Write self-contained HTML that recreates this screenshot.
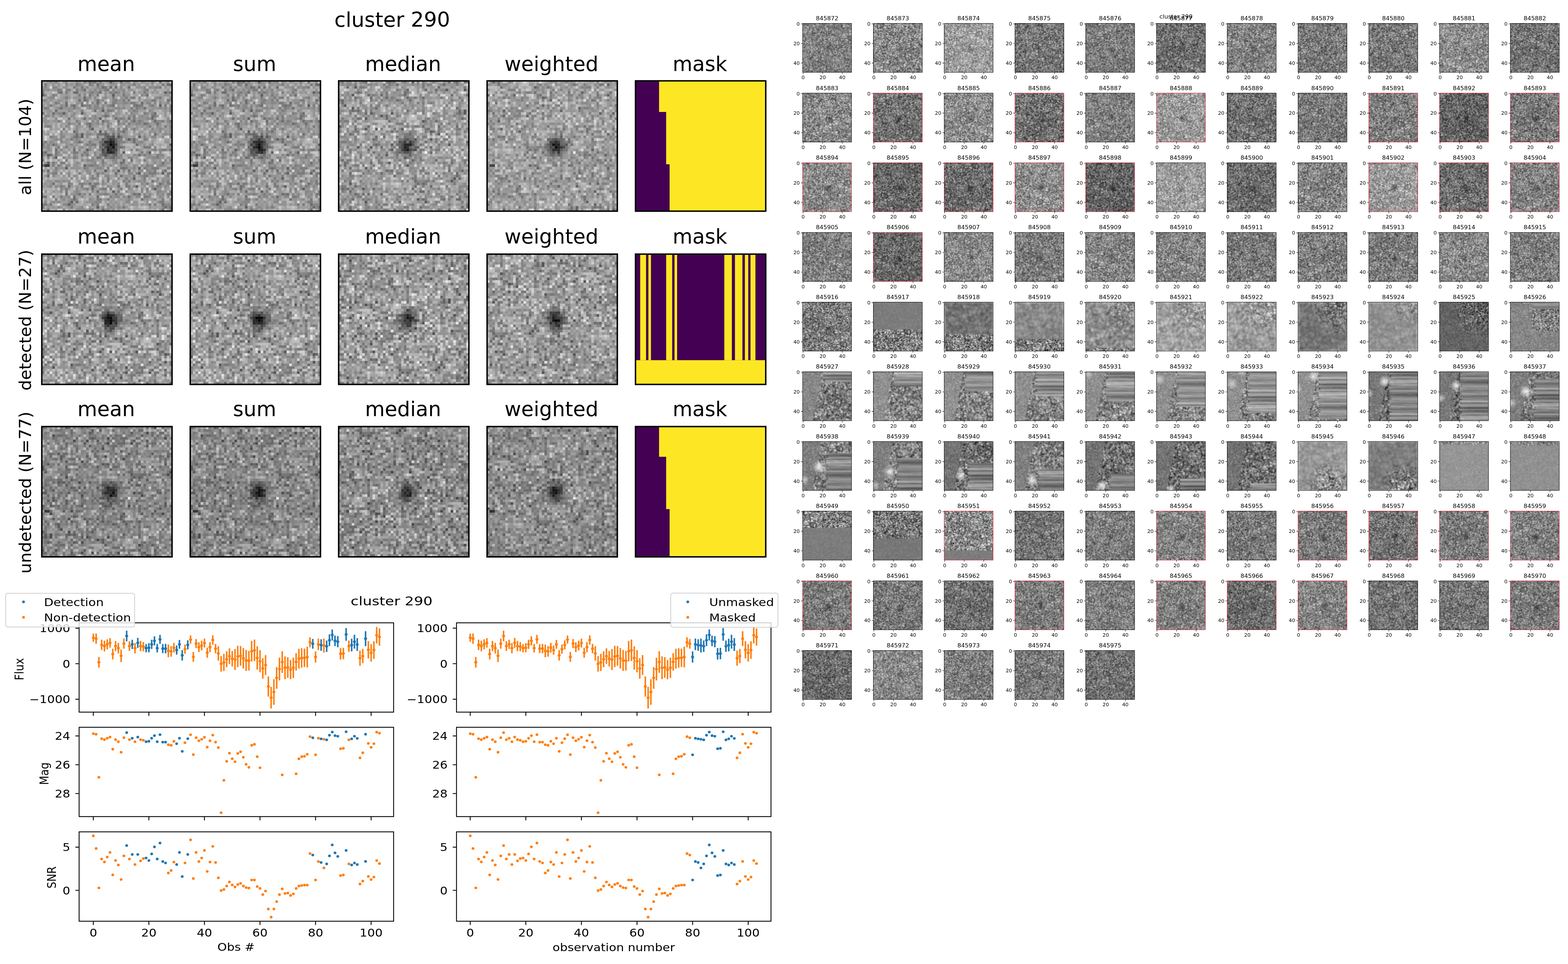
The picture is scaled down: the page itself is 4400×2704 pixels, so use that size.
<!DOCTYPE html><html><head><meta charset="utf-8"><title>cluster 290</title><style>html,body{margin:0;padding:0;background:#fff;}svg{display:block;}</style></head><body>
<svg width="4400" height="2704" viewBox="0 0 4400 2704" font-family="'DejaVu Sans','Liberation Sans',sans-serif">
<rect width="4400" height="2704" fill="#fff"/>
<defs>
<pattern id="N" width="50" height="50" patternUnits="userSpaceOnUse">
<rect width="50" height="50" fill="#898989"/>
<path fill="#0e0e0e" d="M26 0h1v1h-1zM47 4h1v1h-1zM0 5h1v1h-1zM27 5h1v1h-1zM45 9h1v1h-1zM23 11h1v1h-1zM8 12h1v1h-1zM15 12h1v1h-1zM22 14h1v1h-1zM19 18h1v1h-1zM22 19h1v1h-1zM15 20h1v1h-1zM15 21h1v1h-1zM29 21h1v1h-1zM37 21h1v1h-1zM33 22h1v1h-1zM27 23h1v1h-1zM49 24h1v1h-1zM17 26h1v1h-1zM27 27h1v1h-1zM31 27h1v1h-1zM41 27h1v1h-1zM2 28h1v1h-1zM5 29h1v1h-1zM2 31h1v1h-1zM16 32h1v1h-1zM9 33h1v1h-1zM37 33h1v1h-1zM24 34h1v1h-1zM29 34h1v1h-1zM37 35h1v1h-1zM46 35h1v1h-1zM35 37h1v1h-1zM36 40h1v1h-1zM43 41h1v1h-1zM27 42h1v1h-1zM11 46h1v1h-1zM10 47h1v1h-1zM21 48h1v1h-1z"/>
<path fill="#2c2c2c" d="M18 0h1v1h-1zM20 0h1v1h-1zM30 0h1v1h-1zM45 0h1v1h-1zM21 1h1v1h-1zM48 1h2v1h-2zM23 2h1v1h-1zM26 2h1v1h-1zM28 2h1v1h-1zM33 2h1v1h-1zM16 3h1v1h-1zM7 4h1v1h-1zM12 4h2v1h-2zM22 4h1v1h-1zM49 4h1v1h-1zM40 5h1v1h-1zM16 6h1v1h-1zM14 7h1v1h-1zM16 7h1v1h-1zM21 7h1v1h-1zM48 7h1v1h-1zM9 8h1v1h-1zM21 8h1v1h-1zM38 8h1v1h-1zM9 9h1v1h-1zM12 9h1v1h-1zM15 9h1v1h-1zM27 9h1v1h-1zM36 9h1v1h-1zM7 10h1v1h-1zM39 10h1v1h-1zM5 11h1v1h-1zM20 11h1v1h-1zM0 12h1v1h-1zM4 12h1v1h-1zM43 12h1v1h-1zM24 13h1v1h-1zM42 13h1v1h-1zM10 14h1v1h-1zM16 14h1v1h-1zM28 14h1v1h-1zM33 14h1v1h-1zM42 14h1v1h-1zM23 15h1v1h-1zM29 15h1v1h-1zM35 15h1v1h-1zM43 15h1v1h-1zM49 15h1v1h-1zM18 16h1v1h-1zM39 16h1v1h-1zM44 16h1v1h-1zM18 17h1v1h-1zM12 19h1v1h-1zM31 19h1v1h-1zM13 20h1v1h-1zM22 20h1v1h-1zM24 20h1v1h-1zM43 20h1v1h-1zM13 21h1v1h-1zM27 21h1v1h-1zM35 22h1v1h-1zM14 23h1v1h-1zM24 23h1v1h-1zM35 23h1v1h-1zM4 24h1v1h-1zM36 24h1v1h-1zM5 26h1v1h-1zM12 26h1v1h-1zM28 26h1v1h-1zM49 26h1v1h-1zM1 27h1v1h-1zM23 27h1v1h-1zM3 28h1v1h-1zM37 28h1v1h-1zM21 29h1v1h-1zM31 30h1v1h-1zM34 30h1v1h-1zM30 31h1v1h-1zM46 31h1v1h-1zM0 32h1v1h-1zM31 33h1v1h-1zM2 34h1v1h-1zM33 34h1v1h-1zM47 34h1v1h-1zM28 35h1v1h-1zM2 36h1v1h-1zM30 36h1v1h-1zM42 38h1v1h-1zM4 39h1v1h-1zM18 39h1v1h-1zM45 39h1v1h-1zM10 40h1v1h-1zM19 40h1v1h-1zM29 40h1v1h-1zM19 41h1v1h-1zM21 42h1v1h-1zM9 43h1v1h-1zM14 43h1v1h-1zM35 43h1v1h-1zM37 43h1v1h-1zM12 44h1v1h-1zM21 44h1v1h-1zM33 44h1v1h-1zM12 45h1v1h-1zM38 45h1v1h-1zM13 46h1v1h-1zM46 47h1v1h-1zM47 48h1v1h-1zM49 48h1v1h-1zM2 49h1v1h-1zM23 49h1v1h-1zM46 49h1v1h-1z"/>
<path fill="#464646" d="M5 0h1v1h-1zM16 0h1v1h-1zM19 0h1v1h-1zM22 0h1v1h-1zM42 0h1v1h-1zM1 1h1v1h-1zM13 1h1v1h-1zM18 1h1v1h-1zM35 1h1v1h-1zM46 1h1v1h-1zM12 2h1v1h-1zM15 2h1v1h-1zM24 2h1v1h-1zM45 2h1v1h-1zM6 3h1v1h-1zM10 3h1v1h-1zM13 3h1v1h-1zM24 3h2v1h-2zM40 3h1v1h-1zM0 4h1v1h-1zM6 4h1v1h-1zM9 4h1v1h-1zM19 4h1v1h-1zM26 4h1v1h-1zM28 4h1v1h-1zM35 4h1v1h-1zM39 4h1v1h-1zM4 5h1v1h-1zM14 5h1v1h-1zM18 5h1v1h-1zM21 5h1v1h-1zM31 5h1v1h-1zM9 6h1v1h-1zM27 6h1v1h-1zM32 6h1v1h-1zM34 6h2v1h-2zM45 6h1v1h-1zM17 7h1v1h-1zM28 7h1v1h-1zM31 7h1v1h-1zM33 7h1v1h-1zM42 7h2v1h-2zM5 8h1v1h-1zM15 8h1v1h-1zM24 8h1v1h-1zM27 8h1v1h-1zM34 8h2v1h-2zM3 9h1v1h-1zM11 9h1v1h-1zM16 9h1v1h-1zM18 9h1v1h-1zM26 9h1v1h-1zM35 9h1v1h-1zM37 9h2v1h-2zM42 9h1v1h-1zM47 9h1v1h-1zM49 9h1v1h-1zM1 10h1v1h-1zM12 10h1v1h-1zM23 10h1v1h-1zM34 10h1v1h-1zM36 10h1v1h-1zM49 10h1v1h-1zM15 11h1v1h-1zM25 11h2v1h-2zM35 11h1v1h-1zM49 11h1v1h-1zM39 12h1v1h-1zM25 13h1v1h-1zM35 13h1v1h-1zM43 13h1v1h-1zM30 14h1v1h-1zM35 14h1v1h-1zM6 15h1v1h-1zM13 15h1v1h-1zM37 15h1v1h-1zM46 15h1v1h-1zM10 16h1v1h-1zM14 16h1v1h-1zM17 16h1v1h-1zM29 16h1v1h-1zM33 16h1v1h-1zM40 16h1v1h-1zM2 17h1v1h-1zM25 17h1v1h-1zM41 17h1v1h-1zM47 17h1v1h-1zM49 17h1v1h-1zM8 18h1v1h-1zM29 18h1v1h-1zM32 18h1v1h-1zM35 18h1v1h-1zM24 19h1v1h-1zM21 20h1v1h-1zM23 20h1v1h-1zM27 20h1v1h-1zM29 20h1v1h-1zM49 20h1v1h-1zM3 21h1v1h-1zM12 21h1v1h-1zM21 21h1v1h-1zM30 21h1v1h-1zM49 21h1v1h-1zM11 22h1v1h-1zM23 22h1v1h-1zM39 22h1v1h-1zM1 23h1v1h-1zM18 23h1v1h-1zM25 23h1v1h-1zM0 24h1v1h-1zM17 24h1v1h-1zM19 24h2v1h-2zM23 24h1v1h-1zM6 25h1v1h-1zM9 25h1v1h-1zM39 25h3v1h-3zM23 26h1v1h-1zM36 26h1v1h-1zM43 26h1v1h-1zM46 26h2v1h-2zM0 27h1v1h-1zM5 27h1v1h-1zM12 27h2v1h-2zM16 27h1v1h-1zM33 27h1v1h-1zM38 27h1v1h-1zM0 28h1v1h-1zM5 28h1v1h-1zM15 28h1v1h-1zM17 28h1v1h-1zM23 28h2v1h-2zM39 28h1v1h-1zM44 28h1v1h-1zM2 29h1v1h-1zM8 29h1v1h-1zM12 29h1v1h-1zM22 29h1v1h-1zM27 29h1v1h-1zM44 29h1v1h-1zM0 30h1v1h-1zM9 30h1v1h-1zM23 30h1v1h-1zM39 30h1v1h-1zM49 30h1v1h-1zM4 31h1v1h-1zM7 31h2v1h-2zM23 31h1v1h-1zM31 31h1v1h-1zM4 32h1v1h-1zM6 32h1v1h-1zM18 32h2v1h-2zM40 32h1v1h-1zM5 33h1v1h-1zM16 33h1v1h-1zM25 33h1v1h-1zM30 33h1v1h-1zM32 33h1v1h-1zM39 33h1v1h-1zM42 33h3v1h-3zM48 33h1v1h-1zM20 34h1v1h-1zM43 34h1v1h-1zM4 35h2v1h-2zM14 35h1v1h-1zM21 35h1v1h-1zM36 35h1v1h-1zM41 35h3v1h-3zM48 35h2v1h-2zM21 36h1v1h-1zM35 36h1v1h-1zM39 36h2v1h-2zM48 36h1v1h-1zM19 37h1v1h-1zM25 37h1v1h-1zM32 37h1v1h-1zM39 37h1v1h-1zM25 38h1v1h-1zM31 38h1v1h-1zM33 38h1v1h-1zM48 38h1v1h-1zM10 39h1v1h-1zM15 39h1v1h-1zM20 39h2v1h-2zM32 39h1v1h-1zM40 39h1v1h-1zM48 39h1v1h-1zM7 40h1v1h-1zM15 40h1v1h-1zM20 40h1v1h-1zM32 40h2v1h-2zM44 40h1v1h-1zM9 41h1v1h-1zM17 41h1v1h-1zM23 41h2v1h-2zM26 41h1v1h-1zM30 41h1v1h-1zM40 41h1v1h-1zM9 42h1v1h-1zM29 42h1v1h-1zM49 42h1v1h-1zM18 43h1v1h-1zM24 43h1v1h-1zM28 43h1v1h-1zM36 43h1v1h-1zM48 43h2v1h-2zM0 44h2v1h-2zM4 44h1v1h-1zM7 44h1v1h-1zM26 44h1v1h-1zM39 44h2v1h-2zM5 45h1v1h-1zM21 45h2v1h-2zM25 45h1v1h-1zM46 45h1v1h-1zM45 46h2v1h-2zM0 47h2v1h-2zM3 47h1v1h-1zM19 47h1v1h-1zM21 47h1v1h-1zM25 47h1v1h-1zM41 47h1v1h-1zM43 47h1v1h-1zM0 48h1v1h-1zM11 48h1v1h-1zM31 48h1v1h-1zM8 49h1v1h-1zM18 49h2v1h-2zM49 49h1v1h-1z"/>
<path fill="#5d5d5d" d="M3 0h1v1h-1zM9 0h1v1h-1zM13 0h1v1h-1zM27 0h1v1h-1zM32 0h2v1h-2zM35 0h1v1h-1zM38 0h1v1h-1zM48 0h1v1h-1zM9 1h1v1h-1zM14 1h1v1h-1zM19 1h1v1h-1zM1 2h1v1h-1zM4 2h2v1h-2zM17 2h1v1h-1zM21 2h1v1h-1zM30 2h1v1h-1zM39 2h1v1h-1zM41 2h1v1h-1zM43 2h2v1h-2zM0 3h1v1h-1zM2 3h1v1h-1zM7 3h1v1h-1zM9 3h1v1h-1zM15 3h1v1h-1zM20 3h1v1h-1zM22 3h1v1h-1zM27 3h1v1h-1zM31 3h1v1h-1zM39 3h1v1h-1zM18 4h1v1h-1zM21 4h1v1h-1zM27 4h1v1h-1zM29 4h1v1h-1zM31 4h1v1h-1zM48 4h1v1h-1zM1 5h1v1h-1zM5 5h1v1h-1zM16 5h1v1h-1zM38 5h1v1h-1zM3 6h2v1h-2zM18 6h1v1h-1zM20 6h1v1h-1zM24 6h1v1h-1zM37 6h1v1h-1zM44 6h1v1h-1zM49 6h1v1h-1zM0 7h2v1h-2zM23 7h1v1h-1zM27 7h1v1h-1zM49 7h1v1h-1zM6 8h1v1h-1zM19 8h1v1h-1zM28 8h1v1h-1zM31 8h2v1h-2zM40 8h2v1h-2zM43 8h1v1h-1zM45 8h1v1h-1zM48 8h1v1h-1zM7 9h1v1h-1zM17 9h1v1h-1zM20 9h2v1h-2zM23 9h1v1h-1zM25 9h1v1h-1zM41 9h1v1h-1zM2 10h1v1h-1zM6 10h1v1h-1zM18 10h1v1h-1zM20 10h2v1h-2zM28 10h2v1h-2zM31 10h1v1h-1zM37 10h1v1h-1zM45 10h1v1h-1zM47 10h1v1h-1zM10 11h1v1h-1zM27 11h1v1h-1zM36 11h1v1h-1zM41 11h1v1h-1zM6 12h2v1h-2zM12 12h1v1h-1zM24 12h1v1h-1zM34 12h1v1h-1zM40 12h1v1h-1zM42 12h1v1h-1zM1 13h2v1h-2zM4 13h1v1h-1zM7 13h1v1h-1zM11 13h1v1h-1zM20 13h1v1h-1zM23 13h1v1h-1zM27 13h1v1h-1zM33 13h1v1h-1zM38 13h1v1h-1zM5 14h1v1h-1zM18 14h1v1h-1zM20 14h1v1h-1zM29 14h1v1h-1zM31 14h1v1h-1zM40 14h2v1h-2zM48 14h1v1h-1zM19 15h1v1h-1zM21 15h1v1h-1zM24 15h2v1h-2zM32 15h1v1h-1zM34 15h1v1h-1zM38 15h1v1h-1zM44 15h2v1h-2zM48 15h1v1h-1zM21 16h1v1h-1zM23 16h1v1h-1zM25 16h1v1h-1zM31 16h1v1h-1zM36 16h2v1h-2zM49 16h1v1h-1zM1 17h1v1h-1zM3 17h1v1h-1zM9 17h1v1h-1zM13 17h1v1h-1zM32 17h1v1h-1zM44 17h1v1h-1zM13 18h1v1h-1zM18 18h1v1h-1zM26 18h1v1h-1zM31 18h1v1h-1zM42 18h1v1h-1zM45 18h1v1h-1zM49 18h1v1h-1zM7 19h1v1h-1zM13 19h1v1h-1zM27 19h1v1h-1zM29 19h2v1h-2zM45 19h1v1h-1zM49 19h1v1h-1zM7 20h1v1h-1zM17 20h2v1h-2zM25 20h1v1h-1zM37 20h1v1h-1zM47 20h1v1h-1zM4 21h1v1h-1zM7 21h2v1h-2zM14 21h1v1h-1zM17 21h1v1h-1zM24 21h2v1h-2zM39 21h1v1h-1zM42 21h2v1h-2zM46 21h1v1h-1zM5 22h1v1h-1zM7 22h1v1h-1zM13 22h1v1h-1zM26 22h1v1h-1zM28 22h1v1h-1zM30 22h1v1h-1zM32 22h1v1h-1zM34 22h1v1h-1zM40 22h1v1h-1zM0 23h1v1h-1zM3 23h1v1h-1zM7 23h1v1h-1zM13 23h1v1h-1zM15 23h1v1h-1zM22 23h1v1h-1zM31 23h1v1h-1zM37 23h2v1h-2zM2 24h1v1h-1zM5 24h1v1h-1zM11 24h1v1h-1zM18 24h1v1h-1zM27 24h1v1h-1zM42 24h1v1h-1zM0 25h1v1h-1zM2 25h1v1h-1zM12 25h1v1h-1zM15 25h1v1h-1zM18 25h1v1h-1zM22 25h1v1h-1zM30 25h2v1h-2zM43 25h1v1h-1zM2 26h1v1h-1zM7 26h1v1h-1zM14 26h1v1h-1zM18 26h1v1h-1zM34 26h1v1h-1zM42 26h1v1h-1zM45 26h1v1h-1zM6 27h1v1h-1zM17 27h1v1h-1zM20 27h1v1h-1zM26 27h1v1h-1zM40 27h1v1h-1zM45 27h1v1h-1zM12 28h1v1h-1zM20 28h1v1h-1zM22 28h1v1h-1zM28 28h1v1h-1zM35 28h1v1h-1zM41 28h1v1h-1zM45 28h2v1h-2zM4 29h1v1h-1zM13 29h1v1h-1zM19 29h1v1h-1zM24 29h1v1h-1zM29 29h1v1h-1zM33 29h2v1h-2zM42 29h2v1h-2zM15 30h1v1h-1zM17 30h3v1h-3zM47 30h1v1h-1zM13 31h1v1h-1zM20 31h1v1h-1zM28 31h1v1h-1zM43 31h1v1h-1zM9 32h2v1h-2zM17 32h1v1h-1zM20 32h2v1h-2zM23 32h1v1h-1zM26 32h1v1h-1zM30 32h1v1h-1zM32 32h1v1h-1zM35 32h1v1h-1zM38 32h1v1h-1zM41 32h2v1h-2zM45 32h2v1h-2zM17 33h1v1h-1zM21 33h2v1h-2zM35 33h1v1h-1zM40 33h1v1h-1zM49 33h1v1h-1zM0 34h1v1h-1zM5 34h1v1h-1zM17 34h1v1h-1zM27 34h1v1h-1zM31 34h1v1h-1zM37 34h2v1h-2zM40 34h2v1h-2zM46 34h1v1h-1zM2 35h1v1h-1zM7 35h1v1h-1zM10 35h1v1h-1zM18 35h1v1h-1zM23 35h1v1h-1zM33 35h2v1h-2zM39 35h1v1h-1zM4 36h1v1h-1zM10 36h1v1h-1zM12 36h1v1h-1zM19 36h1v1h-1zM24 36h2v1h-2zM28 36h1v1h-1zM38 36h1v1h-1zM42 36h1v1h-1zM11 37h1v1h-1zM20 37h1v1h-1zM29 37h1v1h-1zM44 37h1v1h-1zM5 38h2v1h-2zM8 38h1v1h-1zM10 38h1v1h-1zM23 38h1v1h-1zM37 38h1v1h-1zM39 38h1v1h-1zM46 38h1v1h-1zM11 39h1v1h-1zM14 39h1v1h-1zM16 39h1v1h-1zM23 39h1v1h-1zM29 39h1v1h-1zM38 39h1v1h-1zM46 39h1v1h-1zM49 39h1v1h-1zM3 40h1v1h-1zM5 40h1v1h-1zM8 40h1v1h-1zM25 40h1v1h-1zM35 40h1v1h-1zM42 40h1v1h-1zM45 40h1v1h-1zM47 40h1v1h-1zM7 41h1v1h-1zM13 41h1v1h-1zM16 41h1v1h-1zM22 41h1v1h-1zM33 41h1v1h-1zM38 41h1v1h-1zM42 41h1v1h-1zM7 42h1v1h-1zM13 42h1v1h-1zM19 42h1v1h-1zM32 42h1v1h-1zM38 42h1v1h-1zM40 42h1v1h-1zM44 42h2v1h-2zM13 43h1v1h-1zM16 43h1v1h-1zM22 43h2v1h-2zM25 43h1v1h-1zM30 43h1v1h-1zM39 43h1v1h-1zM41 43h1v1h-1zM44 43h1v1h-1zM46 43h1v1h-1zM10 44h1v1h-1zM15 44h1v1h-1zM28 44h2v1h-2zM31 44h1v1h-1zM36 44h2v1h-2zM41 44h1v1h-1zM45 44h1v1h-1zM48 44h1v1h-1zM8 45h1v1h-1zM11 45h1v1h-1zM13 45h1v1h-1zM18 45h1v1h-1zM33 45h1v1h-1zM43 45h1v1h-1zM49 45h1v1h-1zM1 46h1v1h-1zM4 46h1v1h-1zM6 46h1v1h-1zM10 46h1v1h-1zM20 46h3v1h-3zM32 46h2v1h-2zM8 47h2v1h-2zM11 47h1v1h-1zM47 47h3v1h-3zM6 48h1v1h-1zM15 48h1v1h-1zM23 48h1v1h-1zM26 48h1v1h-1zM29 48h1v1h-1zM46 48h1v1h-1zM48 48h1v1h-1zM13 49h4v1h-4zM24 49h2v1h-2zM27 49h1v1h-1z"/>
<path fill="#737373" d="M2 0h1v1h-1zM4 0h1v1h-1zM8 0h1v1h-1zM14 0h1v1h-1zM17 0h1v1h-1zM21 0h1v1h-1zM25 0h1v1h-1zM28 0h1v1h-1zM31 0h1v1h-1zM36 0h1v1h-1zM39 0h1v1h-1zM4 1h1v1h-1zM6 1h1v1h-1zM11 1h1v1h-1zM15 1h1v1h-1zM22 1h2v1h-2zM26 1h3v1h-3zM30 1h2v1h-2zM33 1h2v1h-2zM37 1h1v1h-1zM40 1h1v1h-1zM42 1h1v1h-1zM0 2h1v1h-1zM8 2h2v1h-2zM13 2h1v1h-1zM22 2h1v1h-1zM36 2h3v1h-3zM42 2h1v1h-1zM47 2h1v1h-1zM1 3h1v1h-1zM4 3h2v1h-2zM14 3h1v1h-1zM18 3h1v1h-1zM23 3h1v1h-1zM29 3h2v1h-2zM33 3h2v1h-2zM43 3h1v1h-1zM48 3h1v1h-1zM16 4h1v1h-1zM20 4h1v1h-1zM24 4h1v1h-1zM37 4h1v1h-1zM40 4h1v1h-1zM42 4h1v1h-1zM44 4h1v1h-1zM9 5h1v1h-1zM19 5h1v1h-1zM24 5h1v1h-1zM29 5h1v1h-1zM32 5h2v1h-2zM39 5h1v1h-1zM47 5h2v1h-2zM2 6h1v1h-1zM8 6h1v1h-1zM10 6h1v1h-1zM12 6h3v1h-3zM17 6h1v1h-1zM23 6h1v1h-1zM30 6h2v1h-2zM43 6h1v1h-1zM3 7h1v1h-1zM6 7h2v1h-2zM9 7h1v1h-1zM20 7h1v1h-1zM22 7h1v1h-1zM29 7h2v1h-2zM37 7h1v1h-1zM39 7h3v1h-3zM45 7h1v1h-1zM2 8h1v1h-1zM13 8h2v1h-2zM17 8h1v1h-1zM22 8h1v1h-1zM29 8h2v1h-2zM33 8h1v1h-1zM36 8h1v1h-1zM47 8h1v1h-1zM0 9h1v1h-1zM2 9h1v1h-1zM4 9h1v1h-1zM8 9h1v1h-1zM13 9h1v1h-1zM29 9h1v1h-1zM31 9h1v1h-1zM43 9h1v1h-1zM0 10h1v1h-1zM5 10h1v1h-1zM8 10h4v1h-4zM13 10h2v1h-2zM17 10h1v1h-1zM19 10h1v1h-1zM22 10h1v1h-1zM25 10h1v1h-1zM27 10h1v1h-1zM30 10h1v1h-1zM38 10h1v1h-1zM42 10h3v1h-3zM46 10h1v1h-1zM2 11h2v1h-2zM11 11h1v1h-1zM22 11h1v1h-1zM29 11h1v1h-1zM33 11h2v1h-2zM42 11h1v1h-1zM47 11h1v1h-1zM2 12h1v1h-1zM5 12h1v1h-1zM9 12h1v1h-1zM16 12h1v1h-1zM25 12h1v1h-1zM28 12h2v1h-2zM32 12h1v1h-1zM35 12h2v1h-2zM47 12h1v1h-1zM49 12h1v1h-1zM9 13h1v1h-1zM12 13h1v1h-1zM19 13h1v1h-1zM28 13h1v1h-1zM31 13h1v1h-1zM34 13h1v1h-1zM37 13h1v1h-1zM39 13h2v1h-2zM44 13h1v1h-1zM47 13h1v1h-1zM0 14h2v1h-2zM12 14h1v1h-1zM15 14h1v1h-1zM19 14h1v1h-1zM21 14h1v1h-1zM37 14h3v1h-3zM43 14h1v1h-1zM0 15h3v1h-3zM4 15h2v1h-2zM7 15h1v1h-1zM9 15h2v1h-2zM14 15h1v1h-1zM31 15h1v1h-1zM36 15h1v1h-1zM42 15h1v1h-1zM1 16h1v1h-1zM11 16h2v1h-2zM19 16h2v1h-2zM26 16h1v1h-1zM30 16h1v1h-1zM34 16h2v1h-2zM38 16h1v1h-1zM41 16h1v1h-1zM43 16h1v1h-1zM45 16h1v1h-1zM48 16h1v1h-1zM7 17h1v1h-1zM10 17h1v1h-1zM14 17h1v1h-1zM17 17h1v1h-1zM19 17h1v1h-1zM33 17h1v1h-1zM36 17h1v1h-1zM38 17h1v1h-1zM40 17h1v1h-1zM45 17h1v1h-1zM3 18h1v1h-1zM10 18h1v1h-1zM25 18h1v1h-1zM27 18h1v1h-1zM34 18h1v1h-1zM36 18h1v1h-1zM39 18h1v1h-1zM44 18h1v1h-1zM46 18h1v1h-1zM0 19h1v1h-1zM9 19h1v1h-1zM17 19h1v1h-1zM20 19h1v1h-1zM26 19h1v1h-1zM32 19h1v1h-1zM35 19h1v1h-1zM38 19h1v1h-1zM41 19h3v1h-3zM47 19h1v1h-1zM2 20h1v1h-1zM8 20h1v1h-1zM12 20h1v1h-1zM14 20h1v1h-1zM19 20h1v1h-1zM31 20h2v1h-2zM39 20h1v1h-1zM41 20h1v1h-1zM44 20h1v1h-1zM46 20h1v1h-1zM48 20h1v1h-1zM5 21h1v1h-1zM11 21h1v1h-1zM26 21h1v1h-1zM31 21h2v1h-2zM35 21h1v1h-1zM4 22h1v1h-1zM6 22h1v1h-1zM9 22h2v1h-2zM12 22h1v1h-1zM14 22h1v1h-1zM20 22h2v1h-2zM27 22h1v1h-1zM36 22h1v1h-1zM4 23h1v1h-1zM8 23h2v1h-2zM12 23h1v1h-1zM19 23h1v1h-1zM23 23h1v1h-1zM28 23h1v1h-1zM30 23h1v1h-1zM32 23h1v1h-1zM34 23h1v1h-1zM36 23h1v1h-1zM42 23h1v1h-1zM47 23h2v1h-2zM3 24h1v1h-1zM9 24h2v1h-2zM13 24h1v1h-1zM16 24h1v1h-1zM26 24h1v1h-1zM28 24h1v1h-1zM37 24h1v1h-1zM39 24h1v1h-1zM41 24h1v1h-1zM1 25h1v1h-1zM5 25h1v1h-1zM8 25h1v1h-1zM14 25h1v1h-1zM20 25h1v1h-1zM24 25h2v1h-2zM48 25h2v1h-2zM3 26h1v1h-1zM10 26h1v1h-1zM27 26h1v1h-1zM37 26h1v1h-1zM48 26h1v1h-1zM8 27h2v1h-2zM11 27h1v1h-1zM24 27h1v1h-1zM28 27h1v1h-1zM1 28h1v1h-1zM6 28h2v1h-2zM10 28h1v1h-1zM13 28h1v1h-1zM16 28h1v1h-1zM30 28h1v1h-1zM36 28h1v1h-1zM38 28h1v1h-1zM40 28h1v1h-1zM0 29h1v1h-1zM10 29h1v1h-1zM26 29h1v1h-1zM28 29h1v1h-1zM30 29h1v1h-1zM36 29h1v1h-1zM40 29h2v1h-2zM45 29h2v1h-2zM48 29h2v1h-2zM6 30h1v1h-1zM20 30h1v1h-1zM27 30h2v1h-2zM37 30h1v1h-1zM42 30h2v1h-2zM45 30h1v1h-1zM1 31h1v1h-1zM5 31h1v1h-1zM14 31h1v1h-1zM19 31h1v1h-1zM24 31h1v1h-1zM27 31h1v1h-1zM33 31h1v1h-1zM40 31h1v1h-1zM45 31h1v1h-1zM47 31h3v1h-3zM1 32h2v1h-2zM7 32h1v1h-1zM12 32h2v1h-2zM31 32h1v1h-1zM36 32h1v1h-1zM44 32h1v1h-1zM47 32h1v1h-1zM6 33h3v1h-3zM11 33h4v1h-4zM20 33h1v1h-1zM23 33h1v1h-1zM28 33h1v1h-1zM33 33h2v1h-2zM41 33h1v1h-1zM4 34h1v1h-1zM13 34h1v1h-1zM18 34h1v1h-1zM25 34h1v1h-1zM35 34h1v1h-1zM42 34h1v1h-1zM3 35h1v1h-1zM17 35h1v1h-1zM22 35h1v1h-1zM40 35h1v1h-1zM44 35h1v1h-1zM1 36h1v1h-1zM8 36h1v1h-1zM13 36h1v1h-1zM31 36h3v1h-3zM37 36h1v1h-1zM47 36h1v1h-1zM13 37h1v1h-1zM15 37h2v1h-2zM18 37h1v1h-1zM21 37h1v1h-1zM34 37h1v1h-1zM38 37h1v1h-1zM46 37h3v1h-3zM2 38h2v1h-2zM7 38h1v1h-1zM9 38h1v1h-1zM14 38h1v1h-1zM17 38h1v1h-1zM27 38h2v1h-2zM32 38h1v1h-1zM35 38h2v1h-2zM38 38h1v1h-1zM43 38h2v1h-2zM47 38h1v1h-1zM1 39h1v1h-1zM3 39h1v1h-1zM7 39h1v1h-1zM17 39h1v1h-1zM24 39h1v1h-1zM27 39h1v1h-1zM39 39h1v1h-1zM0 40h1v1h-1zM2 40h1v1h-1zM6 40h1v1h-1zM11 40h1v1h-1zM13 40h1v1h-1zM26 40h1v1h-1zM39 40h1v1h-1zM48 40h1v1h-1zM8 41h1v1h-1zM10 41h1v1h-1zM15 41h1v1h-1zM29 41h1v1h-1zM34 41h1v1h-1zM44 41h2v1h-2zM47 41h1v1h-1zM1 42h1v1h-1zM4 42h1v1h-1zM12 42h1v1h-1zM14 42h1v1h-1zM24 42h1v1h-1zM34 42h1v1h-1zM46 42h2v1h-2zM11 43h2v1h-2zM15 43h1v1h-1zM21 43h1v1h-1zM27 43h1v1h-1zM29 43h1v1h-1zM34 43h1v1h-1zM45 43h1v1h-1zM8 44h2v1h-2zM27 44h1v1h-1zM32 44h1v1h-1zM34 44h1v1h-1zM46 44h1v1h-1zM7 45h1v1h-1zM10 45h1v1h-1zM19 45h1v1h-1zM24 45h1v1h-1zM27 45h1v1h-1zM30 45h1v1h-1zM32 45h1v1h-1zM34 45h1v1h-1zM39 45h2v1h-2zM42 45h1v1h-1zM3 46h1v1h-1zM5 46h1v1h-1zM17 46h3v1h-3zM26 46h1v1h-1zM28 46h1v1h-1zM35 46h2v1h-2zM40 46h1v1h-1zM44 46h1v1h-1zM49 46h1v1h-1zM2 47h1v1h-1zM12 47h1v1h-1zM20 47h1v1h-1zM27 47h1v1h-1zM29 47h1v1h-1zM31 47h1v1h-1zM34 47h3v1h-3zM38 47h1v1h-1zM40 47h1v1h-1zM2 48h1v1h-1zM4 48h1v1h-1zM7 48h1v1h-1zM10 48h1v1h-1zM14 48h1v1h-1zM18 48h1v1h-1zM25 48h1v1h-1zM27 48h1v1h-1zM30 48h1v1h-1zM32 48h1v1h-1zM41 48h1v1h-1zM17 49h1v1h-1zM21 49h1v1h-1zM29 49h1v1h-1zM33 49h1v1h-1zM45 49h1v1h-1z"/>
<path fill="#a0a0a0" d="M10 0h1v1h-1zM15 0h1v1h-1zM37 0h1v1h-1zM46 0h1v1h-1zM0 1h1v1h-1zM3 1h1v1h-1zM5 1h1v1h-1zM7 1h1v1h-1zM16 1h1v1h-1zM20 1h1v1h-1zM25 1h1v1h-1zM39 1h1v1h-1zM41 1h1v1h-1zM45 1h1v1h-1zM7 2h1v1h-1zM10 2h2v1h-2zM18 2h1v1h-1zM27 2h1v1h-1zM29 2h1v1h-1zM31 2h1v1h-1zM48 2h1v1h-1zM17 3h1v1h-1zM32 3h1v1h-1zM37 3h1v1h-1zM41 3h2v1h-2zM44 3h4v1h-4zM1 4h3v1h-3zM8 4h1v1h-1zM11 4h1v1h-1zM23 4h1v1h-1zM36 4h1v1h-1zM41 4h1v1h-1zM11 5h2v1h-2zM15 5h1v1h-1zM25 5h1v1h-1zM42 5h3v1h-3zM1 6h1v1h-1zM6 6h1v1h-1zM11 6h1v1h-1zM19 6h1v1h-1zM21 6h1v1h-1zM41 6h1v1h-1zM48 6h1v1h-1zM10 7h1v1h-1zM12 7h1v1h-1zM18 7h2v1h-2zM24 7h1v1h-1zM38 7h1v1h-1zM44 7h1v1h-1zM7 8h1v1h-1zM11 8h1v1h-1zM37 8h1v1h-1zM42 8h1v1h-1zM49 8h1v1h-1zM1 9h1v1h-1zM6 9h1v1h-1zM10 9h1v1h-1zM22 9h1v1h-1zM39 9h2v1h-2zM46 9h1v1h-1zM4 10h1v1h-1zM24 10h1v1h-1zM4 11h1v1h-1zM12 11h1v1h-1zM16 11h1v1h-1zM21 11h1v1h-1zM43 11h2v1h-2zM1 12h1v1h-1zM10 12h1v1h-1zM14 12h1v1h-1zM17 12h2v1h-2zM23 12h1v1h-1zM26 12h1v1h-1zM37 12h1v1h-1zM45 12h2v1h-2zM5 13h1v1h-1zM10 13h1v1h-1zM26 13h1v1h-1zM30 13h1v1h-1zM32 13h1v1h-1zM41 13h1v1h-1zM46 13h1v1h-1zM48 13h1v1h-1zM3 14h2v1h-2zM8 14h2v1h-2zM11 14h1v1h-1zM14 14h1v1h-1zM47 14h1v1h-1zM11 15h2v1h-2zM15 15h1v1h-1zM26 15h2v1h-2zM30 15h1v1h-1zM33 15h1v1h-1zM0 16h1v1h-1zM4 16h1v1h-1zM24 16h1v1h-1zM32 16h1v1h-1zM46 16h2v1h-2zM0 17h1v1h-1zM8 17h1v1h-1zM12 17h1v1h-1zM24 17h1v1h-1zM26 17h1v1h-1zM28 17h1v1h-1zM35 17h1v1h-1zM43 17h1v1h-1zM46 17h1v1h-1zM4 18h1v1h-1zM15 18h1v1h-1zM17 18h1v1h-1zM20 18h2v1h-2zM37 18h1v1h-1zM41 18h1v1h-1zM3 19h1v1h-1zM5 19h1v1h-1zM8 19h1v1h-1zM14 19h3v1h-3zM19 19h1v1h-1zM23 19h1v1h-1zM25 19h1v1h-1zM33 19h1v1h-1zM39 19h1v1h-1zM6 20h1v1h-1zM28 20h1v1h-1zM33 20h1v1h-1zM38 20h1v1h-1zM40 20h1v1h-1zM45 20h1v1h-1zM9 21h2v1h-2zM16 21h1v1h-1zM18 21h1v1h-1zM22 21h1v1h-1zM44 21h1v1h-1zM2 22h1v1h-1zM8 22h1v1h-1zM17 22h1v1h-1zM22 22h1v1h-1zM38 22h1v1h-1zM49 22h1v1h-1zM16 23h1v1h-1zM21 23h1v1h-1zM40 23h2v1h-2zM43 23h1v1h-1zM49 23h1v1h-1zM7 24h1v1h-1zM14 24h1v1h-1zM24 24h1v1h-1zM30 24h1v1h-1zM35 24h1v1h-1zM40 24h1v1h-1zM44 24h1v1h-1zM46 24h1v1h-1zM13 25h1v1h-1zM17 25h1v1h-1zM26 25h2v1h-2zM32 25h2v1h-2zM45 25h1v1h-1zM9 26h1v1h-1zM11 26h1v1h-1zM15 26h1v1h-1zM29 26h1v1h-1zM31 26h1v1h-1zM33 26h1v1h-1zM39 26h1v1h-1zM7 27h1v1h-1zM18 27h2v1h-2zM21 27h2v1h-2zM29 27h1v1h-1zM34 27h1v1h-1zM39 27h1v1h-1zM43 27h1v1h-1zM14 28h1v1h-1zM27 28h1v1h-1zM29 28h1v1h-1zM31 28h1v1h-1zM34 28h1v1h-1zM47 28h1v1h-1zM49 28h1v1h-1zM14 29h1v1h-1zM25 29h1v1h-1zM31 29h2v1h-2zM39 29h1v1h-1zM47 29h1v1h-1zM2 30h1v1h-1zM4 30h1v1h-1zM7 30h1v1h-1zM13 30h1v1h-1zM26 30h1v1h-1zM29 30h1v1h-1zM32 30h1v1h-1zM48 30h1v1h-1zM0 31h1v1h-1zM16 31h1v1h-1zM25 31h2v1h-2zM32 31h1v1h-1zM36 31h1v1h-1zM39 31h1v1h-1zM41 31h1v1h-1zM5 32h1v1h-1zM34 32h1v1h-1zM48 32h1v1h-1zM4 33h1v1h-1zM10 33h1v1h-1zM27 33h1v1h-1zM29 33h1v1h-1zM38 33h1v1h-1zM46 33h2v1h-2zM19 34h1v1h-1zM21 34h1v1h-1zM26 34h1v1h-1zM30 34h1v1h-1zM32 34h1v1h-1zM34 34h1v1h-1zM36 34h1v1h-1zM0 35h1v1h-1zM11 35h1v1h-1zM13 35h1v1h-1zM27 35h1v1h-1zM30 35h1v1h-1zM35 35h1v1h-1zM47 35h1v1h-1zM0 36h1v1h-1zM20 36h1v1h-1zM29 36h1v1h-1zM36 36h1v1h-1zM4 37h3v1h-3zM24 37h1v1h-1zM27 37h1v1h-1zM30 37h1v1h-1zM36 37h2v1h-2zM45 37h1v1h-1zM24 38h1v1h-1zM29 38h1v1h-1zM40 38h1v1h-1zM45 38h1v1h-1zM49 38h1v1h-1zM5 39h1v1h-1zM22 39h1v1h-1zM25 39h2v1h-2zM31 39h1v1h-1zM34 39h2v1h-2zM4 40h1v1h-1zM9 40h1v1h-1zM12 40h1v1h-1zM21 40h1v1h-1zM30 40h1v1h-1zM37 40h1v1h-1zM0 41h4v1h-4zM11 41h1v1h-1zM28 41h1v1h-1zM39 41h1v1h-1zM49 41h1v1h-1zM3 42h1v1h-1zM11 42h1v1h-1zM15 42h2v1h-2zM22 42h1v1h-1zM26 42h1v1h-1zM36 42h1v1h-1zM43 42h1v1h-1zM1 43h2v1h-2zM5 43h3v1h-3zM17 43h1v1h-1zM33 43h1v1h-1zM38 43h1v1h-1zM47 43h1v1h-1zM2 44h1v1h-1zM5 44h1v1h-1zM17 44h1v1h-1zM20 44h1v1h-1zM30 44h1v1h-1zM2 45h2v1h-2zM16 45h1v1h-1zM35 45h2v1h-2zM44 45h1v1h-1zM0 46h1v1h-1zM25 46h1v1h-1zM30 46h1v1h-1zM39 46h1v1h-1zM43 46h1v1h-1zM4 47h1v1h-1zM7 47h1v1h-1zM13 47h3v1h-3zM17 47h1v1h-1zM24 47h1v1h-1zM30 47h1v1h-1zM32 47h1v1h-1zM37 47h1v1h-1zM42 47h1v1h-1zM44 47h1v1h-1zM1 48h1v1h-1zM8 48h1v1h-1zM16 48h1v1h-1zM33 48h1v1h-1zM35 48h1v1h-1zM3 49h2v1h-2zM12 49h1v1h-1zM20 49h1v1h-1zM28 49h1v1h-1zM32 49h1v1h-1zM38 49h1v1h-1zM40 49h1v1h-1zM42 49h1v1h-1z"/>
<path fill="#b8b8b8" d="M7 0h1v1h-1zM34 0h1v1h-1zM44 0h1v1h-1zM8 1h1v1h-1zM17 1h1v1h-1zM24 1h1v1h-1zM38 1h1v1h-1zM43 1h1v1h-1zM34 2h2v1h-2zM40 2h1v1h-1zM46 2h1v1h-1zM12 3h1v1h-1zM26 3h1v1h-1zM36 3h1v1h-1zM49 3h1v1h-1zM5 4h1v1h-1zM45 4h1v1h-1zM2 5h1v1h-1zM6 5h1v1h-1zM17 5h1v1h-1zM23 5h1v1h-1zM34 5h1v1h-1zM0 6h1v1h-1zM36 6h1v1h-1zM38 6h1v1h-1zM47 6h1v1h-1zM34 7h3v1h-3zM47 7h1v1h-1zM3 8h1v1h-1zM10 8h1v1h-1zM12 8h1v1h-1zM23 8h1v1h-1zM25 8h1v1h-1zM44 8h1v1h-1zM14 9h1v1h-1zM44 9h1v1h-1zM48 9h1v1h-1zM3 10h1v1h-1zM15 10h1v1h-1zM17 11h2v1h-2zM28 11h1v1h-1zM40 11h1v1h-1zM45 11h1v1h-1zM20 12h1v1h-1zM31 12h1v1h-1zM33 12h1v1h-1zM38 12h1v1h-1zM44 12h1v1h-1zM48 12h1v1h-1zM0 13h1v1h-1zM13 13h1v1h-1zM36 13h1v1h-1zM2 14h1v1h-1zM23 14h1v1h-1zM25 14h1v1h-1zM46 14h1v1h-1zM49 14h1v1h-1zM22 15h1v1h-1zM28 15h1v1h-1zM6 16h1v1h-1zM27 16h1v1h-1zM4 17h1v1h-1zM6 17h1v1h-1zM16 17h1v1h-1zM22 17h1v1h-1zM0 18h1v1h-1zM9 18h1v1h-1zM11 18h1v1h-1zM24 18h1v1h-1zM28 18h1v1h-1zM30 18h1v1h-1zM33 18h1v1h-1zM38 18h1v1h-1zM1 19h1v1h-1zM4 19h1v1h-1zM21 19h1v1h-1zM34 19h1v1h-1zM36 19h1v1h-1zM40 19h1v1h-1zM46 19h1v1h-1zM2 21h1v1h-1zM6 21h1v1h-1zM20 21h1v1h-1zM23 21h1v1h-1zM28 21h1v1h-1zM36 21h1v1h-1zM15 22h1v1h-1zM24 22h1v1h-1zM31 22h1v1h-1zM37 22h1v1h-1zM44 22h1v1h-1zM46 22h1v1h-1zM11 23h1v1h-1zM44 23h3v1h-3zM8 24h1v1h-1zM21 24h1v1h-1zM25 24h1v1h-1zM31 24h4v1h-4zM43 24h1v1h-1zM47 24h1v1h-1zM4 25h1v1h-1zM23 25h1v1h-1zM28 25h1v1h-1zM34 25h1v1h-1zM36 25h2v1h-2zM44 25h1v1h-1zM47 25h1v1h-1zM13 26h1v1h-1zM24 26h1v1h-1zM32 26h1v1h-1zM35 26h1v1h-1zM35 27h2v1h-2zM46 27h1v1h-1zM9 28h1v1h-1zM11 28h1v1h-1zM25 28h1v1h-1zM1 29h1v1h-1zM3 29h1v1h-1zM16 29h1v1h-1zM23 29h1v1h-1zM37 29h1v1h-1zM5 30h1v1h-1zM10 30h1v1h-1zM14 30h1v1h-1zM25 30h1v1h-1zM35 30h1v1h-1zM38 30h1v1h-1zM41 30h1v1h-1zM9 31h1v1h-1zM15 31h1v1h-1zM35 31h1v1h-1zM8 32h1v1h-1zM11 32h1v1h-1zM15 32h1v1h-1zM37 32h1v1h-1zM2 33h1v1h-1zM24 33h1v1h-1zM3 34h1v1h-1zM7 34h1v1h-1zM9 34h1v1h-1zM11 34h2v1h-2zM14 34h1v1h-1zM44 34h1v1h-1zM48 34h2v1h-2zM1 35h1v1h-1zM6 35h1v1h-1zM16 35h1v1h-1zM19 35h1v1h-1zM26 35h1v1h-1zM32 35h1v1h-1zM38 35h1v1h-1zM7 36h1v1h-1zM9 36h1v1h-1zM11 36h1v1h-1zM22 36h2v1h-2zM44 36h2v1h-2zM49 36h1v1h-1zM1 37h1v1h-1zM3 37h1v1h-1zM10 37h1v1h-1zM14 37h1v1h-1zM40 37h1v1h-1zM42 37h2v1h-2zM0 38h1v1h-1zM12 38h1v1h-1zM20 38h1v1h-1zM30 38h1v1h-1zM41 38h1v1h-1zM8 39h2v1h-2zM13 39h1v1h-1zM37 39h1v1h-1zM16 40h2v1h-2zM24 40h1v1h-1zM31 40h1v1h-1zM4 41h1v1h-1zM12 41h1v1h-1zM31 41h1v1h-1zM35 41h1v1h-1zM2 42h1v1h-1zM8 42h1v1h-1zM10 42h1v1h-1zM18 42h1v1h-1zM25 42h1v1h-1zM30 42h1v1h-1zM37 42h1v1h-1zM42 42h1v1h-1zM48 42h1v1h-1zM4 43h1v1h-1zM10 43h1v1h-1zM19 43h1v1h-1zM43 43h1v1h-1zM22 44h1v1h-1zM24 44h2v1h-2zM42 44h1v1h-1zM47 44h1v1h-1zM49 44h1v1h-1zM0 45h1v1h-1zM6 45h1v1h-1zM14 45h1v1h-1zM17 45h1v1h-1zM28 45h1v1h-1zM37 45h1v1h-1zM47 45h2v1h-2zM2 46h1v1h-1zM15 46h1v1h-1zM23 46h1v1h-1zM37 46h2v1h-2zM5 47h1v1h-1zM18 47h1v1h-1zM23 47h1v1h-1zM24 48h1v1h-1zM37 48h2v1h-2zM40 48h1v1h-1zM9 49h1v1h-1zM34 49h1v1h-1zM39 49h1v1h-1zM44 49h1v1h-1zM47 49h1v1h-1z"/>
<path fill="#d2d2d2" d="M49 0h1v1h-1zM29 1h1v1h-1zM8 3h1v1h-1zM4 4h1v1h-1zM34 4h1v1h-1zM22 5h1v1h-1zM37 5h1v1h-1zM41 5h1v1h-1zM5 6h1v1h-1zM22 6h1v1h-1zM29 6h1v1h-1zM39 6h1v1h-1zM42 6h1v1h-1zM11 7h1v1h-1zM18 8h1v1h-1zM28 9h1v1h-1zM34 9h1v1h-1zM16 10h1v1h-1zM31 11h2v1h-2zM19 12h1v1h-1zM27 12h1v1h-1zM15 13h1v1h-1zM18 13h1v1h-1zM49 13h1v1h-1zM6 14h2v1h-2zM26 14h1v1h-1zM44 14h2v1h-2zM18 15h1v1h-1zM41 15h1v1h-1zM15 16h1v1h-1zM27 17h1v1h-1zM31 17h1v1h-1zM2 18h1v1h-1zM7 18h1v1h-1zM10 19h2v1h-2zM3 20h1v1h-1zM5 20h1v1h-1zM26 20h1v1h-1zM34 20h1v1h-1zM42 20h1v1h-1zM19 21h1v1h-1zM47 21h1v1h-1zM41 22h1v1h-1zM26 23h1v1h-1zM15 24h1v1h-1zM7 25h1v1h-1zM42 25h1v1h-1zM46 25h1v1h-1zM4 26h1v1h-1zM20 26h1v1h-1zM25 26h1v1h-1zM4 27h1v1h-1zM10 27h1v1h-1zM30 27h1v1h-1zM44 27h1v1h-1zM47 27h2v1h-2zM8 28h1v1h-1zM19 28h1v1h-1zM48 28h1v1h-1zM7 29h1v1h-1zM1 30h1v1h-1zM3 30h1v1h-1zM11 30h1v1h-1zM24 30h1v1h-1zM46 30h1v1h-1zM6 31h1v1h-1zM11 31h1v1h-1zM21 31h1v1h-1zM28 32h1v1h-1zM0 33h1v1h-1zM26 33h1v1h-1zM45 34h1v1h-1zM12 35h1v1h-1zM3 36h1v1h-1zM14 36h1v1h-1zM46 36h1v1h-1zM12 37h1v1h-1zM17 37h1v1h-1zM28 37h1v1h-1zM11 38h1v1h-1zM22 38h1v1h-1zM26 38h1v1h-1zM12 39h1v1h-1zM30 39h1v1h-1zM36 39h1v1h-1zM22 40h1v1h-1zM40 40h1v1h-1zM49 40h1v1h-1zM6 41h1v1h-1zM25 41h1v1h-1zM27 41h1v1h-1zM32 41h1v1h-1zM37 41h1v1h-1zM41 41h1v1h-1zM46 41h1v1h-1zM0 42h1v1h-1zM39 42h1v1h-1zM8 43h1v1h-1zM32 43h1v1h-1zM11 44h1v1h-1zM38 44h1v1h-1zM43 44h1v1h-1zM4 45h1v1h-1zM15 45h1v1h-1zM34 46h1v1h-1zM22 47h1v1h-1zM34 48h1v1h-1zM39 48h1v1h-1zM6 49h2v1h-2z"/>
<path fill="#f0f0f0" d="M3 2h1v1h-1zM25 7h1v1h-1zM16 8h1v1h-1zM14 13h1v1h-1zM45 13h1v1h-1zM8 15h1v1h-1zM28 16h1v1h-1zM11 17h1v1h-1zM1 18h1v1h-1zM6 19h1v1h-1zM1 21h1v1h-1zM48 21h1v1h-1zM1 22h1v1h-1zM45 22h1v1h-1zM6 23h1v1h-1zM21 25h1v1h-1zM30 26h1v1h-1zM32 27h1v1h-1zM42 27h1v1h-1zM26 28h1v1h-1zM6 29h1v1h-1zM18 29h1v1h-1zM38 29h1v1h-1zM8 30h1v1h-1zM33 30h1v1h-1zM38 31h1v1h-1zM43 32h1v1h-1zM39 34h1v1h-1zM8 35h1v1h-1zM17 36h1v1h-1zM22 37h1v1h-1zM15 38h1v1h-1zM43 39h1v1h-1zM31 42h1v1h-1zM3 44h1v1h-1zM23 44h1v1h-1zM41 46h1v1h-1zM6 47h1v1h-1zM17 48h1v1h-1z"/>
</pattern>
<pattern id="S" width="50" height="50" patternUnits="userSpaceOnUse">
<rect width="50" height="50" fill="#898989"/>
<path fill="#0e0e0e" d="M0 0h2v1h-2zM1 4h1v1h-1zM32 8h13v1h-13zM0 9h2v1h-2zM0 12h2v1h-2zM1 13h1v1h-1zM0 32h2v1h-2z"/>
<path fill="#2c2c2c" d="M0 4h1v1h-1zM3 8h29v1h-29zM45 8h5v1h-5zM4 9h32v1h-32zM49 9h1v1h-1zM13 12h11v1h-11zM0 13h1v1h-1zM0 23h2v1h-2zM2 32h48v1h-48zM27 33h9v1h-9zM0 34h2v1h-2z"/>
<path fill="#464646" d="M37 4h13v1h-13zM1 8h2v1h-2zM2 9h2v1h-2zM36 9h13v1h-13zM7 11h5v1h-5zM14 11h14v1h-14zM2 12h11v1h-11zM24 12h26v1h-26zM22 13h8v1h-8zM37 13h12v1h-12zM0 14h2v1h-2zM11 16h9v1h-9zM6 26h16v1h-16zM6 31h13v1h-13zM22 31h12v1h-12zM4 33h23v1h-23zM36 33h14v1h-14zM0 36h2v1h-2zM0 47h30v1h-30zM46 47h4v1h-4z"/>
<path fill="#5d5d5d" d="M13 3h9v1h-9zM30 3h9v1h-9zM3 4h34v1h-34zM0 7h2v1h-2zM0 8h1v1h-1zM2 11h5v1h-5zM12 11h2v1h-2zM28 11h22v1h-22zM3 13h19v1h-19zM30 13h7v1h-7zM49 13h1v1h-1zM0 16h11v1h-11zM20 16h30v1h-30zM1 21h1v1h-1zM0 26h6v1h-6zM22 26h28v1h-28zM35 29h15v1h-15zM0 30h3v1h-3zM19 30h31v1h-31zM0 31h6v1h-6zM19 31h3v1h-3zM34 31h16v1h-16zM2 33h2v1h-2zM13 34h37v1h-37zM1 37h1v1h-1zM2 41h48v1h-48zM0 46h3v1h-3zM11 46h39v1h-39zM30 47h16v1h-16z"/>
<path fill="#737373" d="M2 0h11v1h-11zM24 0h26v1h-26zM0 3h13v1h-13zM22 3h8v1h-8zM39 3h11v1h-11zM2 4h1v1h-1zM9 10h41v1h-41zM0 11h2v1h-2zM2 13h1v1h-1zM0 21h1v1h-1zM2 23h7v1h-7zM15 24h24v1h-24zM46 24h4v1h-4zM3 25h38v1h-38zM0 27h32v1h-32zM42 27h8v1h-8zM2 29h33v1h-33zM3 30h16v1h-16zM0 33h2v1h-2zM2 34h11v1h-11zM0 35h2v1h-2zM31 35h19v1h-19zM0 37h1v1h-1zM5 38h5v1h-5zM48 38h2v1h-2zM3 40h15v1h-15zM25 40h9v1h-9zM44 40h6v1h-6zM1 41h1v1h-1zM0 42h14v1h-14zM28 42h22v1h-22zM7 43h14v1h-14zM1 44h1v1h-1zM30 45h14v1h-14zM3 46h8v1h-8zM4 48h21v1h-21zM34 48h16v1h-16zM0 49h4v1h-4zM12 49h38v1h-38z"/>
<path fill="#a0a0a0" d="M11 1h39v1h-39zM2 5h45v1h-45zM2 6h43v1h-43zM49 6h1v1h-1zM2 7h6v1h-6zM0 10h2v1h-2zM2 14h26v1h-26zM41 14h9v1h-9zM2 15h4v1h-4zM41 15h9v1h-9zM34 17h15v1h-15zM0 18h8v1h-8zM13 18h10v1h-10zM45 18h5v1h-5zM4 20h13v1h-13zM47 20h3v1h-3zM3 21h17v1h-17zM30 21h20v1h-20zM0 22h13v1h-13zM45 22h5v1h-5zM0 24h2v1h-2zM0 28h3v1h-3zM45 28h5v1h-5zM2 36h29v1h-29zM39 36h11v1h-11zM2 37h48v1h-48zM0 38h2v1h-2zM0 39h9v1h-9zM27 39h23v1h-23zM0 40h1v1h-1zM16 44h14v1h-14zM0 48h1v1h-1z"/>
<path fill="#b8b8b8" d="M1 1h10v1h-10zM0 2h1v1h-1zM30 2h20v1h-20zM0 5h2v1h-2zM0 6h2v1h-2zM28 14h13v1h-13zM1 15h1v1h-1zM2 17h32v1h-32zM49 17h1v1h-1zM8 18h5v1h-5zM23 18h22v1h-22zM1 20h3v1h-3zM2 21h1v1h-1zM13 22h32v1h-32zM3 28h42v1h-42zM3 44h13v1h-13zM30 44h20v1h-20z"/>
<path fill="#d2d2d2" d="M0 1h1v1h-1zM1 2h29v1h-29zM0 15h1v1h-1zM0 17h2v1h-2zM4 19h36v1h-36zM47 19h3v1h-3zM0 20h1v1h-1zM2 44h1v1h-1z"/>
<path fill="#f0f0f0" d="M0 19h4v1h-4zM40 19h7v1h-7z"/>
</pattern>
<filter id="B" x="0" y="0" width="1" height="1"><feGaussianBlur stdDeviation="1.1" edgeMode="duplicate"/></filter>
<filter id="B2" x="0" y="0" width="1" height="1"><feGaussianBlur stdDeviation="0.45" edgeMode="duplicate"/></filter>
<filter id="B3" x="0" y="0" width="1" height="1" color-interpolation-filters="sRGB"><feConvolveMatrix order="3" kernelMatrix="1 2 1 2 4 2 1 2 1" edgeMode="duplicate" preserveAlpha="true"/></filter>
<radialGradient id="gw"><stop offset="0" stop-color="#fff" stop-opacity="1"/><stop offset="1" stop-color="#fff" stop-opacity="0"/></radialGradient>
<radialGradient id="gk"><stop offset="0" stop-color="#000" stop-opacity="1"/><stop offset="0.5" stop-color="#000" stop-opacity="0.55"/><stop offset="1" stop-color="#000" stop-opacity="0"/></radialGradient>
</defs>
<defs><clipPath id="c0"><rect x="0" y="28" width="50" height="22"/></clipPath><clipPath id="c1"><rect x="0" y="33" width="50" height="17"/></clipPath><clipPath id="c2"><rect x="0" y="38" width="50" height="12"/></clipPath><radialGradient id="gm4" gradientUnits="userSpaceOnUse" cx="45" cy="5" r="30"><stop offset="0.27" stop-color="#fff"/><stop offset="1" stop-color="#000"/></radialGradient><mask id="m4" maskUnits="userSpaceOnUse" x="0" y="0" width="50" height="50"><rect width="50" height="50" fill="url(#gm4)"/></mask><clipPath id="c4"><rect x="0" y="47" width="50" height="3"/></clipPath><radialGradient id="gm6" gradientUnits="userSpaceOnUse" cx="42" cy="5" r="30"><stop offset="0.27" stop-color="#fff"/><stop offset="1" stop-color="#000"/></radialGradient><mask id="m6" maskUnits="userSpaceOnUse" x="0" y="0" width="50" height="50"><rect width="50" height="50" fill="url(#gm6)"/></mask><radialGradient id="gm7" gradientUnits="userSpaceOnUse" cx="40" cy="5" r="30"><stop offset="0.27" stop-color="#fff"/><stop offset="1" stop-color="#000"/></radialGradient><mask id="m7" maskUnits="userSpaceOnUse" x="0" y="0" width="50" height="50"><rect width="50" height="50" fill="url(#gm7)"/></mask><radialGradient id="gm8" gradientUnits="userSpaceOnUse" cx="48" cy="2" r="38"><stop offset="0.32" stop-color="#fff"/><stop offset="1" stop-color="#000"/></radialGradient><mask id="m8" maskUnits="userSpaceOnUse" x="0" y="0" width="50" height="50"><rect width="50" height="50" fill="url(#gm8)"/></mask><radialGradient id="gm9" gradientUnits="userSpaceOnUse" cx="44" cy="2" r="24"><stop offset="0.25" stop-color="#fff"/><stop offset="1" stop-color="#000"/></radialGradient><mask id="m9" maskUnits="userSpaceOnUse" x="0" y="0" width="50" height="50"><rect width="50" height="50" fill="url(#gm9)"/></mask><radialGradient id="gm10" gradientUnits="userSpaceOnUse" cx="44" cy="4" r="34"><stop offset="0.41" stop-color="#fff"/><stop offset="1" stop-color="#000"/></radialGradient><mask id="m10" maskUnits="userSpaceOnUse" x="0" y="0" width="50" height="50"><rect width="50" height="50" fill="url(#gm10)"/></mask><clipPath id="c10"><rect x="22" y="7" width="28" height="23"/></clipPath><clipPath id="c11"><rect x="22" y="0" width="28" height="7"/></clipPath><clipPath id="c12"><polygon points="20,0 50,0 50,50 10,50"/></clipPath><clipPath id="c13"><rect x="21" y="0" width="29" height="10"/></clipPath><clipPath id="c14"><rect x="21" y="0" width="29" height="15"/></clipPath><clipPath id="c15"><rect x="21" y="0" width="29" height="20"/></clipPath><clipPath id="c16"><rect x="21" y="0" width="29" height="25"/></clipPath><clipPath id="c17"><rect x="21" y="0" width="29" height="30"/></clipPath><clipPath id="c18"><rect x="21" y="0" width="29" height="36"/></clipPath><clipPath id="c19"><rect x="21" y="0" width="29" height="42"/></clipPath><clipPath id="c20"><rect x="21" y="0" width="29" height="48"/></clipPath><clipPath id="c21"><rect x="21" y="0" width="29" height="50"/></clipPath><clipPath id="c22"><rect x="24" y="7" width="26" height="43"/></clipPath><clipPath id="c23"><rect x="24" y="12" width="26" height="38"/></clipPath><clipPath id="c24"><rect x="24" y="17" width="26" height="33"/></clipPath><clipPath id="c25"><rect x="24" y="22" width="26" height="28"/></clipPath><clipPath id="c26"><rect x="24" y="28" width="26" height="22"/></clipPath><clipPath id="c27"><rect x="24" y="33" width="26" height="17"/></clipPath><clipPath id="c28"><rect x="24" y="38" width="26" height="12"/></clipPath><clipPath id="c29"><rect x="24" y="43" width="26" height="7"/></clipPath><radialGradient id="gm31" gradientUnits="userSpaceOnUse" cx="32" cy="45" r="24"><stop offset="0.33" stop-color="#fff"/><stop offset="1" stop-color="#000"/></radialGradient><mask id="m31" maskUnits="userSpaceOnUse" x="0" y="0" width="50" height="50"><rect width="50" height="50" fill="url(#gm31)"/></mask><radialGradient id="gm32" gradientUnits="userSpaceOnUse" cx="35" cy="45" r="24"><stop offset="0.33" stop-color="#fff"/><stop offset="1" stop-color="#000"/></radialGradient><mask id="m32" maskUnits="userSpaceOnUse" x="0" y="0" width="50" height="50"><rect width="50" height="50" fill="url(#gm32)"/></mask><clipPath id="c32"><rect x="0" y="0" width="50" height="3"/></clipPath><clipPath id="c33"><rect x="0" y="0" width="50" height="4"/></clipPath><clipPath id="c34"><rect x="0" y="0" width="50" height="17"/></clipPath><clipPath id="c35"><rect x="0" y="0" width="50" height="28"/></clipPath><clipPath id="c36"><rect x="0" y="0" width="50" height="40"/></clipPath><filter id="f0" x="0" y="0" width="1" height="1" color-interpolation-filters="sRGB"><feComponentTransfer><feFuncR type="linear" slope="0.537" intercept="0.337"/><feFuncG type="linear" slope="0.537" intercept="0.337"/><feFuncB type="linear" slope="0.537" intercept="0.337"/></feComponentTransfer></filter><filter id="f1" x="0" y="0" width="1" height="1" color-interpolation-filters="sRGB"><feComponentTransfer><feFuncR type="linear" slope="0.607" intercept="0.317"/><feFuncG type="linear" slope="0.607" intercept="0.317"/><feFuncB type="linear" slope="0.607" intercept="0.317"/></feComponentTransfer></filter><filter id="f2" x="0" y="0" width="1" height="1" color-interpolation-filters="sRGB"><feComponentTransfer><feFuncR type="linear" slope="0.537" intercept="0.356"/><feFuncG type="linear" slope="0.537" intercept="0.356"/><feFuncB type="linear" slope="0.537" intercept="0.356"/></feComponentTransfer></filter><filter id="f3" x="0" y="0" width="1" height="1" color-interpolation-filters="sRGB"><feComponentTransfer><feFuncR type="linear" slope="0.631" intercept="0.297"/><feFuncG type="linear" slope="0.631" intercept="0.297"/><feFuncB type="linear" slope="0.631" intercept="0.297"/></feComponentTransfer></filter><filter id="f4" x="0" y="0" width="1" height="1" color-interpolation-filters="sRGB"><feComponentTransfer><feFuncR type="linear" slope="0.678" intercept="0.274"/><feFuncG type="linear" slope="0.678" intercept="0.274"/><feFuncB type="linear" slope="0.678" intercept="0.274"/></feComponentTransfer></filter><filter id="f5" x="0" y="0" width="1" height="1" color-interpolation-filters="sRGB"><feComponentTransfer><feFuncR type="linear" slope="0.561" intercept="0.262"/><feFuncG type="linear" slope="0.561" intercept="0.262"/><feFuncB type="linear" slope="0.561" intercept="0.262"/></feComponentTransfer></filter><filter id="f6" x="0" y="0" width="1" height="1" color-interpolation-filters="sRGB"><feComponentTransfer><feFuncR type="linear" slope="0.631" intercept="0.242"/><feFuncG type="linear" slope="0.631" intercept="0.242"/><feFuncB type="linear" slope="0.631" intercept="0.242"/></feComponentTransfer></filter><filter id="f7" x="0" y="0" width="1" height="1" color-interpolation-filters="sRGB"><feComponentTransfer><feFuncR type="linear" slope="0.561" intercept="0.274"/><feFuncG type="linear" slope="0.561" intercept="0.274"/><feFuncB type="linear" slope="0.561" intercept="0.274"/></feComponentTransfer></filter><filter id="f8" x="0" y="0" width="1" height="1" color-interpolation-filters="sRGB"><feComponentTransfer><feFuncR type="linear" slope="0.767" intercept="0.121"/><feFuncG type="linear" slope="0.767" intercept="0.121"/><feFuncB type="linear" slope="0.767" intercept="0.121"/></feComponentTransfer></filter><filter id="f9" x="0" y="0" width="1" height="1" color-interpolation-filters="sRGB"><feComponentTransfer><feFuncR type="linear" slope="0.959" intercept="0.051"/><feFuncG type="linear" slope="0.959" intercept="0.051"/><feFuncB type="linear" slope="0.959" intercept="0.051"/></feComponentTransfer></filter><filter id="f10" x="0" y="0" width="1" height="1" color-interpolation-filters="sRGB"><feComponentTransfer><feFuncR type="linear" slope="0.767" intercept="0.238"/><feFuncG type="linear" slope="0.767" intercept="0.238"/><feFuncB type="linear" slope="0.767" intercept="0.238"/></feComponentTransfer></filter><filter id="f11" x="0" y="0" width="1" height="1" color-interpolation-filters="sRGB"><feComponentTransfer><feFuncR type="linear" slope="0.863" intercept="0.033"/><feFuncG type="linear" slope="0.863" intercept="0.033"/><feFuncB type="linear" slope="0.863" intercept="0.033"/></feComponentTransfer></filter><filter id="f12" x="0" y="0" width="1" height="1" color-interpolation-filters="sRGB"><feComponentTransfer><feFuncR type="linear" slope="0.767" intercept="0.105"/><feFuncG type="linear" slope="0.767" intercept="0.105"/><feFuncB type="linear" slope="0.767" intercept="0.105"/></feComponentTransfer></filter><filter id="f13" x="0" y="0" width="1" height="1" color-interpolation-filters="sRGB"><feComponentTransfer><feFuncR type="linear" slope="0.863" intercept="0.006"/><feFuncG type="linear" slope="0.863" intercept="0.006"/><feFuncB type="linear" slope="0.863" intercept="0.006"/></feComponentTransfer></filter><filter id="f14" x="0" y="0" width="1" height="1" color-interpolation-filters="sRGB"><feComponentTransfer><feFuncR type="linear" slope="0.863" intercept="0.08"/><feFuncG type="linear" slope="0.863" intercept="0.08"/><feFuncB type="linear" slope="0.863" intercept="0.08"/></feComponentTransfer></filter><filter id="f15" x="0" y="0" width="1" height="1" color-interpolation-filters="sRGB"><feComponentTransfer><feFuncR type="linear" slope="0.806" intercept="0.075"/><feFuncG type="linear" slope="0.806" intercept="0.075"/><feFuncB type="linear" slope="0.806" intercept="0.075"/></feComponentTransfer></filter><filter id="f16" x="0" y="0" width="1" height="1" color-interpolation-filters="sRGB"><feComponentTransfer><feFuncR type="linear" slope="0.863" intercept="0.046"/><feFuncG type="linear" slope="0.863" intercept="0.046"/><feFuncB type="linear" slope="0.863" intercept="0.046"/></feComponentTransfer></filter><filter id="f17" x="0" y="0" width="1" height="1" color-interpolation-filters="sRGB"><feComponentTransfer><feFuncR type="linear" slope="0.863" intercept="0.123"/><feFuncG type="linear" slope="0.863" intercept="0.123"/><feFuncB type="linear" slope="0.863" intercept="0.123"/></feComponentTransfer></filter><filter id="f18" x="0" y="0" width="1" height="1" color-interpolation-filters="sRGB"><feComponentTransfer><feFuncR type="linear" slope="0.806" intercept="0.052"/><feFuncG type="linear" slope="0.806" intercept="0.052"/><feFuncB type="linear" slope="0.806" intercept="0.052"/></feComponentTransfer></filter><filter id="f19" x="0" y="0" width="1" height="1" color-interpolation-filters="sRGB"><feComponentTransfer><feFuncR type="linear" slope="0.921" intercept="0.077"/><feFuncG type="linear" slope="0.921" intercept="0.077"/><feFuncB type="linear" slope="0.921" intercept="0.077"/></feComponentTransfer></filter><filter id="f20" x="0" y="0" width="1" height="1" color-interpolation-filters="sRGB"><feComponentTransfer><feFuncR type="linear" slope="0.863" intercept="0.013"/><feFuncG type="linear" slope="0.863" intercept="0.013"/><feFuncB type="linear" slope="0.863" intercept="0.013"/></feComponentTransfer></filter><filter id="f21" x="0" y="0" width="1" height="1" color-interpolation-filters="sRGB"><feComponentTransfer><feFuncR type="linear" slope="0.921" intercept="-0.023"/><feFuncG type="linear" slope="0.921" intercept="-0.023"/><feFuncB type="linear" slope="0.921" intercept="-0.023"/></feComponentTransfer></filter><filter id="f22" x="0" y="0" width="1" height="1" color-interpolation-filters="sRGB"><feComponentTransfer><feFuncR type="linear" slope="0.806" intercept="0.102"/><feFuncG type="linear" slope="0.806" intercept="0.102"/><feFuncB type="linear" slope="0.806" intercept="0.102"/></feComponentTransfer></filter><filter id="f23" x="0" y="0" width="1" height="1" color-interpolation-filters="sRGB"><feComponentTransfer><feFuncR type="linear" slope="0.806" intercept="0.202"/><feFuncG type="linear" slope="0.806" intercept="0.202"/><feFuncB type="linear" slope="0.806" intercept="0.202"/></feComponentTransfer></filter><filter id="f24" x="0" y="0" width="1" height="1" color-interpolation-filters="sRGB"><feComponentTransfer><feFuncR type="linear" slope="0.863" intercept="0.066"/><feFuncG type="linear" slope="0.863" intercept="0.066"/><feFuncB type="linear" slope="0.863" intercept="0.066"/></feComponentTransfer></filter><filter id="f25" x="0" y="0" width="1" height="1" color-interpolation-filters="sRGB"><feComponentTransfer><feFuncR type="linear" slope="0.806" intercept="-0.015"/><feFuncG type="linear" slope="0.806" intercept="-0.015"/><feFuncB type="linear" slope="0.806" intercept="-0.015"/></feComponentTransfer></filter><filter id="f26" x="0" y="0" width="1" height="1" color-interpolation-filters="sRGB"><feComponentTransfer><feFuncR type="linear" slope="0.863" intercept="0.106"/><feFuncG type="linear" slope="0.863" intercept="0.106"/><feFuncB type="linear" slope="0.863" intercept="0.106"/></feComponentTransfer></filter><filter id="f27" x="0" y="0" width="1" height="1" color-interpolation-filters="sRGB"><feComponentTransfer><feFuncR type="linear" slope="0.806" intercept="0.002"/><feFuncG type="linear" slope="0.806" intercept="0.002"/><feFuncB type="linear" slope="0.806" intercept="0.002"/></feComponentTransfer></filter><filter id="f28" x="0" y="0" width="1" height="1" color-interpolation-filters="sRGB"><feComponentTransfer><feFuncR type="linear" slope="0.863" intercept="-0.01"/><feFuncG type="linear" slope="0.863" intercept="-0.01"/><feFuncB type="linear" slope="0.863" intercept="-0.01"/></feComponentTransfer></filter><filter id="f29" x="0" y="0" width="1" height="1" color-interpolation-filters="sRGB"><feComponentTransfer><feFuncR type="linear" slope="0.806" intercept="0.019"/><feFuncG type="linear" slope="0.806" intercept="0.019"/><feFuncB type="linear" slope="0.806" intercept="0.019"/></feComponentTransfer></filter><filter id="f30" x="0" y="0" width="1" height="1" color-interpolation-filters="sRGB"><feComponentTransfer><feFuncR type="linear" slope="0.921" intercept="0.06"/><feFuncG type="linear" slope="0.921" intercept="0.06"/><feFuncB type="linear" slope="0.921" intercept="0.06"/></feComponentTransfer></filter><filter id="f31" x="0" y="0" width="1" height="1" color-interpolation-filters="sRGB"><feComponentTransfer><feFuncR type="linear" slope="0.863" intercept="0"/><feFuncG type="linear" slope="0.863" intercept="0"/><feFuncB type="linear" slope="0.863" intercept="0"/></feComponentTransfer></filter><filter id="f32" x="0" y="0" width="1" height="1" color-interpolation-filters="sRGB"><feComponentTransfer><feFuncR type="linear" slope="0.844" intercept="0.083"/><feFuncG type="linear" slope="0.844" intercept="0.083"/><feFuncB type="linear" slope="0.844" intercept="0.083"/></feComponentTransfer></filter><filter id="f33" x="0" y="0" width="1" height="1" color-interpolation-filters="sRGB"><feComponentTransfer><feFuncR type="linear" slope="0.806" intercept="0.135"/><feFuncG type="linear" slope="0.806" intercept="0.135"/><feFuncB type="linear" slope="0.806" intercept="0.135"/></feComponentTransfer></filter><filter id="f34" x="0" y="0" width="1" height="1" color-interpolation-filters="sRGB"><feComponentTransfer><feFuncR type="linear" slope="0.844" intercept="0.066"/><feFuncG type="linear" slope="0.844" intercept="0.066"/><feFuncB type="linear" slope="0.844" intercept="0.066"/></feComponentTransfer></filter><filter id="f35" x="0" y="0" width="1" height="1" color-interpolation-filters="sRGB"><feComponentTransfer><feFuncR type="linear" slope="0.863" intercept="0.09"/><feFuncG type="linear" slope="0.863" intercept="0.09"/><feFuncB type="linear" slope="0.863" intercept="0.09"/></feComponentTransfer></filter><filter id="f36" x="0" y="0" width="1" height="1" color-interpolation-filters="sRGB"><feComponentTransfer><feFuncR type="linear" slope="0.863" intercept="0.056"/><feFuncG type="linear" slope="0.863" intercept="0.056"/><feFuncB type="linear" slope="0.863" intercept="0.056"/></feComponentTransfer></filter><filter id="f37" x="0" y="0" width="1" height="1" color-interpolation-filters="sRGB"><feComponentTransfer><feFuncR type="linear" slope="0.844" intercept="0.076"/><feFuncG type="linear" slope="0.844" intercept="0.076"/><feFuncB type="linear" slope="0.844" intercept="0.076"/></feComponentTransfer></filter><filter id="f38" x="0" y="0" width="1" height="1" color-interpolation-filters="sRGB"><feComponentTransfer><feFuncR type="linear" slope="0.998" intercept="-0.012"/><feFuncG type="linear" slope="0.998" intercept="-0.012"/><feFuncB type="linear" slope="0.998" intercept="-0.012"/></feComponentTransfer></filter><filter id="f39" x="0" y="0" width="1" height="1" color-interpolation-filters="sRGB"><feComponentTransfer><feFuncR type="linear" slope="0.145" intercept="0.417"/><feFuncG type="linear" slope="0.145" intercept="0.417"/><feFuncB type="linear" slope="0.145" intercept="0.417"/></feComponentTransfer></filter><filter id="f40" x="0" y="0" width="1" height="1" color-interpolation-filters="sRGB"><feComponentTransfer><feFuncR type="linear" slope="1.279" intercept="-0.155"/><feFuncG type="linear" slope="1.279" intercept="-0.155"/><feFuncB type="linear" slope="1.279" intercept="-0.155"/></feComponentTransfer></filter><filter id="f41" x="0" y="0" width="1" height="1" color-interpolation-filters="sRGB"><feGaussianBlur stdDeviation="0.75" edgeMode="duplicate"/><feComponentTransfer><feFuncR type="linear" slope="0.774" intercept="0.06"/><feFuncG type="linear" slope="0.774" intercept="0.06"/><feFuncB type="linear" slope="0.774" intercept="0.06"/></feComponentTransfer></filter><filter id="f42" x="0" y="0" width="1" height="1" color-interpolation-filters="sRGB"><feComponentTransfer><feFuncR type="linear" slope="1.279" intercept="-0.144"/><feFuncG type="linear" slope="1.279" intercept="-0.144"/><feFuncB type="linear" slope="1.279" intercept="-0.144"/></feComponentTransfer></filter><filter id="f43" x="0" y="0" width="1" height="1" color-interpolation-filters="sRGB"><feGaussianBlur stdDeviation="0.75" edgeMode="duplicate"/><feComponentTransfer><feFuncR type="linear" slope="0.774" intercept="0.15"/><feFuncG type="linear" slope="0.774" intercept="0.15"/><feFuncB type="linear" slope="0.774" intercept="0.15"/></feComponentTransfer></filter><filter id="f44" x="0" y="0" width="1" height="1" color-interpolation-filters="sRGB"><feGaussianBlur stdDeviation="0.75" edgeMode="duplicate"/><feComponentTransfer><feFuncR type="linear" slope="1.097" intercept="-0.001"/><feFuncG type="linear" slope="1.097" intercept="-0.001"/><feFuncB type="linear" slope="1.097" intercept="-0.001"/></feComponentTransfer></filter><filter id="f45" x="0" y="0" width="1" height="1" color-interpolation-filters="sRGB"><feGaussianBlur stdDeviation="0.45" edgeMode="duplicate"/><feComponentTransfer><feFuncR type="linear" slope="1.217" intercept="-0.061"/><feFuncG type="linear" slope="1.217" intercept="-0.061"/><feFuncB type="linear" slope="1.217" intercept="-0.061"/></feComponentTransfer></filter><filter id="f46" x="0" y="0" width="1" height="1" color-interpolation-filters="sRGB"><feComponentTransfer><feFuncR type="linear" slope="1.163" intercept="-0.077"/><feFuncG type="linear" slope="1.163" intercept="-0.077"/><feFuncB type="linear" slope="1.163" intercept="-0.077"/></feComponentTransfer></filter><filter id="f47" x="0" y="0" width="1" height="1" color-interpolation-filters="sRGB"><feGaussianBlur stdDeviation="0.75" edgeMode="duplicate"/><feComponentTransfer><feFuncR type="linear" slope="1.032" intercept="0.106"/><feFuncG type="linear" slope="1.032" intercept="0.106"/><feFuncB type="linear" slope="1.032" intercept="0.106"/></feComponentTransfer></filter><filter id="f48" x="0" y="0" width="1" height="1" color-interpolation-filters="sRGB"><feGaussianBlur stdDeviation="0.45" edgeMode="duplicate"/><feComponentTransfer><feFuncR type="linear" slope="1.217" intercept="0.013"/><feFuncG type="linear" slope="1.217" intercept="0.013"/><feFuncB type="linear" slope="1.217" intercept="0.013"/></feComponentTransfer></filter><filter id="f49" x="0" y="0" width="1" height="1" color-interpolation-filters="sRGB"><feGaussianBlur stdDeviation="0.75" edgeMode="duplicate"/><feComponentTransfer><feFuncR type="linear" slope="1.032" intercept="0.091"/><feFuncG type="linear" slope="1.032" intercept="0.091"/><feFuncB type="linear" slope="1.032" intercept="0.091"/></feComponentTransfer></filter><filter id="f50" x="0" y="0" width="1" height="1" color-interpolation-filters="sRGB"><feGaussianBlur stdDeviation="0.45" edgeMode="duplicate"/><feComponentTransfer><feFuncR type="linear" slope="1.217" intercept="-0.003"/><feFuncG type="linear" slope="1.217" intercept="-0.003"/><feFuncB type="linear" slope="1.217" intercept="-0.003"/></feComponentTransfer></filter><filter id="f51" x="0" y="0" width="1" height="1" color-interpolation-filters="sRGB"><feGaussianBlur stdDeviation="0.75" edgeMode="duplicate"/><feComponentTransfer><feFuncR type="linear" slope="0.645" intercept="0.137"/><feFuncG type="linear" slope="0.645" intercept="0.137"/><feFuncB type="linear" slope="0.645" intercept="0.137"/></feComponentTransfer></filter><filter id="f52" x="0" y="0" width="1" height="1" color-interpolation-filters="sRGB"><feGaussianBlur stdDeviation="0.45" edgeMode="duplicate"/><feComponentTransfer><feFuncR type="linear" slope="1.391" intercept="-0.239"/><feFuncG type="linear" slope="1.391" intercept="-0.239"/><feFuncB type="linear" slope="1.391" intercept="-0.239"/></feComponentTransfer></filter><filter id="f53" x="0" y="0" width="1" height="1" color-interpolation-filters="sRGB"><feGaussianBlur stdDeviation="0.75" edgeMode="duplicate"/><feComponentTransfer><feFuncR type="linear" slope="0.581" intercept="0.279"/><feFuncG type="linear" slope="0.581" intercept="0.279"/><feFuncB type="linear" slope="0.581" intercept="0.279"/></feComponentTransfer></filter><filter id="f54" x="0" y="0" width="1" height="1" color-interpolation-filters="sRGB"><feGaussianBlur stdDeviation="0.45" edgeMode="duplicate"/><feComponentTransfer><feFuncR type="linear" slope="1.043" intercept="0.046"/><feFuncG type="linear" slope="1.043" intercept="0.046"/><feFuncB type="linear" slope="1.043" intercept="0.046"/></feComponentTransfer></filter><filter id="f55" x="0" y="0" width="1" height="1" color-interpolation-filters="sRGB"><feComponentTransfer><feFuncR type="linear" slope="0.291" intercept="0.245"/><feFuncG type="linear" slope="0.291" intercept="0.245"/><feFuncB type="linear" slope="0.291" intercept="0.245"/></feComponentTransfer></filter><filter id="f56" x="0" y="0" width="1" height="1" color-interpolation-filters="sRGB"><feComponentTransfer><feFuncR type="linear" slope="1.047" intercept="-0.136"/><feFuncG type="linear" slope="1.047" intercept="-0.136"/><feFuncB type="linear" slope="1.047" intercept="-0.136"/></feComponentTransfer></filter><filter id="f57" x="0" y="0" width="1" height="1" color-interpolation-filters="sRGB"><feComponentTransfer><feFuncR type="linear" slope="0.349" intercept="0.353"/><feFuncG type="linear" slope="0.349" intercept="0.353"/><feFuncB type="linear" slope="0.349" intercept="0.353"/></feComponentTransfer></filter><filter id="f58" x="0" y="0" width="1" height="1" color-interpolation-filters="sRGB"><feComponentTransfer><feFuncR type="linear" slope="1.047" intercept="-0.018"/><feFuncG type="linear" slope="1.047" intercept="-0.018"/><feFuncB type="linear" slope="1.047" intercept="-0.018"/></feComponentTransfer></filter><filter id="f59" x="0" y="0" width="1" height="1" color-interpolation-filters="sRGB"><feComponentTransfer><feFuncR type="linear" slope="0.465" intercept="0.314"/><feFuncG type="linear" slope="0.465" intercept="0.314"/><feFuncB type="linear" slope="0.465" intercept="0.314"/></feComponentTransfer></filter><filter id="f60" x="0" y="0" width="1" height="1" color-interpolation-filters="sRGB"><feComponentTransfer><feFuncR type="linear" slope="0.32" intercept="0.372"/><feFuncG type="linear" slope="0.32" intercept="0.372"/><feFuncB type="linear" slope="0.32" intercept="0.372"/></feComponentTransfer></filter><filter id="f61" x="0" y="0" width="1" height="1" color-interpolation-filters="sRGB"><feGaussianBlur stdDeviation="0.45" edgeMode="duplicate"/><feComponentTransfer><feFuncR type="linear" slope="1.304" intercept="-0.164"/><feFuncG type="linear" slope="1.304" intercept="-0.164"/><feFuncB type="linear" slope="1.304" intercept="-0.164"/></feComponentTransfer></filter><filter id="f62" x="0" y="0" width="1" height="1" color-interpolation-filters="sRGB"><feComponentTransfer><feFuncR type="linear" slope="0.558" intercept="0.291"/><feFuncG type="linear" slope="0.558" intercept="0.291"/><feFuncB type="linear" slope="0.558" intercept="0.291"/></feComponentTransfer></filter><filter id="f63" x="0" y="0" width="1" height="1" color-interpolation-filters="sRGB"><feComponentTransfer><feFuncR type="linear" slope="0.32" intercept="0.403"/><feFuncG type="linear" slope="0.32" intercept="0.403"/><feFuncB type="linear" slope="0.32" intercept="0.403"/></feComponentTransfer></filter><filter id="f64" x="0" y="0" width="1" height="1" color-interpolation-filters="sRGB"><feGaussianBlur stdDeviation="0.45" edgeMode="duplicate"/><feComponentTransfer><feFuncR type="linear" slope="1.304" intercept="-0.133"/><feFuncG type="linear" slope="1.304" intercept="-0.133"/><feFuncB type="linear" slope="1.304" intercept="-0.133"/></feComponentTransfer></filter><filter id="f65" x="0" y="0" width="1" height="1" color-interpolation-filters="sRGB"><feComponentTransfer><feFuncR type="linear" slope="0.32" intercept="0.309"/><feFuncG type="linear" slope="0.32" intercept="0.309"/><feFuncB type="linear" slope="0.32" intercept="0.309"/></feComponentTransfer></filter><filter id="f66" x="0" y="0" width="1" height="1" color-interpolation-filters="sRGB"><feGaussianBlur stdDeviation="0.45" edgeMode="duplicate"/><feComponentTransfer><feFuncR type="linear" slope="1.304" intercept="-0.227"/><feFuncG type="linear" slope="1.304" intercept="-0.227"/><feFuncB type="linear" slope="1.304" intercept="-0.227"/></feComponentTransfer></filter><filter id="f67" x="0" y="0" width="1" height="1" color-interpolation-filters="sRGB"><feComponentTransfer><feFuncR type="linear" slope="0.558" intercept="0.248"/><feFuncG type="linear" slope="0.558" intercept="0.248"/><feFuncB type="linear" slope="0.558" intercept="0.248"/></feComponentTransfer></filter><filter id="f68" x="0" y="0" width="1" height="1" color-interpolation-filters="sRGB"><feComponentTransfer><feFuncR type="linear" slope="0.349" intercept="0.326"/><feFuncG type="linear" slope="0.349" intercept="0.326"/><feFuncB type="linear" slope="0.349" intercept="0.326"/></feComponentTransfer></filter><filter id="f69" x="0" y="0" width="1" height="1" color-interpolation-filters="sRGB"><feGaussianBlur stdDeviation="0.45" edgeMode="duplicate"/><feComponentTransfer><feFuncR type="linear" slope="1.304" intercept="-0.156"/><feFuncG type="linear" slope="1.304" intercept="-0.156"/><feFuncB type="linear" slope="1.304" intercept="-0.156"/></feComponentTransfer></filter><filter id="f70" x="0" y="0" width="1" height="1" color-interpolation-filters="sRGB"><feComponentTransfer><feFuncR type="linear" slope="0.558" intercept="0.236"/><feFuncG type="linear" slope="0.558" intercept="0.236"/><feFuncB type="linear" slope="0.558" intercept="0.236"/></feComponentTransfer></filter><filter id="f71" x="0" y="0" width="1" height="1" color-interpolation-filters="sRGB"><feComponentTransfer><feFuncR type="linear" slope="0.349" intercept="0.275"/><feFuncG type="linear" slope="0.349" intercept="0.275"/><feFuncB type="linear" slope="0.349" intercept="0.275"/></feComponentTransfer></filter><filter id="f72" x="0" y="0" width="1" height="1" color-interpolation-filters="sRGB"><feGaussianBlur stdDeviation="0.45" edgeMode="duplicate"/><feComponentTransfer><feFuncR type="linear" slope="1.304" intercept="-0.207"/><feFuncG type="linear" slope="1.304" intercept="-0.207"/><feFuncB type="linear" slope="1.304" intercept="-0.207"/></feComponentTransfer></filter><filter id="f73" x="0" y="0" width="1" height="1" color-interpolation-filters="sRGB"><feGaussianBlur stdDeviation="0.75" edgeMode="duplicate"/><feComponentTransfer><feFuncR type="linear" slope="0.645" intercept="0.27"/><feFuncG type="linear" slope="0.645" intercept="0.27"/><feFuncB type="linear" slope="0.645" intercept="0.27"/></feComponentTransfer></filter><filter id="f74" x="0" y="0" width="1" height="1" color-interpolation-filters="sRGB"><feGaussianBlur stdDeviation="0.45" edgeMode="duplicate"/><feComponentTransfer><feFuncR type="linear" slope="1.739" intercept="-0.329"/><feFuncG type="linear" slope="1.739" intercept="-0.329"/><feFuncB type="linear" slope="1.739" intercept="-0.329"/></feComponentTransfer></filter><filter id="f75" x="0" y="0" width="1" height="1" color-interpolation-filters="sRGB"><feGaussianBlur stdDeviation="0.75" edgeMode="duplicate"/><feComponentTransfer><feFuncR type="linear" slope="0.581" intercept="0.197"/><feFuncG type="linear" slope="0.581" intercept="0.197"/><feFuncB type="linear" slope="0.581" intercept="0.197"/></feComponentTransfer></filter><filter id="f76" x="0" y="0" width="1" height="1" color-interpolation-filters="sRGB"><feGaussianBlur stdDeviation="0.45" edgeMode="duplicate"/><feComponentTransfer><feFuncR type="linear" slope="1.652" intercept="-0.344"/><feFuncG type="linear" slope="1.652" intercept="-0.344"/><feFuncB type="linear" slope="1.652" intercept="-0.344"/></feComponentTransfer></filter><filter id="f77" x="0" y="0" width="1" height="1" color-interpolation-filters="sRGB"><feComponentTransfer><feFuncR type="linear" slope="0.174" intercept="0.5"/><feFuncG type="linear" slope="0.174" intercept="0.5"/><feFuncB type="linear" slope="0.174" intercept="0.5"/></feComponentTransfer></filter><filter id="f78" x="0" y="0" width="1" height="1" color-interpolation-filters="sRGB"><feComponentTransfer><feFuncR type="linear" slope="0.93" intercept="0.08"/><feFuncG type="linear" slope="0.93" intercept="0.08"/><feFuncB type="linear" slope="0.93" intercept="0.08"/></feComponentTransfer></filter><filter id="f79" x="0" y="0" width="1" height="1" color-interpolation-filters="sRGB"><feComponentTransfer><feFuncR type="linear" slope="0.174" intercept="0.481"/><feFuncG type="linear" slope="0.174" intercept="0.481"/><feFuncB type="linear" slope="0.174" intercept="0.481"/></feComponentTransfer></filter><filter id="f80" x="0" y="0" width="1" height="1" color-interpolation-filters="sRGB"><feComponentTransfer><feFuncR type="linear" slope="0.145" intercept="0.397"/><feFuncG type="linear" slope="0.145" intercept="0.397"/><feFuncB type="linear" slope="0.145" intercept="0.397"/></feComponentTransfer></filter><filter id="f81" x="0" y="0" width="1" height="1" color-interpolation-filters="sRGB"><feComponentTransfer><feFuncR type="linear" slope="1.163" intercept="-0.116"/><feFuncG type="linear" slope="1.163" intercept="-0.116"/><feFuncB type="linear" slope="1.163" intercept="-0.116"/></feComponentTransfer></filter><filter id="f82" x="0" y="0" width="1" height="1" color-interpolation-filters="sRGB"><feComponentTransfer><feFuncR type="linear" slope="1.163" intercept="-0.038"/><feFuncG type="linear" slope="1.163" intercept="-0.038"/><feFuncB type="linear" slope="1.163" intercept="-0.038"/></feComponentTransfer></filter><filter id="f83" x="0" y="0" width="1" height="1" color-interpolation-filters="sRGB"><feComponentTransfer><feFuncR type="linear" slope="0.806" intercept="0.089"/><feFuncG type="linear" slope="0.806" intercept="0.089"/><feFuncB type="linear" slope="0.806" intercept="0.089"/></feComponentTransfer></filter><filter id="f84" x="0" y="0" width="1" height="1" color-interpolation-filters="sRGB"><feComponentTransfer><feFuncR type="linear" slope="0.806" intercept="0.109"/><feFuncG type="linear" slope="0.806" intercept="0.109"/><feFuncB type="linear" slope="0.806" intercept="0.109"/></feComponentTransfer></filter><filter id="f85" x="0" y="0" width="1" height="1" color-interpolation-filters="sRGB"><feComponentTransfer><feFuncR type="linear" slope="0.806" intercept="0.072"/><feFuncG type="linear" slope="0.806" intercept="0.072"/><feFuncB type="linear" slope="0.806" intercept="0.072"/></feComponentTransfer></filter><filter id="f86" x="0" y="0" width="1" height="1" color-interpolation-filters="sRGB"><feComponentTransfer><feFuncR type="linear" slope="0.806" intercept="0.049"/><feFuncG type="linear" slope="0.806" intercept="0.049"/><feFuncB type="linear" slope="0.806" intercept="0.049"/></feComponentTransfer></filter><filter id="f87" x="0" y="0" width="1" height="1" color-interpolation-filters="sRGB"><feComponentTransfer><feFuncR type="linear" slope="0.806" intercept="0.082"/><feFuncG type="linear" slope="0.806" intercept="0.082"/><feFuncB type="linear" slope="0.806" intercept="0.082"/></feComponentTransfer></filter><filter id="f88" x="0" y="0" width="1" height="1" color-interpolation-filters="sRGB"><feComponentTransfer><feFuncR type="linear" slope="0.806" intercept="0.079"/><feFuncG type="linear" slope="0.806" intercept="0.079"/><feFuncB type="linear" slope="0.806" intercept="0.079"/></feComponentTransfer></filter><filter id="f89" x="0" y="0" width="1" height="1" color-interpolation-filters="sRGB"><feComponentTransfer><feFuncR type="linear" slope="0.806" intercept="0.039"/><feFuncG type="linear" slope="0.806" intercept="0.039"/><feFuncB type="linear" slope="0.806" intercept="0.039"/></feComponentTransfer></filter><filter id="f90" x="0" y="0" width="1" height="1" color-interpolation-filters="sRGB"><feComponentTransfer><feFuncR type="linear" slope="0.806" intercept="0.085"/><feFuncG type="linear" slope="0.806" intercept="0.085"/><feFuncB type="linear" slope="0.806" intercept="0.085"/></feComponentTransfer></filter><filter id="f91" x="0" y="0" width="1" height="1" color-interpolation-filters="sRGB"><feComponentTransfer><feFuncR type="linear" slope="0.767" intercept="0.118"/><feFuncG type="linear" slope="0.767" intercept="0.118"/><feFuncB type="linear" slope="0.767" intercept="0.118"/></feComponentTransfer></filter><filter id="f92" x="0" y="0" width="1" height="1" color-interpolation-filters="sRGB"><feComponentTransfer><feFuncR type="linear" slope="0.806" intercept="0.099"/><feFuncG type="linear" slope="0.806" intercept="0.099"/><feFuncB type="linear" slope="0.806" intercept="0.099"/></feComponentTransfer></filter><filter id="f93" x="0" y="0" width="1" height="1" color-interpolation-filters="sRGB"><feComponentTransfer><feFuncR type="linear" slope="0.806" intercept="0.022"/><feFuncG type="linear" slope="0.806" intercept="0.022"/><feFuncB type="linear" slope="0.806" intercept="0.022"/></feComponentTransfer></filter><filter id="f94" x="0" y="0" width="1" height="1" color-interpolation-filters="sRGB"><feComponentTransfer><feFuncR type="linear" slope="0.806" intercept="0.112"/><feFuncG type="linear" slope="0.806" intercept="0.112"/><feFuncB type="linear" slope="0.806" intercept="0.112"/></feComponentTransfer></filter><filter id="f95" x="0" y="0" width="1" height="1" color-interpolation-filters="sRGB"><feComponentTransfer><feFuncR type="linear" slope="0.806" intercept="0.062"/><feFuncG type="linear" slope="0.806" intercept="0.062"/><feFuncB type="linear" slope="0.806" intercept="0.062"/></feComponentTransfer></filter><filter id="f96" x="0" y="0" width="1" height="1" color-interpolation-filters="sRGB"><feComponentTransfer><feFuncR type="linear" slope="0.806" intercept="0.092"/><feFuncG type="linear" slope="0.806" intercept="0.092"/><feFuncB type="linear" slope="0.806" intercept="0.092"/></feComponentTransfer></filter><filter id="f97" x="0" y="0" width="1" height="1" color-interpolation-filters="sRGB"><feComponentTransfer><feFuncR type="linear" slope="0.806" intercept="0.042"/><feFuncG type="linear" slope="0.806" intercept="0.042"/><feFuncB type="linear" slope="0.806" intercept="0.042"/></feComponentTransfer></filter></defs>
<text x="1100.6" y="75.2" font-size="57.7" text-anchor="middle">cluster 290</text>
<text transform="translate(86.8,412.05) rotate(-90)" font-size="47" text-anchor="middle">all (N=104)</text>
<text x="298.05" y="199.2" font-size="57" text-anchor="middle">mean</text>
<g transform="translate(117.3,226.8) scale(7.31)">
<g filter="url(#f0)"><g transform="translate(0,0)"><rect x="0" y="0" width="50" height="50" fill="url(#N)"/></g></g>
<rect x="23" y="20" width="1" height="1" opacity="0.08"/><rect x="24" y="20" width="1" height="1" opacity="0.09"/><rect x="25" y="20" width="1" height="1" opacity="0.12"/><rect x="26" y="20" width="1" height="1" opacity="0.19"/><rect x="27" y="20" width="1" height="1" opacity="0.11"/><rect x="28" y="20" width="1" height="1" opacity="0.08"/><rect x="29" y="20" width="1" height="1" opacity="0.07"/><rect x="22" y="21" width="1" height="1" opacity="0.08"/><rect x="23" y="21" width="1" height="1" opacity="0.12"/><rect x="24" y="21" width="1" height="1" opacity="0.18"/><rect x="25" y="21" width="1" height="1" opacity="0.33"/><rect x="26" y="21" width="1" height="1" opacity="0.34"/><rect x="27" y="21" width="1" height="1" opacity="0.27"/><rect x="28" y="21" width="1" height="1" opacity="0.22"/><rect x="29" y="21" width="1" height="1" opacity="0.11"/><rect x="30" y="21" width="1" height="1" opacity="0.06"/><rect x="21" y="22" width="1" height="1" opacity="0.05"/><rect x="22" y="22" width="1" height="1" opacity="0.11"/><rect x="23" y="22" width="1" height="1" opacity="0.21"/><rect x="24" y="22" width="1" height="1" opacity="0.38"/><rect x="25" y="22" width="1" height="1" opacity="0.42"/><rect x="26" y="22" width="1" height="1" opacity="0.59"/><rect x="27" y="22" width="1" height="1" opacity="0.52"/><rect x="28" y="22" width="1" height="1" opacity="0.25"/><rect x="29" y="22" width="1" height="1" opacity="0.17"/><rect x="30" y="22" width="1" height="1" opacity="0.07"/><rect x="21" y="23" width="1" height="1" opacity="0.08"/><rect x="22" y="23" width="1" height="1" opacity="0.16"/><rect x="23" y="23" width="1" height="1" opacity="0.26"/><rect x="24" y="23" width="1" height="1" opacity="0.56"/><rect x="25" y="23" width="1" height="1" opacity="0.57"/><rect x="26" y="23" width="1" height="1" opacity="0.86"/><rect x="27" y="23" width="1" height="1" opacity="0.53"/><rect x="28" y="23" width="1" height="1" opacity="0.34"/><rect x="29" y="23" width="1" height="1" opacity="0.21"/><rect x="30" y="23" width="1" height="1" opacity="0.11"/><rect x="31" y="23" width="1" height="1" opacity="0.04"/><rect x="21" y="24" width="1" height="1" opacity="0.1"/><rect x="22" y="24" width="1" height="1" opacity="0.21"/><rect x="23" y="24" width="1" height="1" opacity="0.36"/><rect x="24" y="24" width="1" height="1" opacity="0.47"/><rect x="25" y="24" width="1" height="1" opacity="0.68"/><rect x="26" y="24" width="1" height="1" opacity="0.95"/><rect x="27" y="24" width="1" height="1" opacity="0.73"/><rect x="28" y="24" width="1" height="1" opacity="0.58"/><rect x="29" y="24" width="1" height="1" opacity="0.23"/><rect x="30" y="24" width="1" height="1" opacity="0.11"/><rect x="31" y="24" width="1" height="1" opacity="0.06"/><rect x="21" y="25" width="1" height="1" opacity="0.09"/><rect x="22" y="25" width="1" height="1" opacity="0.18"/><rect x="23" y="25" width="1" height="1" opacity="0.36"/><rect x="24" y="25" width="1" height="1" opacity="0.51"/><rect x="25" y="25" width="1" height="1" opacity="0.7"/><rect x="26" y="25" width="1" height="1" opacity="0.68"/><rect x="27" y="25" width="1" height="1" opacity="0.9"/><rect x="28" y="25" width="1" height="1" opacity="0.53"/><rect x="29" y="25" width="1" height="1" opacity="0.25"/><rect x="30" y="25" width="1" height="1" opacity="0.16"/><rect x="31" y="25" width="1" height="1" opacity="0.05"/><rect x="21" y="26" width="1" height="1" opacity="0.06"/><rect x="22" y="26" width="1" height="1" opacity="0.19"/><rect x="23" y="26" width="1" height="1" opacity="0.42"/><rect x="24" y="26" width="1" height="1" opacity="0.43"/><rect x="25" y="26" width="1" height="1" opacity="0.85"/><rect x="26" y="26" width="1" height="1" opacity="0.67"/><rect x="27" y="26" width="1" height="1" opacity="0.54"/><rect x="28" y="26" width="1" height="1" opacity="0.36"/><rect x="29" y="26" width="1" height="1" opacity="0.25"/><rect x="30" y="26" width="1" height="1" opacity="0.14"/><rect x="31" y="26" width="1" height="1" opacity="0.05"/><rect x="21" y="27" width="1" height="1" opacity="0.07"/><rect x="22" y="27" width="1" height="1" opacity="0.12"/><rect x="23" y="27" width="1" height="1" opacity="0.24"/><rect x="24" y="27" width="1" height="1" opacity="0.38"/><rect x="25" y="27" width="1" height="1" opacity="0.69"/><rect x="26" y="27" width="1" height="1" opacity="0.73"/><rect x="27" y="27" width="1" height="1" opacity="0.47"/><rect x="28" y="27" width="1" height="1" opacity="0.35"/><rect x="29" y="27" width="1" height="1" opacity="0.19"/><rect x="30" y="27" width="1" height="1" opacity="0.11"/><rect x="22" y="28" width="1" height="1" opacity="0.08"/><rect x="23" y="28" width="1" height="1" opacity="0.15"/><rect x="24" y="28" width="1" height="1" opacity="0.32"/><rect x="25" y="28" width="1" height="1" opacity="0.4"/><rect x="26" y="28" width="1" height="1" opacity="0.39"/><rect x="27" y="28" width="1" height="1" opacity="0.36"/><rect x="28" y="28" width="1" height="1" opacity="0.26"/><rect x="29" y="28" width="1" height="1" opacity="0.15"/><rect x="30" y="28" width="1" height="1" opacity="0.08"/><rect x="22" y="29" width="1" height="1" opacity="0.04"/><rect x="23" y="29" width="1" height="1" opacity="0.09"/><rect x="24" y="29" width="1" height="1" opacity="0.17"/><rect x="25" y="29" width="1" height="1" opacity="0.24"/><rect x="26" y="29" width="1" height="1" opacity="0.24"/><rect x="27" y="29" width="1" height="1" opacity="0.14"/><rect x="28" y="29" width="1" height="1" opacity="0.12"/><rect x="29" y="29" width="1" height="1" opacity="0.06"/><rect x="30" y="29" width="1" height="1" opacity="0.04"/><rect x="24" y="30" width="1" height="1" opacity="0.09"/><rect x="25" y="30" width="1" height="1" opacity="0.1"/><rect x="26" y="30" width="1" height="1" opacity="0.08"/><rect x="27" y="30" width="1" height="1" opacity="0.09"/><rect x="28" y="30" width="1" height="1" opacity="0.05"/>
<rect x="33" y="27" width="1" height="1" fill="#fff" opacity="0.85"/>
<rect x="1" y="32" width="2" height="1" opacity="0.6"/>
</g>
<rect x="117.3" y="226.8" width="365.5" height="365.5" fill="none" stroke="#000" stroke-width="4"/>
<text x="714.55" y="199.2" font-size="57" text-anchor="middle">sum</text>
<g transform="translate(533.8,226.8) scale(7.31)">
<g filter="url(#f0)"><g transform="translate(0,0)"><rect x="0" y="0" width="50" height="50" fill="url(#N)"/></g></g>
<rect x="23" y="20" width="1" height="1" opacity="0.08"/><rect x="24" y="20" width="1" height="1" opacity="0.11"/><rect x="25" y="20" width="1" height="1" opacity="0.16"/><rect x="26" y="20" width="1" height="1" opacity="0.15"/><rect x="27" y="20" width="1" height="1" opacity="0.11"/><rect x="28" y="20" width="1" height="1" opacity="0.09"/><rect x="29" y="20" width="1" height="1" opacity="0.05"/><rect x="22" y="21" width="1" height="1" opacity="0.07"/><rect x="23" y="21" width="1" height="1" opacity="0.17"/><rect x="24" y="21" width="1" height="1" opacity="0.27"/><rect x="25" y="21" width="1" height="1" opacity="0.32"/><rect x="26" y="21" width="1" height="1" opacity="0.24"/><rect x="27" y="21" width="1" height="1" opacity="0.31"/><rect x="28" y="21" width="1" height="1" opacity="0.21"/><rect x="29" y="21" width="1" height="1" opacity="0.09"/><rect x="30" y="21" width="1" height="1" opacity="0.05"/><rect x="21" y="22" width="1" height="1" opacity="0.05"/><rect x="22" y="22" width="1" height="1" opacity="0.13"/><rect x="23" y="22" width="1" height="1" opacity="0.26"/><rect x="24" y="22" width="1" height="1" opacity="0.41"/><rect x="25" y="22" width="1" height="1" opacity="0.42"/><rect x="26" y="22" width="1" height="1" opacity="0.58"/><rect x="27" y="22" width="1" height="1" opacity="0.39"/><rect x="28" y="22" width="1" height="1" opacity="0.25"/><rect x="29" y="22" width="1" height="1" opacity="0.17"/><rect x="30" y="22" width="1" height="1" opacity="0.08"/><rect x="21" y="23" width="1" height="1" opacity="0.07"/><rect x="22" y="23" width="1" height="1" opacity="0.17"/><rect x="23" y="23" width="1" height="1" opacity="0.28"/><rect x="24" y="23" width="1" height="1" opacity="0.55"/><rect x="25" y="23" width="1" height="1" opacity="0.63"/><rect x="26" y="23" width="1" height="1" opacity="0.8"/><rect x="27" y="23" width="1" height="1" opacity="0.56"/><rect x="28" y="23" width="1" height="1" opacity="0.5"/><rect x="29" y="23" width="1" height="1" opacity="0.24"/><rect x="30" y="23" width="1" height="1" opacity="0.12"/><rect x="31" y="23" width="1" height="1" opacity="0.05"/><rect x="21" y="24" width="1" height="1" opacity="0.08"/><rect x="22" y="24" width="1" height="1" opacity="0.17"/><rect x="23" y="24" width="1" height="1" opacity="0.48"/><rect x="24" y="24" width="1" height="1" opacity="0.5"/><rect x="25" y="24" width="1" height="1" opacity="0.74"/><rect x="26" y="24" width="1" height="1" opacity="0.89"/><rect x="27" y="24" width="1" height="1" opacity="0.57"/><rect x="28" y="24" width="1" height="1" opacity="0.44"/><rect x="29" y="24" width="1" height="1" opacity="0.35"/><rect x="30" y="24" width="1" height="1" opacity="0.16"/><rect x="31" y="24" width="1" height="1" opacity="0.06"/><rect x="21" y="25" width="1" height="1" opacity="0.1"/><rect x="22" y="25" width="1" height="1" opacity="0.23"/><rect x="23" y="25" width="1" height="1" opacity="0.36"/><rect x="24" y="25" width="1" height="1" opacity="0.69"/><rect x="25" y="25" width="1" height="1" opacity="0.77"/><rect x="26" y="25" width="1" height="1" opacity="0.95"/><rect x="27" y="25" width="1" height="1" opacity="0.73"/><rect x="28" y="25" width="1" height="1" opacity="0.45"/><rect x="29" y="25" width="1" height="1" opacity="0.37"/><rect x="30" y="25" width="1" height="1" opacity="0.16"/><rect x="31" y="25" width="1" height="1" opacity="0.06"/><rect x="21" y="26" width="1" height="1" opacity="0.08"/><rect x="22" y="26" width="1" height="1" opacity="0.2"/><rect x="23" y="26" width="1" height="1" opacity="0.34"/><rect x="24" y="26" width="1" height="1" opacity="0.59"/><rect x="25" y="26" width="1" height="1" opacity="0.58"/><rect x="26" y="26" width="1" height="1" opacity="0.81"/><rect x="27" y="26" width="1" height="1" opacity="0.79"/><rect x="28" y="26" width="1" height="1" opacity="0.53"/><rect x="29" y="26" width="1" height="1" opacity="0.32"/><rect x="30" y="26" width="1" height="1" opacity="0.13"/><rect x="31" y="26" width="1" height="1" opacity="0.06"/><rect x="21" y="27" width="1" height="1" opacity="0.04"/><rect x="22" y="27" width="1" height="1" opacity="0.16"/><rect x="23" y="27" width="1" height="1" opacity="0.25"/><rect x="24" y="27" width="1" height="1" opacity="0.34"/><rect x="25" y="27" width="1" height="1" opacity="0.59"/><rect x="26" y="27" width="1" height="1" opacity="0.58"/><rect x="27" y="27" width="1" height="1" opacity="0.5"/><rect x="28" y="27" width="1" height="1" opacity="0.43"/><rect x="29" y="27" width="1" height="1" opacity="0.17"/><rect x="30" y="27" width="1" height="1" opacity="0.1"/><rect x="22" y="28" width="1" height="1" opacity="0.09"/><rect x="23" y="28" width="1" height="1" opacity="0.14"/><rect x="24" y="28" width="1" height="1" opacity="0.28"/><rect x="25" y="28" width="1" height="1" opacity="0.43"/><rect x="26" y="28" width="1" height="1" opacity="0.32"/><rect x="27" y="28" width="1" height="1" opacity="0.25"/><rect x="28" y="28" width="1" height="1" opacity="0.18"/><rect x="29" y="28" width="1" height="1" opacity="0.13"/><rect x="30" y="28" width="1" height="1" opacity="0.08"/><rect x="22" y="29" width="1" height="1" opacity="0.05"/><rect x="23" y="29" width="1" height="1" opacity="0.08"/><rect x="24" y="29" width="1" height="1" opacity="0.15"/><rect x="25" y="29" width="1" height="1" opacity="0.17"/><rect x="26" y="29" width="1" height="1" opacity="0.23"/><rect x="27" y="29" width="1" height="1" opacity="0.19"/><rect x="28" y="29" width="1" height="1" opacity="0.12"/><rect x="29" y="29" width="1" height="1" opacity="0.06"/><rect x="30" y="29" width="1" height="1" opacity="0.04"/><rect x="23" y="30" width="1" height="1" opacity="0.05"/><rect x="24" y="30" width="1" height="1" opacity="0.09"/><rect x="25" y="30" width="1" height="1" opacity="0.07"/><rect x="26" y="30" width="1" height="1" opacity="0.08"/><rect x="27" y="30" width="1" height="1" opacity="0.08"/><rect x="28" y="30" width="1" height="1" opacity="0.06"/>
<rect x="33" y="27" width="1" height="1" fill="#fff" opacity="0.85"/>
<rect x="1" y="32" width="2" height="1" opacity="0.6"/>
</g>
<rect x="533.8" y="226.8" width="365.5" height="365.5" fill="none" stroke="#000" stroke-width="4"/>
<text x="1131.05" y="199.2" font-size="57" text-anchor="middle">median</text>
<g transform="translate(950.3,226.8) scale(7.31)">
<g filter="url(#f1)"><g transform="translate(-17,-9)"><rect x="17" y="9" width="50" height="50" fill="url(#N)"/></g></g>
<rect x="23" y="20" width="1" height="1" opacity="0.06"/><rect x="24" y="20" width="1" height="1" opacity="0.07"/><rect x="25" y="20" width="1" height="1" opacity="0.09"/><rect x="26" y="20" width="1" height="1" opacity="0.13"/><rect x="27" y="20" width="1" height="1" opacity="0.13"/><rect x="28" y="20" width="1" height="1" opacity="0.09"/><rect x="29" y="20" width="1" height="1" opacity="0.04"/><rect x="22" y="21" width="1" height="1" opacity="0.06"/><rect x="23" y="21" width="1" height="1" opacity="0.1"/><rect x="24" y="21" width="1" height="1" opacity="0.15"/><rect x="25" y="21" width="1" height="1" opacity="0.24"/><rect x="26" y="21" width="1" height="1" opacity="0.2"/><rect x="27" y="21" width="1" height="1" opacity="0.23"/><rect x="28" y="21" width="1" height="1" opacity="0.17"/><rect x="29" y="21" width="1" height="1" opacity="0.1"/><rect x="30" y="21" width="1" height="1" opacity="0.04"/><rect x="21" y="22" width="1" height="1" opacity="0.05"/><rect x="22" y="22" width="1" height="1" opacity="0.11"/><rect x="23" y="22" width="1" height="1" opacity="0.22"/><rect x="24" y="22" width="1" height="1" opacity="0.31"/><rect x="25" y="22" width="1" height="1" opacity="0.42"/><rect x="26" y="22" width="1" height="1" opacity="0.38"/><rect x="27" y="22" width="1" height="1" opacity="0.3"/><rect x="28" y="22" width="1" height="1" opacity="0.22"/><rect x="29" y="22" width="1" height="1" opacity="0.16"/><rect x="30" y="22" width="1" height="1" opacity="0.06"/><rect x="21" y="23" width="1" height="1" opacity="0.05"/><rect x="22" y="23" width="1" height="1" opacity="0.13"/><rect x="23" y="23" width="1" height="1" opacity="0.32"/><rect x="24" y="23" width="1" height="1" opacity="0.34"/><rect x="25" y="23" width="1" height="1" opacity="0.54"/><rect x="26" y="23" width="1" height="1" opacity="0.48"/><rect x="27" y="23" width="1" height="1" opacity="0.61"/><rect x="28" y="23" width="1" height="1" opacity="0.35"/><rect x="29" y="23" width="1" height="1" opacity="0.18"/><rect x="30" y="23" width="1" height="1" opacity="0.08"/><rect x="21" y="24" width="1" height="1" opacity="0.06"/><rect x="22" y="24" width="1" height="1" opacity="0.13"/><rect x="23" y="24" width="1" height="1" opacity="0.24"/><rect x="24" y="24" width="1" height="1" opacity="0.47"/><rect x="25" y="24" width="1" height="1" opacity="0.68"/><rect x="26" y="24" width="1" height="1" opacity="0.7"/><rect x="27" y="24" width="1" height="1" opacity="0.72"/><rect x="28" y="24" width="1" height="1" opacity="0.51"/><rect x="29" y="24" width="1" height="1" opacity="0.29"/><rect x="30" y="24" width="1" height="1" opacity="0.13"/><rect x="31" y="24" width="1" height="1" opacity="0.04"/><rect x="21" y="25" width="1" height="1" opacity="0.07"/><rect x="22" y="25" width="1" height="1" opacity="0.15"/><rect x="23" y="25" width="1" height="1" opacity="0.3"/><rect x="24" y="25" width="1" height="1" opacity="0.4"/><rect x="25" y="25" width="1" height="1" opacity="0.77"/><rect x="26" y="25" width="1" height="1" opacity="0.62"/><rect x="27" y="25" width="1" height="1" opacity="0.47"/><rect x="28" y="25" width="1" height="1" opacity="0.43"/><rect x="29" y="25" width="1" height="1" opacity="0.28"/><rect x="30" y="25" width="1" height="1" opacity="0.11"/><rect x="31" y="25" width="1" height="1" opacity="0.04"/><rect x="21" y="26" width="1" height="1" opacity="0.06"/><rect x="22" y="26" width="1" height="1" opacity="0.12"/><rect x="23" y="26" width="1" height="1" opacity="0.21"/><rect x="24" y="26" width="1" height="1" opacity="0.47"/><rect x="25" y="26" width="1" height="1" opacity="0.6"/><rect x="26" y="26" width="1" height="1" opacity="0.75"/><rect x="27" y="26" width="1" height="1" opacity="0.52"/><rect x="28" y="26" width="1" height="1" opacity="0.44"/><rect x="29" y="26" width="1" height="1" opacity="0.17"/><rect x="30" y="26" width="1" height="1" opacity="0.08"/><rect x="31" y="26" width="1" height="1" opacity="0.04"/><rect x="21" y="27" width="1" height="1" opacity="0.04"/><rect x="22" y="27" width="1" height="1" opacity="0.08"/><rect x="23" y="27" width="1" height="1" opacity="0.17"/><rect x="24" y="27" width="1" height="1" opacity="0.32"/><rect x="25" y="27" width="1" height="1" opacity="0.41"/><rect x="26" y="27" width="1" height="1" opacity="0.49"/><rect x="27" y="27" width="1" height="1" opacity="0.49"/><rect x="28" y="27" width="1" height="1" opacity="0.27"/><rect x="29" y="27" width="1" height="1" opacity="0.14"/><rect x="30" y="27" width="1" height="1" opacity="0.08"/><rect x="22" y="28" width="1" height="1" opacity="0.06"/><rect x="23" y="28" width="1" height="1" opacity="0.13"/><rect x="24" y="28" width="1" height="1" opacity="0.17"/><rect x="25" y="28" width="1" height="1" opacity="0.3"/><rect x="26" y="28" width="1" height="1" opacity="0.33"/><rect x="27" y="28" width="1" height="1" opacity="0.3"/><rect x="28" y="28" width="1" height="1" opacity="0.23"/><rect x="29" y="28" width="1" height="1" opacity="0.1"/><rect x="30" y="28" width="1" height="1" opacity="0.05"/><rect x="22" y="29" width="1" height="1" opacity="0.05"/><rect x="23" y="29" width="1" height="1" opacity="0.09"/><rect x="24" y="29" width="1" height="1" opacity="0.15"/><rect x="25" y="29" width="1" height="1" opacity="0.19"/><rect x="26" y="29" width="1" height="1" opacity="0.21"/><rect x="27" y="29" width="1" height="1" opacity="0.12"/><rect x="28" y="29" width="1" height="1" opacity="0.08"/><rect x="29" y="29" width="1" height="1" opacity="0.05"/><rect x="23" y="30" width="1" height="1" opacity="0.04"/><rect x="24" y="30" width="1" height="1" opacity="0.05"/><rect x="25" y="30" width="1" height="1" opacity="0.08"/><rect x="26" y="30" width="1" height="1" opacity="0.06"/><rect x="27" y="30" width="1" height="1" opacity="0.06"/><rect x="28" y="30" width="1" height="1" opacity="0.05"/>
<rect x="33" y="27" width="1" height="1" fill="#fff" opacity="0.85"/>
</g>
<rect x="950.3" y="226.8" width="365.5" height="365.5" fill="none" stroke="#000" stroke-width="4"/>
<text x="1547.55" y="199.2" font-size="57" text-anchor="middle">weighted</text>
<g transform="translate(1366.8,226.8) scale(7.31)">
<g filter="url(#f2)"><g transform="translate(-31,-22)"><rect x="31" y="22" width="50" height="50" fill="url(#N)"/></g></g>
<rect x="23" y="20" width="1" height="1" opacity="0.05"/><rect x="24" y="20" width="1" height="1" opacity="0.09"/><rect x="25" y="20" width="1" height="1" opacity="0.1"/><rect x="26" y="20" width="1" height="1" opacity="0.17"/><rect x="27" y="20" width="1" height="1" opacity="0.1"/><rect x="28" y="20" width="1" height="1" opacity="0.11"/><rect x="29" y="20" width="1" height="1" opacity="0.04"/><rect x="22" y="21" width="1" height="1" opacity="0.06"/><rect x="23" y="21" width="1" height="1" opacity="0.1"/><rect x="24" y="21" width="1" height="1" opacity="0.19"/><rect x="25" y="21" width="1" height="1" opacity="0.2"/><rect x="26" y="21" width="1" height="1" opacity="0.24"/><rect x="27" y="21" width="1" height="1" opacity="0.29"/><rect x="28" y="21" width="1" height="1" opacity="0.15"/><rect x="29" y="21" width="1" height="1" opacity="0.09"/><rect x="30" y="21" width="1" height="1" opacity="0.05"/><rect x="21" y="22" width="1" height="1" opacity="0.04"/><rect x="22" y="22" width="1" height="1" opacity="0.1"/><rect x="23" y="22" width="1" height="1" opacity="0.23"/><rect x="24" y="22" width="1" height="1" opacity="0.38"/><rect x="25" y="22" width="1" height="1" opacity="0.45"/><rect x="26" y="22" width="1" height="1" opacity="0.38"/><rect x="27" y="22" width="1" height="1" opacity="0.33"/><rect x="28" y="22" width="1" height="1" opacity="0.31"/><rect x="29" y="22" width="1" height="1" opacity="0.18"/><rect x="30" y="22" width="1" height="1" opacity="0.09"/><rect x="21" y="23" width="1" height="1" opacity="0.06"/><rect x="22" y="23" width="1" height="1" opacity="0.12"/><rect x="23" y="23" width="1" height="1" opacity="0.34"/><rect x="24" y="23" width="1" height="1" opacity="0.51"/><rect x="25" y="23" width="1" height="1" opacity="0.63"/><rect x="26" y="23" width="1" height="1" opacity="0.7"/><rect x="27" y="23" width="1" height="1" opacity="0.53"/><rect x="28" y="23" width="1" height="1" opacity="0.36"/><rect x="29" y="23" width="1" height="1" opacity="0.23"/><rect x="30" y="23" width="1" height="1" opacity="0.1"/><rect x="31" y="23" width="1" height="1" opacity="0.04"/><rect x="21" y="24" width="1" height="1" opacity="0.09"/><rect x="22" y="24" width="1" height="1" opacity="0.21"/><rect x="23" y="24" width="1" height="1" opacity="0.33"/><rect x="24" y="24" width="1" height="1" opacity="0.52"/><rect x="25" y="24" width="1" height="1" opacity="0.89"/><rect x="26" y="24" width="1" height="1" opacity="0.74"/><rect x="27" y="24" width="1" height="1" opacity="0.78"/><rect x="28" y="24" width="1" height="1" opacity="0.38"/><rect x="29" y="24" width="1" height="1" opacity="0.26"/><rect x="30" y="24" width="1" height="1" opacity="0.13"/><rect x="31" y="24" width="1" height="1" opacity="0.06"/><rect x="21" y="25" width="1" height="1" opacity="0.09"/><rect x="22" y="25" width="1" height="1" opacity="0.15"/><rect x="23" y="25" width="1" height="1" opacity="0.38"/><rect x="24" y="25" width="1" height="1" opacity="0.61"/><rect x="25" y="25" width="1" height="1" opacity="0.62"/><rect x="26" y="25" width="1" height="1" opacity="0.94"/><rect x="27" y="25" width="1" height="1" opacity="0.71"/><rect x="28" y="25" width="1" height="1" opacity="0.6"/><rect x="29" y="25" width="1" height="1" opacity="0.24"/><rect x="30" y="25" width="1" height="1" opacity="0.13"/><rect x="31" y="25" width="1" height="1" opacity="0.05"/><rect x="21" y="26" width="1" height="1" opacity="0.07"/><rect x="22" y="26" width="1" height="1" opacity="0.17"/><rect x="23" y="26" width="1" height="1" opacity="0.32"/><rect x="24" y="26" width="1" height="1" opacity="0.46"/><rect x="25" y="26" width="1" height="1" opacity="0.67"/><rect x="26" y="26" width="1" height="1" opacity="0.66"/><rect x="27" y="26" width="1" height="1" opacity="0.73"/><rect x="28" y="26" width="1" height="1" opacity="0.42"/><rect x="29" y="26" width="1" height="1" opacity="0.24"/><rect x="30" y="26" width="1" height="1" opacity="0.1"/><rect x="31" y="26" width="1" height="1" opacity="0.04"/><rect x="21" y="27" width="1" height="1" opacity="0.06"/><rect x="22" y="27" width="1" height="1" opacity="0.11"/><rect x="23" y="27" width="1" height="1" opacity="0.28"/><rect x="24" y="27" width="1" height="1" opacity="0.4"/><rect x="25" y="27" width="1" height="1" opacity="0.62"/><rect x="26" y="27" width="1" height="1" opacity="0.45"/><rect x="27" y="27" width="1" height="1" opacity="0.57"/><rect x="28" y="27" width="1" height="1" opacity="0.37"/><rect x="29" y="27" width="1" height="1" opacity="0.19"/><rect x="30" y="27" width="1" height="1" opacity="0.1"/><rect x="22" y="28" width="1" height="1" opacity="0.08"/><rect x="23" y="28" width="1" height="1" opacity="0.13"/><rect x="24" y="28" width="1" height="1" opacity="0.19"/><rect x="25" y="28" width="1" height="1" opacity="0.35"/><rect x="26" y="28" width="1" height="1" opacity="0.34"/><rect x="27" y="28" width="1" height="1" opacity="0.36"/><rect x="28" y="28" width="1" height="1" opacity="0.19"/><rect x="29" y="28" width="1" height="1" opacity="0.14"/><rect x="30" y="28" width="1" height="1" opacity="0.07"/><rect x="23" y="29" width="1" height="1" opacity="0.07"/><rect x="24" y="29" width="1" height="1" opacity="0.12"/><rect x="25" y="29" width="1" height="1" opacity="0.17"/><rect x="26" y="29" width="1" height="1" opacity="0.15"/><rect x="27" y="29" width="1" height="1" opacity="0.14"/><rect x="28" y="29" width="1" height="1" opacity="0.09"/><rect x="29" y="29" width="1" height="1" opacity="0.08"/><rect x="23" y="30" width="1" height="1" opacity="0.05"/><rect x="24" y="30" width="1" height="1" opacity="0.06"/><rect x="25" y="30" width="1" height="1" opacity="0.09"/><rect x="26" y="30" width="1" height="1" opacity="0.07"/><rect x="27" y="30" width="1" height="1" opacity="0.07"/><rect x="28" y="30" width="1" height="1" opacity="0.05"/>
<rect x="33" y="27" width="1" height="1" fill="#fff" opacity="0.85"/>
<rect x="1" y="32" width="2" height="1" opacity="0.6"/>
</g>
<rect x="1366.8" y="226.8" width="365.5" height="365.5" fill="none" stroke="#000" stroke-width="4"/>
<text x="1964.05" y="199.2" font-size="57" text-anchor="middle">mask</text>
<rect x="1783.3" y="226.8" width="365.5" height="365.5" fill="#fde725"/>
<polygon fill="#440154" points="1783.3,226.8 1849.4,226.8 1849.4,314 1869.3,314 1869.3,460.8 1879,460.8 1879,592.3 1783.3,592.3"/>
<rect x="1783.3" y="226.8" width="365.5" height="365.5" fill="none" stroke="#000" stroke-width="4"/>
<text transform="translate(86.8,898.05) rotate(-90)" font-size="47" text-anchor="middle">detected (N=27)</text>
<text x="298.05" y="683" font-size="57" text-anchor="middle">mean</text>
<g transform="translate(117.3,712.8) scale(7.31)">
<g filter="url(#f3)"><g transform="translate(-5,-40)"><rect x="5" y="40" width="50" height="50" fill="url(#N)"/></g></g>
<rect x="23" y="20" width="1" height="1" opacity="0.09"/><rect x="24" y="20" width="1" height="1" opacity="0.09"/><rect x="25" y="20" width="1" height="1" opacity="0.12"/><rect x="26" y="20" width="1" height="1" opacity="0.13"/><rect x="27" y="20" width="1" height="1" opacity="0.17"/><rect x="28" y="20" width="1" height="1" opacity="0.11"/><rect x="29" y="20" width="1" height="1" opacity="0.06"/><rect x="22" y="21" width="1" height="1" opacity="0.06"/><rect x="23" y="21" width="1" height="1" opacity="0.14"/><rect x="24" y="21" width="1" height="1" opacity="0.25"/><rect x="25" y="21" width="1" height="1" opacity="0.34"/><rect x="26" y="21" width="1" height="1" opacity="0.28"/><rect x="27" y="21" width="1" height="1" opacity="0.27"/><rect x="28" y="21" width="1" height="1" opacity="0.15"/><rect x="29" y="21" width="1" height="1" opacity="0.1"/><rect x="30" y="21" width="1" height="1" opacity="0.06"/><rect x="21" y="22" width="1" height="1" opacity="0.05"/><rect x="22" y="22" width="1" height="1" opacity="0.13"/><rect x="23" y="22" width="1" height="1" opacity="0.28"/><rect x="24" y="22" width="1" height="1" opacity="0.34"/><rect x="25" y="22" width="1" height="1" opacity="0.61"/><rect x="26" y="22" width="1" height="1" opacity="0.51"/><rect x="27" y="22" width="1" height="1" opacity="0.37"/><rect x="28" y="22" width="1" height="1" opacity="0.32"/><rect x="29" y="22" width="1" height="1" opacity="0.19"/><rect x="30" y="22" width="1" height="1" opacity="0.09"/><rect x="21" y="23" width="1" height="1" opacity="0.05"/><rect x="22" y="23" width="1" height="1" opacity="0.18"/><rect x="23" y="23" width="1" height="1" opacity="0.4"/><rect x="24" y="23" width="1" height="1" opacity="0.57"/><rect x="25" y="23" width="1" height="1" opacity="0.85"/><rect x="26" y="23" width="1" height="1" opacity="0.74"/><rect x="27" y="23" width="1" height="1" opacity="0.73"/><rect x="28" y="23" width="1" height="1" opacity="0.37"/><rect x="29" y="23" width="1" height="1" opacity="0.31"/><rect x="30" y="23" width="1" height="1" opacity="0.12"/><rect x="31" y="23" width="1" height="1" opacity="0.05"/><rect x="21" y="24" width="1" height="1" opacity="0.07"/><rect x="22" y="24" width="1" height="1" opacity="0.21"/><rect x="23" y="24" width="1" height="1" opacity="0.46"/><rect x="24" y="24" width="1" height="1" opacity="0.7"/><rect x="25" y="24" width="1" height="1" opacity="0.88"/><rect x="26" y="24" width="1" height="1" opacity="0.95"/><rect x="27" y="24" width="1" height="1" opacity="0.61"/><rect x="28" y="24" width="1" height="1" opacity="0.43"/><rect x="29" y="24" width="1" height="1" opacity="0.32"/><rect x="30" y="24" width="1" height="1" opacity="0.18"/><rect x="31" y="24" width="1" height="1" opacity="0.06"/><rect x="21" y="25" width="1" height="1" opacity="0.08"/><rect x="22" y="25" width="1" height="1" opacity="0.17"/><rect x="23" y="25" width="1" height="1" opacity="0.4"/><rect x="24" y="25" width="1" height="1" opacity="0.65"/><rect x="25" y="25" width="1" height="1" opacity="0.84"/><rect x="26" y="25" width="1" height="1" opacity="0.95"/><rect x="27" y="25" width="1" height="1" opacity="0.7"/><rect x="28" y="25" width="1" height="1" opacity="0.66"/><rect x="29" y="25" width="1" height="1" opacity="0.28"/><rect x="30" y="25" width="1" height="1" opacity="0.12"/><rect x="31" y="25" width="1" height="1" opacity="0.05"/><rect x="21" y="26" width="1" height="1" opacity="0.09"/><rect x="22" y="26" width="1" height="1" opacity="0.15"/><rect x="23" y="26" width="1" height="1" opacity="0.32"/><rect x="24" y="26" width="1" height="1" opacity="0.7"/><rect x="25" y="26" width="1" height="1" opacity="0.7"/><rect x="26" y="26" width="1" height="1" opacity="0.94"/><rect x="27" y="26" width="1" height="1" opacity="0.54"/><rect x="28" y="26" width="1" height="1" opacity="0.59"/><rect x="29" y="26" width="1" height="1" opacity="0.24"/><rect x="30" y="26" width="1" height="1" opacity="0.11"/><rect x="31" y="26" width="1" height="1" opacity="0.06"/><rect x="21" y="27" width="1" height="1" opacity="0.07"/><rect x="22" y="27" width="1" height="1" opacity="0.17"/><rect x="23" y="27" width="1" height="1" opacity="0.31"/><rect x="24" y="27" width="1" height="1" opacity="0.53"/><rect x="25" y="27" width="1" height="1" opacity="0.71"/><rect x="26" y="27" width="1" height="1" opacity="0.62"/><rect x="27" y="27" width="1" height="1" opacity="0.43"/><rect x="28" y="27" width="1" height="1" opacity="0.44"/><rect x="29" y="27" width="1" height="1" opacity="0.2"/><rect x="30" y="27" width="1" height="1" opacity="0.09"/><rect x="22" y="28" width="1" height="1" opacity="0.07"/><rect x="23" y="28" width="1" height="1" opacity="0.15"/><rect x="24" y="28" width="1" height="1" opacity="0.3"/><rect x="25" y="28" width="1" height="1" opacity="0.42"/><rect x="26" y="28" width="1" height="1" opacity="0.48"/><rect x="27" y="28" width="1" height="1" opacity="0.39"/><rect x="28" y="28" width="1" height="1" opacity="0.29"/><rect x="29" y="28" width="1" height="1" opacity="0.15"/><rect x="30" y="28" width="1" height="1" opacity="0.07"/><rect x="22" y="29" width="1" height="1" opacity="0.04"/><rect x="23" y="29" width="1" height="1" opacity="0.11"/><rect x="24" y="29" width="1" height="1" opacity="0.13"/><rect x="25" y="29" width="1" height="1" opacity="0.23"/><rect x="26" y="29" width="1" height="1" opacity="0.21"/><rect x="27" y="29" width="1" height="1" opacity="0.14"/><rect x="28" y="29" width="1" height="1" opacity="0.14"/><rect x="29" y="29" width="1" height="1" opacity="0.07"/><rect x="23" y="30" width="1" height="1" opacity="0.05"/><rect x="24" y="30" width="1" height="1" opacity="0.06"/><rect x="25" y="30" width="1" height="1" opacity="0.09"/><rect x="26" y="30" width="1" height="1" opacity="0.11"/><rect x="27" y="30" width="1" height="1" opacity="0.11"/><rect x="28" y="30" width="1" height="1" opacity="0.05"/>
</g>
<rect x="117.3" y="712.8" width="365.5" height="365.5" fill="none" stroke="#000" stroke-width="4"/>
<text x="714.55" y="683" font-size="57" text-anchor="middle">sum</text>
<g transform="translate(533.8,712.8) scale(7.31)">
<g filter="url(#f3)"><g transform="translate(-5,-40)"><rect x="5" y="40" width="50" height="50" fill="url(#N)"/></g></g>
<rect x="23" y="20" width="1" height="1" opacity="0.06"/><rect x="24" y="20" width="1" height="1" opacity="0.1"/><rect x="25" y="20" width="1" height="1" opacity="0.15"/><rect x="26" y="20" width="1" height="1" opacity="0.18"/><rect x="27" y="20" width="1" height="1" opacity="0.13"/><rect x="28" y="20" width="1" height="1" opacity="0.08"/><rect x="29" y="20" width="1" height="1" opacity="0.05"/><rect x="22" y="21" width="1" height="1" opacity="0.08"/><rect x="23" y="21" width="1" height="1" opacity="0.16"/><rect x="24" y="21" width="1" height="1" opacity="0.19"/><rect x="25" y="21" width="1" height="1" opacity="0.23"/><rect x="26" y="21" width="1" height="1" opacity="0.25"/><rect x="27" y="21" width="1" height="1" opacity="0.26"/><rect x="28" y="21" width="1" height="1" opacity="0.18"/><rect x="29" y="21" width="1" height="1" opacity="0.12"/><rect x="30" y="21" width="1" height="1" opacity="0.04"/><rect x="21" y="22" width="1" height="1" opacity="0.05"/><rect x="22" y="22" width="1" height="1" opacity="0.12"/><rect x="23" y="22" width="1" height="1" opacity="0.23"/><rect x="24" y="22" width="1" height="1" opacity="0.45"/><rect x="25" y="22" width="1" height="1" opacity="0.39"/><rect x="26" y="22" width="1" height="1" opacity="0.44"/><rect x="27" y="22" width="1" height="1" opacity="0.47"/><rect x="28" y="22" width="1" height="1" opacity="0.33"/><rect x="29" y="22" width="1" height="1" opacity="0.22"/><rect x="30" y="22" width="1" height="1" opacity="0.1"/><rect x="21" y="23" width="1" height="1" opacity="0.08"/><rect x="22" y="23" width="1" height="1" opacity="0.18"/><rect x="23" y="23" width="1" height="1" opacity="0.27"/><rect x="24" y="23" width="1" height="1" opacity="0.55"/><rect x="25" y="23" width="1" height="1" opacity="0.62"/><rect x="26" y="23" width="1" height="1" opacity="0.68"/><rect x="27" y="23" width="1" height="1" opacity="0.53"/><rect x="28" y="23" width="1" height="1" opacity="0.34"/><rect x="29" y="23" width="1" height="1" opacity="0.3"/><rect x="30" y="23" width="1" height="1" opacity="0.13"/><rect x="31" y="23" width="1" height="1" opacity="0.05"/><rect x="21" y="24" width="1" height="1" opacity="0.07"/><rect x="22" y="24" width="1" height="1" opacity="0.19"/><rect x="23" y="24" width="1" height="1" opacity="0.33"/><rect x="24" y="24" width="1" height="1" opacity="0.67"/><rect x="25" y="24" width="1" height="1" opacity="0.95"/><rect x="26" y="24" width="1" height="1" opacity="0.95"/><rect x="27" y="24" width="1" height="1" opacity="0.93"/><rect x="28" y="24" width="1" height="1" opacity="0.47"/><rect x="29" y="24" width="1" height="1" opacity="0.34"/><rect x="30" y="24" width="1" height="1" opacity="0.12"/><rect x="31" y="24" width="1" height="1" opacity="0.06"/><rect x="21" y="25" width="1" height="1" opacity="0.07"/><rect x="22" y="25" width="1" height="1" opacity="0.21"/><rect x="23" y="25" width="1" height="1" opacity="0.42"/><rect x="24" y="25" width="1" height="1" opacity="0.61"/><rect x="25" y="25" width="1" height="1" opacity="0.79"/><rect x="26" y="25" width="1" height="1" opacity="0.95"/><rect x="27" y="25" width="1" height="1" opacity="0.78"/><rect x="28" y="25" width="1" height="1" opacity="0.53"/><rect x="29" y="25" width="1" height="1" opacity="0.26"/><rect x="30" y="25" width="1" height="1" opacity="0.13"/><rect x="31" y="25" width="1" height="1" opacity="0.07"/><rect x="21" y="26" width="1" height="1" opacity="0.09"/><rect x="22" y="26" width="1" height="1" opacity="0.17"/><rect x="23" y="26" width="1" height="1" opacity="0.43"/><rect x="24" y="26" width="1" height="1" opacity="0.69"/><rect x="25" y="26" width="1" height="1" opacity="0.65"/><rect x="26" y="26" width="1" height="1" opacity="0.71"/><rect x="27" y="26" width="1" height="1" opacity="0.77"/><rect x="28" y="26" width="1" height="1" opacity="0.44"/><rect x="29" y="26" width="1" height="1" opacity="0.34"/><rect x="30" y="26" width="1" height="1" opacity="0.12"/><rect x="31" y="26" width="1" height="1" opacity="0.06"/><rect x="21" y="27" width="1" height="1" opacity="0.06"/><rect x="22" y="27" width="1" height="1" opacity="0.12"/><rect x="23" y="27" width="1" height="1" opacity="0.32"/><rect x="24" y="27" width="1" height="1" opacity="0.4"/><rect x="25" y="27" width="1" height="1" opacity="0.46"/><rect x="26" y="27" width="1" height="1" opacity="0.47"/><rect x="27" y="27" width="1" height="1" opacity="0.51"/><rect x="28" y="27" width="1" height="1" opacity="0.4"/><rect x="29" y="27" width="1" height="1" opacity="0.19"/><rect x="30" y="27" width="1" height="1" opacity="0.12"/><rect x="21" y="28" width="1" height="1" opacity="0.04"/><rect x="22" y="28" width="1" height="1" opacity="0.07"/><rect x="23" y="28" width="1" height="1" opacity="0.15"/><rect x="24" y="28" width="1" height="1" opacity="0.23"/><rect x="25" y="28" width="1" height="1" opacity="0.36"/><rect x="26" y="28" width="1" height="1" opacity="0.36"/><rect x="27" y="28" width="1" height="1" opacity="0.32"/><rect x="28" y="28" width="1" height="1" opacity="0.28"/><rect x="29" y="28" width="1" height="1" opacity="0.14"/><rect x="30" y="28" width="1" height="1" opacity="0.07"/><rect x="22" y="29" width="1" height="1" opacity="0.05"/><rect x="23" y="29" width="1" height="1" opacity="0.11"/><rect x="24" y="29" width="1" height="1" opacity="0.19"/><rect x="25" y="29" width="1" height="1" opacity="0.22"/><rect x="26" y="29" width="1" height="1" opacity="0.21"/><rect x="27" y="29" width="1" height="1" opacity="0.17"/><rect x="28" y="29" width="1" height="1" opacity="0.16"/><rect x="29" y="29" width="1" height="1" opacity="0.09"/><rect x="30" y="29" width="1" height="1" opacity="0.04"/><rect x="23" y="30" width="1" height="1" opacity="0.04"/><rect x="24" y="30" width="1" height="1" opacity="0.09"/><rect x="25" y="30" width="1" height="1" opacity="0.1"/><rect x="26" y="30" width="1" height="1" opacity="0.09"/><rect x="27" y="30" width="1" height="1" opacity="0.08"/><rect x="28" y="30" width="1" height="1" opacity="0.05"/><rect x="29" y="30" width="1" height="1" opacity="0.04"/>
</g>
<rect x="533.8" y="712.8" width="365.5" height="365.5" fill="none" stroke="#000" stroke-width="4"/>
<text x="1131.05" y="683" font-size="57" text-anchor="middle">median</text>
<g transform="translate(950.3,712.8) scale(7.31)">
<g filter="url(#f4)"><g transform="translate(-23,-3)"><rect x="23" y="3" width="50" height="50" fill="url(#N)"/></g></g>
<rect x="23" y="20" width="1" height="1" opacity="0.05"/><rect x="24" y="20" width="1" height="1" opacity="0.1"/><rect x="25" y="20" width="1" height="1" opacity="0.15"/><rect x="26" y="20" width="1" height="1" opacity="0.14"/><rect x="27" y="20" width="1" height="1" opacity="0.1"/><rect x="28" y="20" width="1" height="1" opacity="0.1"/><rect x="29" y="20" width="1" height="1" opacity="0.05"/><rect x="22" y="21" width="1" height="1" opacity="0.06"/><rect x="23" y="21" width="1" height="1" opacity="0.09"/><rect x="24" y="21" width="1" height="1" opacity="0.15"/><rect x="25" y="21" width="1" height="1" opacity="0.19"/><rect x="26" y="21" width="1" height="1" opacity="0.22"/><rect x="27" y="21" width="1" height="1" opacity="0.2"/><rect x="28" y="21" width="1" height="1" opacity="0.17"/><rect x="29" y="21" width="1" height="1" opacity="0.09"/><rect x="30" y="21" width="1" height="1" opacity="0.04"/><rect x="22" y="22" width="1" height="1" opacity="0.09"/><rect x="23" y="22" width="1" height="1" opacity="0.15"/><rect x="24" y="22" width="1" height="1" opacity="0.3"/><rect x="25" y="22" width="1" height="1" opacity="0.32"/><rect x="26" y="22" width="1" height="1" opacity="0.34"/><rect x="27" y="22" width="1" height="1" opacity="0.3"/><rect x="28" y="22" width="1" height="1" opacity="0.25"/><rect x="29" y="22" width="1" height="1" opacity="0.17"/><rect x="30" y="22" width="1" height="1" opacity="0.06"/><rect x="21" y="23" width="1" height="1" opacity="0.05"/><rect x="22" y="23" width="1" height="1" opacity="0.12"/><rect x="23" y="23" width="1" height="1" opacity="0.27"/><rect x="24" y="23" width="1" height="1" opacity="0.34"/><rect x="25" y="23" width="1" height="1" opacity="0.56"/><rect x="26" y="23" width="1" height="1" opacity="0.63"/><rect x="27" y="23" width="1" height="1" opacity="0.61"/><rect x="28" y="23" width="1" height="1" opacity="0.29"/><rect x="29" y="23" width="1" height="1" opacity="0.24"/><rect x="30" y="23" width="1" height="1" opacity="0.1"/><rect x="31" y="23" width="1" height="1" opacity="0.04"/><rect x="21" y="24" width="1" height="1" opacity="0.05"/><rect x="22" y="24" width="1" height="1" opacity="0.2"/><rect x="23" y="24" width="1" height="1" opacity="0.29"/><rect x="24" y="24" width="1" height="1" opacity="0.54"/><rect x="25" y="24" width="1" height="1" opacity="0.7"/><rect x="26" y="24" width="1" height="1" opacity="0.88"/><rect x="27" y="24" width="1" height="1" opacity="0.67"/><rect x="28" y="24" width="1" height="1" opacity="0.56"/><rect x="29" y="24" width="1" height="1" opacity="0.22"/><rect x="30" y="24" width="1" height="1" opacity="0.13"/><rect x="31" y="24" width="1" height="1" opacity="0.05"/><rect x="21" y="25" width="1" height="1" opacity="0.07"/><rect x="22" y="25" width="1" height="1" opacity="0.18"/><rect x="23" y="25" width="1" height="1" opacity="0.35"/><rect x="24" y="25" width="1" height="1" opacity="0.5"/><rect x="25" y="25" width="1" height="1" opacity="0.76"/><rect x="26" y="25" width="1" height="1" opacity="0.6"/><rect x="27" y="25" width="1" height="1" opacity="0.65"/><rect x="28" y="25" width="1" height="1" opacity="0.45"/><rect x="29" y="25" width="1" height="1" opacity="0.23"/><rect x="30" y="25" width="1" height="1" opacity="0.13"/><rect x="31" y="25" width="1" height="1" opacity="0.05"/><rect x="21" y="26" width="1" height="1" opacity="0.05"/><rect x="22" y="26" width="1" height="1" opacity="0.14"/><rect x="23" y="26" width="1" height="1" opacity="0.23"/><rect x="24" y="26" width="1" height="1" opacity="0.5"/><rect x="25" y="26" width="1" height="1" opacity="0.5"/><rect x="26" y="26" width="1" height="1" opacity="0.58"/><rect x="27" y="26" width="1" height="1" opacity="0.56"/><rect x="28" y="26" width="1" height="1" opacity="0.4"/><rect x="29" y="26" width="1" height="1" opacity="0.18"/><rect x="30" y="26" width="1" height="1" opacity="0.13"/><rect x="21" y="27" width="1" height="1" opacity="0.05"/><rect x="22" y="27" width="1" height="1" opacity="0.1"/><rect x="23" y="27" width="1" height="1" opacity="0.24"/><rect x="24" y="27" width="1" height="1" opacity="0.34"/><rect x="25" y="27" width="1" height="1" opacity="0.43"/><rect x="26" y="27" width="1" height="1" opacity="0.5"/><rect x="27" y="27" width="1" height="1" opacity="0.45"/><rect x="28" y="27" width="1" height="1" opacity="0.32"/><rect x="29" y="27" width="1" height="1" opacity="0.19"/><rect x="30" y="27" width="1" height="1" opacity="0.07"/><rect x="22" y="28" width="1" height="1" opacity="0.07"/><rect x="23" y="28" width="1" height="1" opacity="0.15"/><rect x="24" y="28" width="1" height="1" opacity="0.22"/><rect x="25" y="28" width="1" height="1" opacity="0.28"/><rect x="26" y="28" width="1" height="1" opacity="0.26"/><rect x="27" y="28" width="1" height="1" opacity="0.29"/><rect x="28" y="28" width="1" height="1" opacity="0.16"/><rect x="29" y="28" width="1" height="1" opacity="0.11"/><rect x="30" y="28" width="1" height="1" opacity="0.06"/><rect x="23" y="29" width="1" height="1" opacity="0.1"/><rect x="24" y="29" width="1" height="1" opacity="0.1"/><rect x="25" y="29" width="1" height="1" opacity="0.18"/><rect x="26" y="29" width="1" height="1" opacity="0.17"/><rect x="27" y="29" width="1" height="1" opacity="0.16"/><rect x="28" y="29" width="1" height="1" opacity="0.1"/><rect x="29" y="29" width="1" height="1" opacity="0.05"/><rect x="24" y="30" width="1" height="1" opacity="0.06"/><rect x="25" y="30" width="1" height="1" opacity="0.08"/><rect x="26" y="30" width="1" height="1" opacity="0.11"/><rect x="27" y="30" width="1" height="1" opacity="0.06"/><rect x="28" y="30" width="1" height="1" opacity="0.05"/>
</g>
<rect x="950.3" y="712.8" width="365.5" height="365.5" fill="none" stroke="#000" stroke-width="4"/>
<text x="1547.55" y="683" font-size="57" text-anchor="middle">weighted</text>
<g transform="translate(1366.8,712.8) scale(7.31)">
<g filter="url(#f3)"><g transform="translate(-44,-17)"><rect x="44" y="17" width="50" height="50" fill="url(#N)"/></g></g>
<rect x="23" y="20" width="1" height="1" opacity="0.08"/><rect x="24" y="20" width="1" height="1" opacity="0.11"/><rect x="25" y="20" width="1" height="1" opacity="0.12"/><rect x="26" y="20" width="1" height="1" opacity="0.17"/><rect x="27" y="20" width="1" height="1" opacity="0.13"/><rect x="28" y="20" width="1" height="1" opacity="0.09"/><rect x="29" y="20" width="1" height="1" opacity="0.05"/><rect x="22" y="21" width="1" height="1" opacity="0.08"/><rect x="23" y="21" width="1" height="1" opacity="0.13"/><rect x="24" y="21" width="1" height="1" opacity="0.19"/><rect x="25" y="21" width="1" height="1" opacity="0.29"/><rect x="26" y="21" width="1" height="1" opacity="0.37"/><rect x="27" y="21" width="1" height="1" opacity="0.31"/><rect x="28" y="21" width="1" height="1" opacity="0.2"/><rect x="29" y="21" width="1" height="1" opacity="0.13"/><rect x="30" y="21" width="1" height="1" opacity="0.06"/><rect x="21" y="22" width="1" height="1" opacity="0.05"/><rect x="22" y="22" width="1" height="1" opacity="0.09"/><rect x="23" y="22" width="1" height="1" opacity="0.25"/><rect x="24" y="22" width="1" height="1" opacity="0.39"/><rect x="25" y="22" width="1" height="1" opacity="0.58"/><rect x="26" y="22" width="1" height="1" opacity="0.46"/><rect x="27" y="22" width="1" height="1" opacity="0.52"/><rect x="28" y="22" width="1" height="1" opacity="0.26"/><rect x="29" y="22" width="1" height="1" opacity="0.21"/><rect x="30" y="22" width="1" height="1" opacity="0.1"/><rect x="21" y="23" width="1" height="1" opacity="0.06"/><rect x="22" y="23" width="1" height="1" opacity="0.2"/><rect x="23" y="23" width="1" height="1" opacity="0.39"/><rect x="24" y="23" width="1" height="1" opacity="0.55"/><rect x="25" y="23" width="1" height="1" opacity="0.54"/><rect x="26" y="23" width="1" height="1" opacity="0.53"/><rect x="27" y="23" width="1" height="1" opacity="0.54"/><rect x="28" y="23" width="1" height="1" opacity="0.53"/><rect x="29" y="23" width="1" height="1" opacity="0.28"/><rect x="30" y="23" width="1" height="1" opacity="0.11"/><rect x="31" y="23" width="1" height="1" opacity="0.05"/><rect x="21" y="24" width="1" height="1" opacity="0.1"/><rect x="22" y="24" width="1" height="1" opacity="0.17"/><rect x="23" y="24" width="1" height="1" opacity="0.45"/><rect x="24" y="24" width="1" height="1" opacity="0.54"/><rect x="25" y="24" width="1" height="1" opacity="0.73"/><rect x="26" y="24" width="1" height="1" opacity="0.66"/><rect x="27" y="24" width="1" height="1" opacity="0.61"/><rect x="28" y="24" width="1" height="1" opacity="0.53"/><rect x="29" y="24" width="1" height="1" opacity="0.23"/><rect x="30" y="24" width="1" height="1" opacity="0.14"/><rect x="31" y="24" width="1" height="1" opacity="0.04"/><rect x="21" y="25" width="1" height="1" opacity="0.09"/><rect x="22" y="25" width="1" height="1" opacity="0.16"/><rect x="23" y="25" width="1" height="1" opacity="0.34"/><rect x="24" y="25" width="1" height="1" opacity="0.56"/><rect x="25" y="25" width="1" height="1" opacity="0.86"/><rect x="26" y="25" width="1" height="1" opacity="0.95"/><rect x="27" y="25" width="1" height="1" opacity="0.86"/><rect x="28" y="25" width="1" height="1" opacity="0.6"/><rect x="29" y="25" width="1" height="1" opacity="0.34"/><rect x="30" y="25" width="1" height="1" opacity="0.15"/><rect x="31" y="25" width="1" height="1" opacity="0.05"/><rect x="21" y="26" width="1" height="1" opacity="0.06"/><rect x="22" y="26" width="1" height="1" opacity="0.21"/><rect x="23" y="26" width="1" height="1" opacity="0.33"/><rect x="24" y="26" width="1" height="1" opacity="0.6"/><rect x="25" y="26" width="1" height="1" opacity="0.57"/><rect x="26" y="26" width="1" height="1" opacity="0.72"/><rect x="27" y="26" width="1" height="1" opacity="0.54"/><rect x="28" y="26" width="1" height="1" opacity="0.44"/><rect x="29" y="26" width="1" height="1" opacity="0.3"/><rect x="30" y="26" width="1" height="1" opacity="0.12"/><rect x="31" y="26" width="1" height="1" opacity="0.05"/><rect x="21" y="27" width="1" height="1" opacity="0.04"/><rect x="22" y="27" width="1" height="1" opacity="0.13"/><rect x="23" y="27" width="1" height="1" opacity="0.25"/><rect x="24" y="27" width="1" height="1" opacity="0.42"/><rect x="25" y="27" width="1" height="1" opacity="0.48"/><rect x="26" y="27" width="1" height="1" opacity="0.65"/><rect x="27" y="27" width="1" height="1" opacity="0.61"/><rect x="28" y="27" width="1" height="1" opacity="0.41"/><rect x="29" y="27" width="1" height="1" opacity="0.16"/><rect x="30" y="27" width="1" height="1" opacity="0.09"/><rect x="22" y="28" width="1" height="1" opacity="0.07"/><rect x="23" y="28" width="1" height="1" opacity="0.19"/><rect x="24" y="28" width="1" height="1" opacity="0.26"/><rect x="25" y="28" width="1" height="1" opacity="0.44"/><rect x="26" y="28" width="1" height="1" opacity="0.29"/><rect x="27" y="28" width="1" height="1" opacity="0.31"/><rect x="28" y="28" width="1" height="1" opacity="0.23"/><rect x="29" y="28" width="1" height="1" opacity="0.15"/><rect x="30" y="28" width="1" height="1" opacity="0.07"/><rect x="22" y="29" width="1" height="1" opacity="0.05"/><rect x="23" y="29" width="1" height="1" opacity="0.09"/><rect x="24" y="29" width="1" height="1" opacity="0.13"/><rect x="25" y="29" width="1" height="1" opacity="0.24"/><rect x="26" y="29" width="1" height="1" opacity="0.25"/><rect x="27" y="29" width="1" height="1" opacity="0.17"/><rect x="28" y="29" width="1" height="1" opacity="0.13"/><rect x="29" y="29" width="1" height="1" opacity="0.09"/><rect x="23" y="30" width="1" height="1" opacity="0.05"/><rect x="24" y="30" width="1" height="1" opacity="0.08"/><rect x="25" y="30" width="1" height="1" opacity="0.1"/><rect x="26" y="30" width="1" height="1" opacity="0.1"/><rect x="27" y="30" width="1" height="1" opacity="0.07"/><rect x="28" y="30" width="1" height="1" opacity="0.06"/>
</g>
<rect x="1366.8" y="712.8" width="365.5" height="365.5" fill="none" stroke="#000" stroke-width="4"/>
<text x="1964.05" y="683" font-size="57" text-anchor="middle">mask</text>
<rect x="1783.3" y="712.8" width="365.5" height="365.5" fill="#fde725"/>
<rect x="1783.3" y="712.8" width="365.5" height="297.5" fill="#440154"/>
<rect x="1796.5" y="712.8" width="16.4" height="297.5" fill="#fde725"/>
<rect x="1819.5" y="712.8" width="7.2" height="297.5" fill="#fde725"/>
<rect x="1869.3" y="712.8" width="16.9" height="297.5" fill="#fde725"/>
<rect x="1892.8" y="712.8" width="7.2" height="297.5" fill="#fde725"/>
<rect x="2032.5" y="712.8" width="21.2" height="297.5" fill="#fde725"/>
<rect x="2062.4" y="712.8" width="20.9" height="297.5" fill="#fde725"/>
<rect x="2090.2" y="712.8" width="9.5" height="297.5" fill="#fde725"/>
<rect x="2106" y="712.8" width="13.8" height="297.5" fill="#fde725"/>
<rect x="1783.3" y="712.8" width="365.5" height="365.5" fill="none" stroke="#000" stroke-width="4"/>
<text transform="translate(86.8,1381.75) rotate(-90)" font-size="47" text-anchor="middle">undetected (N=77)</text>
<text x="298.05" y="1167" font-size="57" text-anchor="middle">mean</text>
<g transform="translate(117.3,1196.5) scale(7.31)">
<g filter="url(#f5)"><g transform="translate(-12,-29)"><rect x="12" y="29" width="50" height="50" fill="url(#N)"/></g></g>
<rect x="23" y="20" width="1" height="1" opacity="0.07"/><rect x="24" y="20" width="1" height="1" opacity="0.08"/><rect x="25" y="20" width="1" height="1" opacity="0.16"/><rect x="26" y="20" width="1" height="1" opacity="0.13"/><rect x="27" y="20" width="1" height="1" opacity="0.1"/><rect x="28" y="20" width="1" height="1" opacity="0.07"/><rect x="29" y="20" width="1" height="1" opacity="0.05"/><rect x="22" y="21" width="1" height="1" opacity="0.07"/><rect x="23" y="21" width="1" height="1" opacity="0.12"/><rect x="24" y="21" width="1" height="1" opacity="0.24"/><rect x="25" y="21" width="1" height="1" opacity="0.23"/><rect x="26" y="21" width="1" height="1" opacity="0.31"/><rect x="27" y="21" width="1" height="1" opacity="0.23"/><rect x="28" y="21" width="1" height="1" opacity="0.2"/><rect x="29" y="21" width="1" height="1" opacity="0.11"/><rect x="30" y="21" width="1" height="1" opacity="0.05"/><rect x="21" y="22" width="1" height="1" opacity="0.05"/><rect x="22" y="22" width="1" height="1" opacity="0.1"/><rect x="23" y="22" width="1" height="1" opacity="0.23"/><rect x="24" y="22" width="1" height="1" opacity="0.39"/><rect x="25" y="22" width="1" height="1" opacity="0.36"/><rect x="26" y="22" width="1" height="1" opacity="0.35"/><rect x="27" y="22" width="1" height="1" opacity="0.46"/><rect x="28" y="22" width="1" height="1" opacity="0.35"/><rect x="29" y="22" width="1" height="1" opacity="0.2"/><rect x="30" y="22" width="1" height="1" opacity="0.07"/><rect x="21" y="23" width="1" height="1" opacity="0.05"/><rect x="22" y="23" width="1" height="1" opacity="0.12"/><rect x="23" y="23" width="1" height="1" opacity="0.31"/><rect x="24" y="23" width="1" height="1" opacity="0.48"/><rect x="25" y="23" width="1" height="1" opacity="0.72"/><rect x="26" y="23" width="1" height="1" opacity="0.57"/><rect x="27" y="23" width="1" height="1" opacity="0.56"/><rect x="28" y="23" width="1" height="1" opacity="0.5"/><rect x="29" y="23" width="1" height="1" opacity="0.21"/><rect x="30" y="23" width="1" height="1" opacity="0.1"/><rect x="21" y="24" width="1" height="1" opacity="0.09"/><rect x="22" y="24" width="1" height="1" opacity="0.15"/><rect x="23" y="24" width="1" height="1" opacity="0.39"/><rect x="24" y="24" width="1" height="1" opacity="0.55"/><rect x="25" y="24" width="1" height="1" opacity="0.71"/><rect x="26" y="24" width="1" height="1" opacity="0.7"/><rect x="27" y="24" width="1" height="1" opacity="0.67"/><rect x="28" y="24" width="1" height="1" opacity="0.5"/><rect x="29" y="24" width="1" height="1" opacity="0.26"/><rect x="30" y="24" width="1" height="1" opacity="0.13"/><rect x="31" y="24" width="1" height="1" opacity="0.05"/><rect x="21" y="25" width="1" height="1" opacity="0.09"/><rect x="22" y="25" width="1" height="1" opacity="0.19"/><rect x="23" y="25" width="1" height="1" opacity="0.34"/><rect x="24" y="25" width="1" height="1" opacity="0.72"/><rect x="25" y="25" width="1" height="1" opacity="0.64"/><rect x="26" y="25" width="1" height="1" opacity="0.63"/><rect x="27" y="25" width="1" height="1" opacity="0.85"/><rect x="28" y="25" width="1" height="1" opacity="0.44"/><rect x="29" y="25" width="1" height="1" opacity="0.24"/><rect x="30" y="25" width="1" height="1" opacity="0.13"/><rect x="31" y="25" width="1" height="1" opacity="0.05"/><rect x="21" y="26" width="1" height="1" opacity="0.06"/><rect x="22" y="26" width="1" height="1" opacity="0.19"/><rect x="23" y="26" width="1" height="1" opacity="0.29"/><rect x="24" y="26" width="1" height="1" opacity="0.42"/><rect x="25" y="26" width="1" height="1" opacity="0.58"/><rect x="26" y="26" width="1" height="1" opacity="0.88"/><rect x="27" y="26" width="1" height="1" opacity="0.6"/><rect x="28" y="26" width="1" height="1" opacity="0.41"/><rect x="29" y="26" width="1" height="1" opacity="0.29"/><rect x="30" y="26" width="1" height="1" opacity="0.14"/><rect x="31" y="26" width="1" height="1" opacity="0.04"/><rect x="21" y="27" width="1" height="1" opacity="0.06"/><rect x="22" y="27" width="1" height="1" opacity="0.11"/><rect x="23" y="27" width="1" height="1" opacity="0.23"/><rect x="24" y="27" width="1" height="1" opacity="0.41"/><rect x="25" y="27" width="1" height="1" opacity="0.44"/><rect x="26" y="27" width="1" height="1" opacity="0.48"/><rect x="27" y="27" width="1" height="1" opacity="0.4"/><rect x="28" y="27" width="1" height="1" opacity="0.29"/><rect x="29" y="27" width="1" height="1" opacity="0.22"/><rect x="30" y="27" width="1" height="1" opacity="0.1"/><rect x="22" y="28" width="1" height="1" opacity="0.09"/><rect x="23" y="28" width="1" height="1" opacity="0.19"/><rect x="24" y="28" width="1" height="1" opacity="0.26"/><rect x="25" y="28" width="1" height="1" opacity="0.37"/><rect x="26" y="28" width="1" height="1" opacity="0.31"/><rect x="27" y="28" width="1" height="1" opacity="0.35"/><rect x="28" y="28" width="1" height="1" opacity="0.25"/><rect x="29" y="28" width="1" height="1" opacity="0.12"/><rect x="30" y="28" width="1" height="1" opacity="0.05"/><rect x="22" y="29" width="1" height="1" opacity="0.05"/><rect x="23" y="29" width="1" height="1" opacity="0.07"/><rect x="24" y="29" width="1" height="1" opacity="0.14"/><rect x="25" y="29" width="1" height="1" opacity="0.22"/><rect x="26" y="29" width="1" height="1" opacity="0.15"/><rect x="27" y="29" width="1" height="1" opacity="0.14"/><rect x="28" y="29" width="1" height="1" opacity="0.09"/><rect x="29" y="29" width="1" height="1" opacity="0.07"/><rect x="23" y="30" width="1" height="1" opacity="0.05"/><rect x="24" y="30" width="1" height="1" opacity="0.05"/><rect x="25" y="30" width="1" height="1" opacity="0.08"/><rect x="26" y="30" width="1" height="1" opacity="0.09"/><rect x="27" y="30" width="1" height="1" opacity="0.06"/><rect x="28" y="30" width="1" height="1" opacity="0.05"/>
<rect x="33" y="27" width="1" height="1" fill="#fff" opacity="0.85"/>
<rect x="1" y="32" width="2" height="1" opacity="0.6"/>
</g>
<rect x="117.3" y="1196.5" width="365.5" height="365.5" fill="none" stroke="#000" stroke-width="4"/>
<text x="714.55" y="1167" font-size="57" text-anchor="middle">sum</text>
<g transform="translate(533.8,1196.5) scale(7.31)">
<g filter="url(#f5)"><g transform="translate(-12,-29)"><rect x="12" y="29" width="50" height="50" fill="url(#N)"/></g></g>
<rect x="23" y="20" width="1" height="1" opacity="0.05"/><rect x="24" y="20" width="1" height="1" opacity="0.11"/><rect x="25" y="20" width="1" height="1" opacity="0.14"/><rect x="26" y="20" width="1" height="1" opacity="0.13"/><rect x="27" y="20" width="1" height="1" opacity="0.12"/><rect x="28" y="20" width="1" height="1" opacity="0.08"/><rect x="29" y="20" width="1" height="1" opacity="0.06"/><rect x="22" y="21" width="1" height="1" opacity="0.07"/><rect x="23" y="21" width="1" height="1" opacity="0.15"/><rect x="24" y="21" width="1" height="1" opacity="0.22"/><rect x="25" y="21" width="1" height="1" opacity="0.25"/><rect x="26" y="21" width="1" height="1" opacity="0.28"/><rect x="27" y="21" width="1" height="1" opacity="0.25"/><rect x="28" y="21" width="1" height="1" opacity="0.18"/><rect x="29" y="21" width="1" height="1" opacity="0.12"/><rect x="22" y="22" width="1" height="1" opacity="0.09"/><rect x="23" y="22" width="1" height="1" opacity="0.25"/><rect x="24" y="22" width="1" height="1" opacity="0.29"/><rect x="25" y="22" width="1" height="1" opacity="0.44"/><rect x="26" y="22" width="1" height="1" opacity="0.56"/><rect x="27" y="22" width="1" height="1" opacity="0.43"/><rect x="28" y="22" width="1" height="1" opacity="0.28"/><rect x="29" y="22" width="1" height="1" opacity="0.18"/><rect x="30" y="22" width="1" height="1" opacity="0.09"/><rect x="21" y="23" width="1" height="1" opacity="0.05"/><rect x="22" y="23" width="1" height="1" opacity="0.12"/><rect x="23" y="23" width="1" height="1" opacity="0.26"/><rect x="24" y="23" width="1" height="1" opacity="0.39"/><rect x="25" y="23" width="1" height="1" opacity="0.7"/><rect x="26" y="23" width="1" height="1" opacity="0.77"/><rect x="27" y="23" width="1" height="1" opacity="0.47"/><rect x="28" y="23" width="1" height="1" opacity="0.31"/><rect x="29" y="23" width="1" height="1" opacity="0.21"/><rect x="30" y="23" width="1" height="1" opacity="0.12"/><rect x="31" y="23" width="1" height="1" opacity="0.05"/><rect x="21" y="24" width="1" height="1" opacity="0.07"/><rect x="22" y="24" width="1" height="1" opacity="0.19"/><rect x="23" y="24" width="1" height="1" opacity="0.43"/><rect x="24" y="24" width="1" height="1" opacity="0.68"/><rect x="25" y="24" width="1" height="1" opacity="0.6"/><rect x="26" y="24" width="1" height="1" opacity="0.88"/><rect x="27" y="24" width="1" height="1" opacity="0.78"/><rect x="28" y="24" width="1" height="1" opacity="0.58"/><rect x="29" y="24" width="1" height="1" opacity="0.27"/><rect x="30" y="24" width="1" height="1" opacity="0.11"/><rect x="31" y="24" width="1" height="1" opacity="0.05"/><rect x="21" y="25" width="1" height="1" opacity="0.07"/><rect x="22" y="25" width="1" height="1" opacity="0.18"/><rect x="23" y="25" width="1" height="1" opacity="0.42"/><rect x="24" y="25" width="1" height="1" opacity="0.63"/><rect x="25" y="25" width="1" height="1" opacity="0.84"/><rect x="26" y="25" width="1" height="1" opacity="0.88"/><rect x="27" y="25" width="1" height="1" opacity="0.58"/><rect x="28" y="25" width="1" height="1" opacity="0.39"/><rect x="29" y="25" width="1" height="1" opacity="0.27"/><rect x="30" y="25" width="1" height="1" opacity="0.16"/><rect x="31" y="25" width="1" height="1" opacity="0.05"/><rect x="21" y="26" width="1" height="1" opacity="0.08"/><rect x="22" y="26" width="1" height="1" opacity="0.17"/><rect x="23" y="26" width="1" height="1" opacity="0.37"/><rect x="24" y="26" width="1" height="1" opacity="0.65"/><rect x="25" y="26" width="1" height="1" opacity="0.75"/><rect x="26" y="26" width="1" height="1" opacity="0.85"/><rect x="27" y="26" width="1" height="1" opacity="0.77"/><rect x="28" y="26" width="1" height="1" opacity="0.49"/><rect x="29" y="26" width="1" height="1" opacity="0.29"/><rect x="30" y="26" width="1" height="1" opacity="0.09"/><rect x="21" y="27" width="1" height="1" opacity="0.06"/><rect x="22" y="27" width="1" height="1" opacity="0.11"/><rect x="23" y="27" width="1" height="1" opacity="0.22"/><rect x="24" y="27" width="1" height="1" opacity="0.32"/><rect x="25" y="27" width="1" height="1" opacity="0.55"/><rect x="26" y="27" width="1" height="1" opacity="0.42"/><rect x="27" y="27" width="1" height="1" opacity="0.54"/><rect x="28" y="27" width="1" height="1" opacity="0.3"/><rect x="29" y="27" width="1" height="1" opacity="0.21"/><rect x="30" y="27" width="1" height="1" opacity="0.11"/><rect x="22" y="28" width="1" height="1" opacity="0.08"/><rect x="23" y="28" width="1" height="1" opacity="0.19"/><rect x="24" y="28" width="1" height="1" opacity="0.28"/><rect x="25" y="28" width="1" height="1" opacity="0.29"/><rect x="26" y="28" width="1" height="1" opacity="0.27"/><rect x="27" y="28" width="1" height="1" opacity="0.36"/><rect x="28" y="28" width="1" height="1" opacity="0.23"/><rect x="29" y="28" width="1" height="1" opacity="0.1"/><rect x="30" y="28" width="1" height="1" opacity="0.06"/><rect x="22" y="29" width="1" height="1" opacity="0.05"/><rect x="23" y="29" width="1" height="1" opacity="0.08"/><rect x="24" y="29" width="1" height="1" opacity="0.11"/><rect x="25" y="29" width="1" height="1" opacity="0.17"/><rect x="26" y="29" width="1" height="1" opacity="0.18"/><rect x="27" y="29" width="1" height="1" opacity="0.2"/><rect x="28" y="29" width="1" height="1" opacity="0.13"/><rect x="29" y="29" width="1" height="1" opacity="0.05"/><rect x="24" y="30" width="1" height="1" opacity="0.07"/><rect x="25" y="30" width="1" height="1" opacity="0.08"/><rect x="26" y="30" width="1" height="1" opacity="0.08"/><rect x="27" y="30" width="1" height="1" opacity="0.09"/><rect x="28" y="30" width="1" height="1" opacity="0.07"/>
<rect x="33" y="27" width="1" height="1" fill="#fff" opacity="0.85"/>
<rect x="1" y="32" width="2" height="1" opacity="0.6"/>
</g>
<rect x="533.8" y="1196.5" width="365.5" height="365.5" fill="none" stroke="#000" stroke-width="4"/>
<text x="1131.05" y="1167" font-size="57" text-anchor="middle">median</text>
<g transform="translate(950.3,1196.5) scale(7.31)">
<g filter="url(#f6)"><g transform="translate(-38,-45)"><rect x="38" y="45" width="50" height="50" fill="url(#N)"/></g></g>
<rect x="23" y="20" width="1" height="1" opacity="0.04"/><rect x="24" y="20" width="1" height="1" opacity="0.09"/><rect x="25" y="20" width="1" height="1" opacity="0.12"/><rect x="26" y="20" width="1" height="1" opacity="0.1"/><rect x="27" y="20" width="1" height="1" opacity="0.11"/><rect x="28" y="20" width="1" height="1" opacity="0.06"/><rect x="29" y="20" width="1" height="1" opacity="0.05"/><rect x="22" y="21" width="1" height="1" opacity="0.05"/><rect x="23" y="21" width="1" height="1" opacity="0.09"/><rect x="24" y="21" width="1" height="1" opacity="0.19"/><rect x="25" y="21" width="1" height="1" opacity="0.2"/><rect x="26" y="21" width="1" height="1" opacity="0.26"/><rect x="27" y="21" width="1" height="1" opacity="0.19"/><rect x="28" y="21" width="1" height="1" opacity="0.13"/><rect x="29" y="21" width="1" height="1" opacity="0.09"/><rect x="22" y="22" width="1" height="1" opacity="0.09"/><rect x="23" y="22" width="1" height="1" opacity="0.18"/><rect x="24" y="22" width="1" height="1" opacity="0.33"/><rect x="25" y="22" width="1" height="1" opacity="0.34"/><rect x="26" y="22" width="1" height="1" opacity="0.35"/><rect x="27" y="22" width="1" height="1" opacity="0.4"/><rect x="28" y="22" width="1" height="1" opacity="0.23"/><rect x="29" y="22" width="1" height="1" opacity="0.13"/><rect x="30" y="22" width="1" height="1" opacity="0.07"/><rect x="21" y="23" width="1" height="1" opacity="0.06"/><rect x="22" y="23" width="1" height="1" opacity="0.13"/><rect x="23" y="23" width="1" height="1" opacity="0.25"/><rect x="24" y="23" width="1" height="1" opacity="0.34"/><rect x="25" y="23" width="1" height="1" opacity="0.57"/><rect x="26" y="23" width="1" height="1" opacity="0.64"/><rect x="27" y="23" width="1" height="1" opacity="0.52"/><rect x="28" y="23" width="1" height="1" opacity="0.39"/><rect x="29" y="23" width="1" height="1" opacity="0.15"/><rect x="30" y="23" width="1" height="1" opacity="0.1"/><rect x="21" y="24" width="1" height="1" opacity="0.06"/><rect x="22" y="24" width="1" height="1" opacity="0.11"/><rect x="23" y="24" width="1" height="1" opacity="0.29"/><rect x="24" y="24" width="1" height="1" opacity="0.4"/><rect x="25" y="24" width="1" height="1" opacity="0.46"/><rect x="26" y="24" width="1" height="1" opacity="0.78"/><rect x="27" y="24" width="1" height="1" opacity="0.64"/><rect x="28" y="24" width="1" height="1" opacity="0.41"/><rect x="29" y="24" width="1" height="1" opacity="0.25"/><rect x="30" y="24" width="1" height="1" opacity="0.11"/><rect x="21" y="25" width="1" height="1" opacity="0.05"/><rect x="22" y="25" width="1" height="1" opacity="0.13"/><rect x="23" y="25" width="1" height="1" opacity="0.29"/><rect x="24" y="25" width="1" height="1" opacity="0.49"/><rect x="25" y="25" width="1" height="1" opacity="0.56"/><rect x="26" y="25" width="1" height="1" opacity="0.53"/><rect x="27" y="25" width="1" height="1" opacity="0.52"/><rect x="28" y="25" width="1" height="1" opacity="0.34"/><rect x="29" y="25" width="1" height="1" opacity="0.28"/><rect x="30" y="25" width="1" height="1" opacity="0.09"/><rect x="21" y="26" width="1" height="1" opacity="0.05"/><rect x="22" y="26" width="1" height="1" opacity="0.11"/><rect x="23" y="26" width="1" height="1" opacity="0.26"/><rect x="24" y="26" width="1" height="1" opacity="0.43"/><rect x="25" y="26" width="1" height="1" opacity="0.42"/><rect x="26" y="26" width="1" height="1" opacity="0.71"/><rect x="27" y="26" width="1" height="1" opacity="0.51"/><rect x="28" y="26" width="1" height="1" opacity="0.29"/><rect x="29" y="26" width="1" height="1" opacity="0.25"/><rect x="30" y="26" width="1" height="1" opacity="0.08"/><rect x="22" y="27" width="1" height="1" opacity="0.09"/><rect x="23" y="27" width="1" height="1" opacity="0.18"/><rect x="24" y="27" width="1" height="1" opacity="0.31"/><rect x="25" y="27" width="1" height="1" opacity="0.38"/><rect x="26" y="27" width="1" height="1" opacity="0.38"/><rect x="27" y="27" width="1" height="1" opacity="0.36"/><rect x="28" y="27" width="1" height="1" opacity="0.26"/><rect x="29" y="27" width="1" height="1" opacity="0.17"/><rect x="30" y="27" width="1" height="1" opacity="0.06"/><rect x="22" y="28" width="1" height="1" opacity="0.05"/><rect x="23" y="28" width="1" height="1" opacity="0.13"/><rect x="24" y="28" width="1" height="1" opacity="0.21"/><rect x="25" y="28" width="1" height="1" opacity="0.33"/><rect x="26" y="28" width="1" height="1" opacity="0.24"/><rect x="27" y="28" width="1" height="1" opacity="0.29"/><rect x="28" y="28" width="1" height="1" opacity="0.14"/><rect x="29" y="28" width="1" height="1" opacity="0.08"/><rect x="30" y="28" width="1" height="1" opacity="0.05"/><rect x="23" y="29" width="1" height="1" opacity="0.06"/><rect x="24" y="29" width="1" height="1" opacity="0.13"/><rect x="25" y="29" width="1" height="1" opacity="0.14"/><rect x="26" y="29" width="1" height="1" opacity="0.19"/><rect x="27" y="29" width="1" height="1" opacity="0.1"/><rect x="28" y="29" width="1" height="1" opacity="0.08"/><rect x="29" y="29" width="1" height="1" opacity="0.06"/><rect x="24" y="30" width="1" height="1" opacity="0.04"/><rect x="25" y="30" width="1" height="1" opacity="0.07"/><rect x="26" y="30" width="1" height="1" opacity="0.08"/><rect x="27" y="30" width="1" height="1" opacity="0.07"/><rect x="28" y="30" width="1" height="1" opacity="0.04"/>
<rect x="33" y="27" width="1" height="1" fill="#fff" opacity="0.85"/>
</g>
<rect x="950.3" y="1196.5" width="365.5" height="365.5" fill="none" stroke="#000" stroke-width="4"/>
<text x="1547.55" y="1167" font-size="57" text-anchor="middle">weighted</text>
<g transform="translate(1366.8,1196.5) scale(7.31)">
<g filter="url(#f7)"><g transform="translate(-27,-11)"><rect x="27" y="11" width="50" height="50" fill="url(#N)"/></g></g>
<rect x="23" y="20" width="1" height="1" opacity="0.06"/><rect x="24" y="20" width="1" height="1" opacity="0.08"/><rect x="25" y="20" width="1" height="1" opacity="0.14"/><rect x="26" y="20" width="1" height="1" opacity="0.13"/><rect x="27" y="20" width="1" height="1" opacity="0.09"/><rect x="28" y="20" width="1" height="1" opacity="0.1"/><rect x="29" y="20" width="1" height="1" opacity="0.06"/><rect x="22" y="21" width="1" height="1" opacity="0.07"/><rect x="23" y="21" width="1" height="1" opacity="0.13"/><rect x="24" y="21" width="1" height="1" opacity="0.21"/><rect x="25" y="21" width="1" height="1" opacity="0.24"/><rect x="26" y="21" width="1" height="1" opacity="0.22"/><rect x="27" y="21" width="1" height="1" opacity="0.26"/><rect x="28" y="21" width="1" height="1" opacity="0.16"/><rect x="29" y="21" width="1" height="1" opacity="0.09"/><rect x="30" y="21" width="1" height="1" opacity="0.05"/><rect x="21" y="22" width="1" height="1" opacity="0.05"/><rect x="22" y="22" width="1" height="1" opacity="0.09"/><rect x="23" y="22" width="1" height="1" opacity="0.21"/><rect x="24" y="22" width="1" height="1" opacity="0.25"/><rect x="25" y="22" width="1" height="1" opacity="0.33"/><rect x="26" y="22" width="1" height="1" opacity="0.38"/><rect x="27" y="22" width="1" height="1" opacity="0.34"/><rect x="28" y="22" width="1" height="1" opacity="0.26"/><rect x="29" y="22" width="1" height="1" opacity="0.13"/><rect x="30" y="22" width="1" height="1" opacity="0.09"/><rect x="21" y="23" width="1" height="1" opacity="0.05"/><rect x="22" y="23" width="1" height="1" opacity="0.17"/><rect x="23" y="23" width="1" height="1" opacity="0.32"/><rect x="24" y="23" width="1" height="1" opacity="0.5"/><rect x="25" y="23" width="1" height="1" opacity="0.7"/><rect x="26" y="23" width="1" height="1" opacity="0.69"/><rect x="27" y="23" width="1" height="1" opacity="0.48"/><rect x="28" y="23" width="1" height="1" opacity="0.46"/><rect x="29" y="23" width="1" height="1" opacity="0.16"/><rect x="30" y="23" width="1" height="1" opacity="0.12"/><rect x="21" y="24" width="1" height="1" opacity="0.06"/><rect x="22" y="24" width="1" height="1" opacity="0.17"/><rect x="23" y="24" width="1" height="1" opacity="0.32"/><rect x="24" y="24" width="1" height="1" opacity="0.63"/><rect x="25" y="24" width="1" height="1" opacity="0.8"/><rect x="26" y="24" width="1" height="1" opacity="0.83"/><rect x="27" y="24" width="1" height="1" opacity="0.56"/><rect x="28" y="24" width="1" height="1" opacity="0.44"/><rect x="29" y="24" width="1" height="1" opacity="0.2"/><rect x="30" y="24" width="1" height="1" opacity="0.14"/><rect x="21" y="25" width="1" height="1" opacity="0.07"/><rect x="22" y="25" width="1" height="1" opacity="0.14"/><rect x="23" y="25" width="1" height="1" opacity="0.4"/><rect x="24" y="25" width="1" height="1" opacity="0.67"/><rect x="25" y="25" width="1" height="1" opacity="0.64"/><rect x="26" y="25" width="1" height="1" opacity="0.91"/><rect x="27" y="25" width="1" height="1" opacity="0.56"/><rect x="28" y="25" width="1" height="1" opacity="0.52"/><rect x="29" y="25" width="1" height="1" opacity="0.23"/><rect x="30" y="25" width="1" height="1" opacity="0.12"/><rect x="31" y="25" width="1" height="1" opacity="0.05"/><rect x="21" y="26" width="1" height="1" opacity="0.06"/><rect x="22" y="26" width="1" height="1" opacity="0.13"/><rect x="23" y="26" width="1" height="1" opacity="0.32"/><rect x="24" y="26" width="1" height="1" opacity="0.56"/><rect x="25" y="26" width="1" height="1" opacity="0.79"/><rect x="26" y="26" width="1" height="1" opacity="0.62"/><rect x="27" y="26" width="1" height="1" opacity="0.51"/><rect x="28" y="26" width="1" height="1" opacity="0.32"/><rect x="29" y="26" width="1" height="1" opacity="0.2"/><rect x="30" y="26" width="1" height="1" opacity="0.08"/><rect x="21" y="27" width="1" height="1" opacity="0.05"/><rect x="22" y="27" width="1" height="1" opacity="0.09"/><rect x="23" y="27" width="1" height="1" opacity="0.24"/><rect x="24" y="27" width="1" height="1" opacity="0.33"/><rect x="25" y="27" width="1" height="1" opacity="0.41"/><rect x="26" y="27" width="1" height="1" opacity="0.51"/><rect x="27" y="27" width="1" height="1" opacity="0.43"/><rect x="28" y="27" width="1" height="1" opacity="0.3"/><rect x="29" y="27" width="1" height="1" opacity="0.14"/><rect x="30" y="27" width="1" height="1" opacity="0.09"/><rect x="22" y="28" width="1" height="1" opacity="0.06"/><rect x="23" y="28" width="1" height="1" opacity="0.15"/><rect x="24" y="28" width="1" height="1" opacity="0.22"/><rect x="25" y="28" width="1" height="1" opacity="0.27"/><rect x="26" y="28" width="1" height="1" opacity="0.41"/><rect x="27" y="28" width="1" height="1" opacity="0.26"/><rect x="28" y="28" width="1" height="1" opacity="0.24"/><rect x="29" y="28" width="1" height="1" opacity="0.12"/><rect x="23" y="29" width="1" height="1" opacity="0.1"/><rect x="24" y="29" width="1" height="1" opacity="0.1"/><rect x="25" y="29" width="1" height="1" opacity="0.13"/><rect x="26" y="29" width="1" height="1" opacity="0.14"/><rect x="27" y="29" width="1" height="1" opacity="0.14"/><rect x="28" y="29" width="1" height="1" opacity="0.09"/><rect x="29" y="29" width="1" height="1" opacity="0.08"/><rect x="23" y="30" width="1" height="1" opacity="0.04"/><rect x="24" y="30" width="1" height="1" opacity="0.06"/><rect x="25" y="30" width="1" height="1" opacity="0.09"/><rect x="26" y="30" width="1" height="1" opacity="0.08"/><rect x="27" y="30" width="1" height="1" opacity="0.07"/><rect x="28" y="30" width="1" height="1" opacity="0.06"/>
<rect x="33" y="27" width="1" height="1" fill="#fff" opacity="0.85"/>
<rect x="1" y="32" width="2" height="1" opacity="0.6"/>
</g>
<rect x="1366.8" y="1196.5" width="365.5" height="365.5" fill="none" stroke="#000" stroke-width="4"/>
<text x="1964.05" y="1167" font-size="57" text-anchor="middle">mask</text>
<rect x="1783.3" y="1196.5" width="365.5" height="365.5" fill="#fde725"/>
<polygon fill="#440154" points="1783.3,1196.5 1849.4,1196.5 1849.4,1281.3 1869.3,1281.3 1869.3,1428.1 1879,1428.1 1879,1562 1783.3,1562"/>
<rect x="1783.3" y="1196.5" width="365.5" height="365.5" fill="none" stroke="#000" stroke-width="4"/>
<line x1="261.9" x2="261.9" y1="1777.24" y2="1800.32" stroke="#ff7f0e" stroke-width="4.3"/><ellipse cx="261.9" cy="1788.78" rx="4.3" ry="4" fill="#ff7f0e"/><line x1="269.69" x2="269.69" y1="1776.94" y2="1805.88" stroke="#ff7f0e" stroke-width="4.3"/><ellipse cx="269.69" cy="1791.41" rx="4.3" ry="4" fill="#ff7f0e"/><line x1="277.49" x2="277.49" y1="1842.68" y2="1872.56" stroke="#ff7f0e" stroke-width="4.3"/><ellipse cx="277.49" cy="1857.62" rx="4.3" ry="4" fill="#ff7f0e"/><line x1="285.28" x2="285.28" y1="1794.31" y2="1823.38" stroke="#ff7f0e" stroke-width="4.3"/><ellipse cx="285.28" cy="1808.85" rx="4.3" ry="4" fill="#ff7f0e"/><line x1="293.08" x2="293.08" y1="1797.11" y2="1827.17" stroke="#ff7f0e" stroke-width="4.3"/><ellipse cx="293.08" cy="1812.14" rx="4.3" ry="4" fill="#ff7f0e"/><line x1="300.88" x2="300.88" y1="1793.32" y2="1821.42" stroke="#ff7f0e" stroke-width="4.3"/><ellipse cx="300.88" cy="1807.37" rx="4.3" ry="4" fill="#ff7f0e"/><line x1="308.67" x2="308.67" y1="1789.92" y2="1816.52" stroke="#ff7f0e" stroke-width="4.3"/><ellipse cx="308.67" cy="1803.22" rx="4.3" ry="4" fill="#ff7f0e"/><line x1="316.46" x2="316.46" y1="1819.62" y2="1849.71" stroke="#ff7f0e" stroke-width="4.3"/><ellipse cx="316.46" cy="1834.67" rx="4.3" ry="4" fill="#ff7f0e"/><line x1="324.26" x2="324.26" y1="1797.84" y2="1826.43" stroke="#ff7f0e" stroke-width="4.3"/><ellipse cx="324.26" cy="1812.14" rx="4.3" ry="4" fill="#ff7f0e"/><line x1="332.05" x2="332.05" y1="1803.33" y2="1832.91" stroke="#ff7f0e" stroke-width="4.3"/><ellipse cx="332.05" cy="1818.12" rx="4.3" ry="4" fill="#ff7f0e"/><line x1="339.85" x2="339.85" y1="1821.79" y2="1857.02" stroke="#ff7f0e" stroke-width="4.3"/><ellipse cx="339.85" cy="1839.4" rx="4.3" ry="4" fill="#ff7f0e"/><line x1="347.64" x2="347.64" y1="1791.23" y2="1819.43" stroke="#ff7f0e" stroke-width="4.3"/><ellipse cx="347.64" cy="1805.33" rx="4.3" ry="4" fill="#ff7f0e"/><line x1="355.44" x2="355.44" y1="1768.96" y2="1798.89" stroke="#1f77b4" stroke-width="4.3"/><ellipse cx="355.44" cy="1783.93" rx="4.3" ry="4" fill="#1f77b4"/><line x1="363.23" x2="363.23" y1="1798.51" y2="1825.76" stroke="#ff7f0e" stroke-width="4.3"/><ellipse cx="363.23" cy="1812.14" rx="4.3" ry="4" fill="#ff7f0e"/><line x1="371.03" x2="371.03" y1="1794.33" y2="1820.4" stroke="#1f77b4" stroke-width="4.3"/><ellipse cx="371.03" cy="1807.37" rx="4.3" ry="4" fill="#1f77b4"/><line x1="378.82" x2="378.82" y1="1803.58" y2="1832.66" stroke="#ff7f0e" stroke-width="4.3"/><ellipse cx="378.82" cy="1818.12" rx="4.3" ry="4" fill="#ff7f0e"/><line x1="386.62" x2="386.62" y1="1789.19" y2="1817.25" stroke="#1f77b4" stroke-width="4.3"/><ellipse cx="386.62" cy="1803.22" rx="4.3" ry="4" fill="#1f77b4"/><line x1="394.41" x2="394.41" y1="1797.63" y2="1826.64" stroke="#ff7f0e" stroke-width="4.3"/><ellipse cx="394.41" cy="1812.14" rx="4.3" ry="4" fill="#ff7f0e"/><line x1="402.21" x2="402.21" y1="1800.97" y2="1826.88" stroke="#ff7f0e" stroke-width="4.3"/><ellipse cx="402.21" cy="1813.93" rx="4.3" ry="4" fill="#ff7f0e"/><line x1="410" x2="410" y1="1806.53" y2="1829.72" stroke="#1f77b4" stroke-width="4.3"/><ellipse cx="410" cy="1818.12" rx="4.3" ry="4" fill="#1f77b4"/><line x1="417.8" x2="417.8" y1="1803.99" y2="1829.82" stroke="#1f77b4" stroke-width="4.3"/><ellipse cx="417.8" cy="1816.9" rx="4.3" ry="4" fill="#1f77b4"/><line x1="425.59" x2="425.59" y1="1794.52" y2="1820.22" stroke="#1f77b4" stroke-width="4.3"/><ellipse cx="425.59" cy="1807.37" rx="4.3" ry="4" fill="#1f77b4"/><line x1="433.39" x2="433.39" y1="1784.86" y2="1810.31" stroke="#1f77b4" stroke-width="4.3"/><ellipse cx="433.39" cy="1797.59" rx="4.3" ry="4" fill="#1f77b4"/><line x1="441.18" x2="441.18" y1="1806.15" y2="1830.1" stroke="#1f77b4" stroke-width="4.3"/><ellipse cx="441.18" cy="1818.12" rx="4.3" ry="4" fill="#1f77b4"/><line x1="448.98" x2="448.98" y1="1780.87" y2="1805.78" stroke="#1f77b4" stroke-width="4.3"/><ellipse cx="448.98" cy="1793.33" rx="4.3" ry="4" fill="#1f77b4"/><line x1="456.77" x2="456.77" y1="1806.65" y2="1831.97" stroke="#1f77b4" stroke-width="4.3"/><ellipse cx="456.77" cy="1819.31" rx="4.3" ry="4" fill="#1f77b4"/><line x1="464.57" x2="464.57" y1="1805.97" y2="1832.65" stroke="#1f77b4" stroke-width="4.3"/><ellipse cx="464.57" cy="1819.31" rx="4.3" ry="4" fill="#1f77b4"/><line x1="472.37" x2="472.37" y1="1807.94" y2="1843.6" stroke="#ff7f0e" stroke-width="4.3"/><ellipse cx="472.37" cy="1825.77" rx="4.3" ry="4" fill="#ff7f0e"/><line x1="480.16" x2="480.16" y1="1812.05" y2="1842.08" stroke="#ff7f0e" stroke-width="4.3"/><ellipse cx="480.16" cy="1827.07" rx="4.3" ry="4" fill="#ff7f0e"/><line x1="487.95" x2="487.95" y1="1803.28" y2="1830.53" stroke="#ff7f0e" stroke-width="4.3"/><ellipse cx="487.95" cy="1816.9" rx="4.3" ry="4" fill="#ff7f0e"/><line x1="495.75" x2="495.75" y1="1810.6" y2="1836.16" stroke="#1f77b4" stroke-width="4.3"/><ellipse cx="495.75" cy="1823.38" rx="4.3" ry="4" fill="#1f77b4"/><line x1="503.54" x2="503.54" y1="1795.01" y2="1819.72" stroke="#1f77b4" stroke-width="4.3"/><ellipse cx="503.54" cy="1807.37" rx="4.3" ry="4" fill="#1f77b4"/><line x1="511.34" x2="511.34" y1="1823.48" y2="1852.8" stroke="#1f77b4" stroke-width="4.3"/><ellipse cx="511.34" cy="1838.14" rx="4.3" ry="4" fill="#1f77b4"/><line x1="519.13" x2="519.13" y1="1807.98" y2="1833.7" stroke="#ff7f0e" stroke-width="4.3"/><ellipse cx="519.13" cy="1820.84" rx="4.3" ry="4" fill="#ff7f0e"/><line x1="526.93" x2="526.93" y1="1796.16" y2="1821.53" stroke="#1f77b4" stroke-width="4.3"/><ellipse cx="526.93" cy="1808.85" rx="4.3" ry="4" fill="#1f77b4"/><line x1="534.72" x2="534.72" y1="1782.39" y2="1805.52" stroke="#ff7f0e" stroke-width="4.3"/><ellipse cx="534.72" cy="1793.95" rx="4.3" ry="4" fill="#ff7f0e"/><line x1="542.52" x2="542.52" y1="1828.77" y2="1856.47" stroke="#ff7f0e" stroke-width="4.3"/><ellipse cx="542.52" cy="1842.62" rx="4.3" ry="4" fill="#ff7f0e"/><line x1="550.32" x2="550.32" y1="1792.52" y2="1818.15" stroke="#ff7f0e" stroke-width="4.3"/><ellipse cx="550.32" cy="1805.33" rx="4.3" ry="4" fill="#ff7f0e"/><line x1="558.11" x2="558.11" y1="1801.34" y2="1829.11" stroke="#ff7f0e" stroke-width="4.3"/><ellipse cx="558.11" cy="1815.23" rx="4.3" ry="4" fill="#ff7f0e"/><line x1="565.9" x2="565.9" y1="1797.19" y2="1824.31" stroke="#ff7f0e" stroke-width="4.3"/><ellipse cx="565.9" cy="1810.75" rx="4.3" ry="4" fill="#ff7f0e"/><line x1="573.7" x2="573.7" y1="1791.24" y2="1816.28" stroke="#ff7f0e" stroke-width="4.3"/><ellipse cx="573.7" cy="1803.76" rx="4.3" ry="4" fill="#ff7f0e"/><line x1="581.49" x2="581.49" y1="1816.97" y2="1844.95" stroke="#ff7f0e" stroke-width="4.3"/><ellipse cx="581.49" cy="1830.96" rx="4.3" ry="4" fill="#ff7f0e"/><line x1="589.29" x2="589.29" y1="1801.09" y2="1829.37" stroke="#ff7f0e" stroke-width="4.3"/><ellipse cx="589.29" cy="1815.23" rx="4.3" ry="4" fill="#ff7f0e"/><line x1="597.09" x2="597.09" y1="1782.14" y2="1808.23" stroke="#ff7f0e" stroke-width="4.3"/><ellipse cx="597.09" cy="1795.19" rx="4.3" ry="4" fill="#ff7f0e"/><line x1="604.88" x2="604.88" y1="1806.21" y2="1832.4" stroke="#ff7f0e" stroke-width="4.3"/><ellipse cx="604.88" cy="1819.31" rx="4.3" ry="4" fill="#ff7f0e"/><line x1="612.67" x2="612.67" y1="1812.5" y2="1852.93" stroke="#ff7f0e" stroke-width="4.3"/><ellipse cx="612.67" cy="1832.72" rx="4.3" ry="4" fill="#ff7f0e"/><line x1="620.47" x2="620.47" y1="1840.29" y2="1883.91" stroke="#ff7f0e" stroke-width="4.3"/><ellipse cx="620.47" cy="1862.1" rx="4.3" ry="4" fill="#ff7f0e"/><line x1="628.26" x2="628.26" y1="1834.01" y2="1882.22" stroke="#ff7f0e" stroke-width="4.3"/><ellipse cx="628.26" cy="1858.11" rx="4.3" ry="4" fill="#ff7f0e"/><line x1="636.06" x2="636.06" y1="1826.64" y2="1871.46" stroke="#ff7f0e" stroke-width="4.3"/><ellipse cx="636.06" cy="1849.05" rx="4.3" ry="4" fill="#ff7f0e"/><line x1="643.86" x2="643.86" y1="1818.57" y2="1862.4" stroke="#ff7f0e" stroke-width="4.3"/><ellipse cx="643.86" cy="1840.48" rx="4.3" ry="4" fill="#ff7f0e"/><line x1="651.65" x2="651.65" y1="1825.84" y2="1869.47" stroke="#ff7f0e" stroke-width="4.3"/><ellipse cx="651.65" cy="1847.66" rx="4.3" ry="4" fill="#ff7f0e"/><line x1="659.44" x2="659.44" y1="1820.37" y2="1879.33" stroke="#ff7f0e" stroke-width="4.3"/><ellipse cx="659.44" cy="1849.85" rx="4.3" ry="4" fill="#ff7f0e"/><line x1="667.24" x2="667.24" y1="1811.3" y2="1871.26" stroke="#ff7f0e" stroke-width="4.3"/><ellipse cx="667.24" cy="1841.28" rx="4.3" ry="4" fill="#ff7f0e"/><line x1="675.03" x2="675.03" y1="1812.2" y2="1866.98" stroke="#ff7f0e" stroke-width="4.3"/><ellipse cx="675.03" cy="1839.59" rx="4.3" ry="4" fill="#ff7f0e"/><line x1="682.83" x2="682.83" y1="1817.78" y2="1875.15" stroke="#ff7f0e" stroke-width="4.3"/><ellipse cx="682.83" cy="1846.46" rx="4.3" ry="4" fill="#ff7f0e"/><line x1="690.62" x2="690.62" y1="1823.05" y2="1882.02" stroke="#ff7f0e" stroke-width="4.3"/><ellipse cx="690.62" cy="1852.54" rx="4.3" ry="4" fill="#ff7f0e"/><line x1="698.42" x2="698.42" y1="1825.94" y2="1880.92" stroke="#ff7f0e" stroke-width="4.3"/><ellipse cx="698.42" cy="1853.43" rx="4.3" ry="4" fill="#ff7f0e"/><line x1="706.21" x2="706.21" y1="1797.86" y2="1855.42" stroke="#ff7f0e" stroke-width="4.3"/><ellipse cx="706.21" cy="1826.64" rx="4.3" ry="4" fill="#ff7f0e"/><line x1="714.01" x2="714.01" y1="1793.97" y2="1854.13" stroke="#ff7f0e" stroke-width="4.3"/><ellipse cx="714.01" cy="1824.05" rx="4.3" ry="4" fill="#ff7f0e"/><line x1="721.8" x2="721.8" y1="1812.9" y2="1878.23" stroke="#ff7f0e" stroke-width="4.3"/><ellipse cx="721.8" cy="1845.56" rx="4.3" ry="4" fill="#ff7f0e"/><line x1="729.6" x2="729.6" y1="1823.75" y2="1885.7" stroke="#ff7f0e" stroke-width="4.3"/><ellipse cx="729.6" cy="1854.73" rx="4.3" ry="4" fill="#ff7f0e"/><line x1="737.39" x2="737.39" y1="1846.26" y2="1903.63" stroke="#ff7f0e" stroke-width="4.3"/><ellipse cx="737.39" cy="1874.95" rx="4.3" ry="4" fill="#ff7f0e"/><line x1="745.19" x2="745.19" y1="1837.5" y2="1893.27" stroke="#ff7f0e" stroke-width="4.3"/><ellipse cx="745.19" cy="1865.38" rx="4.3" ry="4" fill="#ff7f0e"/><line x1="752.98" x2="752.98" y1="1897.36" y2="1953.93" stroke="#ff7f0e" stroke-width="4.3"/><ellipse cx="752.98" cy="1925.64" rx="4.3" ry="4" fill="#ff7f0e"/><line x1="760.78" x2="760.78" y1="1926.64" y2="1987.39" stroke="#ff7f0e" stroke-width="4.3"/><ellipse cx="760.78" cy="1957.02" rx="4.3" ry="4" fill="#ff7f0e"/><line x1="768.58" x2="768.58" y1="1905.13" y2="1977.04" stroke="#ff7f0e" stroke-width="4.3"/><ellipse cx="768.58" cy="1941.08" rx="4.3" ry="4" fill="#ff7f0e"/><line x1="776.37" x2="776.37" y1="1871.16" y2="1931.92" stroke="#ff7f0e" stroke-width="4.3"/><ellipse cx="776.37" cy="1901.54" rx="4.3" ry="4" fill="#ff7f0e"/><line x1="784.16" x2="784.16" y1="1844.77" y2="1908.51" stroke="#ff7f0e" stroke-width="4.3"/><ellipse cx="784.16" cy="1876.64" rx="4.3" ry="4" fill="#ff7f0e"/><line x1="791.96" x2="791.96" y1="1826.74" y2="1887.5" stroke="#ff7f0e" stroke-width="4.3"/><ellipse cx="791.96" cy="1857.12" rx="4.3" ry="4" fill="#ff7f0e"/><line x1="799.75" x2="799.75" y1="1841.08" y2="1905.22" stroke="#ff7f0e" stroke-width="4.3"/><ellipse cx="799.75" cy="1873.15" rx="4.3" ry="4" fill="#ff7f0e"/><line x1="807.55" x2="807.55" y1="1843.37" y2="1901.14" stroke="#ff7f0e" stroke-width="4.3"/><ellipse cx="807.55" cy="1872.26" rx="4.3" ry="4" fill="#ff7f0e"/><line x1="815.35" x2="815.35" y1="1851.44" y2="1905.22" stroke="#ff7f0e" stroke-width="4.3"/><ellipse cx="815.35" cy="1878.33" rx="4.3" ry="4" fill="#ff7f0e"/><line x1="823.14" x2="823.14" y1="1844.67" y2="1901.64" stroke="#ff7f0e" stroke-width="4.3"/><ellipse cx="823.14" cy="1873.15" rx="4.3" ry="4" fill="#ff7f0e"/><line x1="830.93" x2="830.93" y1="1832.22" y2="1881.02" stroke="#ff7f0e" stroke-width="4.3"/><ellipse cx="830.93" cy="1856.62" rx="4.3" ry="4" fill="#ff7f0e"/><line x1="838.73" x2="838.73" y1="1819.77" y2="1875.54" stroke="#ff7f0e" stroke-width="4.3"/><ellipse cx="838.73" cy="1847.66" rx="4.3" ry="4" fill="#ff7f0e"/><line x1="846.52" x2="846.52" y1="1818.37" y2="1872.76" stroke="#ff7f0e" stroke-width="4.3"/><ellipse cx="846.52" cy="1845.56" rx="4.3" ry="4" fill="#ff7f0e"/><line x1="854.32" x2="854.32" y1="1819.47" y2="1870.86" stroke="#ff7f0e" stroke-width="4.3"/><ellipse cx="854.32" cy="1845.17" rx="4.3" ry="4" fill="#ff7f0e"/><line x1="862.12" x2="862.12" y1="1813.99" y2="1872.16" stroke="#ff7f0e" stroke-width="4.3"/><ellipse cx="862.12" cy="1843.07" rx="4.3" ry="4" fill="#ff7f0e"/><line x1="869.91" x2="869.91" y1="1787.5" y2="1815.67" stroke="#ff7f0e" stroke-width="4.3"/><ellipse cx="869.91" cy="1801.59" rx="4.3" ry="4" fill="#ff7f0e"/><line x1="877.7" x2="877.7" y1="1792.22" y2="1819.48" stroke="#1f77b4" stroke-width="4.3"/><ellipse cx="877.7" cy="1805.85" rx="4.3" ry="4" fill="#1f77b4"/><line x1="885.5" x2="885.5" y1="1827.13" y2="1858.47" stroke="#ff7f0e" stroke-width="4.3"/><ellipse cx="885.5" cy="1842.8" rx="4.3" ry="4" fill="#ff7f0e"/><line x1="893.29" x2="893.29" y1="1791.13" y2="1823.6" stroke="#ff7f0e" stroke-width="4.3"/><ellipse cx="893.29" cy="1807.37" rx="4.3" ry="4" fill="#ff7f0e"/><line x1="901.09" x2="901.09" y1="1793.15" y2="1825.51" stroke="#1f77b4" stroke-width="4.3"/><ellipse cx="901.09" cy="1809.33" rx="4.3" ry="4" fill="#1f77b4"/><line x1="908.88" x2="908.88" y1="1791.2" y2="1830.31" stroke="#ff7f0e" stroke-width="4.3"/><ellipse cx="908.88" cy="1810.75" rx="4.3" ry="4" fill="#ff7f0e"/><line x1="916.68" x2="916.68" y1="1796.58" y2="1828.61" stroke="#1f77b4" stroke-width="4.3"/><ellipse cx="916.68" cy="1812.59" rx="4.3" ry="4" fill="#1f77b4"/><line x1="924.48" x2="924.48" y1="1779.3" y2="1812.29" stroke="#1f77b4" stroke-width="4.3"/><ellipse cx="924.48" cy="1795.79" rx="4.3" ry="4" fill="#1f77b4"/><line x1="932.27" x2="932.27" y1="1765.69" y2="1796.33" stroke="#1f77b4" stroke-width="4.3"/><ellipse cx="932.27" cy="1781.01" rx="4.3" ry="4" fill="#1f77b4"/><line x1="940.06" x2="940.06" y1="1782.84" y2="1812.34" stroke="#1f77b4" stroke-width="4.3"/><ellipse cx="940.06" cy="1797.59" rx="4.3" ry="4" fill="#1f77b4"/><line x1="947.86" x2="947.86" y1="1784.2" y2="1815.6" stroke="#1f77b4" stroke-width="4.3"/><ellipse cx="947.86" cy="1799.9" rx="4.3" ry="4" fill="#1f77b4"/><line x1="955.65" x2="955.65" y1="1817.72" y2="1850.1" stroke="#ff7f0e" stroke-width="4.3"/><ellipse cx="955.65" cy="1833.91" rx="4.3" ry="4" fill="#ff7f0e"/><line x1="963.45" x2="963.45" y1="1817.15" y2="1849.13" stroke="#ff7f0e" stroke-width="4.3"/><ellipse cx="963.45" cy="1833.14" rx="4.3" ry="4" fill="#ff7f0e"/><line x1="971.25" x2="971.25" y1="1761.75" y2="1797.28" stroke="#1f77b4" stroke-width="4.3"/><ellipse cx="971.25" cy="1779.52" rx="4.3" ry="4" fill="#1f77b4"/><line x1="979.04" x2="979.04" y1="1796.58" y2="1828.61" stroke="#ff7f0e" stroke-width="4.3"/><ellipse cx="979.04" cy="1812.59" rx="4.3" ry="4" fill="#ff7f0e"/><line x1="986.83" x2="986.83" y1="1791.55" y2="1827.11" stroke="#1f77b4" stroke-width="4.3"/><ellipse cx="986.83" cy="1809.33" rx="4.3" ry="4" fill="#1f77b4"/><line x1="994.63" x2="994.63" y1="1780.44" y2="1819.37" stroke="#1f77b4" stroke-width="4.3"/><ellipse cx="994.63" cy="1799.9" rx="4.3" ry="4" fill="#1f77b4"/><line x1="1002.42" x2="1002.42" y1="1789.89" y2="1825.84" stroke="#1f77b4" stroke-width="4.3"/><ellipse cx="1002.42" cy="1807.86" rx="4.3" ry="4" fill="#1f77b4"/><line x1="1010.22" x2="1010.22" y1="1824.87" y2="1867.33" stroke="#ff7f0e" stroke-width="4.3"/><ellipse cx="1010.22" cy="1846.1" rx="4.3" ry="4" fill="#ff7f0e"/><line x1="1018.01" x2="1018.01" y1="1820.21" y2="1860.2" stroke="#ff7f0e" stroke-width="4.3"/><ellipse cx="1018.01" cy="1840.21" rx="4.3" ry="4" fill="#ff7f0e"/><line x1="1025.81" x2="1025.81" y1="1770.46" y2="1812.36" stroke="#1f77b4" stroke-width="4.3"/><ellipse cx="1025.81" cy="1791.41" rx="4.3" ry="4" fill="#1f77b4"/><line x1="1033.61" x2="1033.61" y1="1798.49" y2="1846.85" stroke="#ff7f0e" stroke-width="4.3"/><ellipse cx="1033.61" cy="1822.67" rx="4.3" ry="4" fill="#ff7f0e"/><line x1="1041.4" x2="1041.4" y1="1806.96" y2="1855.53" stroke="#ff7f0e" stroke-width="4.3"/><ellipse cx="1041.4" cy="1831.24" rx="4.3" ry="4" fill="#ff7f0e"/><line x1="1049.19" x2="1049.19" y1="1798.57" y2="1848.2" stroke="#ff7f0e" stroke-width="4.3"/><ellipse cx="1049.19" cy="1823.38" rx="4.3" ry="4" fill="#ff7f0e"/><line x1="1056.99" x2="1056.99" y1="1758.61" y2="1804.9" stroke="#ff7f0e" stroke-width="4.3"/><ellipse cx="1056.99" cy="1781.75" rx="4.3" ry="4" fill="#ff7f0e"/><line x1="1064.78" x2="1064.78" y1="1762.59" y2="1810.89" stroke="#ff7f0e" stroke-width="4.3"/><ellipse cx="1064.78" cy="1786.74" rx="4.3" ry="4" fill="#ff7f0e"/>
<rect x="222" y="1747" width="882.5" height="250.5" fill="none" stroke="#000" stroke-width="2.4"/>
<path d="M261.9 1997.5v10.5M417.8 1997.5v10.5M573.7 1997.5v10.5M729.6 1997.5v10.5M885.5 1997.5v10.5M1041.4 1997.5v10.5M222 1961.2h-10.5M222 1861.6h-10.5M222 1762h-10.5" stroke="#000" stroke-width="2.4" fill="none"/>
<text transform="translate(197,1972.3) scale(1.13,1)" font-size="30" text-anchor="end">−1000</text>
<text transform="translate(197,1872.7) scale(1.13,1)" font-size="30" text-anchor="end">0</text>
<text transform="translate(197,1773.1) scale(1.13,1)" font-size="30" text-anchor="end">1000</text>
<ellipse cx="261.9" cy="2057.84" rx="3.9" ry="3.7" fill="#ff7f0e"/><ellipse cx="269.69" cy="2059.45" rx="3.9" ry="3.7" fill="#ff7f0e"/><ellipse cx="277.49" cy="2180.25" rx="3.9" ry="3.7" fill="#ff7f0e"/><ellipse cx="285.28" cy="2071.98" rx="3.9" ry="3.7" fill="#ff7f0e"/><ellipse cx="293.08" cy="2074.8" rx="3.9" ry="3.7" fill="#ff7f0e"/><ellipse cx="300.88" cy="2070.76" rx="3.9" ry="3.7" fill="#ff7f0e"/><ellipse cx="308.67" cy="2067.53" rx="3.9" ry="3.7" fill="#ff7f0e"/><ellipse cx="316.46" cy="2101.47" rx="3.9" ry="3.7" fill="#ff7f0e"/><ellipse cx="324.26" cy="2074.8" rx="3.9" ry="3.7" fill="#ff7f0e"/><ellipse cx="332.05" cy="2080.46" rx="3.9" ry="3.7" fill="#ff7f0e"/><ellipse cx="339.85" cy="2109.95" rx="3.9" ry="3.7" fill="#ff7f0e"/><ellipse cx="347.64" cy="2069.15" rx="3.9" ry="3.7" fill="#ff7f0e"/><ellipse cx="355.44" cy="2055.01" rx="3.9" ry="3.7" fill="#1f77b4"/><ellipse cx="363.23" cy="2074.8" rx="3.9" ry="3.7" fill="#ff7f0e"/><ellipse cx="371.03" cy="2070.76" rx="3.9" ry="3.7" fill="#1f77b4"/><ellipse cx="378.82" cy="2080.46" rx="3.9" ry="3.7" fill="#ff7f0e"/><ellipse cx="386.62" cy="2067.53" rx="3.9" ry="3.7" fill="#1f77b4"/><ellipse cx="394.41" cy="2074.8" rx="3.9" ry="3.7" fill="#ff7f0e"/><ellipse cx="402.21" cy="2076.42" rx="3.9" ry="3.7" fill="#ff7f0e"/><ellipse cx="410" cy="2080.46" rx="3.9" ry="3.7" fill="#1f77b4"/><ellipse cx="417.8" cy="2079.25" rx="3.9" ry="3.7" fill="#1f77b4"/><ellipse cx="425.59" cy="2070.76" rx="3.9" ry="3.7" fill="#1f77b4"/><ellipse cx="433.39" cy="2063.49" rx="3.9" ry="3.7" fill="#1f77b4"/><ellipse cx="441.18" cy="2080.46" rx="3.9" ry="3.7" fill="#1f77b4"/><ellipse cx="448.98" cy="2060.66" rx="3.9" ry="3.7" fill="#1f77b4"/><ellipse cx="456.77" cy="2081.67" rx="3.9" ry="3.7" fill="#1f77b4"/><ellipse cx="464.57" cy="2081.67" rx="3.9" ry="3.7" fill="#1f77b4"/><ellipse cx="472.37" cy="2088.94" rx="3.9" ry="3.7" fill="#ff7f0e"/><ellipse cx="480.16" cy="2090.56" rx="3.9" ry="3.7" fill="#ff7f0e"/><ellipse cx="487.95" cy="2079.25" rx="3.9" ry="3.7" fill="#ff7f0e"/><ellipse cx="495.75" cy="2086.12" rx="3.9" ry="3.7" fill="#1f77b4"/><ellipse cx="503.54" cy="2070.76" rx="3.9" ry="3.7" fill="#1f77b4"/><ellipse cx="511.34" cy="2107.53" rx="3.9" ry="3.7" fill="#1f77b4"/><ellipse cx="519.13" cy="2083.29" rx="3.9" ry="3.7" fill="#ff7f0e"/><ellipse cx="526.93" cy="2071.98" rx="3.9" ry="3.7" fill="#1f77b4"/><ellipse cx="534.72" cy="2061.07" rx="3.9" ry="3.7" fill="#ff7f0e"/><ellipse cx="542.52" cy="2116.82" rx="3.9" ry="3.7" fill="#ff7f0e"/><ellipse cx="550.32" cy="2069.15" rx="3.9" ry="3.7" fill="#ff7f0e"/><ellipse cx="558.11" cy="2077.63" rx="3.9" ry="3.7" fill="#ff7f0e"/><ellipse cx="565.9" cy="2073.59" rx="3.9" ry="3.7" fill="#ff7f0e"/><ellipse cx="573.7" cy="2067.94" rx="3.9" ry="3.7" fill="#ff7f0e"/><ellipse cx="581.49" cy="2095.81" rx="3.9" ry="3.7" fill="#ff7f0e"/><ellipse cx="589.29" cy="2077.63" rx="3.9" ry="3.7" fill="#ff7f0e"/><ellipse cx="597.09" cy="2061.88" rx="3.9" ry="3.7" fill="#ff7f0e"/><ellipse cx="604.88" cy="2081.67" rx="3.9" ry="3.7" fill="#ff7f0e"/><ellipse cx="612.67" cy="2097.02" rx="3.9" ry="3.7" fill="#ff7f0e"/><ellipse cx="620.47" cy="2279.63" rx="3.9" ry="3.7" fill="#ff7f0e"/><ellipse cx="628.26" cy="2188.73" rx="3.9" ry="3.7" fill="#ff7f0e"/><ellipse cx="636.06" cy="2135.4" rx="3.9" ry="3.7" fill="#ff7f0e"/><ellipse cx="643.86" cy="2112.78" rx="3.9" ry="3.7" fill="#ff7f0e"/><ellipse cx="651.65" cy="2128.13" rx="3.9" ry="3.7" fill="#ff7f0e"/><ellipse cx="659.44" cy="2136.62" rx="3.9" ry="3.7" fill="#ff7f0e"/><ellipse cx="667.24" cy="2113.18" rx="3.9" ry="3.7" fill="#ff7f0e"/><ellipse cx="675.03" cy="2108.74" rx="3.9" ry="3.7" fill="#ff7f0e"/><ellipse cx="682.83" cy="2124.09" rx="3.9" ry="3.7" fill="#ff7f0e"/><ellipse cx="690.62" cy="2143.89" rx="3.9" ry="3.7" fill="#ff7f0e"/><ellipse cx="698.42" cy="2152.37" rx="3.9" ry="3.7" fill="#ff7f0e"/><ellipse cx="706.21" cy="2090.56" rx="3.9" ry="3.7" fill="#ff7f0e"/><ellipse cx="714.01" cy="2087.73" rx="3.9" ry="3.7" fill="#ff7f0e"/><ellipse cx="721.8" cy="2122.48" rx="3.9" ry="3.7" fill="#ff7f0e"/><ellipse cx="729.6" cy="2153.58" rx="3.9" ry="3.7" fill="#ff7f0e"/><ellipse cx="791.96" cy="2173.38" rx="3.9" ry="3.7" fill="#ff7f0e"/><ellipse cx="830.93" cy="2170.55" rx="3.9" ry="3.7" fill="#ff7f0e"/><ellipse cx="838.73" cy="2128.54" rx="3.9" ry="3.7" fill="#ff7f0e"/><ellipse cx="846.52" cy="2122.48" rx="3.9" ry="3.7" fill="#ff7f0e"/><ellipse cx="854.32" cy="2121.26" rx="3.9" ry="3.7" fill="#ff7f0e"/><ellipse cx="862.12" cy="2115.61" rx="3.9" ry="3.7" fill="#ff7f0e"/><ellipse cx="869.91" cy="2066.32" rx="3.9" ry="3.7" fill="#ff7f0e"/><ellipse cx="877.7" cy="2069.55" rx="3.9" ry="3.7" fill="#1f77b4"/><ellipse cx="885.5" cy="2117.22" rx="3.9" ry="3.7" fill="#ff7f0e"/><ellipse cx="893.29" cy="2070.76" rx="3.9" ry="3.7" fill="#ff7f0e"/><ellipse cx="901.09" cy="2072.38" rx="3.9" ry="3.7" fill="#1f77b4"/><ellipse cx="908.88" cy="2073.59" rx="3.9" ry="3.7" fill="#ff7f0e"/><ellipse cx="916.68" cy="2075.21" rx="3.9" ry="3.7" fill="#1f77b4"/><ellipse cx="924.48" cy="2062.28" rx="3.9" ry="3.7" fill="#1f77b4"/><ellipse cx="932.27" cy="2053.39" rx="3.9" ry="3.7" fill="#1f77b4"/><ellipse cx="940.06" cy="2063.49" rx="3.9" ry="3.7" fill="#1f77b4"/><ellipse cx="947.86" cy="2065.11" rx="3.9" ry="3.7" fill="#1f77b4"/><ellipse cx="955.65" cy="2100.26" rx="3.9" ry="3.7" fill="#ff7f0e"/><ellipse cx="963.45" cy="2099.04" rx="3.9" ry="3.7" fill="#ff7f0e"/><ellipse cx="971.25" cy="2052.58" rx="3.9" ry="3.7" fill="#1f77b4"/><ellipse cx="979.04" cy="2075.21" rx="3.9" ry="3.7" fill="#ff7f0e"/><ellipse cx="986.83" cy="2072.38" rx="3.9" ry="3.7" fill="#1f77b4"/><ellipse cx="994.63" cy="2065.11" rx="3.9" ry="3.7" fill="#1f77b4"/><ellipse cx="1002.42" cy="2071.17" rx="3.9" ry="3.7" fill="#1f77b4"/><ellipse cx="1010.22" cy="2125.71" rx="3.9" ry="3.7" fill="#ff7f0e"/><ellipse cx="1018.01" cy="2111.57" rx="3.9" ry="3.7" fill="#ff7f0e"/><ellipse cx="1025.81" cy="2059.45" rx="3.9" ry="3.7" fill="#1f77b4"/><ellipse cx="1033.61" cy="2085.31" rx="3.9" ry="3.7" fill="#ff7f0e"/><ellipse cx="1041.4" cy="2096.22" rx="3.9" ry="3.7" fill="#ff7f0e"/><ellipse cx="1049.19" cy="2086.12" rx="3.9" ry="3.7" fill="#ff7f0e"/><ellipse cx="1056.99" cy="2053.8" rx="3.9" ry="3.7" fill="#ff7f0e"/><ellipse cx="1064.78" cy="2056.62" rx="3.9" ry="3.7" fill="#ff7f0e"/>
<rect x="222" y="2040" width="882.5" height="250.5" fill="none" stroke="#000" stroke-width="2.4"/>
<path d="M261.9 2290.5v10.5M417.8 2290.5v10.5M573.7 2290.5v10.5M729.6 2290.5v10.5M885.5 2290.5v10.5M1041.4 2290.5v10.5M222 2064.3h-10.5M222 2145.1h-10.5M222 2225.9h-10.5" stroke="#000" stroke-width="2.4" fill="none"/>
<text transform="translate(197,2075.4) scale(1.13,1)" font-size="30" text-anchor="end">24</text>
<text transform="translate(197,2156.2) scale(1.13,1)" font-size="30" text-anchor="end">26</text>
<text transform="translate(197,2237) scale(1.13,1)" font-size="30" text-anchor="end">28</text>
<ellipse cx="261.9" cy="2344.57" rx="3.9" ry="3.7" fill="#ff7f0e"/><ellipse cx="269.69" cy="2379.93" rx="3.9" ry="3.7" fill="#ff7f0e"/><ellipse cx="277.49" cy="2490.62" rx="3.9" ry="3.7" fill="#ff7f0e"/><ellipse cx="285.28" cy="2409.48" rx="3.9" ry="3.7" fill="#ff7f0e"/><ellipse cx="293.08" cy="2417.72" rx="3.9" ry="3.7" fill="#ff7f0e"/><ellipse cx="300.88" cy="2403.91" rx="3.9" ry="3.7" fill="#ff7f0e"/><ellipse cx="308.67" cy="2391.07" rx="3.9" ry="3.7" fill="#ff7f0e"/><ellipse cx="316.46" cy="2454.05" rx="3.9" ry="3.7" fill="#ff7f0e"/><ellipse cx="324.26" cy="2413.6" rx="3.9" ry="3.7" fill="#ff7f0e"/><ellipse cx="332.05" cy="2426.19" rx="3.9" ry="3.7" fill="#ff7f0e"/><ellipse cx="339.85" cy="2466.88" rx="3.9" ry="3.7" fill="#ff7f0e"/><ellipse cx="347.64" cy="2400.76" rx="3.9" ry="3.7" fill="#ff7f0e"/><ellipse cx="355.44" cy="2371.7" rx="3.9" ry="3.7" fill="#1f77b4"/><ellipse cx="363.23" cy="2409.48" rx="3.9" ry="3.7" fill="#ff7f0e"/><ellipse cx="371.03" cy="2396.64" rx="3.9" ry="3.7" fill="#1f77b4"/><ellipse cx="378.82" cy="2424.98" rx="3.9" ry="3.7" fill="#ff7f0e"/><ellipse cx="386.62" cy="2396.64" rx="3.9" ry="3.7" fill="#1f77b4"/><ellipse cx="394.41" cy="2414.81" rx="3.9" ry="3.7" fill="#ff7f0e"/><ellipse cx="402.21" cy="2408.27" rx="3.9" ry="3.7" fill="#ff7f0e"/><ellipse cx="410" cy="2406.58" rx="3.9" ry="3.7" fill="#1f77b4"/><ellipse cx="417.8" cy="2413.6" rx="3.9" ry="3.7" fill="#1f77b4"/><ellipse cx="425.59" cy="2395.19" rx="3.9" ry="3.7" fill="#1f77b4"/><ellipse cx="433.39" cy="2375.57" rx="3.9" ry="3.7" fill="#1f77b4"/><ellipse cx="441.18" cy="2409.48" rx="3.9" ry="3.7" fill="#1f77b4"/><ellipse cx="448.98" cy="2364.67" rx="3.9" ry="3.7" fill="#1f77b4"/><ellipse cx="456.77" cy="2416.51" rx="3.9" ry="3.7" fill="#1f77b4"/><ellipse cx="464.57" cy="2420.62" rx="3.9" ry="3.7" fill="#1f77b4"/><ellipse cx="472.37" cy="2448.72" rx="3.9" ry="3.7" fill="#ff7f0e"/><ellipse cx="480.16" cy="2441.69" rx="3.9" ry="3.7" fill="#ff7f0e"/><ellipse cx="487.95" cy="2417.96" rx="3.9" ry="3.7" fill="#ff7f0e"/><ellipse cx="495.75" cy="2424.98" rx="3.9" ry="3.7" fill="#1f77b4"/><ellipse cx="503.54" cy="2391.07" rx="3.9" ry="3.7" fill="#1f77b4"/><ellipse cx="511.34" cy="2458.65" rx="3.9" ry="3.7" fill="#1f77b4"/><ellipse cx="519.13" cy="2420.62" rx="3.9" ry="3.7" fill="#ff7f0e"/><ellipse cx="526.93" cy="2396.64" rx="3.9" ry="3.7" fill="#1f77b4"/><ellipse cx="534.72" cy="2355.71" rx="3.9" ry="3.7" fill="#ff7f0e"/><ellipse cx="542.52" cy="2464.22" rx="3.9" ry="3.7" fill="#ff7f0e"/><ellipse cx="550.32" cy="2391.07" rx="3.9" ry="3.7" fill="#ff7f0e"/><ellipse cx="558.11" cy="2416.51" rx="3.9" ry="3.7" fill="#ff7f0e"/><ellipse cx="565.9" cy="2406.58" rx="3.9" ry="3.7" fill="#ff7f0e"/><ellipse cx="573.7" cy="2385.5" rx="3.9" ry="3.7" fill="#ff7f0e"/><ellipse cx="581.49" cy="2444.36" rx="3.9" ry="3.7" fill="#ff7f0e"/><ellipse cx="589.29" cy="2417.96" rx="3.9" ry="3.7" fill="#ff7f0e"/><ellipse cx="597.09" cy="2374.12" rx="3.9" ry="3.7" fill="#ff7f0e"/><ellipse cx="604.88" cy="2419.17" rx="3.9" ry="3.7" fill="#ff7f0e"/><ellipse cx="612.67" cy="2462.28" rx="3.9" ry="3.7" fill="#ff7f0e"/><ellipse cx="620.47" cy="2497.88" rx="3.9" ry="3.7" fill="#ff7f0e"/><ellipse cx="628.26" cy="2494.98" rx="3.9" ry="3.7" fill="#ff7f0e"/><ellipse cx="636.06" cy="2485.29" rx="3.9" ry="3.7" fill="#ff7f0e"/><ellipse cx="643.86" cy="2473.91" rx="3.9" ry="3.7" fill="#ff7f0e"/><ellipse cx="651.65" cy="2482.14" rx="3.9" ry="3.7" fill="#ff7f0e"/><ellipse cx="659.44" cy="2487.71" rx="3.9" ry="3.7" fill="#ff7f0e"/><ellipse cx="667.24" cy="2480.93" rx="3.9" ry="3.7" fill="#ff7f0e"/><ellipse cx="675.03" cy="2477.78" rx="3.9" ry="3.7" fill="#ff7f0e"/><ellipse cx="682.83" cy="2485.29" rx="3.9" ry="3.7" fill="#ff7f0e"/><ellipse cx="690.62" cy="2489.65" rx="3.9" ry="3.7" fill="#ff7f0e"/><ellipse cx="698.42" cy="2490.86" rx="3.9" ry="3.7" fill="#ff7f0e"/><ellipse cx="706.21" cy="2468.34" rx="3.9" ry="3.7" fill="#ff7f0e"/><ellipse cx="714.01" cy="2468.34" rx="3.9" ry="3.7" fill="#ff7f0e"/><ellipse cx="721.8" cy="2486.74" rx="3.9" ry="3.7" fill="#ff7f0e"/><ellipse cx="729.6" cy="2492.07" rx="3.9" ry="3.7" fill="#ff7f0e"/><ellipse cx="737.39" cy="2509.27" rx="3.9" ry="3.7" fill="#ff7f0e"/><ellipse cx="745.19" cy="2499.34" rx="3.9" ry="3.7" fill="#ff7f0e"/><ellipse cx="752.98" cy="2549.72" rx="3.9" ry="3.7" fill="#ff7f0e"/><ellipse cx="760.78" cy="2572.48" rx="3.9" ry="3.7" fill="#ff7f0e"/><ellipse cx="768.58" cy="2549.72" rx="3.9" ry="3.7" fill="#ff7f0e"/><ellipse cx="776.37" cy="2528.89" rx="3.9" ry="3.7" fill="#ff7f0e"/><ellipse cx="784.16" cy="2509.27" rx="3.9" ry="3.7" fill="#ff7f0e"/><ellipse cx="791.96" cy="2493.28" rx="3.9" ry="3.7" fill="#ff7f0e"/><ellipse cx="799.75" cy="2506.12" rx="3.9" ry="3.7" fill="#ff7f0e"/><ellipse cx="807.55" cy="2504.91" rx="3.9" ry="3.7" fill="#ff7f0e"/><ellipse cx="815.35" cy="2511.69" rx="3.9" ry="3.7" fill="#ff7f0e"/><ellipse cx="823.14" cy="2507.33" rx="3.9" ry="3.7" fill="#ff7f0e"/><ellipse cx="830.93" cy="2492.07" rx="3.9" ry="3.7" fill="#ff7f0e"/><ellipse cx="838.73" cy="2485.29" rx="3.9" ry="3.7" fill="#ff7f0e"/><ellipse cx="846.52" cy="2483.84" rx="3.9" ry="3.7" fill="#ff7f0e"/><ellipse cx="854.32" cy="2482.63" rx="3.9" ry="3.7" fill="#ff7f0e"/><ellipse cx="862.12" cy="2482.63" rx="3.9" ry="3.7" fill="#ff7f0e"/><ellipse cx="869.91" cy="2394.22" rx="3.9" ry="3.7" fill="#ff7f0e"/><ellipse cx="877.7" cy="2398.34" rx="3.9" ry="3.7" fill="#1f77b4"/><ellipse cx="885.5" cy="2468.34" rx="3.9" ry="3.7" fill="#ff7f0e"/><ellipse cx="893.29" cy="2416.51" rx="3.9" ry="3.7" fill="#ff7f0e"/><ellipse cx="901.09" cy="2419.17" rx="3.9" ry="3.7" fill="#1f77b4"/><ellipse cx="908.88" cy="2434.43" rx="3.9" ry="3.7" fill="#ff7f0e"/><ellipse cx="916.68" cy="2423.29" rx="3.9" ry="3.7" fill="#1f77b4"/><ellipse cx="924.48" cy="2400.76" rx="3.9" ry="3.7" fill="#1f77b4"/><ellipse cx="932.27" cy="2370" rx="3.9" ry="3.7" fill="#1f77b4"/><ellipse cx="940.06" cy="2392.29" rx="3.9" ry="3.7" fill="#1f77b4"/><ellipse cx="947.86" cy="2402.22" rx="3.9" ry="3.7" fill="#1f77b4"/><ellipse cx="955.65" cy="2455.98" rx="3.9" ry="3.7" fill="#ff7f0e"/><ellipse cx="963.45" cy="2454.29" rx="3.9" ry="3.7" fill="#ff7f0e"/><ellipse cx="971.25" cy="2385.5" rx="3.9" ry="3.7" fill="#1f77b4"/><ellipse cx="979.04" cy="2423.29" rx="3.9" ry="3.7" fill="#ff7f0e"/><ellipse cx="986.83" cy="2426.19" rx="3.9" ry="3.7" fill="#1f77b4"/><ellipse cx="994.63" cy="2420.62" rx="3.9" ry="3.7" fill="#1f77b4"/><ellipse cx="1002.42" cy="2424.98" rx="3.9" ry="3.7" fill="#1f77b4"/><ellipse cx="1010.22" cy="2479.72" rx="3.9" ry="3.7" fill="#ff7f0e"/><ellipse cx="1018.01" cy="2471.48" rx="3.9" ry="3.7" fill="#ff7f0e"/><ellipse cx="1025.81" cy="2416.26" rx="3.9" ry="3.7" fill="#1f77b4"/><ellipse cx="1033.61" cy="2458.41" rx="3.9" ry="3.7" fill="#ff7f0e"/><ellipse cx="1041.4" cy="2467.12" rx="3.9" ry="3.7" fill="#ff7f0e"/><ellipse cx="1049.19" cy="2460.1" rx="3.9" ry="3.7" fill="#ff7f0e"/><ellipse cx="1056.99" cy="2413.84" rx="3.9" ry="3.7" fill="#ff7f0e"/><ellipse cx="1064.78" cy="2422.32" rx="3.9" ry="3.7" fill="#ff7f0e"/>
<rect x="222" y="2333.3" width="882.5" height="250.7" fill="none" stroke="#000" stroke-width="2.4"/>
<path d="M261.9 2584v10.5M417.8 2584v10.5M573.7 2584v10.5M729.6 2584v10.5M885.5 2584v10.5M1041.4 2584v10.5M222 2497.4h-10.5M222 2376.3h-10.5" stroke="#000" stroke-width="2.4" fill="none"/>
<text transform="translate(197,2508.5) scale(1.13,1)" font-size="30" text-anchor="end">0</text>
<text transform="translate(197,2387.4) scale(1.13,1)" font-size="30" text-anchor="end">5</text>
<text transform="translate(261.9,2626.5) scale(1.13,1)" font-size="30" text-anchor="middle">0</text>
<text transform="translate(417.8,2626.5) scale(1.13,1)" font-size="30" text-anchor="middle">20</text>
<text transform="translate(573.7,2626.5) scale(1.13,1)" font-size="30" text-anchor="middle">40</text>
<text transform="translate(729.6,2626.5) scale(1.13,1)" font-size="30" text-anchor="middle">60</text>
<text transform="translate(885.5,2626.5) scale(1.13,1)" font-size="30" text-anchor="middle">80</text>
<text transform="translate(1041.4,2626.5) scale(1.13,1)" font-size="30" text-anchor="middle">100</text>
<line x1="1319.5" x2="1319.5" y1="1777.24" y2="1800.32" stroke="#ff7f0e" stroke-width="4.3"/><ellipse cx="1319.5" cy="1788.78" rx="4.3" ry="4" fill="#ff7f0e"/><line x1="1327.3" x2="1327.3" y1="1776.94" y2="1805.88" stroke="#ff7f0e" stroke-width="4.3"/><ellipse cx="1327.3" cy="1791.41" rx="4.3" ry="4" fill="#ff7f0e"/><line x1="1335.1" x2="1335.1" y1="1842.68" y2="1872.56" stroke="#ff7f0e" stroke-width="4.3"/><ellipse cx="1335.1" cy="1857.62" rx="4.3" ry="4" fill="#ff7f0e"/><line x1="1342.9" x2="1342.9" y1="1794.31" y2="1823.38" stroke="#ff7f0e" stroke-width="4.3"/><ellipse cx="1342.9" cy="1808.85" rx="4.3" ry="4" fill="#ff7f0e"/><line x1="1350.7" x2="1350.7" y1="1797.11" y2="1827.17" stroke="#ff7f0e" stroke-width="4.3"/><ellipse cx="1350.7" cy="1812.14" rx="4.3" ry="4" fill="#ff7f0e"/><line x1="1358.5" x2="1358.5" y1="1793.32" y2="1821.42" stroke="#ff7f0e" stroke-width="4.3"/><ellipse cx="1358.5" cy="1807.37" rx="4.3" ry="4" fill="#ff7f0e"/><line x1="1366.3" x2="1366.3" y1="1789.92" y2="1816.52" stroke="#ff7f0e" stroke-width="4.3"/><ellipse cx="1366.3" cy="1803.22" rx="4.3" ry="4" fill="#ff7f0e"/><line x1="1374.1" x2="1374.1" y1="1819.62" y2="1849.71" stroke="#ff7f0e" stroke-width="4.3"/><ellipse cx="1374.1" cy="1834.67" rx="4.3" ry="4" fill="#ff7f0e"/><line x1="1381.9" x2="1381.9" y1="1797.84" y2="1826.43" stroke="#ff7f0e" stroke-width="4.3"/><ellipse cx="1381.9" cy="1812.14" rx="4.3" ry="4" fill="#ff7f0e"/><line x1="1389.7" x2="1389.7" y1="1803.33" y2="1832.91" stroke="#ff7f0e" stroke-width="4.3"/><ellipse cx="1389.7" cy="1818.12" rx="4.3" ry="4" fill="#ff7f0e"/><line x1="1397.5" x2="1397.5" y1="1821.79" y2="1857.02" stroke="#ff7f0e" stroke-width="4.3"/><ellipse cx="1397.5" cy="1839.4" rx="4.3" ry="4" fill="#ff7f0e"/><line x1="1405.3" x2="1405.3" y1="1791.23" y2="1819.43" stroke="#ff7f0e" stroke-width="4.3"/><ellipse cx="1405.3" cy="1805.33" rx="4.3" ry="4" fill="#ff7f0e"/><line x1="1413.1" x2="1413.1" y1="1768.96" y2="1798.89" stroke="#ff7f0e" stroke-width="4.3"/><ellipse cx="1413.1" cy="1783.93" rx="4.3" ry="4" fill="#ff7f0e"/><line x1="1420.9" x2="1420.9" y1="1798.51" y2="1825.76" stroke="#ff7f0e" stroke-width="4.3"/><ellipse cx="1420.9" cy="1812.14" rx="4.3" ry="4" fill="#ff7f0e"/><line x1="1428.7" x2="1428.7" y1="1794.33" y2="1820.4" stroke="#ff7f0e" stroke-width="4.3"/><ellipse cx="1428.7" cy="1807.37" rx="4.3" ry="4" fill="#ff7f0e"/><line x1="1436.5" x2="1436.5" y1="1803.58" y2="1832.66" stroke="#ff7f0e" stroke-width="4.3"/><ellipse cx="1436.5" cy="1818.12" rx="4.3" ry="4" fill="#ff7f0e"/><line x1="1444.3" x2="1444.3" y1="1789.19" y2="1817.25" stroke="#ff7f0e" stroke-width="4.3"/><ellipse cx="1444.3" cy="1803.22" rx="4.3" ry="4" fill="#ff7f0e"/><line x1="1452.1" x2="1452.1" y1="1797.63" y2="1826.64" stroke="#ff7f0e" stroke-width="4.3"/><ellipse cx="1452.1" cy="1812.14" rx="4.3" ry="4" fill="#ff7f0e"/><line x1="1459.9" x2="1459.9" y1="1800.97" y2="1826.88" stroke="#ff7f0e" stroke-width="4.3"/><ellipse cx="1459.9" cy="1813.93" rx="4.3" ry="4" fill="#ff7f0e"/><line x1="1467.7" x2="1467.7" y1="1806.53" y2="1829.72" stroke="#ff7f0e" stroke-width="4.3"/><ellipse cx="1467.7" cy="1818.12" rx="4.3" ry="4" fill="#ff7f0e"/><line x1="1475.5" x2="1475.5" y1="1803.99" y2="1829.82" stroke="#ff7f0e" stroke-width="4.3"/><ellipse cx="1475.5" cy="1816.9" rx="4.3" ry="4" fill="#ff7f0e"/><line x1="1483.3" x2="1483.3" y1="1794.52" y2="1820.22" stroke="#ff7f0e" stroke-width="4.3"/><ellipse cx="1483.3" cy="1807.37" rx="4.3" ry="4" fill="#ff7f0e"/><line x1="1491.1" x2="1491.1" y1="1784.86" y2="1810.31" stroke="#ff7f0e" stroke-width="4.3"/><ellipse cx="1491.1" cy="1797.59" rx="4.3" ry="4" fill="#ff7f0e"/><line x1="1498.9" x2="1498.9" y1="1806.15" y2="1830.1" stroke="#ff7f0e" stroke-width="4.3"/><ellipse cx="1498.9" cy="1818.12" rx="4.3" ry="4" fill="#ff7f0e"/><line x1="1506.7" x2="1506.7" y1="1780.87" y2="1805.78" stroke="#ff7f0e" stroke-width="4.3"/><ellipse cx="1506.7" cy="1793.33" rx="4.3" ry="4" fill="#ff7f0e"/><line x1="1514.5" x2="1514.5" y1="1806.65" y2="1831.97" stroke="#ff7f0e" stroke-width="4.3"/><ellipse cx="1514.5" cy="1819.31" rx="4.3" ry="4" fill="#ff7f0e"/><line x1="1522.3" x2="1522.3" y1="1805.97" y2="1832.65" stroke="#ff7f0e" stroke-width="4.3"/><ellipse cx="1522.3" cy="1819.31" rx="4.3" ry="4" fill="#ff7f0e"/><line x1="1530.1" x2="1530.1" y1="1807.94" y2="1843.6" stroke="#ff7f0e" stroke-width="4.3"/><ellipse cx="1530.1" cy="1825.77" rx="4.3" ry="4" fill="#ff7f0e"/><line x1="1537.9" x2="1537.9" y1="1812.05" y2="1842.08" stroke="#ff7f0e" stroke-width="4.3"/><ellipse cx="1537.9" cy="1827.07" rx="4.3" ry="4" fill="#ff7f0e"/><line x1="1545.7" x2="1545.7" y1="1803.28" y2="1830.53" stroke="#ff7f0e" stroke-width="4.3"/><ellipse cx="1545.7" cy="1816.9" rx="4.3" ry="4" fill="#ff7f0e"/><line x1="1553.5" x2="1553.5" y1="1810.6" y2="1836.16" stroke="#ff7f0e" stroke-width="4.3"/><ellipse cx="1553.5" cy="1823.38" rx="4.3" ry="4" fill="#ff7f0e"/><line x1="1561.3" x2="1561.3" y1="1795.01" y2="1819.72" stroke="#ff7f0e" stroke-width="4.3"/><ellipse cx="1561.3" cy="1807.37" rx="4.3" ry="4" fill="#ff7f0e"/><line x1="1569.1" x2="1569.1" y1="1823.48" y2="1852.8" stroke="#ff7f0e" stroke-width="4.3"/><ellipse cx="1569.1" cy="1838.14" rx="4.3" ry="4" fill="#ff7f0e"/><line x1="1576.9" x2="1576.9" y1="1807.98" y2="1833.7" stroke="#ff7f0e" stroke-width="4.3"/><ellipse cx="1576.9" cy="1820.84" rx="4.3" ry="4" fill="#ff7f0e"/><line x1="1584.7" x2="1584.7" y1="1796.16" y2="1821.53" stroke="#ff7f0e" stroke-width="4.3"/><ellipse cx="1584.7" cy="1808.85" rx="4.3" ry="4" fill="#ff7f0e"/><line x1="1592.5" x2="1592.5" y1="1782.39" y2="1805.52" stroke="#ff7f0e" stroke-width="4.3"/><ellipse cx="1592.5" cy="1793.95" rx="4.3" ry="4" fill="#ff7f0e"/><line x1="1600.3" x2="1600.3" y1="1828.77" y2="1856.47" stroke="#ff7f0e" stroke-width="4.3"/><ellipse cx="1600.3" cy="1842.62" rx="4.3" ry="4" fill="#ff7f0e"/><line x1="1608.1" x2="1608.1" y1="1792.52" y2="1818.15" stroke="#ff7f0e" stroke-width="4.3"/><ellipse cx="1608.1" cy="1805.33" rx="4.3" ry="4" fill="#ff7f0e"/><line x1="1615.9" x2="1615.9" y1="1801.34" y2="1829.11" stroke="#ff7f0e" stroke-width="4.3"/><ellipse cx="1615.9" cy="1815.23" rx="4.3" ry="4" fill="#ff7f0e"/><line x1="1623.7" x2="1623.7" y1="1797.19" y2="1824.31" stroke="#ff7f0e" stroke-width="4.3"/><ellipse cx="1623.7" cy="1810.75" rx="4.3" ry="4" fill="#ff7f0e"/><line x1="1631.5" x2="1631.5" y1="1791.24" y2="1816.28" stroke="#ff7f0e" stroke-width="4.3"/><ellipse cx="1631.5" cy="1803.76" rx="4.3" ry="4" fill="#ff7f0e"/><line x1="1639.3" x2="1639.3" y1="1816.97" y2="1844.95" stroke="#ff7f0e" stroke-width="4.3"/><ellipse cx="1639.3" cy="1830.96" rx="4.3" ry="4" fill="#ff7f0e"/><line x1="1647.1" x2="1647.1" y1="1801.09" y2="1829.37" stroke="#ff7f0e" stroke-width="4.3"/><ellipse cx="1647.1" cy="1815.23" rx="4.3" ry="4" fill="#ff7f0e"/><line x1="1654.9" x2="1654.9" y1="1782.14" y2="1808.23" stroke="#ff7f0e" stroke-width="4.3"/><ellipse cx="1654.9" cy="1795.19" rx="4.3" ry="4" fill="#ff7f0e"/><line x1="1662.7" x2="1662.7" y1="1806.21" y2="1832.4" stroke="#ff7f0e" stroke-width="4.3"/><ellipse cx="1662.7" cy="1819.31" rx="4.3" ry="4" fill="#ff7f0e"/><line x1="1670.5" x2="1670.5" y1="1812.5" y2="1852.93" stroke="#ff7f0e" stroke-width="4.3"/><ellipse cx="1670.5" cy="1832.72" rx="4.3" ry="4" fill="#ff7f0e"/><line x1="1678.3" x2="1678.3" y1="1840.29" y2="1883.91" stroke="#ff7f0e" stroke-width="4.3"/><ellipse cx="1678.3" cy="1862.1" rx="4.3" ry="4" fill="#ff7f0e"/><line x1="1686.1" x2="1686.1" y1="1834.01" y2="1882.22" stroke="#ff7f0e" stroke-width="4.3"/><ellipse cx="1686.1" cy="1858.11" rx="4.3" ry="4" fill="#ff7f0e"/><line x1="1693.9" x2="1693.9" y1="1826.64" y2="1871.46" stroke="#ff7f0e" stroke-width="4.3"/><ellipse cx="1693.9" cy="1849.05" rx="4.3" ry="4" fill="#ff7f0e"/><line x1="1701.7" x2="1701.7" y1="1818.57" y2="1862.4" stroke="#ff7f0e" stroke-width="4.3"/><ellipse cx="1701.7" cy="1840.48" rx="4.3" ry="4" fill="#ff7f0e"/><line x1="1709.5" x2="1709.5" y1="1825.84" y2="1869.47" stroke="#ff7f0e" stroke-width="4.3"/><ellipse cx="1709.5" cy="1847.66" rx="4.3" ry="4" fill="#ff7f0e"/><line x1="1717.3" x2="1717.3" y1="1820.37" y2="1879.33" stroke="#ff7f0e" stroke-width="4.3"/><ellipse cx="1717.3" cy="1849.85" rx="4.3" ry="4" fill="#ff7f0e"/><line x1="1725.1" x2="1725.1" y1="1811.3" y2="1871.26" stroke="#ff7f0e" stroke-width="4.3"/><ellipse cx="1725.1" cy="1841.28" rx="4.3" ry="4" fill="#ff7f0e"/><line x1="1732.9" x2="1732.9" y1="1812.2" y2="1866.98" stroke="#ff7f0e" stroke-width="4.3"/><ellipse cx="1732.9" cy="1839.59" rx="4.3" ry="4" fill="#ff7f0e"/><line x1="1740.7" x2="1740.7" y1="1817.78" y2="1875.15" stroke="#ff7f0e" stroke-width="4.3"/><ellipse cx="1740.7" cy="1846.46" rx="4.3" ry="4" fill="#ff7f0e"/><line x1="1748.5" x2="1748.5" y1="1823.05" y2="1882.02" stroke="#ff7f0e" stroke-width="4.3"/><ellipse cx="1748.5" cy="1852.54" rx="4.3" ry="4" fill="#ff7f0e"/><line x1="1756.3" x2="1756.3" y1="1825.94" y2="1880.92" stroke="#ff7f0e" stroke-width="4.3"/><ellipse cx="1756.3" cy="1853.43" rx="4.3" ry="4" fill="#ff7f0e"/><line x1="1764.1" x2="1764.1" y1="1797.86" y2="1855.42" stroke="#ff7f0e" stroke-width="4.3"/><ellipse cx="1764.1" cy="1826.64" rx="4.3" ry="4" fill="#ff7f0e"/><line x1="1771.9" x2="1771.9" y1="1793.97" y2="1854.13" stroke="#ff7f0e" stroke-width="4.3"/><ellipse cx="1771.9" cy="1824.05" rx="4.3" ry="4" fill="#ff7f0e"/><line x1="1779.7" x2="1779.7" y1="1812.9" y2="1878.23" stroke="#ff7f0e" stroke-width="4.3"/><ellipse cx="1779.7" cy="1845.56" rx="4.3" ry="4" fill="#ff7f0e"/><line x1="1787.5" x2="1787.5" y1="1823.75" y2="1885.7" stroke="#ff7f0e" stroke-width="4.3"/><ellipse cx="1787.5" cy="1854.73" rx="4.3" ry="4" fill="#ff7f0e"/><line x1="1795.3" x2="1795.3" y1="1846.26" y2="1903.63" stroke="#ff7f0e" stroke-width="4.3"/><ellipse cx="1795.3" cy="1874.95" rx="4.3" ry="4" fill="#ff7f0e"/><line x1="1803.1" x2="1803.1" y1="1837.5" y2="1893.27" stroke="#ff7f0e" stroke-width="4.3"/><ellipse cx="1803.1" cy="1865.38" rx="4.3" ry="4" fill="#ff7f0e"/><line x1="1810.9" x2="1810.9" y1="1897.36" y2="1953.93" stroke="#ff7f0e" stroke-width="4.3"/><ellipse cx="1810.9" cy="1925.64" rx="4.3" ry="4" fill="#ff7f0e"/><line x1="1818.7" x2="1818.7" y1="1926.64" y2="1987.39" stroke="#ff7f0e" stroke-width="4.3"/><ellipse cx="1818.7" cy="1957.02" rx="4.3" ry="4" fill="#ff7f0e"/><line x1="1826.5" x2="1826.5" y1="1905.13" y2="1977.04" stroke="#ff7f0e" stroke-width="4.3"/><ellipse cx="1826.5" cy="1941.08" rx="4.3" ry="4" fill="#ff7f0e"/><line x1="1834.3" x2="1834.3" y1="1871.16" y2="1931.92" stroke="#ff7f0e" stroke-width="4.3"/><ellipse cx="1834.3" cy="1901.54" rx="4.3" ry="4" fill="#ff7f0e"/><line x1="1842.1" x2="1842.1" y1="1844.77" y2="1908.51" stroke="#ff7f0e" stroke-width="4.3"/><ellipse cx="1842.1" cy="1876.64" rx="4.3" ry="4" fill="#ff7f0e"/><line x1="1849.9" x2="1849.9" y1="1826.74" y2="1887.5" stroke="#ff7f0e" stroke-width="4.3"/><ellipse cx="1849.9" cy="1857.12" rx="4.3" ry="4" fill="#ff7f0e"/><line x1="1857.7" x2="1857.7" y1="1841.08" y2="1905.22" stroke="#ff7f0e" stroke-width="4.3"/><ellipse cx="1857.7" cy="1873.15" rx="4.3" ry="4" fill="#ff7f0e"/><line x1="1865.5" x2="1865.5" y1="1843.37" y2="1901.14" stroke="#ff7f0e" stroke-width="4.3"/><ellipse cx="1865.5" cy="1872.26" rx="4.3" ry="4" fill="#ff7f0e"/><line x1="1873.3" x2="1873.3" y1="1851.44" y2="1905.22" stroke="#ff7f0e" stroke-width="4.3"/><ellipse cx="1873.3" cy="1878.33" rx="4.3" ry="4" fill="#ff7f0e"/><line x1="1881.1" x2="1881.1" y1="1844.67" y2="1901.64" stroke="#ff7f0e" stroke-width="4.3"/><ellipse cx="1881.1" cy="1873.15" rx="4.3" ry="4" fill="#ff7f0e"/><line x1="1888.9" x2="1888.9" y1="1832.22" y2="1881.02" stroke="#ff7f0e" stroke-width="4.3"/><ellipse cx="1888.9" cy="1856.62" rx="4.3" ry="4" fill="#ff7f0e"/><line x1="1896.7" x2="1896.7" y1="1819.77" y2="1875.54" stroke="#ff7f0e" stroke-width="4.3"/><ellipse cx="1896.7" cy="1847.66" rx="4.3" ry="4" fill="#ff7f0e"/><line x1="1904.5" x2="1904.5" y1="1818.37" y2="1872.76" stroke="#ff7f0e" stroke-width="4.3"/><ellipse cx="1904.5" cy="1845.56" rx="4.3" ry="4" fill="#ff7f0e"/><line x1="1912.3" x2="1912.3" y1="1819.47" y2="1870.86" stroke="#ff7f0e" stroke-width="4.3"/><ellipse cx="1912.3" cy="1845.17" rx="4.3" ry="4" fill="#ff7f0e"/><line x1="1920.1" x2="1920.1" y1="1813.99" y2="1872.16" stroke="#ff7f0e" stroke-width="4.3"/><ellipse cx="1920.1" cy="1843.07" rx="4.3" ry="4" fill="#ff7f0e"/><line x1="1927.9" x2="1927.9" y1="1787.5" y2="1815.67" stroke="#ff7f0e" stroke-width="4.3"/><ellipse cx="1927.9" cy="1801.59" rx="4.3" ry="4" fill="#ff7f0e"/><line x1="1935.7" x2="1935.7" y1="1792.22" y2="1819.48" stroke="#ff7f0e" stroke-width="4.3"/><ellipse cx="1935.7" cy="1805.85" rx="4.3" ry="4" fill="#ff7f0e"/><line x1="1943.5" x2="1943.5" y1="1827.13" y2="1858.47" stroke="#1f77b4" stroke-width="4.3"/><ellipse cx="1943.5" cy="1842.8" rx="4.3" ry="4" fill="#1f77b4"/><line x1="1951.3" x2="1951.3" y1="1791.13" y2="1823.6" stroke="#1f77b4" stroke-width="4.3"/><ellipse cx="1951.3" cy="1807.37" rx="4.3" ry="4" fill="#1f77b4"/><line x1="1959.1" x2="1959.1" y1="1793.15" y2="1825.51" stroke="#1f77b4" stroke-width="4.3"/><ellipse cx="1959.1" cy="1809.33" rx="4.3" ry="4" fill="#1f77b4"/><line x1="1966.9" x2="1966.9" y1="1791.2" y2="1830.31" stroke="#1f77b4" stroke-width="4.3"/><ellipse cx="1966.9" cy="1810.75" rx="4.3" ry="4" fill="#1f77b4"/><line x1="1974.7" x2="1974.7" y1="1796.58" y2="1828.61" stroke="#1f77b4" stroke-width="4.3"/><ellipse cx="1974.7" cy="1812.59" rx="4.3" ry="4" fill="#1f77b4"/><line x1="1982.5" x2="1982.5" y1="1779.3" y2="1812.29" stroke="#1f77b4" stroke-width="4.3"/><ellipse cx="1982.5" cy="1795.79" rx="4.3" ry="4" fill="#1f77b4"/><line x1="1990.3" x2="1990.3" y1="1765.69" y2="1796.33" stroke="#1f77b4" stroke-width="4.3"/><ellipse cx="1990.3" cy="1781.01" rx="4.3" ry="4" fill="#1f77b4"/><line x1="1998.1" x2="1998.1" y1="1782.84" y2="1812.34" stroke="#1f77b4" stroke-width="4.3"/><ellipse cx="1998.1" cy="1797.59" rx="4.3" ry="4" fill="#1f77b4"/><line x1="2005.9" x2="2005.9" y1="1784.2" y2="1815.6" stroke="#1f77b4" stroke-width="4.3"/><ellipse cx="2005.9" cy="1799.9" rx="4.3" ry="4" fill="#1f77b4"/><line x1="2013.7" x2="2013.7" y1="1817.72" y2="1850.1" stroke="#1f77b4" stroke-width="4.3"/><ellipse cx="2013.7" cy="1833.91" rx="4.3" ry="4" fill="#1f77b4"/><line x1="2021.5" x2="2021.5" y1="1817.15" y2="1849.13" stroke="#1f77b4" stroke-width="4.3"/><ellipse cx="2021.5" cy="1833.14" rx="4.3" ry="4" fill="#1f77b4"/><line x1="2029.3" x2="2029.3" y1="1761.75" y2="1797.28" stroke="#1f77b4" stroke-width="4.3"/><ellipse cx="2029.3" cy="1779.52" rx="4.3" ry="4" fill="#1f77b4"/><line x1="2037.1" x2="2037.1" y1="1796.58" y2="1828.61" stroke="#1f77b4" stroke-width="4.3"/><ellipse cx="2037.1" cy="1812.59" rx="4.3" ry="4" fill="#1f77b4"/><line x1="2044.9" x2="2044.9" y1="1791.55" y2="1827.11" stroke="#1f77b4" stroke-width="4.3"/><ellipse cx="2044.9" cy="1809.33" rx="4.3" ry="4" fill="#1f77b4"/><line x1="2052.7" x2="2052.7" y1="1780.44" y2="1819.37" stroke="#1f77b4" stroke-width="4.3"/><ellipse cx="2052.7" cy="1799.9" rx="4.3" ry="4" fill="#1f77b4"/><line x1="2060.5" x2="2060.5" y1="1789.89" y2="1825.84" stroke="#1f77b4" stroke-width="4.3"/><ellipse cx="2060.5" cy="1807.86" rx="4.3" ry="4" fill="#1f77b4"/><line x1="2068.3" x2="2068.3" y1="1824.87" y2="1867.33" stroke="#ff7f0e" stroke-width="4.3"/><ellipse cx="2068.3" cy="1846.1" rx="4.3" ry="4" fill="#ff7f0e"/><line x1="2076.1" x2="2076.1" y1="1820.21" y2="1860.2" stroke="#ff7f0e" stroke-width="4.3"/><ellipse cx="2076.1" cy="1840.21" rx="4.3" ry="4" fill="#ff7f0e"/><line x1="2083.9" x2="2083.9" y1="1770.46" y2="1812.36" stroke="#ff7f0e" stroke-width="4.3"/><ellipse cx="2083.9" cy="1791.41" rx="4.3" ry="4" fill="#ff7f0e"/><line x1="2091.7" x2="2091.7" y1="1798.49" y2="1846.85" stroke="#ff7f0e" stroke-width="4.3"/><ellipse cx="2091.7" cy="1822.67" rx="4.3" ry="4" fill="#ff7f0e"/><line x1="2099.5" x2="2099.5" y1="1806.96" y2="1855.53" stroke="#ff7f0e" stroke-width="4.3"/><ellipse cx="2099.5" cy="1831.24" rx="4.3" ry="4" fill="#ff7f0e"/><line x1="2107.3" x2="2107.3" y1="1798.57" y2="1848.2" stroke="#ff7f0e" stroke-width="4.3"/><ellipse cx="2107.3" cy="1823.38" rx="4.3" ry="4" fill="#ff7f0e"/><line x1="2115.1" x2="2115.1" y1="1758.61" y2="1804.9" stroke="#ff7f0e" stroke-width="4.3"/><ellipse cx="2115.1" cy="1781.75" rx="4.3" ry="4" fill="#ff7f0e"/><line x1="2122.9" x2="2122.9" y1="1762.59" y2="1810.89" stroke="#ff7f0e" stroke-width="4.3"/><ellipse cx="2122.9" cy="1786.74" rx="4.3" ry="4" fill="#ff7f0e"/>
<rect x="1281" y="1747" width="882.5" height="250.5" fill="none" stroke="#000" stroke-width="2.4"/>
<path d="M1319.5 1997.5v10.5M1475.5 1997.5v10.5M1631.5 1997.5v10.5M1787.5 1997.5v10.5M1943.5 1997.5v10.5M2099.5 1997.5v10.5M1281 1961.2h-10.5M1281 1861.6h-10.5M1281 1762h-10.5" stroke="#000" stroke-width="2.4" fill="none"/>
<text transform="translate(1256,1972.3) scale(1.13,1)" font-size="30" text-anchor="end">−1000</text>
<text transform="translate(1256,1872.7) scale(1.13,1)" font-size="30" text-anchor="end">0</text>
<text transform="translate(1256,1773.1) scale(1.13,1)" font-size="30" text-anchor="end">1000</text>
<ellipse cx="1319.5" cy="2057.84" rx="3.9" ry="3.7" fill="#ff7f0e"/><ellipse cx="1327.3" cy="2059.45" rx="3.9" ry="3.7" fill="#ff7f0e"/><ellipse cx="1335.1" cy="2180.25" rx="3.9" ry="3.7" fill="#ff7f0e"/><ellipse cx="1342.9" cy="2071.98" rx="3.9" ry="3.7" fill="#ff7f0e"/><ellipse cx="1350.7" cy="2074.8" rx="3.9" ry="3.7" fill="#ff7f0e"/><ellipse cx="1358.5" cy="2070.76" rx="3.9" ry="3.7" fill="#ff7f0e"/><ellipse cx="1366.3" cy="2067.53" rx="3.9" ry="3.7" fill="#ff7f0e"/><ellipse cx="1374.1" cy="2101.47" rx="3.9" ry="3.7" fill="#ff7f0e"/><ellipse cx="1381.9" cy="2074.8" rx="3.9" ry="3.7" fill="#ff7f0e"/><ellipse cx="1389.7" cy="2080.46" rx="3.9" ry="3.7" fill="#ff7f0e"/><ellipse cx="1397.5" cy="2109.95" rx="3.9" ry="3.7" fill="#ff7f0e"/><ellipse cx="1405.3" cy="2069.15" rx="3.9" ry="3.7" fill="#ff7f0e"/><ellipse cx="1413.1" cy="2055.01" rx="3.9" ry="3.7" fill="#ff7f0e"/><ellipse cx="1420.9" cy="2074.8" rx="3.9" ry="3.7" fill="#ff7f0e"/><ellipse cx="1428.7" cy="2070.76" rx="3.9" ry="3.7" fill="#ff7f0e"/><ellipse cx="1436.5" cy="2080.46" rx="3.9" ry="3.7" fill="#ff7f0e"/><ellipse cx="1444.3" cy="2067.53" rx="3.9" ry="3.7" fill="#ff7f0e"/><ellipse cx="1452.1" cy="2074.8" rx="3.9" ry="3.7" fill="#ff7f0e"/><ellipse cx="1459.9" cy="2076.42" rx="3.9" ry="3.7" fill="#ff7f0e"/><ellipse cx="1467.7" cy="2080.46" rx="3.9" ry="3.7" fill="#ff7f0e"/><ellipse cx="1475.5" cy="2079.25" rx="3.9" ry="3.7" fill="#ff7f0e"/><ellipse cx="1483.3" cy="2070.76" rx="3.9" ry="3.7" fill="#ff7f0e"/><ellipse cx="1491.1" cy="2063.49" rx="3.9" ry="3.7" fill="#ff7f0e"/><ellipse cx="1498.9" cy="2080.46" rx="3.9" ry="3.7" fill="#ff7f0e"/><ellipse cx="1506.7" cy="2060.66" rx="3.9" ry="3.7" fill="#ff7f0e"/><ellipse cx="1514.5" cy="2081.67" rx="3.9" ry="3.7" fill="#ff7f0e"/><ellipse cx="1522.3" cy="2081.67" rx="3.9" ry="3.7" fill="#ff7f0e"/><ellipse cx="1530.1" cy="2088.94" rx="3.9" ry="3.7" fill="#ff7f0e"/><ellipse cx="1537.9" cy="2090.56" rx="3.9" ry="3.7" fill="#ff7f0e"/><ellipse cx="1545.7" cy="2079.25" rx="3.9" ry="3.7" fill="#ff7f0e"/><ellipse cx="1553.5" cy="2086.12" rx="3.9" ry="3.7" fill="#ff7f0e"/><ellipse cx="1561.3" cy="2070.76" rx="3.9" ry="3.7" fill="#ff7f0e"/><ellipse cx="1569.1" cy="2107.53" rx="3.9" ry="3.7" fill="#ff7f0e"/><ellipse cx="1576.9" cy="2083.29" rx="3.9" ry="3.7" fill="#ff7f0e"/><ellipse cx="1584.7" cy="2071.98" rx="3.9" ry="3.7" fill="#ff7f0e"/><ellipse cx="1592.5" cy="2061.07" rx="3.9" ry="3.7" fill="#ff7f0e"/><ellipse cx="1600.3" cy="2116.82" rx="3.9" ry="3.7" fill="#ff7f0e"/><ellipse cx="1608.1" cy="2069.15" rx="3.9" ry="3.7" fill="#ff7f0e"/><ellipse cx="1615.9" cy="2077.63" rx="3.9" ry="3.7" fill="#ff7f0e"/><ellipse cx="1623.7" cy="2073.59" rx="3.9" ry="3.7" fill="#ff7f0e"/><ellipse cx="1631.5" cy="2067.94" rx="3.9" ry="3.7" fill="#ff7f0e"/><ellipse cx="1639.3" cy="2095.81" rx="3.9" ry="3.7" fill="#ff7f0e"/><ellipse cx="1647.1" cy="2077.63" rx="3.9" ry="3.7" fill="#ff7f0e"/><ellipse cx="1654.9" cy="2061.88" rx="3.9" ry="3.7" fill="#ff7f0e"/><ellipse cx="1662.7" cy="2081.67" rx="3.9" ry="3.7" fill="#ff7f0e"/><ellipse cx="1670.5" cy="2097.02" rx="3.9" ry="3.7" fill="#ff7f0e"/><ellipse cx="1678.3" cy="2279.63" rx="3.9" ry="3.7" fill="#ff7f0e"/><ellipse cx="1686.1" cy="2188.73" rx="3.9" ry="3.7" fill="#ff7f0e"/><ellipse cx="1693.9" cy="2135.4" rx="3.9" ry="3.7" fill="#ff7f0e"/><ellipse cx="1701.7" cy="2112.78" rx="3.9" ry="3.7" fill="#ff7f0e"/><ellipse cx="1709.5" cy="2128.13" rx="3.9" ry="3.7" fill="#ff7f0e"/><ellipse cx="1717.3" cy="2136.62" rx="3.9" ry="3.7" fill="#ff7f0e"/><ellipse cx="1725.1" cy="2113.18" rx="3.9" ry="3.7" fill="#ff7f0e"/><ellipse cx="1732.9" cy="2108.74" rx="3.9" ry="3.7" fill="#ff7f0e"/><ellipse cx="1740.7" cy="2124.09" rx="3.9" ry="3.7" fill="#ff7f0e"/><ellipse cx="1748.5" cy="2143.89" rx="3.9" ry="3.7" fill="#ff7f0e"/><ellipse cx="1756.3" cy="2152.37" rx="3.9" ry="3.7" fill="#ff7f0e"/><ellipse cx="1764.1" cy="2090.56" rx="3.9" ry="3.7" fill="#ff7f0e"/><ellipse cx="1771.9" cy="2087.73" rx="3.9" ry="3.7" fill="#ff7f0e"/><ellipse cx="1779.7" cy="2122.48" rx="3.9" ry="3.7" fill="#ff7f0e"/><ellipse cx="1787.5" cy="2153.58" rx="3.9" ry="3.7" fill="#ff7f0e"/><ellipse cx="1849.9" cy="2173.38" rx="3.9" ry="3.7" fill="#ff7f0e"/><ellipse cx="1888.9" cy="2170.55" rx="3.9" ry="3.7" fill="#ff7f0e"/><ellipse cx="1896.7" cy="2128.54" rx="3.9" ry="3.7" fill="#ff7f0e"/><ellipse cx="1904.5" cy="2122.48" rx="3.9" ry="3.7" fill="#ff7f0e"/><ellipse cx="1912.3" cy="2121.26" rx="3.9" ry="3.7" fill="#ff7f0e"/><ellipse cx="1920.1" cy="2115.61" rx="3.9" ry="3.7" fill="#ff7f0e"/><ellipse cx="1927.9" cy="2066.32" rx="3.9" ry="3.7" fill="#ff7f0e"/><ellipse cx="1935.7" cy="2069.55" rx="3.9" ry="3.7" fill="#ff7f0e"/><ellipse cx="1943.5" cy="2117.22" rx="3.9" ry="3.7" fill="#1f77b4"/><ellipse cx="1951.3" cy="2070.76" rx="3.9" ry="3.7" fill="#1f77b4"/><ellipse cx="1959.1" cy="2072.38" rx="3.9" ry="3.7" fill="#1f77b4"/><ellipse cx="1966.9" cy="2073.59" rx="3.9" ry="3.7" fill="#1f77b4"/><ellipse cx="1974.7" cy="2075.21" rx="3.9" ry="3.7" fill="#1f77b4"/><ellipse cx="1982.5" cy="2062.28" rx="3.9" ry="3.7" fill="#1f77b4"/><ellipse cx="1990.3" cy="2053.39" rx="3.9" ry="3.7" fill="#1f77b4"/><ellipse cx="1998.1" cy="2063.49" rx="3.9" ry="3.7" fill="#1f77b4"/><ellipse cx="2005.9" cy="2065.11" rx="3.9" ry="3.7" fill="#1f77b4"/><ellipse cx="2013.7" cy="2100.26" rx="3.9" ry="3.7" fill="#1f77b4"/><ellipse cx="2021.5" cy="2099.04" rx="3.9" ry="3.7" fill="#1f77b4"/><ellipse cx="2029.3" cy="2052.58" rx="3.9" ry="3.7" fill="#1f77b4"/><ellipse cx="2037.1" cy="2075.21" rx="3.9" ry="3.7" fill="#1f77b4"/><ellipse cx="2044.9" cy="2072.38" rx="3.9" ry="3.7" fill="#1f77b4"/><ellipse cx="2052.7" cy="2065.11" rx="3.9" ry="3.7" fill="#1f77b4"/><ellipse cx="2060.5" cy="2071.17" rx="3.9" ry="3.7" fill="#1f77b4"/><ellipse cx="2068.3" cy="2125.71" rx="3.9" ry="3.7" fill="#ff7f0e"/><ellipse cx="2076.1" cy="2111.57" rx="3.9" ry="3.7" fill="#ff7f0e"/><ellipse cx="2083.9" cy="2059.45" rx="3.9" ry="3.7" fill="#ff7f0e"/><ellipse cx="2091.7" cy="2085.31" rx="3.9" ry="3.7" fill="#ff7f0e"/><ellipse cx="2099.5" cy="2096.22" rx="3.9" ry="3.7" fill="#ff7f0e"/><ellipse cx="2107.3" cy="2086.12" rx="3.9" ry="3.7" fill="#ff7f0e"/><ellipse cx="2115.1" cy="2053.8" rx="3.9" ry="3.7" fill="#ff7f0e"/><ellipse cx="2122.9" cy="2056.62" rx="3.9" ry="3.7" fill="#ff7f0e"/>
<rect x="1281" y="2040" width="882.5" height="250.5" fill="none" stroke="#000" stroke-width="2.4"/>
<path d="M1319.5 2290.5v10.5M1475.5 2290.5v10.5M1631.5 2290.5v10.5M1787.5 2290.5v10.5M1943.5 2290.5v10.5M2099.5 2290.5v10.5M1281 2064.3h-10.5M1281 2145.1h-10.5M1281 2225.9h-10.5" stroke="#000" stroke-width="2.4" fill="none"/>
<text transform="translate(1256,2075.4) scale(1.13,1)" font-size="30" text-anchor="end">24</text>
<text transform="translate(1256,2156.2) scale(1.13,1)" font-size="30" text-anchor="end">26</text>
<text transform="translate(1256,2237) scale(1.13,1)" font-size="30" text-anchor="end">28</text>
<ellipse cx="1319.5" cy="2344.57" rx="3.9" ry="3.7" fill="#ff7f0e"/><ellipse cx="1327.3" cy="2379.93" rx="3.9" ry="3.7" fill="#ff7f0e"/><ellipse cx="1335.1" cy="2490.62" rx="3.9" ry="3.7" fill="#ff7f0e"/><ellipse cx="1342.9" cy="2409.48" rx="3.9" ry="3.7" fill="#ff7f0e"/><ellipse cx="1350.7" cy="2417.72" rx="3.9" ry="3.7" fill="#ff7f0e"/><ellipse cx="1358.5" cy="2403.91" rx="3.9" ry="3.7" fill="#ff7f0e"/><ellipse cx="1366.3" cy="2391.07" rx="3.9" ry="3.7" fill="#ff7f0e"/><ellipse cx="1374.1" cy="2454.05" rx="3.9" ry="3.7" fill="#ff7f0e"/><ellipse cx="1381.9" cy="2413.6" rx="3.9" ry="3.7" fill="#ff7f0e"/><ellipse cx="1389.7" cy="2426.19" rx="3.9" ry="3.7" fill="#ff7f0e"/><ellipse cx="1397.5" cy="2466.88" rx="3.9" ry="3.7" fill="#ff7f0e"/><ellipse cx="1405.3" cy="2400.76" rx="3.9" ry="3.7" fill="#ff7f0e"/><ellipse cx="1413.1" cy="2371.7" rx="3.9" ry="3.7" fill="#ff7f0e"/><ellipse cx="1420.9" cy="2409.48" rx="3.9" ry="3.7" fill="#ff7f0e"/><ellipse cx="1428.7" cy="2396.64" rx="3.9" ry="3.7" fill="#ff7f0e"/><ellipse cx="1436.5" cy="2424.98" rx="3.9" ry="3.7" fill="#ff7f0e"/><ellipse cx="1444.3" cy="2396.64" rx="3.9" ry="3.7" fill="#ff7f0e"/><ellipse cx="1452.1" cy="2414.81" rx="3.9" ry="3.7" fill="#ff7f0e"/><ellipse cx="1459.9" cy="2408.27" rx="3.9" ry="3.7" fill="#ff7f0e"/><ellipse cx="1467.7" cy="2406.58" rx="3.9" ry="3.7" fill="#ff7f0e"/><ellipse cx="1475.5" cy="2413.6" rx="3.9" ry="3.7" fill="#ff7f0e"/><ellipse cx="1483.3" cy="2395.19" rx="3.9" ry="3.7" fill="#ff7f0e"/><ellipse cx="1491.1" cy="2375.57" rx="3.9" ry="3.7" fill="#ff7f0e"/><ellipse cx="1498.9" cy="2409.48" rx="3.9" ry="3.7" fill="#ff7f0e"/><ellipse cx="1506.7" cy="2364.67" rx="3.9" ry="3.7" fill="#ff7f0e"/><ellipse cx="1514.5" cy="2416.51" rx="3.9" ry="3.7" fill="#ff7f0e"/><ellipse cx="1522.3" cy="2420.62" rx="3.9" ry="3.7" fill="#ff7f0e"/><ellipse cx="1530.1" cy="2448.72" rx="3.9" ry="3.7" fill="#ff7f0e"/><ellipse cx="1537.9" cy="2441.69" rx="3.9" ry="3.7" fill="#ff7f0e"/><ellipse cx="1545.7" cy="2417.96" rx="3.9" ry="3.7" fill="#ff7f0e"/><ellipse cx="1553.5" cy="2424.98" rx="3.9" ry="3.7" fill="#ff7f0e"/><ellipse cx="1561.3" cy="2391.07" rx="3.9" ry="3.7" fill="#ff7f0e"/><ellipse cx="1569.1" cy="2458.65" rx="3.9" ry="3.7" fill="#ff7f0e"/><ellipse cx="1576.9" cy="2420.62" rx="3.9" ry="3.7" fill="#ff7f0e"/><ellipse cx="1584.7" cy="2396.64" rx="3.9" ry="3.7" fill="#ff7f0e"/><ellipse cx="1592.5" cy="2355.71" rx="3.9" ry="3.7" fill="#ff7f0e"/><ellipse cx="1600.3" cy="2464.22" rx="3.9" ry="3.7" fill="#ff7f0e"/><ellipse cx="1608.1" cy="2391.07" rx="3.9" ry="3.7" fill="#ff7f0e"/><ellipse cx="1615.9" cy="2416.51" rx="3.9" ry="3.7" fill="#ff7f0e"/><ellipse cx="1623.7" cy="2406.58" rx="3.9" ry="3.7" fill="#ff7f0e"/><ellipse cx="1631.5" cy="2385.5" rx="3.9" ry="3.7" fill="#ff7f0e"/><ellipse cx="1639.3" cy="2444.36" rx="3.9" ry="3.7" fill="#ff7f0e"/><ellipse cx="1647.1" cy="2417.96" rx="3.9" ry="3.7" fill="#ff7f0e"/><ellipse cx="1654.9" cy="2374.12" rx="3.9" ry="3.7" fill="#ff7f0e"/><ellipse cx="1662.7" cy="2419.17" rx="3.9" ry="3.7" fill="#ff7f0e"/><ellipse cx="1670.5" cy="2462.28" rx="3.9" ry="3.7" fill="#ff7f0e"/><ellipse cx="1678.3" cy="2497.88" rx="3.9" ry="3.7" fill="#ff7f0e"/><ellipse cx="1686.1" cy="2494.98" rx="3.9" ry="3.7" fill="#ff7f0e"/><ellipse cx="1693.9" cy="2485.29" rx="3.9" ry="3.7" fill="#ff7f0e"/><ellipse cx="1701.7" cy="2473.91" rx="3.9" ry="3.7" fill="#ff7f0e"/><ellipse cx="1709.5" cy="2482.14" rx="3.9" ry="3.7" fill="#ff7f0e"/><ellipse cx="1717.3" cy="2487.71" rx="3.9" ry="3.7" fill="#ff7f0e"/><ellipse cx="1725.1" cy="2480.93" rx="3.9" ry="3.7" fill="#ff7f0e"/><ellipse cx="1732.9" cy="2477.78" rx="3.9" ry="3.7" fill="#ff7f0e"/><ellipse cx="1740.7" cy="2485.29" rx="3.9" ry="3.7" fill="#ff7f0e"/><ellipse cx="1748.5" cy="2489.65" rx="3.9" ry="3.7" fill="#ff7f0e"/><ellipse cx="1756.3" cy="2490.86" rx="3.9" ry="3.7" fill="#ff7f0e"/><ellipse cx="1764.1" cy="2468.34" rx="3.9" ry="3.7" fill="#ff7f0e"/><ellipse cx="1771.9" cy="2468.34" rx="3.9" ry="3.7" fill="#ff7f0e"/><ellipse cx="1779.7" cy="2486.74" rx="3.9" ry="3.7" fill="#ff7f0e"/><ellipse cx="1787.5" cy="2492.07" rx="3.9" ry="3.7" fill="#ff7f0e"/><ellipse cx="1795.3" cy="2509.27" rx="3.9" ry="3.7" fill="#ff7f0e"/><ellipse cx="1803.1" cy="2499.34" rx="3.9" ry="3.7" fill="#ff7f0e"/><ellipse cx="1810.9" cy="2549.72" rx="3.9" ry="3.7" fill="#ff7f0e"/><ellipse cx="1818.7" cy="2572.48" rx="3.9" ry="3.7" fill="#ff7f0e"/><ellipse cx="1826.5" cy="2549.72" rx="3.9" ry="3.7" fill="#ff7f0e"/><ellipse cx="1834.3" cy="2528.89" rx="3.9" ry="3.7" fill="#ff7f0e"/><ellipse cx="1842.1" cy="2509.27" rx="3.9" ry="3.7" fill="#ff7f0e"/><ellipse cx="1849.9" cy="2493.28" rx="3.9" ry="3.7" fill="#ff7f0e"/><ellipse cx="1857.7" cy="2506.12" rx="3.9" ry="3.7" fill="#ff7f0e"/><ellipse cx="1865.5" cy="2504.91" rx="3.9" ry="3.7" fill="#ff7f0e"/><ellipse cx="1873.3" cy="2511.69" rx="3.9" ry="3.7" fill="#ff7f0e"/><ellipse cx="1881.1" cy="2507.33" rx="3.9" ry="3.7" fill="#ff7f0e"/><ellipse cx="1888.9" cy="2492.07" rx="3.9" ry="3.7" fill="#ff7f0e"/><ellipse cx="1896.7" cy="2485.29" rx="3.9" ry="3.7" fill="#ff7f0e"/><ellipse cx="1904.5" cy="2483.84" rx="3.9" ry="3.7" fill="#ff7f0e"/><ellipse cx="1912.3" cy="2482.63" rx="3.9" ry="3.7" fill="#ff7f0e"/><ellipse cx="1920.1" cy="2482.63" rx="3.9" ry="3.7" fill="#ff7f0e"/><ellipse cx="1927.9" cy="2394.22" rx="3.9" ry="3.7" fill="#ff7f0e"/><ellipse cx="1935.7" cy="2398.34" rx="3.9" ry="3.7" fill="#ff7f0e"/><ellipse cx="1943.5" cy="2468.34" rx="3.9" ry="3.7" fill="#1f77b4"/><ellipse cx="1951.3" cy="2416.51" rx="3.9" ry="3.7" fill="#1f77b4"/><ellipse cx="1959.1" cy="2419.17" rx="3.9" ry="3.7" fill="#1f77b4"/><ellipse cx="1966.9" cy="2434.43" rx="3.9" ry="3.7" fill="#1f77b4"/><ellipse cx="1974.7" cy="2423.29" rx="3.9" ry="3.7" fill="#1f77b4"/><ellipse cx="1982.5" cy="2400.76" rx="3.9" ry="3.7" fill="#1f77b4"/><ellipse cx="1990.3" cy="2370" rx="3.9" ry="3.7" fill="#1f77b4"/><ellipse cx="1998.1" cy="2392.29" rx="3.9" ry="3.7" fill="#1f77b4"/><ellipse cx="2005.9" cy="2402.22" rx="3.9" ry="3.7" fill="#1f77b4"/><ellipse cx="2013.7" cy="2455.98" rx="3.9" ry="3.7" fill="#1f77b4"/><ellipse cx="2021.5" cy="2454.29" rx="3.9" ry="3.7" fill="#1f77b4"/><ellipse cx="2029.3" cy="2385.5" rx="3.9" ry="3.7" fill="#1f77b4"/><ellipse cx="2037.1" cy="2423.29" rx="3.9" ry="3.7" fill="#1f77b4"/><ellipse cx="2044.9" cy="2426.19" rx="3.9" ry="3.7" fill="#1f77b4"/><ellipse cx="2052.7" cy="2420.62" rx="3.9" ry="3.7" fill="#1f77b4"/><ellipse cx="2060.5" cy="2424.98" rx="3.9" ry="3.7" fill="#1f77b4"/><ellipse cx="2068.3" cy="2479.72" rx="3.9" ry="3.7" fill="#ff7f0e"/><ellipse cx="2076.1" cy="2471.48" rx="3.9" ry="3.7" fill="#ff7f0e"/><ellipse cx="2083.9" cy="2416.26" rx="3.9" ry="3.7" fill="#ff7f0e"/><ellipse cx="2091.7" cy="2458.41" rx="3.9" ry="3.7" fill="#ff7f0e"/><ellipse cx="2099.5" cy="2467.12" rx="3.9" ry="3.7" fill="#ff7f0e"/><ellipse cx="2107.3" cy="2460.1" rx="3.9" ry="3.7" fill="#ff7f0e"/><ellipse cx="2115.1" cy="2413.84" rx="3.9" ry="3.7" fill="#ff7f0e"/><ellipse cx="2122.9" cy="2422.32" rx="3.9" ry="3.7" fill="#ff7f0e"/>
<rect x="1281" y="2333.3" width="882.5" height="250.7" fill="none" stroke="#000" stroke-width="2.4"/>
<path d="M1319.5 2584v10.5M1475.5 2584v10.5M1631.5 2584v10.5M1787.5 2584v10.5M1943.5 2584v10.5M2099.5 2584v10.5M1281 2497.4h-10.5M1281 2376.3h-10.5" stroke="#000" stroke-width="2.4" fill="none"/>
<text transform="translate(1256,2508.5) scale(1.13,1)" font-size="30" text-anchor="end">0</text>
<text transform="translate(1256,2387.4) scale(1.13,1)" font-size="30" text-anchor="end">5</text>
<text transform="translate(1319.5,2626.5) scale(1.13,1)" font-size="30" text-anchor="middle">0</text>
<text transform="translate(1475.5,2626.5) scale(1.13,1)" font-size="30" text-anchor="middle">20</text>
<text transform="translate(1631.5,2626.5) scale(1.13,1)" font-size="30" text-anchor="middle">40</text>
<text transform="translate(1787.5,2626.5) scale(1.13,1)" font-size="30" text-anchor="middle">60</text>
<text transform="translate(1943.5,2626.5) scale(1.13,1)" font-size="30" text-anchor="middle">80</text>
<text transform="translate(2099.5,2626.5) scale(1.13,1)" font-size="30" text-anchor="middle">100</text>
<text transform="translate(662.5,2667.2) scale(1.13,1)" font-size="30" text-anchor="middle">Obs #</text>
<text transform="translate(1722.2,2667.6) scale(1.13,1)" font-size="30" text-anchor="middle">observation number</text>
<text transform="translate(65.6,1877) rotate(-90) scale(1,1.13)" font-size="30" text-anchor="middle">Flux</text>
<text transform="translate(136.3,2170.2) rotate(-90) scale(1,1.13)" font-size="30" text-anchor="middle">Mag</text>
<text transform="translate(157.4,2461.2) rotate(-90) scale(1,1.13)" font-size="30" text-anchor="middle">SNR</text>
<text transform="translate(1098.8,1697.5) scale(1.19,1)" font-size="34.3" text-anchor="middle">cluster 290</text>
<rect x="15.9" y="1664.2" width="361.9" height="94.6" rx="6" fill="#fff" fill-opacity="0.8" stroke="#cccccc" stroke-width="2"/><ellipse cx="66" cy="1688.3" rx="3.9" ry="3.7" fill="#1f77b4"/><ellipse cx="66" cy="1731.5" rx="3.9" ry="3.7" fill="#ff7f0e"/><text transform="translate(123.5,1699.7) scale(1.15,1)" font-size="30" text-anchor="start">Detection</text><text transform="translate(123.5,1742.9) scale(1.15,1)" font-size="30" text-anchor="start">Non-detection</text>
<rect x="1882.2" y="1663.8" width="300.8" height="95.7" rx="6" fill="#fff" fill-opacity="0.8" stroke="#cccccc" stroke-width="2"/><ellipse cx="1930" cy="1688.3" rx="3.9" ry="3.7" fill="#1f77b4"/><ellipse cx="1930" cy="1731.5" rx="3.9" ry="3.7" fill="#ff7f0e"/><text transform="translate(1990.2,1699.7) scale(1.15,1)" font-size="30" text-anchor="start">Unmasked</text><text transform="translate(1990.2,1742.9) scale(1.15,1)" font-size="30" text-anchor="start">Masked</text>
<g filter="url(#B3)"><g transform="translate(2252.3,65.7) scale(2.74)">
<g filter="url(#f8)"><g transform="translate(-3,-11)"><rect x="3" y="11" width="50" height="50" fill="url(#N)"/></g></g>
</g><g transform="translate(2252.3,65.7) scale(2.74)">
<circle cx="26" cy="25.5" r="4.5" fill="url(#gk)" opacity="0.3"/>
</g></g>
<rect x="2252.3" y="65.7" width="137.2" height="137.2" fill="none" stroke="#000" stroke-width="1.1"/>
<path d="M2252.3 67.07h-4.8M2253.67 202.9v4.8M2252.3 121.95h-4.8M2308.55 202.9v4.8M2252.3 176.83h-4.8M2363.43 202.9v4.8" stroke="#000" stroke-width="1.1"/>
<g font-size="13.9"><text x="2244.1" y="72.07" text-anchor="end">0</text><text x="2253.67" y="222.4" text-anchor="middle">0</text><text x="2244.1" y="126.95" text-anchor="end">20</text><text x="2308.55" y="222.4" text-anchor="middle">20</text><text x="2244.1" y="181.83" text-anchor="end">40</text><text x="2363.43" y="222.4" text-anchor="middle">40</text></g>
<text x="2320.9" y="57.1" font-size="16.5" text-anchor="middle">845872</text>
<g filter="url(#B3)"><g transform="translate(2450.9,65.7) scale(2.74) translate(50,0) scale(-1,1)">
<g filter="url(#f9)"><g transform="translate(-10,-24)"><rect x="10" y="24" width="50" height="50" fill="url(#N)"/></g></g>
</g><g transform="translate(2450.9,65.7) scale(2.74)">
<circle cx="26.7" cy="26" r="4.5" fill="url(#gk)" opacity="0.3"/>
</g></g>
<rect x="2450.9" y="65.7" width="137.2" height="137.2" fill="none" stroke="#000" stroke-width="1.1"/>
<path d="M2450.9 67.07h-4.8M2452.27 202.9v4.8M2450.9 121.95h-4.8M2507.15 202.9v4.8M2450.9 176.83h-4.8M2562.03 202.9v4.8" stroke="#000" stroke-width="1.1"/>
<g font-size="13.9"><text x="2442.7" y="72.07" text-anchor="end">0</text><text x="2452.27" y="222.4" text-anchor="middle">0</text><text x="2442.7" y="126.95" text-anchor="end">20</text><text x="2507.15" y="222.4" text-anchor="middle">20</text><text x="2442.7" y="181.83" text-anchor="end">40</text><text x="2562.03" y="222.4" text-anchor="middle">40</text></g>
<text x="2519.5" y="57.1" font-size="16.5" text-anchor="middle">845873</text>
<g filter="url(#B3)"><g transform="translate(2649.5,65.7) scale(2.74) translate(0,50) scale(1,-1)">
<g filter="url(#f10)"><g transform="translate(-17,-37)"><rect x="17" y="37" width="50" height="50" fill="url(#N)"/></g></g>
</g><g transform="translate(2649.5,65.7) scale(2.74)">
<circle cx="27.4" cy="26.5" r="4.5" fill="url(#gk)" opacity="0.3"/>
</g></g>
<rect x="2649.5" y="65.7" width="137.2" height="137.2" fill="none" stroke="#000" stroke-width="1.1"/>
<path d="M2649.5 67.07h-4.8M2650.87 202.9v4.8M2649.5 121.95h-4.8M2705.75 202.9v4.8M2649.5 176.83h-4.8M2760.63 202.9v4.8" stroke="#000" stroke-width="1.1"/>
<g font-size="13.9"><text x="2641.3" y="72.07" text-anchor="end">0</text><text x="2650.87" y="222.4" text-anchor="middle">0</text><text x="2641.3" y="126.95" text-anchor="end">20</text><text x="2705.75" y="222.4" text-anchor="middle">20</text><text x="2641.3" y="181.83" text-anchor="end">40</text><text x="2760.63" y="222.4" text-anchor="middle">40</text></g>
<text x="2718.1" y="57.1" font-size="16.5" text-anchor="middle">845874</text>
<g filter="url(#B3)"><g transform="translate(2848.1,65.7) scale(2.74) translate(50,50) scale(-1,-1)">
<g filter="url(#f11)"><g transform="translate(-24,0)"><rect x="24" y="0" width="50" height="50" fill="url(#N)"/></g></g>
</g><g transform="translate(2848.1,65.7) scale(2.74)">
<circle cx="26" cy="27" r="4.5" fill="url(#gk)" opacity="0.3"/>
</g></g>
<rect x="2848.1" y="65.7" width="137.2" height="137.2" fill="none" stroke="#000" stroke-width="1.1"/>
<path d="M2848.1 67.07h-4.8M2849.47 202.9v4.8M2848.1 121.95h-4.8M2904.35 202.9v4.8M2848.1 176.83h-4.8M2959.23 202.9v4.8" stroke="#000" stroke-width="1.1"/>
<g font-size="13.9"><text x="2839.9" y="72.07" text-anchor="end">0</text><text x="2849.47" y="222.4" text-anchor="middle">0</text><text x="2839.9" y="126.95" text-anchor="end">20</text><text x="2904.35" y="222.4" text-anchor="middle">20</text><text x="2839.9" y="181.83" text-anchor="end">40</text><text x="2959.23" y="222.4" text-anchor="middle">40</text></g>
<text x="2916.7" y="57.1" font-size="16.5" text-anchor="middle">845875</text>
<g filter="url(#B3)"><g transform="translate(3046.7,65.7) scale(2.74)">
<g filter="url(#f12)"><g transform="translate(-31,-13)"><rect x="31" y="13" width="50" height="50" fill="url(#N)"/></g></g>
</g><g transform="translate(3046.7,65.7) scale(2.74)">
<circle cx="26.7" cy="27.5" r="4.5" fill="url(#gk)" opacity="0.3"/>
</g></g>
<rect x="3046.7" y="65.7" width="137.2" height="137.2" fill="none" stroke="#000" stroke-width="1.1"/>
<path d="M3046.7 67.07h-4.8M3048.07 202.9v4.8M3046.7 121.95h-4.8M3102.95 202.9v4.8M3046.7 176.83h-4.8M3157.83 202.9v4.8" stroke="#000" stroke-width="1.1"/>
<g font-size="13.9"><text x="3038.5" y="72.07" text-anchor="end">0</text><text x="3048.07" y="222.4" text-anchor="middle">0</text><text x="3038.5" y="126.95" text-anchor="end">20</text><text x="3102.95" y="222.4" text-anchor="middle">20</text><text x="3038.5" y="181.83" text-anchor="end">40</text><text x="3157.83" y="222.4" text-anchor="middle">40</text></g>
<text x="3115.3" y="57.1" font-size="16.5" text-anchor="middle">845876</text>
<g filter="url(#B3)"><g transform="translate(3245.3,65.7) scale(2.74) translate(50,0) scale(-1,1)">
<g filter="url(#f13)"><g transform="translate(-38,-26)"><rect x="38" y="26" width="50" height="50" fill="url(#N)"/></g></g>
</g><g transform="translate(3245.3,65.7) scale(2.74)">
<circle cx="27.4" cy="25.5" r="4.5" fill="url(#gk)" opacity="0.3"/>
</g></g>
<rect x="3245.3" y="65.7" width="137.2" height="137.2" fill="none" stroke="#000" stroke-width="1.1"/>
<path d="M3245.3 67.07h-4.8M3246.67 202.9v4.8M3245.3 121.95h-4.8M3301.55 202.9v4.8M3245.3 176.83h-4.8M3356.43 202.9v4.8" stroke="#000" stroke-width="1.1"/>
<g font-size="13.9"><text x="3237.1" y="72.07" text-anchor="end">0</text><text x="3246.67" y="222.4" text-anchor="middle">0</text><text x="3237.1" y="126.95" text-anchor="end">20</text><text x="3301.55" y="222.4" text-anchor="middle">20</text><text x="3237.1" y="181.83" text-anchor="end">40</text><text x="3356.43" y="222.4" text-anchor="middle">40</text></g>
<text x="3313.9" y="57.1" font-size="16.5" text-anchor="middle">845877</text>
<g filter="url(#B3)"><g transform="translate(3443.9,65.7) scale(2.74) translate(0,50) scale(1,-1)">
<g filter="url(#f14)"><g transform="translate(-45,-39)"><rect x="45" y="39" width="50" height="50" fill="url(#N)"/></g></g>
</g><g transform="translate(3443.9,65.7) scale(2.74)">
<circle cx="26" cy="26" r="4.5" fill="url(#gk)" opacity="0.3"/>
</g></g>
<rect x="3443.9" y="65.7" width="137.2" height="137.2" fill="none" stroke="#000" stroke-width="1.1"/>
<path d="M3443.9 67.07h-4.8M3445.27 202.9v4.8M3443.9 121.95h-4.8M3500.15 202.9v4.8M3443.9 176.83h-4.8M3555.03 202.9v4.8" stroke="#000" stroke-width="1.1"/>
<g font-size="13.9"><text x="3435.7" y="72.07" text-anchor="end">0</text><text x="3445.27" y="222.4" text-anchor="middle">0</text><text x="3435.7" y="126.95" text-anchor="end">20</text><text x="3500.15" y="222.4" text-anchor="middle">20</text><text x="3435.7" y="181.83" text-anchor="end">40</text><text x="3555.03" y="222.4" text-anchor="middle">40</text></g>
<text x="3512.5" y="57.1" font-size="16.5" text-anchor="middle">845878</text>
<g filter="url(#B3)"><g transform="translate(3642.5,65.7) scale(2.74) translate(50,50) scale(-1,-1)">
<g filter="url(#f15)"><g transform="translate(-2,-2)"><rect x="2" y="2" width="50" height="50" fill="url(#N)"/></g></g>
</g><g transform="translate(3642.5,65.7) scale(2.74)">
<circle cx="26.7" cy="26.5" r="4.5" fill="url(#gk)" opacity="0.3"/>
</g></g>
<rect x="3642.5" y="65.7" width="137.2" height="137.2" fill="none" stroke="#000" stroke-width="1.1"/>
<path d="M3642.5 67.07h-4.8M3643.87 202.9v4.8M3642.5 121.95h-4.8M3698.75 202.9v4.8M3642.5 176.83h-4.8M3753.63 202.9v4.8" stroke="#000" stroke-width="1.1"/>
<g font-size="13.9"><text x="3634.3" y="72.07" text-anchor="end">0</text><text x="3643.87" y="222.4" text-anchor="middle">0</text><text x="3634.3" y="126.95" text-anchor="end">20</text><text x="3698.75" y="222.4" text-anchor="middle">20</text><text x="3634.3" y="181.83" text-anchor="end">40</text><text x="3753.63" y="222.4" text-anchor="middle">40</text></g>
<text x="3711.1" y="57.1" font-size="16.5" text-anchor="middle">845879</text>
<g filter="url(#B3)"><g transform="translate(3841.1,65.7) scale(2.74)">
<g filter="url(#f16)"><g transform="translate(-9,-15)"><rect x="9" y="15" width="50" height="50" fill="url(#N)"/></g></g>
</g><g transform="translate(3841.1,65.7) scale(2.74)">
<circle cx="27.4" cy="27" r="4.5" fill="url(#gk)" opacity="0.3"/>
</g></g>
<rect x="3841.1" y="65.7" width="137.2" height="137.2" fill="none" stroke="#000" stroke-width="1.1"/>
<path d="M3841.1 67.07h-4.8M3842.47 202.9v4.8M3841.1 121.95h-4.8M3897.35 202.9v4.8M3841.1 176.83h-4.8M3952.23 202.9v4.8" stroke="#000" stroke-width="1.1"/>
<g font-size="13.9"><text x="3832.9" y="72.07" text-anchor="end">0</text><text x="3842.47" y="222.4" text-anchor="middle">0</text><text x="3832.9" y="126.95" text-anchor="end">20</text><text x="3897.35" y="222.4" text-anchor="middle">20</text><text x="3832.9" y="181.83" text-anchor="end">40</text><text x="3952.23" y="222.4" text-anchor="middle">40</text></g>
<text x="3909.7" y="57.1" font-size="16.5" text-anchor="middle">845880</text>
<g filter="url(#B3)"><g transform="translate(4039.7,65.7) scale(2.74) translate(50,0) scale(-1,1)">
<g filter="url(#f17)"><g transform="translate(-16,-28)"><rect x="16" y="28" width="50" height="50" fill="url(#N)"/></g></g>
</g><g transform="translate(4039.7,65.7) scale(2.74)">
<circle cx="26" cy="27.5" r="4.5" fill="url(#gk)" opacity="0.3"/>
</g></g>
<rect x="4039.7" y="65.7" width="137.2" height="137.2" fill="none" stroke="#000" stroke-width="1.1"/>
<path d="M4039.7 67.07h-4.8M4041.07 202.9v4.8M4039.7 121.95h-4.8M4095.95 202.9v4.8M4039.7 176.83h-4.8M4150.83 202.9v4.8" stroke="#000" stroke-width="1.1"/>
<g font-size="13.9"><text x="4031.5" y="72.07" text-anchor="end">0</text><text x="4041.07" y="222.4" text-anchor="middle">0</text><text x="4031.5" y="126.95" text-anchor="end">20</text><text x="4095.95" y="222.4" text-anchor="middle">20</text><text x="4031.5" y="181.83" text-anchor="end">40</text><text x="4150.83" y="222.4" text-anchor="middle">40</text></g>
<text x="4108.3" y="57.1" font-size="16.5" text-anchor="middle">845881</text>
<g filter="url(#B3)"><g transform="translate(4238.3,65.7) scale(2.74) translate(0,50) scale(1,-1)">
<g filter="url(#f18)"><g transform="translate(-23,-41)"><rect x="23" y="41" width="50" height="50" fill="url(#N)"/></g></g>
</g><g transform="translate(4238.3,65.7) scale(2.74)">
<circle cx="26.7" cy="25.5" r="4.5" fill="url(#gk)" opacity="0.3"/>
</g></g>
<rect x="4238.3" y="65.7" width="137.2" height="137.2" fill="none" stroke="#000" stroke-width="1.1"/>
<path d="M4238.3 67.07h-4.8M4239.67 202.9v4.8M4238.3 121.95h-4.8M4294.55 202.9v4.8M4238.3 176.83h-4.8M4349.43 202.9v4.8" stroke="#000" stroke-width="1.1"/>
<g font-size="13.9"><text x="4230.1" y="72.07" text-anchor="end">0</text><text x="4239.67" y="222.4" text-anchor="middle">0</text><text x="4230.1" y="126.95" text-anchor="end">20</text><text x="4294.55" y="222.4" text-anchor="middle">20</text><text x="4230.1" y="181.83" text-anchor="end">40</text><text x="4349.43" y="222.4" text-anchor="middle">40</text></g>
<text x="4306.9" y="57.1" font-size="16.5" text-anchor="middle">845882</text>
<g filter="url(#B3)"><g transform="translate(2252.3,261.15) scale(2.74) translate(50,50) scale(-1,-1)">
<g filter="url(#f19)"><g transform="translate(-30,-4)"><rect x="30" y="4" width="50" height="50" fill="url(#N)"/></g></g>
</g><g transform="translate(2252.3,261.15) scale(2.74)">
<circle cx="27.4" cy="26" r="4.5" fill="url(#gk)" opacity="0.3"/>
</g></g>
<rect x="2252.3" y="261.15" width="137.2" height="137.2" fill="none" stroke="#000" stroke-width="1.1"/>
<path d="M2252.3 262.52h-4.8M2253.67 398.35v4.8M2252.3 317.4h-4.8M2308.55 398.35v4.8M2252.3 372.28h-4.8M2363.43 398.35v4.8" stroke="#000" stroke-width="1.1"/>
<g font-size="13.9"><text x="2244.1" y="267.52" text-anchor="end">0</text><text x="2253.67" y="417.85" text-anchor="middle">0</text><text x="2244.1" y="322.4" text-anchor="end">20</text><text x="2308.55" y="417.85" text-anchor="middle">20</text><text x="2244.1" y="377.28" text-anchor="end">40</text><text x="2363.43" y="417.85" text-anchor="middle">40</text></g>
<text x="2320.9" y="252.55" font-size="16.5" text-anchor="middle">845883</text>
<g filter="url(#B3)"><g transform="translate(2450.9,261.15) scale(2.74)">
<g filter="url(#f20)"><g transform="translate(-37,-17)"><rect x="37" y="17" width="50" height="50" fill="url(#N)"/></g></g>
</g><g transform="translate(2450.9,261.15) scale(2.74)">
<circle cx="26" cy="26.5" r="4.5" fill="url(#gk)" opacity="0.45"/>
</g></g>
<rect x="2450.9" y="261.15" width="137.2" height="137.2" fill="none" stroke="#d0152d" stroke-width="1.1"/>
<path d="M2450.9 262.52h-4.8M2452.27 398.35v4.8M2450.9 317.4h-4.8M2507.15 398.35v4.8M2450.9 372.28h-4.8M2562.03 398.35v4.8" stroke="#000" stroke-width="1.1"/>
<g font-size="13.9"><text x="2442.7" y="267.52" text-anchor="end">0</text><text x="2452.27" y="417.85" text-anchor="middle">0</text><text x="2442.7" y="322.4" text-anchor="end">20</text><text x="2507.15" y="417.85" text-anchor="middle">20</text><text x="2442.7" y="377.28" text-anchor="end">40</text><text x="2562.03" y="417.85" text-anchor="middle">40</text></g>
<text x="2519.5" y="252.55" font-size="16.5" text-anchor="middle">845884</text>
<g filter="url(#B3)"><g transform="translate(2649.5,261.15) scale(2.74) translate(50,0) scale(-1,1)">
<g filter="url(#f17)"><g transform="translate(-44,-30)"><rect x="44" y="30" width="50" height="50" fill="url(#N)"/></g></g>
</g><g transform="translate(2649.5,261.15) scale(2.74)">
<circle cx="26.7" cy="27" r="4.5" fill="url(#gk)" opacity="0.3"/>
</g></g>
<rect x="2649.5" y="261.15" width="137.2" height="137.2" fill="none" stroke="#000" stroke-width="1.1"/>
<path d="M2649.5 262.52h-4.8M2650.87 398.35v4.8M2649.5 317.4h-4.8M2705.75 398.35v4.8M2649.5 372.28h-4.8M2760.63 398.35v4.8" stroke="#000" stroke-width="1.1"/>
<g font-size="13.9"><text x="2641.3" y="267.52" text-anchor="end">0</text><text x="2650.87" y="417.85" text-anchor="middle">0</text><text x="2641.3" y="322.4" text-anchor="end">20</text><text x="2705.75" y="417.85" text-anchor="middle">20</text><text x="2641.3" y="377.28" text-anchor="end">40</text><text x="2760.63" y="417.85" text-anchor="middle">40</text></g>
<text x="2718.1" y="252.55" font-size="16.5" text-anchor="middle">845885</text>
<g filter="url(#B3)"><g transform="translate(2848.1,261.15) scale(2.74) translate(0,50) scale(1,-1)">
<g filter="url(#f21)"><g transform="translate(-1,-43)"><rect x="1" y="43" width="50" height="50" fill="url(#N)"/></g></g>
</g><g transform="translate(2848.1,261.15) scale(2.74)">
<circle cx="27.4" cy="27.5" r="4.5" fill="url(#gk)" opacity="0.45"/>
</g></g>
<rect x="2848.1" y="261.15" width="137.2" height="137.2" fill="none" stroke="#d0152d" stroke-width="1.1"/>
<path d="M2848.1 262.52h-4.8M2849.47 398.35v4.8M2848.1 317.4h-4.8M2904.35 398.35v4.8M2848.1 372.28h-4.8M2959.23 398.35v4.8" stroke="#000" stroke-width="1.1"/>
<g font-size="13.9"><text x="2839.9" y="267.52" text-anchor="end">0</text><text x="2849.47" y="417.85" text-anchor="middle">0</text><text x="2839.9" y="322.4" text-anchor="end">20</text><text x="2904.35" y="417.85" text-anchor="middle">20</text><text x="2839.9" y="377.28" text-anchor="end">40</text><text x="2959.23" y="417.85" text-anchor="middle">40</text></g>
<text x="2916.7" y="252.55" font-size="16.5" text-anchor="middle">845886</text>
<g filter="url(#B3)"><g transform="translate(3046.7,261.15) scale(2.74) translate(50,50) scale(-1,-1)">
<g filter="url(#f22)"><g transform="translate(-8,-6)"><rect x="8" y="6" width="50" height="50" fill="url(#N)"/></g></g>
</g><g transform="translate(3046.7,261.15) scale(2.74)">
<circle cx="26" cy="25.5" r="4.5" fill="url(#gk)" opacity="0.3"/>
</g></g>
<rect x="3046.7" y="261.15" width="137.2" height="137.2" fill="none" stroke="#000" stroke-width="1.1"/>
<path d="M3046.7 262.52h-4.8M3048.07 398.35v4.8M3046.7 317.4h-4.8M3102.95 398.35v4.8M3046.7 372.28h-4.8M3157.83 398.35v4.8" stroke="#000" stroke-width="1.1"/>
<g font-size="13.9"><text x="3038.5" y="267.52" text-anchor="end">0</text><text x="3048.07" y="417.85" text-anchor="middle">0</text><text x="3038.5" y="322.4" text-anchor="end">20</text><text x="3102.95" y="417.85" text-anchor="middle">20</text><text x="3038.5" y="377.28" text-anchor="end">40</text><text x="3157.83" y="417.85" text-anchor="middle">40</text></g>
<text x="3115.3" y="252.55" font-size="16.5" text-anchor="middle">845887</text>
<g filter="url(#B3)"><g transform="translate(3245.3,261.15) scale(2.74)">
<g filter="url(#f23)"><g transform="translate(-15,-19)"><rect x="15" y="19" width="50" height="50" fill="url(#N)"/></g></g>
</g><g transform="translate(3245.3,261.15) scale(2.74)">
<circle cx="26.7" cy="26" r="4.5" fill="url(#gk)" opacity="0.45"/>
</g></g>
<rect x="3245.3" y="261.15" width="137.2" height="137.2" fill="none" stroke="#d0152d" stroke-width="1.1"/>
<path d="M3245.3 262.52h-4.8M3246.67 398.35v4.8M3245.3 317.4h-4.8M3301.55 398.35v4.8M3245.3 372.28h-4.8M3356.43 398.35v4.8" stroke="#000" stroke-width="1.1"/>
<g font-size="13.9"><text x="3237.1" y="267.52" text-anchor="end">0</text><text x="3246.67" y="417.85" text-anchor="middle">0</text><text x="3237.1" y="322.4" text-anchor="end">20</text><text x="3301.55" y="417.85" text-anchor="middle">20</text><text x="3237.1" y="377.28" text-anchor="end">40</text><text x="3356.43" y="417.85" text-anchor="middle">40</text></g>
<text x="3313.9" y="252.55" font-size="16.5" text-anchor="middle">845888</text>
<g filter="url(#B3)"><g transform="translate(3443.9,261.15) scale(2.74) translate(50,0) scale(-1,1)">
<g filter="url(#f20)"><g transform="translate(-22,-32)"><rect x="22" y="32" width="50" height="50" fill="url(#N)"/></g></g>
</g><g transform="translate(3443.9,261.15) scale(2.74)">
<circle cx="27.4" cy="26.5" r="4.5" fill="url(#gk)" opacity="0.3"/>
</g></g>
<rect x="3443.9" y="261.15" width="137.2" height="137.2" fill="none" stroke="#000" stroke-width="1.1"/>
<path d="M3443.9 262.52h-4.8M3445.27 398.35v4.8M3443.9 317.4h-4.8M3500.15 398.35v4.8M3443.9 372.28h-4.8M3555.03 398.35v4.8" stroke="#000" stroke-width="1.1"/>
<g font-size="13.9"><text x="3435.7" y="267.52" text-anchor="end">0</text><text x="3445.27" y="417.85" text-anchor="middle">0</text><text x="3435.7" y="322.4" text-anchor="end">20</text><text x="3500.15" y="417.85" text-anchor="middle">20</text><text x="3435.7" y="377.28" text-anchor="end">40</text><text x="3555.03" y="417.85" text-anchor="middle">40</text></g>
<text x="3512.5" y="252.55" font-size="16.5" text-anchor="middle">845889</text>
<g filter="url(#B3)"><g transform="translate(3642.5,261.15) scale(2.74) translate(0,50) scale(1,-1)">
<g filter="url(#f15)"><g transform="translate(-29,-45)"><rect x="29" y="45" width="50" height="50" fill="url(#N)"/></g></g>
</g><g transform="translate(3642.5,261.15) scale(2.74)">
<circle cx="26" cy="27" r="4.5" fill="url(#gk)" opacity="0.3"/>
</g></g>
<rect x="3642.5" y="261.15" width="137.2" height="137.2" fill="none" stroke="#000" stroke-width="1.1"/>
<path d="M3642.5 262.52h-4.8M3643.87 398.35v4.8M3642.5 317.4h-4.8M3698.75 398.35v4.8M3642.5 372.28h-4.8M3753.63 398.35v4.8" stroke="#000" stroke-width="1.1"/>
<g font-size="13.9"><text x="3634.3" y="267.52" text-anchor="end">0</text><text x="3643.87" y="417.85" text-anchor="middle">0</text><text x="3634.3" y="322.4" text-anchor="end">20</text><text x="3698.75" y="417.85" text-anchor="middle">20</text><text x="3634.3" y="377.28" text-anchor="end">40</text><text x="3753.63" y="417.85" text-anchor="middle">40</text></g>
<text x="3711.1" y="252.55" font-size="16.5" text-anchor="middle">845890</text>
<g filter="url(#B3)"><g transform="translate(3841.1,261.15) scale(2.74) translate(50,50) scale(-1,-1)">
<g filter="url(#f24)"><g transform="translate(-36,-8)"><rect x="36" y="8" width="50" height="50" fill="url(#N)"/></g></g>
</g><g transform="translate(3841.1,261.15) scale(2.74)">
<circle cx="26.7" cy="27.5" r="4.5" fill="url(#gk)" opacity="0.45"/>
</g></g>
<rect x="3841.1" y="261.15" width="137.2" height="137.2" fill="none" stroke="#d0152d" stroke-width="1.1"/>
<path d="M3841.1 262.52h-4.8M3842.47 398.35v4.8M3841.1 317.4h-4.8M3897.35 398.35v4.8M3841.1 372.28h-4.8M3952.23 398.35v4.8" stroke="#000" stroke-width="1.1"/>
<g font-size="13.9"><text x="3832.9" y="267.52" text-anchor="end">0</text><text x="3842.47" y="417.85" text-anchor="middle">0</text><text x="3832.9" y="322.4" text-anchor="end">20</text><text x="3897.35" y="417.85" text-anchor="middle">20</text><text x="3832.9" y="377.28" text-anchor="end">40</text><text x="3952.23" y="417.85" text-anchor="middle">40</text></g>
<text x="3909.7" y="252.55" font-size="16.5" text-anchor="middle">845891</text>
<g filter="url(#B3)"><g transform="translate(4039.7,261.15) scale(2.74)">
<g filter="url(#f25)"><g transform="translate(-43,-21)"><rect x="43" y="21" width="50" height="50" fill="url(#N)"/></g></g>
</g><g transform="translate(4039.7,261.15) scale(2.74)">
<circle cx="27.4" cy="25.5" r="4.5" fill="url(#gk)" opacity="0.45"/>
</g></g>
<rect x="4039.7" y="261.15" width="137.2" height="137.2" fill="none" stroke="#d0152d" stroke-width="1.1"/>
<path d="M4039.7 262.52h-4.8M4041.07 398.35v4.8M4039.7 317.4h-4.8M4095.95 398.35v4.8M4039.7 372.28h-4.8M4150.83 398.35v4.8" stroke="#000" stroke-width="1.1"/>
<g font-size="13.9"><text x="4031.5" y="267.52" text-anchor="end">0</text><text x="4041.07" y="417.85" text-anchor="middle">0</text><text x="4031.5" y="322.4" text-anchor="end">20</text><text x="4095.95" y="417.85" text-anchor="middle">20</text><text x="4031.5" y="377.28" text-anchor="end">40</text><text x="4150.83" y="417.85" text-anchor="middle">40</text></g>
<text x="4108.3" y="252.55" font-size="16.5" text-anchor="middle">845892</text>
<g filter="url(#B3)"><g transform="translate(4238.3,261.15) scale(2.74) translate(50,0) scale(-1,1)">
<g filter="url(#f16)"><g transform="translate(0,-34)"><rect x="0" y="34" width="50" height="50" fill="url(#N)"/></g></g>
</g><g transform="translate(4238.3,261.15) scale(2.74)">
<circle cx="26" cy="26" r="4.5" fill="url(#gk)" opacity="0.45"/>
</g></g>
<rect x="4238.3" y="261.15" width="137.2" height="137.2" fill="none" stroke="#d0152d" stroke-width="1.1"/>
<path d="M4238.3 262.52h-4.8M4239.67 398.35v4.8M4238.3 317.4h-4.8M4294.55 398.35v4.8M4238.3 372.28h-4.8M4349.43 398.35v4.8" stroke="#000" stroke-width="1.1"/>
<g font-size="13.9"><text x="4230.1" y="267.52" text-anchor="end">0</text><text x="4239.67" y="417.85" text-anchor="middle">0</text><text x="4230.1" y="322.4" text-anchor="end">20</text><text x="4294.55" y="417.85" text-anchor="middle">20</text><text x="4230.1" y="377.28" text-anchor="end">40</text><text x="4349.43" y="417.85" text-anchor="middle">40</text></g>
<text x="4306.9" y="252.55" font-size="16.5" text-anchor="middle">845893</text>
<g filter="url(#B3)"><g transform="translate(2252.3,456.6) scale(2.74) translate(0,50) scale(1,-1)">
<g filter="url(#f26)"><g transform="translate(-7,-47)"><rect x="7" y="47" width="50" height="50" fill="url(#N)"/></g></g>
</g><g transform="translate(2252.3,456.6) scale(2.74)">
<circle cx="26.7" cy="26.5" r="4.5" fill="url(#gk)" opacity="0.45"/>
</g></g>
<rect x="2252.3" y="456.6" width="137.2" height="137.2" fill="none" stroke="#d0152d" stroke-width="1.1"/>
<path d="M2252.3 457.97h-4.8M2253.67 593.8v4.8M2252.3 512.85h-4.8M2308.55 593.8v4.8M2252.3 567.73h-4.8M2363.43 593.8v4.8" stroke="#000" stroke-width="1.1"/>
<g font-size="13.9"><text x="2244.1" y="462.97" text-anchor="end">0</text><text x="2253.67" y="613.3" text-anchor="middle">0</text><text x="2244.1" y="517.85" text-anchor="end">20</text><text x="2308.55" y="613.3" text-anchor="middle">20</text><text x="2244.1" y="572.73" text-anchor="end">40</text><text x="2363.43" y="613.3" text-anchor="middle">40</text></g>
<text x="2320.9" y="448" font-size="16.5" text-anchor="middle">845894</text>
<g filter="url(#B3)"><g transform="translate(2450.9,456.6) scale(2.74) translate(50,50) scale(-1,-1)">
<g filter="url(#f27)"><g transform="translate(-14,-10)"><rect x="14" y="10" width="50" height="50" fill="url(#N)"/></g></g>
</g><g transform="translate(2450.9,456.6) scale(2.74)">
<circle cx="27.4" cy="27" r="4.5" fill="url(#gk)" opacity="0.45"/>
</g></g>
<rect x="2450.9" y="456.6" width="137.2" height="137.2" fill="none" stroke="#d0152d" stroke-width="1.1"/>
<path d="M2450.9 457.97h-4.8M2452.27 593.8v4.8M2450.9 512.85h-4.8M2507.15 593.8v4.8M2450.9 567.73h-4.8M2562.03 593.8v4.8" stroke="#000" stroke-width="1.1"/>
<g font-size="13.9"><text x="2442.7" y="462.97" text-anchor="end">0</text><text x="2452.27" y="613.3" text-anchor="middle">0</text><text x="2442.7" y="517.85" text-anchor="end">20</text><text x="2507.15" y="613.3" text-anchor="middle">20</text><text x="2442.7" y="572.73" text-anchor="end">40</text><text x="2562.03" y="613.3" text-anchor="middle">40</text></g>
<text x="2519.5" y="448" font-size="16.5" text-anchor="middle">845895</text>
<g filter="url(#B3)"><g transform="translate(2649.5,456.6) scale(2.74)">
<g filter="url(#f28)"><g transform="translate(-21,-23)"><rect x="21" y="23" width="50" height="50" fill="url(#N)"/></g></g>
</g><g transform="translate(2649.5,456.6) scale(2.74)">
<circle cx="26" cy="27.5" r="4.5" fill="url(#gk)" opacity="0.45"/>
</g></g>
<rect x="2649.5" y="456.6" width="137.2" height="137.2" fill="none" stroke="#d0152d" stroke-width="1.1"/>
<path d="M2649.5 457.97h-4.8M2650.87 593.8v4.8M2649.5 512.85h-4.8M2705.75 593.8v4.8M2649.5 567.73h-4.8M2760.63 593.8v4.8" stroke="#000" stroke-width="1.1"/>
<g font-size="13.9"><text x="2641.3" y="462.97" text-anchor="end">0</text><text x="2650.87" y="613.3" text-anchor="middle">0</text><text x="2641.3" y="517.85" text-anchor="end">20</text><text x="2705.75" y="613.3" text-anchor="middle">20</text><text x="2641.3" y="572.73" text-anchor="end">40</text><text x="2760.63" y="613.3" text-anchor="middle">40</text></g>
<text x="2718.1" y="448" font-size="16.5" text-anchor="middle">845896</text>
<g filter="url(#B3)"><g transform="translate(2848.1,456.6) scale(2.74) translate(50,0) scale(-1,1)">
<g filter="url(#f17)"><g transform="translate(-28,-36)"><rect x="28" y="36" width="50" height="50" fill="url(#N)"/></g></g>
</g><g transform="translate(2848.1,456.6) scale(2.74)">
<circle cx="26.7" cy="25.5" r="4.5" fill="url(#gk)" opacity="0.45"/>
</g></g>
<rect x="2848.1" y="456.6" width="137.2" height="137.2" fill="none" stroke="#d0152d" stroke-width="1.1"/>
<path d="M2848.1 457.97h-4.8M2849.47 593.8v4.8M2848.1 512.85h-4.8M2904.35 593.8v4.8M2848.1 567.73h-4.8M2959.23 593.8v4.8" stroke="#000" stroke-width="1.1"/>
<g font-size="13.9"><text x="2839.9" y="462.97" text-anchor="end">0</text><text x="2849.47" y="613.3" text-anchor="middle">0</text><text x="2839.9" y="517.85" text-anchor="end">20</text><text x="2904.35" y="613.3" text-anchor="middle">20</text><text x="2839.9" y="572.73" text-anchor="end">40</text><text x="2959.23" y="613.3" text-anchor="middle">40</text></g>
<text x="2916.7" y="448" font-size="16.5" text-anchor="middle">845897</text>
<g filter="url(#B3)"><g transform="translate(3046.7,456.6) scale(2.74) translate(0,50) scale(1,-1)">
<g filter="url(#f25)"><g transform="translate(-35,-49)"><rect x="35" y="49" width="50" height="50" fill="url(#N)"/></g></g>
</g><g transform="translate(3046.7,456.6) scale(2.74)">
<circle cx="27.4" cy="26" r="4.5" fill="url(#gk)" opacity="0.45"/>
</g></g>
<rect x="3046.7" y="456.6" width="137.2" height="137.2" fill="none" stroke="#d0152d" stroke-width="1.1"/>
<path d="M3046.7 457.97h-4.8M3048.07 593.8v4.8M3046.7 512.85h-4.8M3102.95 593.8v4.8M3046.7 567.73h-4.8M3157.83 593.8v4.8" stroke="#000" stroke-width="1.1"/>
<g font-size="13.9"><text x="3038.5" y="462.97" text-anchor="end">0</text><text x="3048.07" y="613.3" text-anchor="middle">0</text><text x="3038.5" y="517.85" text-anchor="end">20</text><text x="3102.95" y="613.3" text-anchor="middle">20</text><text x="3038.5" y="572.73" text-anchor="end">40</text><text x="3157.83" y="613.3" text-anchor="middle">40</text></g>
<text x="3115.3" y="448" font-size="16.5" text-anchor="middle">845898</text>
<g filter="url(#B3)"><g transform="translate(3245.3,456.6) scale(2.74) translate(50,50) scale(-1,-1)">
<g filter="url(#f10)"><g transform="translate(-42,-12)"><rect x="42" y="12" width="50" height="50" fill="url(#N)"/></g></g>
</g><g transform="translate(3245.3,456.6) scale(2.74)">
<circle cx="26" cy="26.5" r="4.5" fill="url(#gk)" opacity="0.3"/>
</g></g>
<rect x="3245.3" y="456.6" width="137.2" height="137.2" fill="none" stroke="#000" stroke-width="1.1"/>
<path d="M3245.3 457.97h-4.8M3246.67 593.8v4.8M3245.3 512.85h-4.8M3301.55 593.8v4.8M3245.3 567.73h-4.8M3356.43 593.8v4.8" stroke="#000" stroke-width="1.1"/>
<g font-size="13.9"><text x="3237.1" y="462.97" text-anchor="end">0</text><text x="3246.67" y="613.3" text-anchor="middle">0</text><text x="3237.1" y="517.85" text-anchor="end">20</text><text x="3301.55" y="613.3" text-anchor="middle">20</text><text x="3237.1" y="572.73" text-anchor="end">40</text><text x="3356.43" y="613.3" text-anchor="middle">40</text></g>
<text x="3313.9" y="448" font-size="16.5" text-anchor="middle">845899</text>
<g filter="url(#B3)"><g transform="translate(3443.9,456.6) scale(2.74)">
<g filter="url(#f29)"><g transform="translate(-49,-25)"><rect x="49" y="25" width="50" height="50" fill="url(#N)"/></g></g>
</g><g transform="translate(3443.9,456.6) scale(2.74)">
<circle cx="26.7" cy="27" r="4.5" fill="url(#gk)" opacity="0.3"/>
</g></g>
<rect x="3443.9" y="456.6" width="137.2" height="137.2" fill="none" stroke="#000" stroke-width="1.1"/>
<path d="M3443.9 457.97h-4.8M3445.27 593.8v4.8M3443.9 512.85h-4.8M3500.15 593.8v4.8M3443.9 567.73h-4.8M3555.03 593.8v4.8" stroke="#000" stroke-width="1.1"/>
<g font-size="13.9"><text x="3435.7" y="462.97" text-anchor="end">0</text><text x="3445.27" y="613.3" text-anchor="middle">0</text><text x="3435.7" y="517.85" text-anchor="end">20</text><text x="3500.15" y="613.3" text-anchor="middle">20</text><text x="3435.7" y="572.73" text-anchor="end">40</text><text x="3555.03" y="613.3" text-anchor="middle">40</text></g>
<text x="3512.5" y="448" font-size="16.5" text-anchor="middle">845900</text>
<g filter="url(#B3)"><g transform="translate(3642.5,456.6) scale(2.74) translate(50,0) scale(-1,1)">
<g filter="url(#f30)"><g transform="translate(-6,-38)"><rect x="6" y="38" width="50" height="50" fill="url(#N)"/></g></g>
</g><g transform="translate(3642.5,456.6) scale(2.74)">
<circle cx="27.4" cy="27.5" r="4.5" fill="url(#gk)" opacity="0.3"/>
</g></g>
<rect x="3642.5" y="456.6" width="137.2" height="137.2" fill="none" stroke="#000" stroke-width="1.1"/>
<path d="M3642.5 457.97h-4.8M3643.87 593.8v4.8M3642.5 512.85h-4.8M3698.75 593.8v4.8M3642.5 567.73h-4.8M3753.63 593.8v4.8" stroke="#000" stroke-width="1.1"/>
<g font-size="13.9"><text x="3634.3" y="462.97" text-anchor="end">0</text><text x="3643.87" y="613.3" text-anchor="middle">0</text><text x="3634.3" y="517.85" text-anchor="end">20</text><text x="3698.75" y="613.3" text-anchor="middle">20</text><text x="3634.3" y="572.73" text-anchor="end">40</text><text x="3753.63" y="613.3" text-anchor="middle">40</text></g>
<text x="3711.1" y="448" font-size="16.5" text-anchor="middle">845901</text>
<g filter="url(#B3)"><g transform="translate(3841.1,456.6) scale(2.74) translate(0,50) scale(1,-1)">
<g filter="url(#f23)"><g transform="translate(-13,-1)"><rect x="13" y="1" width="50" height="50" fill="url(#N)"/></g></g>
</g><g transform="translate(3841.1,456.6) scale(2.74)">
<circle cx="26" cy="25.5" r="4.5" fill="url(#gk)" opacity="0.45"/>
</g></g>
<rect x="3841.1" y="456.6" width="137.2" height="137.2" fill="none" stroke="#d0152d" stroke-width="1.1"/>
<path d="M3841.1 457.97h-4.8M3842.47 593.8v4.8M3841.1 512.85h-4.8M3897.35 593.8v4.8M3841.1 567.73h-4.8M3952.23 593.8v4.8" stroke="#000" stroke-width="1.1"/>
<g font-size="13.9"><text x="3832.9" y="462.97" text-anchor="end">0</text><text x="3842.47" y="613.3" text-anchor="middle">0</text><text x="3832.9" y="517.85" text-anchor="end">20</text><text x="3897.35" y="613.3" text-anchor="middle">20</text><text x="3832.9" y="572.73" text-anchor="end">40</text><text x="3952.23" y="613.3" text-anchor="middle">40</text></g>
<text x="3909.7" y="448" font-size="16.5" text-anchor="middle">845902</text>
<g filter="url(#B3)"><g transform="translate(4039.7,456.6) scale(2.74) translate(50,50) scale(-1,-1)">
<g filter="url(#f31)"><g transform="translate(-20,-14)"><rect x="20" y="14" width="50" height="50" fill="url(#N)"/></g></g>
</g><g transform="translate(4039.7,456.6) scale(2.74)">
<circle cx="26.7" cy="26" r="4.5" fill="url(#gk)" opacity="0.45"/>
</g></g>
<rect x="4039.7" y="456.6" width="137.2" height="137.2" fill="none" stroke="#d0152d" stroke-width="1.1"/>
<path d="M4039.7 457.97h-4.8M4041.07 593.8v4.8M4039.7 512.85h-4.8M4095.95 593.8v4.8M4039.7 567.73h-4.8M4150.83 593.8v4.8" stroke="#000" stroke-width="1.1"/>
<g font-size="13.9"><text x="4031.5" y="462.97" text-anchor="end">0</text><text x="4041.07" y="613.3" text-anchor="middle">0</text><text x="4031.5" y="517.85" text-anchor="end">20</text><text x="4095.95" y="613.3" text-anchor="middle">20</text><text x="4031.5" y="572.73" text-anchor="end">40</text><text x="4150.83" y="613.3" text-anchor="middle">40</text></g>
<text x="4108.3" y="448" font-size="16.5" text-anchor="middle">845903</text>
<g filter="url(#B3)"><g transform="translate(4238.3,456.6) scale(2.74)">
<g filter="url(#f14)"><g transform="translate(-27,-27)"><rect x="27" y="27" width="50" height="50" fill="url(#N)"/></g></g>
</g><g transform="translate(4238.3,456.6) scale(2.74)">
<circle cx="27.4" cy="26.5" r="4.5" fill="url(#gk)" opacity="0.45"/>
</g></g>
<rect x="4238.3" y="456.6" width="137.2" height="137.2" fill="none" stroke="#d0152d" stroke-width="1.1"/>
<path d="M4238.3 457.97h-4.8M4239.67 593.8v4.8M4238.3 512.85h-4.8M4294.55 593.8v4.8M4238.3 567.73h-4.8M4349.43 593.8v4.8" stroke="#000" stroke-width="1.1"/>
<g font-size="13.9"><text x="4230.1" y="462.97" text-anchor="end">0</text><text x="4239.67" y="613.3" text-anchor="middle">0</text><text x="4230.1" y="517.85" text-anchor="end">20</text><text x="4294.55" y="613.3" text-anchor="middle">20</text><text x="4230.1" y="572.73" text-anchor="end">40</text><text x="4349.43" y="613.3" text-anchor="middle">40</text></g>
<text x="4306.9" y="448" font-size="16.5" text-anchor="middle">845904</text>
<g filter="url(#B3)"><g transform="translate(2252.3,652.05) scale(2.74) translate(50,0) scale(-1,1)">
<g filter="url(#f32)"><g transform="translate(-34,-40)"><rect x="34" y="40" width="50" height="50" fill="url(#N)"/></g></g>
</g><g transform="translate(2252.3,652.05) scale(2.74)">
<circle cx="26" cy="27" r="4.5" fill="url(#gk)" opacity="0.3"/>
</g></g>
<rect x="2252.3" y="652.05" width="137.2" height="137.2" fill="none" stroke="#000" stroke-width="1.1"/>
<path d="M2252.3 653.42h-4.8M2253.67 789.25v4.8M2252.3 708.3h-4.8M2308.55 789.25v4.8M2252.3 763.18h-4.8M2363.43 789.25v4.8" stroke="#000" stroke-width="1.1"/>
<g font-size="13.9"><text x="2244.1" y="658.42" text-anchor="end">0</text><text x="2253.67" y="808.75" text-anchor="middle">0</text><text x="2244.1" y="713.3" text-anchor="end">20</text><text x="2308.55" y="808.75" text-anchor="middle">20</text><text x="2244.1" y="768.18" text-anchor="end">40</text><text x="2363.43" y="808.75" text-anchor="middle">40</text></g>
<text x="2320.9" y="643.45" font-size="16.5" text-anchor="middle">845905</text>
<g filter="url(#B3)"><g transform="translate(2450.9,652.05) scale(2.74) translate(0,50) scale(1,-1)">
<g filter="url(#f27)"><g transform="translate(-41,-3)"><rect x="41" y="3" width="50" height="50" fill="url(#N)"/></g></g>
</g><g transform="translate(2450.9,652.05) scale(2.74)">
<circle cx="26.7" cy="27.5" r="4.5" fill="url(#gk)" opacity="0.45"/>
</g></g>
<rect x="2450.9" y="652.05" width="137.2" height="137.2" fill="none" stroke="#d0152d" stroke-width="1.1"/>
<path d="M2450.9 653.42h-4.8M2452.27 789.25v4.8M2450.9 708.3h-4.8M2507.15 789.25v4.8M2450.9 763.18h-4.8M2562.03 789.25v4.8" stroke="#000" stroke-width="1.1"/>
<g font-size="13.9"><text x="2442.7" y="658.42" text-anchor="end">0</text><text x="2452.27" y="808.75" text-anchor="middle">0</text><text x="2442.7" y="713.3" text-anchor="end">20</text><text x="2507.15" y="808.75" text-anchor="middle">20</text><text x="2442.7" y="768.18" text-anchor="end">40</text><text x="2562.03" y="808.75" text-anchor="middle">40</text></g>
<text x="2519.5" y="643.45" font-size="16.5" text-anchor="middle">845906</text>
<g filter="url(#B3)"><g transform="translate(2649.5,652.05) scale(2.74) translate(50,50) scale(-1,-1)">
<g filter="url(#f33)"><g transform="translate(-48,-16)"><rect x="48" y="16" width="50" height="50" fill="url(#N)"/></g></g>
</g><g transform="translate(2649.5,652.05) scale(2.74)">
<circle cx="27.4" cy="25.5" r="4.5" fill="url(#gk)" opacity="0.3"/>
</g></g>
<rect x="2649.5" y="652.05" width="137.2" height="137.2" fill="none" stroke="#000" stroke-width="1.1"/>
<path d="M2649.5 653.42h-4.8M2650.87 789.25v4.8M2649.5 708.3h-4.8M2705.75 789.25v4.8M2649.5 763.18h-4.8M2760.63 789.25v4.8" stroke="#000" stroke-width="1.1"/>
<g font-size="13.9"><text x="2641.3" y="658.42" text-anchor="end">0</text><text x="2650.87" y="808.75" text-anchor="middle">0</text><text x="2641.3" y="713.3" text-anchor="end">20</text><text x="2705.75" y="808.75" text-anchor="middle">20</text><text x="2641.3" y="768.18" text-anchor="end">40</text><text x="2760.63" y="808.75" text-anchor="middle">40</text></g>
<text x="2718.1" y="643.45" font-size="16.5" text-anchor="middle">845907</text>
<g filter="url(#B3)"><g transform="translate(2848.1,652.05) scale(2.74)">
<g filter="url(#f34)"><g transform="translate(-5,-29)"><rect x="5" y="29" width="50" height="50" fill="url(#N)"/></g></g>
</g><g transform="translate(2848.1,652.05) scale(2.74)">
<circle cx="26" cy="26" r="4.5" fill="url(#gk)" opacity="0.3"/>
</g></g>
<rect x="2848.1" y="652.05" width="137.2" height="137.2" fill="none" stroke="#000" stroke-width="1.1"/>
<path d="M2848.1 653.42h-4.8M2849.47 789.25v4.8M2848.1 708.3h-4.8M2904.35 789.25v4.8M2848.1 763.18h-4.8M2959.23 789.25v4.8" stroke="#000" stroke-width="1.1"/>
<g font-size="13.9"><text x="2839.9" y="658.42" text-anchor="end">0</text><text x="2849.47" y="808.75" text-anchor="middle">0</text><text x="2839.9" y="713.3" text-anchor="end">20</text><text x="2904.35" y="808.75" text-anchor="middle">20</text><text x="2839.9" y="768.18" text-anchor="end">40</text><text x="2959.23" y="808.75" text-anchor="middle">40</text></g>
<text x="2916.7" y="643.45" font-size="16.5" text-anchor="middle">845908</text>
<g filter="url(#B3)"><g transform="translate(3046.7,652.05) scale(2.74) translate(50,0) scale(-1,1)">
<g filter="url(#f35)"><g transform="translate(-12,-42)"><rect x="12" y="42" width="50" height="50" fill="url(#N)"/></g></g>
</g><g transform="translate(3046.7,652.05) scale(2.74)">
<circle cx="26.7" cy="26.5" r="4.5" fill="url(#gk)" opacity="0.3"/>
</g></g>
<rect x="3046.7" y="652.05" width="137.2" height="137.2" fill="none" stroke="#000" stroke-width="1.1"/>
<path d="M3046.7 653.42h-4.8M3048.07 789.25v4.8M3046.7 708.3h-4.8M3102.95 789.25v4.8M3046.7 763.18h-4.8M3157.83 789.25v4.8" stroke="#000" stroke-width="1.1"/>
<g font-size="13.9"><text x="3038.5" y="658.42" text-anchor="end">0</text><text x="3048.07" y="808.75" text-anchor="middle">0</text><text x="3038.5" y="713.3" text-anchor="end">20</text><text x="3102.95" y="808.75" text-anchor="middle">20</text><text x="3038.5" y="768.18" text-anchor="end">40</text><text x="3157.83" y="808.75" text-anchor="middle">40</text></g>
<text x="3115.3" y="643.45" font-size="16.5" text-anchor="middle">845909</text>
<g filter="url(#B3)"><g transform="translate(3245.3,652.05) scale(2.74) translate(0,50) scale(1,-1)">
<g filter="url(#f35)"><g transform="translate(-19,-5)"><rect x="19" y="5" width="50" height="50" fill="url(#N)"/></g></g>
</g><g transform="translate(3245.3,652.05) scale(2.74)">
<circle cx="27.4" cy="27" r="4.5" fill="url(#gk)" opacity="0.3"/>
</g></g>
<rect x="3245.3" y="652.05" width="137.2" height="137.2" fill="none" stroke="#000" stroke-width="1.1"/>
<path d="M3245.3 653.42h-4.8M3246.67 789.25v4.8M3245.3 708.3h-4.8M3301.55 789.25v4.8M3245.3 763.18h-4.8M3356.43 789.25v4.8" stroke="#000" stroke-width="1.1"/>
<g font-size="13.9"><text x="3237.1" y="658.42" text-anchor="end">0</text><text x="3246.67" y="808.75" text-anchor="middle">0</text><text x="3237.1" y="713.3" text-anchor="end">20</text><text x="3301.55" y="808.75" text-anchor="middle">20</text><text x="3237.1" y="768.18" text-anchor="end">40</text><text x="3356.43" y="808.75" text-anchor="middle">40</text></g>
<text x="3313.9" y="643.45" font-size="16.5" text-anchor="middle">845910</text>
<g filter="url(#B3)"><g transform="translate(3443.9,652.05) scale(2.74) translate(50,50) scale(-1,-1)">
<g filter="url(#f16)"><g transform="translate(-26,-18)"><rect x="26" y="18" width="50" height="50" fill="url(#N)"/></g></g>
</g><g transform="translate(3443.9,652.05) scale(2.74)">
<circle cx="26" cy="27.5" r="4.5" fill="url(#gk)" opacity="0.3"/>
</g></g>
<rect x="3443.9" y="652.05" width="137.2" height="137.2" fill="none" stroke="#000" stroke-width="1.1"/>
<path d="M3443.9 653.42h-4.8M3445.27 789.25v4.8M3443.9 708.3h-4.8M3500.15 789.25v4.8M3443.9 763.18h-4.8M3555.03 789.25v4.8" stroke="#000" stroke-width="1.1"/>
<g font-size="13.9"><text x="3435.7" y="658.42" text-anchor="end">0</text><text x="3445.27" y="808.75" text-anchor="middle">0</text><text x="3435.7" y="713.3" text-anchor="end">20</text><text x="3500.15" y="808.75" text-anchor="middle">20</text><text x="3435.7" y="768.18" text-anchor="end">40</text><text x="3555.03" y="808.75" text-anchor="middle">40</text></g>
<text x="3512.5" y="643.45" font-size="16.5" text-anchor="middle">845911</text>
<g filter="url(#B3)"><g transform="translate(3642.5,652.05) scale(2.74)">
<g filter="url(#f24)"><g transform="translate(-33,-31)"><rect x="33" y="31" width="50" height="50" fill="url(#N)"/></g></g>
</g><g transform="translate(3642.5,652.05) scale(2.74)">
<circle cx="26.7" cy="25.5" r="4.5" fill="url(#gk)" opacity="0.3"/>
</g></g>
<rect x="3642.5" y="652.05" width="137.2" height="137.2" fill="none" stroke="#000" stroke-width="1.1"/>
<path d="M3642.5 653.42h-4.8M3643.87 789.25v4.8M3642.5 708.3h-4.8M3698.75 789.25v4.8M3642.5 763.18h-4.8M3753.63 789.25v4.8" stroke="#000" stroke-width="1.1"/>
<g font-size="13.9"><text x="3634.3" y="658.42" text-anchor="end">0</text><text x="3643.87" y="808.75" text-anchor="middle">0</text><text x="3634.3" y="713.3" text-anchor="end">20</text><text x="3698.75" y="808.75" text-anchor="middle">20</text><text x="3634.3" y="768.18" text-anchor="end">40</text><text x="3753.63" y="808.75" text-anchor="middle">40</text></g>
<text x="3711.1" y="643.45" font-size="16.5" text-anchor="middle">845912</text>
<g filter="url(#B3)"><g transform="translate(3841.1,652.05) scale(2.74) translate(50,0) scale(-1,1)">
<g filter="url(#f36)"><g transform="translate(-40,-44)"><rect x="40" y="44" width="50" height="50" fill="url(#N)"/></g></g>
</g><g transform="translate(3841.1,652.05) scale(2.74)">
<circle cx="27.4" cy="26" r="4.5" fill="url(#gk)" opacity="0.3"/>
</g></g>
<rect x="3841.1" y="652.05" width="137.2" height="137.2" fill="none" stroke="#000" stroke-width="1.1"/>
<path d="M3841.1 653.42h-4.8M3842.47 789.25v4.8M3841.1 708.3h-4.8M3897.35 789.25v4.8M3841.1 763.18h-4.8M3952.23 789.25v4.8" stroke="#000" stroke-width="1.1"/>
<g font-size="13.9"><text x="3832.9" y="658.42" text-anchor="end">0</text><text x="3842.47" y="808.75" text-anchor="middle">0</text><text x="3832.9" y="713.3" text-anchor="end">20</text><text x="3897.35" y="808.75" text-anchor="middle">20</text><text x="3832.9" y="768.18" text-anchor="end">40</text><text x="3952.23" y="808.75" text-anchor="middle">40</text></g>
<text x="3909.7" y="643.45" font-size="16.5" text-anchor="middle">845913</text>
<g filter="url(#B3)"><g transform="translate(4039.7,652.05) scale(2.74) translate(0,50) scale(1,-1)">
<g filter="url(#f26)"><g transform="translate(-47,-7)"><rect x="47" y="7" width="50" height="50" fill="url(#N)"/></g></g>
</g><g transform="translate(4039.7,652.05) scale(2.74)">
<circle cx="26" cy="26.5" r="4.5" fill="url(#gk)" opacity="0.3"/>
</g></g>
<rect x="4039.7" y="652.05" width="137.2" height="137.2" fill="none" stroke="#000" stroke-width="1.1"/>
<path d="M4039.7 653.42h-4.8M4041.07 789.25v4.8M4039.7 708.3h-4.8M4095.95 789.25v4.8M4039.7 763.18h-4.8M4150.83 789.25v4.8" stroke="#000" stroke-width="1.1"/>
<g font-size="13.9"><text x="4031.5" y="658.42" text-anchor="end">0</text><text x="4041.07" y="808.75" text-anchor="middle">0</text><text x="4031.5" y="713.3" text-anchor="end">20</text><text x="4095.95" y="808.75" text-anchor="middle">20</text><text x="4031.5" y="768.18" text-anchor="end">40</text><text x="4150.83" y="808.75" text-anchor="middle">40</text></g>
<text x="4108.3" y="643.45" font-size="16.5" text-anchor="middle">845914</text>
<g filter="url(#B3)"><g transform="translate(4238.3,652.05) scale(2.74) translate(50,50) scale(-1,-1)">
<g filter="url(#f37)"><g transform="translate(-4,-20)"><rect x="4" y="20" width="50" height="50" fill="url(#N)"/></g></g>
</g><g transform="translate(4238.3,652.05) scale(2.74)">
<circle cx="26.7" cy="27" r="4.5" fill="url(#gk)" opacity="0.3"/>
</g></g>
<rect x="4238.3" y="652.05" width="137.2" height="137.2" fill="none" stroke="#000" stroke-width="1.1"/>
<path d="M4238.3 653.42h-4.8M4239.67 789.25v4.8M4238.3 708.3h-4.8M4294.55 789.25v4.8M4238.3 763.18h-4.8M4349.43 789.25v4.8" stroke="#000" stroke-width="1.1"/>
<g font-size="13.9"><text x="4230.1" y="658.42" text-anchor="end">0</text><text x="4239.67" y="808.75" text-anchor="middle">0</text><text x="4230.1" y="713.3" text-anchor="end">20</text><text x="4294.55" y="808.75" text-anchor="middle">20</text><text x="4230.1" y="768.18" text-anchor="end">40</text><text x="4349.43" y="808.75" text-anchor="middle">40</text></g>
<text x="4306.9" y="643.45" font-size="16.5" text-anchor="middle">845915</text>
<g filter="url(#B3)"><g transform="translate(2252.3,847.5) scale(2.74)">
<g filter="url(#f38)"><g transform="translate(-11,-33)"><rect x="11" y="33" width="50" height="50" fill="url(#N)"/></g></g>
</g><g transform="translate(2252.3,847.5) scale(2.74)">
<circle cx="27.4" cy="27.5" r="4.5" fill="url(#gk)" opacity="0.3"/>
</g></g>
<rect x="2252.3" y="847.5" width="137.2" height="137.2" fill="none" stroke="#000" stroke-width="1.1"/>
<path d="M2252.3 848.87h-4.8M2253.67 984.7v4.8M2252.3 903.75h-4.8M2308.55 984.7v4.8M2252.3 958.63h-4.8M2363.43 984.7v4.8" stroke="#000" stroke-width="1.1"/>
<g font-size="13.9"><text x="2244.1" y="853.87" text-anchor="end">0</text><text x="2253.67" y="1004.2" text-anchor="middle">0</text><text x="2244.1" y="908.75" text-anchor="end">20</text><text x="2308.55" y="1004.2" text-anchor="middle">20</text><text x="2244.1" y="963.63" text-anchor="end">40</text><text x="2363.43" y="1004.2" text-anchor="middle">40</text></g>
<text x="2320.9" y="838.9" font-size="16.5" text-anchor="middle">845916</text>
<g filter="url(#B3)"><g transform="translate(2450.9,847.5) scale(2.74) translate(50,0) scale(-1,1)">
</g><g transform="translate(2450.9,847.5) scale(2.74)">
<g filter="url(#f39)"><g transform="translate(-18,-46)"><rect x="18" y="46" width="50" height="50" fill="url(#N)"/></g></g>
<g clip-path="url(#c0)"><g filter="url(#f40)"><g transform="translate(-18,-46)"><rect x="18" y="46" width="50" height="50" fill="url(#N)"/></g></g></g>
</g></g>
<rect x="2450.9" y="847.5" width="137.2" height="137.2" fill="none" stroke="#000" stroke-width="1.1"/>
<path d="M2450.9 848.87h-4.8M2452.27 984.7v4.8M2450.9 903.75h-4.8M2507.15 984.7v4.8M2450.9 958.63h-4.8M2562.03 984.7v4.8" stroke="#000" stroke-width="1.1"/>
<g font-size="13.9"><text x="2442.7" y="853.87" text-anchor="end">0</text><text x="2452.27" y="1004.2" text-anchor="middle">0</text><text x="2442.7" y="908.75" text-anchor="end">20</text><text x="2507.15" y="1004.2" text-anchor="middle">20</text><text x="2442.7" y="963.63" text-anchor="end">40</text><text x="2562.03" y="1004.2" text-anchor="middle">40</text></g>
<text x="2519.5" y="838.9" font-size="16.5" text-anchor="middle">845917</text>
<g filter="url(#B3)"><g transform="translate(2649.5,847.5) scale(2.74) translate(0,50) scale(1,-1)">
</g><g transform="translate(2649.5,847.5) scale(2.74)">
<g filter="url(#f41)"><g transform="translate(-25,-9)"><rect x="25" y="9" width="50" height="50" fill="url(#N)"/></g></g>
<g clip-path="url(#c1)"><g filter="url(#f42)"><g transform="translate(-25,-9)"><rect x="25" y="9" width="50" height="50" fill="url(#N)"/></g></g></g>
</g></g>
<rect x="2649.5" y="847.5" width="137.2" height="137.2" fill="none" stroke="#000" stroke-width="1.1"/>
<path d="M2649.5 848.87h-4.8M2650.87 984.7v4.8M2649.5 903.75h-4.8M2705.75 984.7v4.8M2649.5 958.63h-4.8M2760.63 984.7v4.8" stroke="#000" stroke-width="1.1"/>
<g font-size="13.9"><text x="2641.3" y="853.87" text-anchor="end">0</text><text x="2650.87" y="1004.2" text-anchor="middle">0</text><text x="2641.3" y="908.75" text-anchor="end">20</text><text x="2705.75" y="1004.2" text-anchor="middle">20</text><text x="2641.3" y="963.63" text-anchor="end">40</text><text x="2760.63" y="1004.2" text-anchor="middle">40</text></g>
<text x="2718.1" y="838.9" font-size="16.5" text-anchor="middle">845918</text>
<g filter="url(#B3)"><g transform="translate(2848.1,847.5) scale(2.74) translate(50,50) scale(-1,-1)">
</g><g transform="translate(2848.1,847.5) scale(2.74)">
<g filter="url(#f43)"><g transform="translate(-32,-22)"><rect x="32" y="22" width="50" height="50" fill="url(#N)"/></g></g>
<g clip-path="url(#c2)"><g filter="url(#f42)"><g transform="translate(-32,-22)"><rect x="32" y="22" width="50" height="50" fill="url(#N)"/></g></g></g>
</g></g>
<rect x="2848.1" y="847.5" width="137.2" height="137.2" fill="none" stroke="#000" stroke-width="1.1"/>
<path d="M2848.1 848.87h-4.8M2849.47 984.7v4.8M2848.1 903.75h-4.8M2904.35 984.7v4.8M2848.1 958.63h-4.8M2959.23 984.7v4.8" stroke="#000" stroke-width="1.1"/>
<g font-size="13.9"><text x="2839.9" y="853.87" text-anchor="end">0</text><text x="2849.47" y="1004.2" text-anchor="middle">0</text><text x="2839.9" y="908.75" text-anchor="end">20</text><text x="2904.35" y="1004.2" text-anchor="middle">20</text><text x="2839.9" y="963.63" text-anchor="end">40</text><text x="2959.23" y="1004.2" text-anchor="middle">40</text></g>
<text x="2916.7" y="838.9" font-size="16.5" text-anchor="middle">845919</text>
<g filter="url(#B3)"><g transform="translate(3046.7,847.5) scale(2.74)">
</g><g transform="translate(3046.7,847.5) scale(2.74)">
<g filter="url(#f44)"><g transform="translate(-39,-35)"><rect x="39" y="35" width="50" height="50" fill="url(#N)"/></g></g>
<g mask="url(#m4)"><g filter="url(#f45)"><g transform="translate(-39,-35)"><rect x="39" y="35" width="50" height="50" fill="url(#N)"/></g></g></g>
<g clip-path="url(#c4)"><g filter="url(#f46)"><g transform="translate(-6,-14)"><rect x="6" y="14" width="50" height="50" fill="url(#N)"/></g></g></g>
</g></g>
<rect x="3046.7" y="847.5" width="137.2" height="137.2" fill="none" stroke="#000" stroke-width="1.1"/>
<path d="M3046.7 848.87h-4.8M3048.07 984.7v4.8M3046.7 903.75h-4.8M3102.95 984.7v4.8M3046.7 958.63h-4.8M3157.83 984.7v4.8" stroke="#000" stroke-width="1.1"/>
<g font-size="13.9"><text x="3038.5" y="853.87" text-anchor="end">0</text><text x="3048.07" y="1004.2" text-anchor="middle">0</text><text x="3038.5" y="908.75" text-anchor="end">20</text><text x="3102.95" y="1004.2" text-anchor="middle">20</text><text x="3038.5" y="963.63" text-anchor="end">40</text><text x="3157.83" y="1004.2" text-anchor="middle">40</text></g>
<text x="3115.3" y="838.9" font-size="16.5" text-anchor="middle">845920</text>
<g filter="url(#B3)"><g transform="translate(3245.3,847.5) scale(2.74) translate(50,0) scale(-1,1)">
</g><g transform="translate(3245.3,847.5) scale(2.74)">
<g filter="url(#f47)"><g transform="translate(-46,-48)"><rect x="46" y="48" width="50" height="50" fill="url(#N)"/></g></g>
<g mask="url(#m6)"><g filter="url(#f48)"><g transform="translate(-46,-48)"><rect x="46" y="48" width="50" height="50" fill="url(#N)"/></g></g></g>
</g></g>
<rect x="3245.3" y="847.5" width="137.2" height="137.2" fill="none" stroke="#000" stroke-width="1.1"/>
<path d="M3245.3 848.87h-4.8M3246.67 984.7v4.8M3245.3 903.75h-4.8M3301.55 984.7v4.8M3245.3 958.63h-4.8M3356.43 984.7v4.8" stroke="#000" stroke-width="1.1"/>
<g font-size="13.9"><text x="3237.1" y="853.87" text-anchor="end">0</text><text x="3246.67" y="1004.2" text-anchor="middle">0</text><text x="3237.1" y="908.75" text-anchor="end">20</text><text x="3301.55" y="1004.2" text-anchor="middle">20</text><text x="3237.1" y="963.63" text-anchor="end">40</text><text x="3356.43" y="1004.2" text-anchor="middle">40</text></g>
<text x="3313.9" y="838.9" font-size="16.5" text-anchor="middle">845921</text>
<g filter="url(#B3)"><g transform="translate(3443.9,847.5) scale(2.74) translate(0,50) scale(1,-1)">
</g><g transform="translate(3443.9,847.5) scale(2.74)">
<g filter="url(#f49)"><g transform="translate(-3,-11)"><rect x="3" y="11" width="50" height="50" fill="url(#N)"/></g></g>
<g mask="url(#m7)"><g filter="url(#f50)"><g transform="translate(-3,-11)"><rect x="3" y="11" width="50" height="50" fill="url(#N)"/></g></g></g>
</g></g>
<rect x="3443.9" y="847.5" width="137.2" height="137.2" fill="none" stroke="#000" stroke-width="1.1"/>
<path d="M3443.9 848.87h-4.8M3445.27 984.7v4.8M3443.9 903.75h-4.8M3500.15 984.7v4.8M3443.9 958.63h-4.8M3555.03 984.7v4.8" stroke="#000" stroke-width="1.1"/>
<g font-size="13.9"><text x="3435.7" y="853.87" text-anchor="end">0</text><text x="3445.27" y="1004.2" text-anchor="middle">0</text><text x="3435.7" y="908.75" text-anchor="end">20</text><text x="3500.15" y="1004.2" text-anchor="middle">20</text><text x="3435.7" y="963.63" text-anchor="end">40</text><text x="3555.03" y="1004.2" text-anchor="middle">40</text></g>
<text x="3512.5" y="838.9" font-size="16.5" text-anchor="middle">845922</text>
<g filter="url(#B3)"><g transform="translate(3642.5,847.5) scale(2.74) translate(50,50) scale(-1,-1)">
</g><g transform="translate(3642.5,847.5) scale(2.74)">
<g filter="url(#f51)"><g transform="translate(-10,-24)"><rect x="10" y="24" width="50" height="50" fill="url(#N)"/></g></g>
<g mask="url(#m8)"><g filter="url(#f52)"><g transform="translate(-10,-24)"><rect x="10" y="24" width="50" height="50" fill="url(#N)"/></g></g></g>
</g></g>
<rect x="3642.5" y="847.5" width="137.2" height="137.2" fill="none" stroke="#000" stroke-width="1.1"/>
<path d="M3642.5 848.87h-4.8M3643.87 984.7v4.8M3642.5 903.75h-4.8M3698.75 984.7v4.8M3642.5 958.63h-4.8M3753.63 984.7v4.8" stroke="#000" stroke-width="1.1"/>
<g font-size="13.9"><text x="3634.3" y="853.87" text-anchor="end">0</text><text x="3643.87" y="1004.2" text-anchor="middle">0</text><text x="3634.3" y="908.75" text-anchor="end">20</text><text x="3698.75" y="1004.2" text-anchor="middle">20</text><text x="3634.3" y="963.63" text-anchor="end">40</text><text x="3753.63" y="1004.2" text-anchor="middle">40</text></g>
<text x="3711.1" y="838.9" font-size="16.5" text-anchor="middle">845923</text>
<g filter="url(#B3)"><g transform="translate(3841.1,847.5) scale(2.74)">
</g><g transform="translate(3841.1,847.5) scale(2.74)">
<g filter="url(#f53)"><g transform="translate(-17,-37)"><rect x="17" y="37" width="50" height="50" fill="url(#N)"/></g></g>
<g mask="url(#m9)"><g filter="url(#f54)"><g transform="translate(-17,-37)"><rect x="17" y="37" width="50" height="50" fill="url(#N)"/></g></g></g>
</g></g>
<rect x="3841.1" y="847.5" width="137.2" height="137.2" fill="none" stroke="#000" stroke-width="1.1"/>
<path d="M3841.1 848.87h-4.8M3842.47 984.7v4.8M3841.1 903.75h-4.8M3897.35 984.7v4.8M3841.1 958.63h-4.8M3952.23 984.7v4.8" stroke="#000" stroke-width="1.1"/>
<g font-size="13.9"><text x="3832.9" y="853.87" text-anchor="end">0</text><text x="3842.47" y="1004.2" text-anchor="middle">0</text><text x="3832.9" y="908.75" text-anchor="end">20</text><text x="3897.35" y="1004.2" text-anchor="middle">20</text><text x="3832.9" y="963.63" text-anchor="end">40</text><text x="3952.23" y="1004.2" text-anchor="middle">40</text></g>
<text x="3909.7" y="838.9" font-size="16.5" text-anchor="middle">845924</text>
<g filter="url(#B3)"><g transform="translate(4039.7,847.5) scale(2.74) translate(50,0) scale(-1,1)">
</g><g transform="translate(4039.7,847.5) scale(2.74)">
<g filter="url(#f55)"><g transform="translate(-24,0)"><rect x="24" y="0" width="50" height="50" fill="url(#N)"/></g></g>
<g mask="url(#m10)"><g filter="url(#f56)"><g transform="translate(-24,0)"><rect x="24" y="0" width="50" height="50" fill="url(#N)"/></g></g></g>
</g></g>
<rect x="4039.7" y="847.5" width="137.2" height="137.2" fill="none" stroke="#000" stroke-width="1.1"/>
<path d="M4039.7 848.87h-4.8M4041.07 984.7v4.8M4039.7 903.75h-4.8M4095.95 984.7v4.8M4039.7 958.63h-4.8M4150.83 984.7v4.8" stroke="#000" stroke-width="1.1"/>
<g font-size="13.9"><text x="4031.5" y="853.87" text-anchor="end">0</text><text x="4041.07" y="1004.2" text-anchor="middle">0</text><text x="4031.5" y="908.75" text-anchor="end">20</text><text x="4095.95" y="1004.2" text-anchor="middle">20</text><text x="4031.5" y="963.63" text-anchor="end">40</text><text x="4150.83" y="1004.2" text-anchor="middle">40</text></g>
<text x="4108.3" y="838.9" font-size="16.5" text-anchor="middle">845925</text>
<g filter="url(#B3)"><g transform="translate(4238.3,847.5) scale(2.74) translate(0,50) scale(1,-1)">
</g><g transform="translate(4238.3,847.5) scale(2.74)">
<g filter="url(#f57)"><g transform="translate(-31,-13)"><rect x="31" y="13" width="50" height="50" fill="url(#N)"/></g></g>
<g clip-path="url(#c10)"><g filter="url(#f58)"><g transform="translate(-31,-13)"><rect x="31" y="13" width="50" height="50" fill="url(#N)"/></g></g></g>
<g clip-path="url(#c11)"><g filter="url(#f59)"><g transform="translate(22,-42)"><rect x="-22" y="42" width="50" height="50" fill="url(#S)"/></g></g></g>
</g></g>
<rect x="4238.3" y="847.5" width="137.2" height="137.2" fill="none" stroke="#000" stroke-width="1.1"/>
<path d="M4238.3 848.87h-4.8M4239.67 984.7v4.8M4238.3 903.75h-4.8M4294.55 984.7v4.8M4238.3 958.63h-4.8M4349.43 984.7v4.8" stroke="#000" stroke-width="1.1"/>
<g font-size="13.9"><text x="4230.1" y="853.87" text-anchor="end">0</text><text x="4239.67" y="1004.2" text-anchor="middle">0</text><text x="4230.1" y="908.75" text-anchor="end">20</text><text x="4294.55" y="1004.2" text-anchor="middle">20</text><text x="4230.1" y="963.63" text-anchor="end">40</text><text x="4349.43" y="1004.2" text-anchor="middle">40</text></g>
<text x="4306.9" y="838.9" font-size="16.5" text-anchor="middle">845926</text>
<g filter="url(#B3)"><g transform="translate(2252.3,1042.95) scale(2.74) translate(50,50) scale(-1,-1)">
</g><g transform="translate(2252.3,1042.95) scale(2.74)">
<g filter="url(#f60)"><g transform="translate(-38,-26)"><rect x="38" y="26" width="50" height="50" fill="url(#N)"/></g></g>
<g clip-path="url(#c12)"><g filter="url(#f61)"><g transform="translate(-38,-26)"><rect x="38" y="26" width="50" height="50" fill="url(#N)"/></g></g></g>
<g clip-path="url(#c13)"><g filter="url(#f62)"><g transform="translate(21,-5)"><rect x="-21" y="5" width="50" height="50" fill="url(#S)"/></g></g></g>
</g></g>
<rect x="2252.3" y="1042.95" width="137.2" height="137.2" fill="none" stroke="#000" stroke-width="1.1"/>
<path d="M2252.3 1044.32h-4.8M2253.67 1180.15v4.8M2252.3 1099.2h-4.8M2308.55 1180.15v4.8M2252.3 1154.08h-4.8M2363.43 1180.15v4.8" stroke="#000" stroke-width="1.1"/>
<g font-size="13.9"><text x="2244.1" y="1049.32" text-anchor="end">0</text><text x="2253.67" y="1199.65" text-anchor="middle">0</text><text x="2244.1" y="1104.2" text-anchor="end">20</text><text x="2308.55" y="1199.65" text-anchor="middle">20</text><text x="2244.1" y="1159.08" text-anchor="end">40</text><text x="2363.43" y="1199.65" text-anchor="middle">40</text></g>
<text x="2320.9" y="1034.35" font-size="16.5" text-anchor="middle">845927</text>
<g filter="url(#B3)"><g transform="translate(2450.9,1042.95) scale(2.74)">
</g><g transform="translate(2450.9,1042.95) scale(2.74)">
<g filter="url(#f63)"><g transform="translate(-45,-39)"><rect x="45" y="39" width="50" height="50" fill="url(#N)"/></g></g>
<g clip-path="url(#c12)"><g filter="url(#f64)"><g transform="translate(-45,-39)"><rect x="45" y="39" width="50" height="50" fill="url(#N)"/></g></g></g>
<g clip-path="url(#c14)"><g filter="url(#f62)"><g transform="translate(21,-18)"><rect x="-21" y="18" width="50" height="50" fill="url(#S)"/></g></g></g>
</g></g>
<rect x="2450.9" y="1042.95" width="137.2" height="137.2" fill="none" stroke="#000" stroke-width="1.1"/>
<path d="M2450.9 1044.32h-4.8M2452.27 1180.15v4.8M2450.9 1099.2h-4.8M2507.15 1180.15v4.8M2450.9 1154.08h-4.8M2562.03 1180.15v4.8" stroke="#000" stroke-width="1.1"/>
<g font-size="13.9"><text x="2442.7" y="1049.32" text-anchor="end">0</text><text x="2452.27" y="1199.65" text-anchor="middle">0</text><text x="2442.7" y="1104.2" text-anchor="end">20</text><text x="2507.15" y="1199.65" text-anchor="middle">20</text><text x="2442.7" y="1159.08" text-anchor="end">40</text><text x="2562.03" y="1199.65" text-anchor="middle">40</text></g>
<text x="2519.5" y="1034.35" font-size="16.5" text-anchor="middle">845928</text>
<g filter="url(#B3)"><g transform="translate(2649.5,1042.95) scale(2.74) translate(50,0) scale(-1,1)">
</g><g transform="translate(2649.5,1042.95) scale(2.74)">
<g filter="url(#f63)"><g transform="translate(-2,-2)"><rect x="2" y="2" width="50" height="50" fill="url(#N)"/></g></g>
<g clip-path="url(#c12)"><g filter="url(#f64)"><g transform="translate(-2,-2)"><rect x="2" y="2" width="50" height="50" fill="url(#N)"/></g></g></g>
<g clip-path="url(#c15)"><g filter="url(#f62)"><g transform="translate(21,-31)"><rect x="-21" y="31" width="50" height="50" fill="url(#S)"/></g></g></g>
</g></g>
<rect x="2649.5" y="1042.95" width="137.2" height="137.2" fill="none" stroke="#000" stroke-width="1.1"/>
<path d="M2649.5 1044.32h-4.8M2650.87 1180.15v4.8M2649.5 1099.2h-4.8M2705.75 1180.15v4.8M2649.5 1154.08h-4.8M2760.63 1180.15v4.8" stroke="#000" stroke-width="1.1"/>
<g font-size="13.9"><text x="2641.3" y="1049.32" text-anchor="end">0</text><text x="2650.87" y="1199.65" text-anchor="middle">0</text><text x="2641.3" y="1104.2" text-anchor="end">20</text><text x="2705.75" y="1199.65" text-anchor="middle">20</text><text x="2641.3" y="1159.08" text-anchor="end">40</text><text x="2760.63" y="1199.65" text-anchor="middle">40</text></g>
<text x="2718.1" y="1034.35" font-size="16.5" text-anchor="middle">845929</text>
<g filter="url(#B3)"><g transform="translate(2848.1,1042.95) scale(2.74) translate(0,50) scale(1,-1)">
</g><g transform="translate(2848.1,1042.95) scale(2.74)">
<g filter="url(#f63)"><g transform="translate(-9,-15)"><rect x="9" y="15" width="50" height="50" fill="url(#N)"/></g></g>
<g clip-path="url(#c12)"><g filter="url(#f64)"><g transform="translate(-9,-15)"><rect x="9" y="15" width="50" height="50" fill="url(#N)"/></g></g></g>
<g clip-path="url(#c16)"><g filter="url(#f62)"><g transform="translate(21,-44)"><rect x="-21" y="44" width="50" height="50" fill="url(#S)"/></g></g></g>
</g></g>
<rect x="2848.1" y="1042.95" width="137.2" height="137.2" fill="none" stroke="#000" stroke-width="1.1"/>
<path d="M2848.1 1044.32h-4.8M2849.47 1180.15v4.8M2848.1 1099.2h-4.8M2904.35 1180.15v4.8M2848.1 1154.08h-4.8M2959.23 1180.15v4.8" stroke="#000" stroke-width="1.1"/>
<g font-size="13.9"><text x="2839.9" y="1049.32" text-anchor="end">0</text><text x="2849.47" y="1199.65" text-anchor="middle">0</text><text x="2839.9" y="1104.2" text-anchor="end">20</text><text x="2904.35" y="1199.65" text-anchor="middle">20</text><text x="2839.9" y="1159.08" text-anchor="end">40</text><text x="2959.23" y="1199.65" text-anchor="middle">40</text></g>
<text x="2916.7" y="1034.35" font-size="16.5" text-anchor="middle">845930</text>
<g filter="url(#B3)"><g transform="translate(3046.7,1042.95) scale(2.74) translate(50,50) scale(-1,-1)">
</g><g transform="translate(3046.7,1042.95) scale(2.74)">
<g filter="url(#f63)"><g transform="translate(-16,-28)"><rect x="16" y="28" width="50" height="50" fill="url(#N)"/></g></g>
<g clip-path="url(#c12)"><g filter="url(#f64)"><g transform="translate(-16,-28)"><rect x="16" y="28" width="50" height="50" fill="url(#N)"/></g></g></g>
<g clip-path="url(#c17)"><g filter="url(#f62)"><g transform="translate(21,-7)"><rect x="-21" y="7" width="50" height="50" fill="url(#S)"/></g></g></g>
<circle cx="3" cy="3" r="5" fill="url(#gw)" opacity="0.5"/>
</g></g>
<rect x="3046.7" y="1042.95" width="137.2" height="137.2" fill="none" stroke="#000" stroke-width="1.1"/>
<path d="M3046.7 1044.32h-4.8M3048.07 1180.15v4.8M3046.7 1099.2h-4.8M3102.95 1180.15v4.8M3046.7 1154.08h-4.8M3157.83 1180.15v4.8" stroke="#000" stroke-width="1.1"/>
<g font-size="13.9"><text x="3038.5" y="1049.32" text-anchor="end">0</text><text x="3048.07" y="1199.65" text-anchor="middle">0</text><text x="3038.5" y="1104.2" text-anchor="end">20</text><text x="3102.95" y="1199.65" text-anchor="middle">20</text><text x="3038.5" y="1159.08" text-anchor="end">40</text><text x="3157.83" y="1199.65" text-anchor="middle">40</text></g>
<text x="3115.3" y="1034.35" font-size="16.5" text-anchor="middle">845931</text>
<g filter="url(#B3)"><g transform="translate(3245.3,1042.95) scale(2.74)">
</g><g transform="translate(3245.3,1042.95) scale(2.74)">
<g filter="url(#f63)"><g transform="translate(-23,-41)"><rect x="23" y="41" width="50" height="50" fill="url(#N)"/></g></g>
<g clip-path="url(#c12)"><g filter="url(#f64)"><g transform="translate(-23,-41)"><rect x="23" y="41" width="50" height="50" fill="url(#N)"/></g></g></g>
<g clip-path="url(#c18)"><g filter="url(#f62)"><g transform="translate(21,-20)"><rect x="-21" y="20" width="50" height="50" fill="url(#S)"/></g></g></g>
<circle cx="3" cy="8" r="6" fill="url(#gw)" opacity="0.6"/>
</g></g>
<rect x="3245.3" y="1042.95" width="137.2" height="137.2" fill="none" stroke="#000" stroke-width="1.1"/>
<path d="M3245.3 1044.32h-4.8M3246.67 1180.15v4.8M3245.3 1099.2h-4.8M3301.55 1180.15v4.8M3245.3 1154.08h-4.8M3356.43 1180.15v4.8" stroke="#000" stroke-width="1.1"/>
<g font-size="13.9"><text x="3237.1" y="1049.32" text-anchor="end">0</text><text x="3246.67" y="1199.65" text-anchor="middle">0</text><text x="3237.1" y="1104.2" text-anchor="end">20</text><text x="3301.55" y="1199.65" text-anchor="middle">20</text><text x="3237.1" y="1159.08" text-anchor="end">40</text><text x="3356.43" y="1199.65" text-anchor="middle">40</text></g>
<text x="3313.9" y="1034.35" font-size="16.5" text-anchor="middle">845932</text>
<g filter="url(#B3)"><g transform="translate(3443.9,1042.95) scale(2.74) translate(50,0) scale(-1,1)">
</g><g transform="translate(3443.9,1042.95) scale(2.74)">
<g filter="url(#f63)"><g transform="translate(-30,-4)"><rect x="30" y="4" width="50" height="50" fill="url(#N)"/></g></g>
<g clip-path="url(#c12)"><g filter="url(#f64)"><g transform="translate(-30,-4)"><rect x="30" y="4" width="50" height="50" fill="url(#N)"/></g></g></g>
<g clip-path="url(#c19)"><g filter="url(#f62)"><g transform="translate(21,-33)"><rect x="-21" y="33" width="50" height="50" fill="url(#S)"/></g></g></g>
<circle cx="5" cy="12" r="6" fill="url(#gw)" opacity="0.6"/>
<circle cx="15" cy="0" r="5" fill="url(#gw)" opacity="0.5"/>
</g></g>
<rect x="3443.9" y="1042.95" width="137.2" height="137.2" fill="none" stroke="#000" stroke-width="1.1"/>
<path d="M3443.9 1044.32h-4.8M3445.27 1180.15v4.8M3443.9 1099.2h-4.8M3500.15 1180.15v4.8M3443.9 1154.08h-4.8M3555.03 1180.15v4.8" stroke="#000" stroke-width="1.1"/>
<g font-size="13.9"><text x="3435.7" y="1049.32" text-anchor="end">0</text><text x="3445.27" y="1199.65" text-anchor="middle">0</text><text x="3435.7" y="1104.2" text-anchor="end">20</text><text x="3500.15" y="1199.65" text-anchor="middle">20</text><text x="3435.7" y="1159.08" text-anchor="end">40</text><text x="3555.03" y="1199.65" text-anchor="middle">40</text></g>
<text x="3512.5" y="1034.35" font-size="16.5" text-anchor="middle">845933</text>
<g filter="url(#B3)"><g transform="translate(3642.5,1042.95) scale(2.74) translate(0,50) scale(1,-1)">
</g><g transform="translate(3642.5,1042.95) scale(2.74)">
<g filter="url(#f63)"><g transform="translate(-37,-17)"><rect x="37" y="17" width="50" height="50" fill="url(#N)"/></g></g>
<g clip-path="url(#c12)"><g filter="url(#f64)"><g transform="translate(-37,-17)"><rect x="37" y="17" width="50" height="50" fill="url(#N)"/></g></g></g>
<g clip-path="url(#c20)"><g filter="url(#f62)"><g transform="translate(21,-46)"><rect x="-21" y="46" width="50" height="50" fill="url(#S)"/></g></g></g>
<circle cx="16" cy="5" r="6" fill="url(#gw)" opacity="0.8"/>
<circle cx="0" cy="18" r="5" fill="url(#gw)" opacity="0.5"/>
</g></g>
<rect x="3642.5" y="1042.95" width="137.2" height="137.2" fill="none" stroke="#000" stroke-width="1.1"/>
<path d="M3642.5 1044.32h-4.8M3643.87 1180.15v4.8M3642.5 1099.2h-4.8M3698.75 1180.15v4.8M3642.5 1154.08h-4.8M3753.63 1180.15v4.8" stroke="#000" stroke-width="1.1"/>
<g font-size="13.9"><text x="3634.3" y="1049.32" text-anchor="end">0</text><text x="3643.87" y="1199.65" text-anchor="middle">0</text><text x="3634.3" y="1104.2" text-anchor="end">20</text><text x="3698.75" y="1199.65" text-anchor="middle">20</text><text x="3634.3" y="1159.08" text-anchor="end">40</text><text x="3753.63" y="1199.65" text-anchor="middle">40</text></g>
<text x="3711.1" y="1034.35" font-size="16.5" text-anchor="middle">845934</text>
<g filter="url(#B3)"><g transform="translate(3841.1,1042.95) scale(2.74) translate(50,50) scale(-1,-1)">
</g><g transform="translate(3841.1,1042.95) scale(2.74)">
<g filter="url(#f65)"><g transform="translate(-44,-30)"><rect x="44" y="30" width="50" height="50" fill="url(#N)"/></g></g>
<g clip-path="url(#c12)"><g filter="url(#f66)"><g transform="translate(-44,-30)"><rect x="44" y="30" width="50" height="50" fill="url(#N)"/></g></g></g>
<g clip-path="url(#c21)"><g filter="url(#f67)"><g transform="translate(21,-9)"><rect x="-21" y="9" width="50" height="50" fill="url(#S)"/></g></g></g>
<circle cx="16" cy="10" r="6" fill="url(#gw)" opacity="0.9"/>
<circle cx="0" cy="22" r="5" fill="url(#gw)" opacity="0.6"/>
</g></g>
<rect x="3841.1" y="1042.95" width="137.2" height="137.2" fill="none" stroke="#000" stroke-width="1.1"/>
<path d="M3841.1 1044.32h-4.8M3842.47 1180.15v4.8M3841.1 1099.2h-4.8M3897.35 1180.15v4.8M3841.1 1154.08h-4.8M3952.23 1180.15v4.8" stroke="#000" stroke-width="1.1"/>
<g font-size="13.9"><text x="3832.9" y="1049.32" text-anchor="end">0</text><text x="3842.47" y="1199.65" text-anchor="middle">0</text><text x="3832.9" y="1104.2" text-anchor="end">20</text><text x="3897.35" y="1199.65" text-anchor="middle">20</text><text x="3832.9" y="1159.08" text-anchor="end">40</text><text x="3952.23" y="1199.65" text-anchor="middle">40</text></g>
<text x="3909.7" y="1034.35" font-size="16.5" text-anchor="middle">845935</text>
<g filter="url(#B3)"><g transform="translate(4039.7,1042.95) scale(2.74)">
</g><g transform="translate(4039.7,1042.95) scale(2.74)">
<g filter="url(#f65)"><g transform="translate(-1,-43)"><rect x="1" y="43" width="50" height="50" fill="url(#N)"/></g></g>
<g clip-path="url(#c12)"><g filter="url(#f66)"><g transform="translate(-1,-43)"><rect x="1" y="43" width="50" height="50" fill="url(#N)"/></g></g></g>
<g clip-path="url(#c21)"><g filter="url(#f67)"><g transform="translate(21,-22)"><rect x="-21" y="22" width="50" height="50" fill="url(#S)"/></g></g></g>
<circle cx="17" cy="14" r="6" fill="url(#gw)" opacity="0.9"/>
<circle cx="1" cy="27" r="5" fill="url(#gw)" opacity="0.6"/>
</g></g>
<rect x="4039.7" y="1042.95" width="137.2" height="137.2" fill="none" stroke="#000" stroke-width="1.1"/>
<path d="M4039.7 1044.32h-4.8M4041.07 1180.15v4.8M4039.7 1099.2h-4.8M4095.95 1180.15v4.8M4039.7 1154.08h-4.8M4150.83 1180.15v4.8" stroke="#000" stroke-width="1.1"/>
<g font-size="13.9"><text x="4031.5" y="1049.32" text-anchor="end">0</text><text x="4041.07" y="1199.65" text-anchor="middle">0</text><text x="4031.5" y="1104.2" text-anchor="end">20</text><text x="4095.95" y="1199.65" text-anchor="middle">20</text><text x="4031.5" y="1159.08" text-anchor="end">40</text><text x="4150.83" y="1199.65" text-anchor="middle">40</text></g>
<text x="4108.3" y="1034.35" font-size="16.5" text-anchor="middle">845936</text>
<g filter="url(#B3)"><g transform="translate(4238.3,1042.95) scale(2.74) translate(50,0) scale(-1,1)">
</g><g transform="translate(4238.3,1042.95) scale(2.74)">
<g filter="url(#f68)"><g transform="translate(-8,-6)"><rect x="8" y="6" width="50" height="50" fill="url(#N)"/></g></g>
<g clip-path="url(#c12)"><g filter="url(#f69)"><g transform="translate(-8,-6)"><rect x="8" y="6" width="50" height="50" fill="url(#N)"/></g></g></g>
<g clip-path="url(#c22)"><g filter="url(#f70)"><g transform="translate(24,-35)"><rect x="-24" y="35" width="50" height="50" fill="url(#S)"/></g></g></g>
<circle cx="16" cy="20" r="7" fill="url(#gw)" opacity="0.9"/>
<circle cx="1" cy="32" r="5" fill="url(#gw)" opacity="0.6"/>
</g></g>
<rect x="4238.3" y="1042.95" width="137.2" height="137.2" fill="none" stroke="#000" stroke-width="1.1"/>
<path d="M4238.3 1044.32h-4.8M4239.67 1180.15v4.8M4238.3 1099.2h-4.8M4294.55 1180.15v4.8M4238.3 1154.08h-4.8M4349.43 1180.15v4.8" stroke="#000" stroke-width="1.1"/>
<g font-size="13.9"><text x="4230.1" y="1049.32" text-anchor="end">0</text><text x="4239.67" y="1199.65" text-anchor="middle">0</text><text x="4230.1" y="1104.2" text-anchor="end">20</text><text x="4294.55" y="1199.65" text-anchor="middle">20</text><text x="4230.1" y="1159.08" text-anchor="end">40</text><text x="4349.43" y="1199.65" text-anchor="middle">40</text></g>
<text x="4306.9" y="1034.35" font-size="16.5" text-anchor="middle">845937</text>
<g filter="url(#B3)"><g transform="translate(2252.3,1238.4) scale(2.74) translate(0,50) scale(1,-1)">
</g><g transform="translate(2252.3,1238.4) scale(2.74)">
<g filter="url(#f68)"><g transform="translate(-15,-19)"><rect x="15" y="19" width="50" height="50" fill="url(#N)"/></g></g>
<g clip-path="url(#c12)"><g filter="url(#f69)"><g transform="translate(-15,-19)"><rect x="15" y="19" width="50" height="50" fill="url(#N)"/></g></g></g>
<g clip-path="url(#c23)"><g filter="url(#f70)"><g transform="translate(24,-48)"><rect x="-24" y="48" width="50" height="50" fill="url(#S)"/></g></g></g>
<circle cx="17" cy="26" r="7" fill="url(#gw)" opacity="0.9"/>
<circle cx="2" cy="39" r="5" fill="url(#gw)" opacity="0.6"/>
</g></g>
<rect x="2252.3" y="1238.4" width="137.2" height="137.2" fill="none" stroke="#000" stroke-width="1.1"/>
<path d="M2252.3 1239.77h-4.8M2253.67 1375.6v4.8M2252.3 1294.65h-4.8M2308.55 1375.6v4.8M2252.3 1349.53h-4.8M2363.43 1375.6v4.8" stroke="#000" stroke-width="1.1"/>
<g font-size="13.9"><text x="2244.1" y="1244.77" text-anchor="end">0</text><text x="2253.67" y="1395.1" text-anchor="middle">0</text><text x="2244.1" y="1299.65" text-anchor="end">20</text><text x="2308.55" y="1395.1" text-anchor="middle">20</text><text x="2244.1" y="1354.53" text-anchor="end">40</text><text x="2363.43" y="1395.1" text-anchor="middle">40</text></g>
<text x="2320.9" y="1229.8" font-size="16.5" text-anchor="middle">845938</text>
<g filter="url(#B3)"><g transform="translate(2450.9,1238.4) scale(2.74) translate(50,50) scale(-1,-1)">
</g><g transform="translate(2450.9,1238.4) scale(2.74)">
<g filter="url(#f68)"><g transform="translate(-22,-32)"><rect x="22" y="32" width="50" height="50" fill="url(#N)"/></g></g>
<g clip-path="url(#c12)"><g filter="url(#f69)"><g transform="translate(-22,-32)"><rect x="22" y="32" width="50" height="50" fill="url(#N)"/></g></g></g>
<g clip-path="url(#c24)"><g filter="url(#f70)"><g transform="translate(24,-11)"><rect x="-24" y="11" width="50" height="50" fill="url(#S)"/></g></g></g>
<circle cx="17" cy="31" r="7" fill="url(#gw)" opacity="0.9"/>
<circle cx="2" cy="45" r="5" fill="url(#gw)" opacity="0.5"/>
</g></g>
<rect x="2450.9" y="1238.4" width="137.2" height="137.2" fill="none" stroke="#000" stroke-width="1.1"/>
<path d="M2450.9 1239.77h-4.8M2452.27 1375.6v4.8M2450.9 1294.65h-4.8M2507.15 1375.6v4.8M2450.9 1349.53h-4.8M2562.03 1375.6v4.8" stroke="#000" stroke-width="1.1"/>
<g font-size="13.9"><text x="2442.7" y="1244.77" text-anchor="end">0</text><text x="2452.27" y="1395.1" text-anchor="middle">0</text><text x="2442.7" y="1299.65" text-anchor="end">20</text><text x="2507.15" y="1395.1" text-anchor="middle">20</text><text x="2442.7" y="1354.53" text-anchor="end">40</text><text x="2562.03" y="1395.1" text-anchor="middle">40</text></g>
<text x="2519.5" y="1229.8" font-size="16.5" text-anchor="middle">845939</text>
<g filter="url(#B3)"><g transform="translate(2649.5,1238.4) scale(2.74)">
</g><g transform="translate(2649.5,1238.4) scale(2.74)">
<g filter="url(#f71)"><g transform="translate(-29,-45)"><rect x="29" y="45" width="50" height="50" fill="url(#N)"/></g></g>
<g clip-path="url(#c12)"><g filter="url(#f72)"><g transform="translate(-29,-45)"><rect x="29" y="45" width="50" height="50" fill="url(#N)"/></g></g></g>
<g clip-path="url(#c25)"><g filter="url(#f70)"><g transform="translate(24,-24)"><rect x="-24" y="24" width="50" height="50" fill="url(#S)"/></g></g></g>
<circle cx="17" cy="35" r="6" fill="url(#gw)" opacity="0.9"/>
</g></g>
<rect x="2649.5" y="1238.4" width="137.2" height="137.2" fill="none" stroke="#000" stroke-width="1.1"/>
<path d="M2649.5 1239.77h-4.8M2650.87 1375.6v4.8M2649.5 1294.65h-4.8M2705.75 1375.6v4.8M2649.5 1349.53h-4.8M2760.63 1375.6v4.8" stroke="#000" stroke-width="1.1"/>
<g font-size="13.9"><text x="2641.3" y="1244.77" text-anchor="end">0</text><text x="2650.87" y="1395.1" text-anchor="middle">0</text><text x="2641.3" y="1299.65" text-anchor="end">20</text><text x="2705.75" y="1395.1" text-anchor="middle">20</text><text x="2641.3" y="1354.53" text-anchor="end">40</text><text x="2760.63" y="1395.1" text-anchor="middle">40</text></g>
<text x="2718.1" y="1229.8" font-size="16.5" text-anchor="middle">845940</text>
<g filter="url(#B3)"><g transform="translate(2848.1,1238.4) scale(2.74) translate(50,0) scale(-1,1)">
</g><g transform="translate(2848.1,1238.4) scale(2.74)">
<g filter="url(#f68)"><g transform="translate(-36,-8)"><rect x="36" y="8" width="50" height="50" fill="url(#N)"/></g></g>
<g clip-path="url(#c12)"><g filter="url(#f69)"><g transform="translate(-36,-8)"><rect x="36" y="8" width="50" height="50" fill="url(#N)"/></g></g></g>
<g clip-path="url(#c26)"><g filter="url(#f70)"><g transform="translate(24,-37)"><rect x="-24" y="37" width="50" height="50" fill="url(#S)"/></g></g></g>
<circle cx="17" cy="40" r="6" fill="url(#gw)" opacity="0.9"/>
</g></g>
<rect x="2848.1" y="1238.4" width="137.2" height="137.2" fill="none" stroke="#000" stroke-width="1.1"/>
<path d="M2848.1 1239.77h-4.8M2849.47 1375.6v4.8M2848.1 1294.65h-4.8M2904.35 1375.6v4.8M2848.1 1349.53h-4.8M2959.23 1375.6v4.8" stroke="#000" stroke-width="1.1"/>
<g font-size="13.9"><text x="2839.9" y="1244.77" text-anchor="end">0</text><text x="2849.47" y="1395.1" text-anchor="middle">0</text><text x="2839.9" y="1299.65" text-anchor="end">20</text><text x="2904.35" y="1395.1" text-anchor="middle">20</text><text x="2839.9" y="1354.53" text-anchor="end">40</text><text x="2959.23" y="1395.1" text-anchor="middle">40</text></g>
<text x="2916.7" y="1229.8" font-size="16.5" text-anchor="middle">845941</text>
<g filter="url(#B3)"><g transform="translate(3046.7,1238.4) scale(2.74) translate(0,50) scale(1,-1)">
</g><g transform="translate(3046.7,1238.4) scale(2.74)">
<g filter="url(#f71)"><g transform="translate(-43,-21)"><rect x="43" y="21" width="50" height="50" fill="url(#N)"/></g></g>
<g clip-path="url(#c12)"><g filter="url(#f72)"><g transform="translate(-43,-21)"><rect x="43" y="21" width="50" height="50" fill="url(#N)"/></g></g></g>
<g clip-path="url(#c27)"><g filter="url(#f70)"><g transform="translate(24,0)"><rect x="-24" y="0" width="50" height="50" fill="url(#S)"/></g></g></g>
<circle cx="17" cy="45" r="6" fill="url(#gw)" opacity="0.9"/>
</g></g>
<rect x="3046.7" y="1238.4" width="137.2" height="137.2" fill="none" stroke="#000" stroke-width="1.1"/>
<path d="M3046.7 1239.77h-4.8M3048.07 1375.6v4.8M3046.7 1294.65h-4.8M3102.95 1375.6v4.8M3046.7 1349.53h-4.8M3157.83 1375.6v4.8" stroke="#000" stroke-width="1.1"/>
<g font-size="13.9"><text x="3038.5" y="1244.77" text-anchor="end">0</text><text x="3048.07" y="1395.1" text-anchor="middle">0</text><text x="3038.5" y="1299.65" text-anchor="end">20</text><text x="3102.95" y="1395.1" text-anchor="middle">20</text><text x="3038.5" y="1354.53" text-anchor="end">40</text><text x="3157.83" y="1395.1" text-anchor="middle">40</text></g>
<text x="3115.3" y="1229.8" font-size="16.5" text-anchor="middle">845942</text>
<g filter="url(#B3)"><g transform="translate(3245.3,1238.4) scale(2.74) translate(50,50) scale(-1,-1)">
</g><g transform="translate(3245.3,1238.4) scale(2.74)">
<g filter="url(#f71)"><g transform="translate(0,-34)"><rect x="0" y="34" width="50" height="50" fill="url(#N)"/></g></g>
<g clip-path="url(#c12)"><g filter="url(#f72)"><g transform="translate(0,-34)"><rect x="0" y="34" width="50" height="50" fill="url(#N)"/></g></g></g>
<g clip-path="url(#c28)"><g filter="url(#f70)"><g transform="translate(24,-13)"><rect x="-24" y="13" width="50" height="50" fill="url(#S)"/></g></g></g>
<circle cx="15" cy="49" r="5" fill="url(#gw)" opacity="0.8"/>
</g></g>
<rect x="3245.3" y="1238.4" width="137.2" height="137.2" fill="none" stroke="#000" stroke-width="1.1"/>
<path d="M3245.3 1239.77h-4.8M3246.67 1375.6v4.8M3245.3 1294.65h-4.8M3301.55 1375.6v4.8M3245.3 1349.53h-4.8M3356.43 1375.6v4.8" stroke="#000" stroke-width="1.1"/>
<g font-size="13.9"><text x="3237.1" y="1244.77" text-anchor="end">0</text><text x="3246.67" y="1395.1" text-anchor="middle">0</text><text x="3237.1" y="1299.65" text-anchor="end">20</text><text x="3301.55" y="1395.1" text-anchor="middle">20</text><text x="3237.1" y="1354.53" text-anchor="end">40</text><text x="3356.43" y="1395.1" text-anchor="middle">40</text></g>
<text x="3313.9" y="1229.8" font-size="16.5" text-anchor="middle">845943</text>
<g filter="url(#B3)"><g transform="translate(3443.9,1238.4) scale(2.74)">
</g><g transform="translate(3443.9,1238.4) scale(2.74)">
<g filter="url(#f71)"><g transform="translate(-7,-47)"><rect x="7" y="47" width="50" height="50" fill="url(#N)"/></g></g>
<g clip-path="url(#c12)"><g filter="url(#f72)"><g transform="translate(-7,-47)"><rect x="7" y="47" width="50" height="50" fill="url(#N)"/></g></g></g>
<g clip-path="url(#c29)"><g filter="url(#f70)"><g transform="translate(24,-26)"><rect x="-24" y="26" width="50" height="50" fill="url(#S)"/></g></g></g>
</g></g>
<rect x="3443.9" y="1238.4" width="137.2" height="137.2" fill="none" stroke="#000" stroke-width="1.1"/>
<path d="M3443.9 1239.77h-4.8M3445.27 1375.6v4.8M3443.9 1294.65h-4.8M3500.15 1375.6v4.8M3443.9 1349.53h-4.8M3555.03 1375.6v4.8" stroke="#000" stroke-width="1.1"/>
<g font-size="13.9"><text x="3435.7" y="1244.77" text-anchor="end">0</text><text x="3445.27" y="1395.1" text-anchor="middle">0</text><text x="3435.7" y="1299.65" text-anchor="end">20</text><text x="3500.15" y="1395.1" text-anchor="middle">20</text><text x="3435.7" y="1354.53" text-anchor="end">40</text><text x="3555.03" y="1395.1" text-anchor="middle">40</text></g>
<text x="3512.5" y="1229.8" font-size="16.5" text-anchor="middle">845944</text>
<g filter="url(#B3)"><g transform="translate(3642.5,1238.4) scale(2.74) translate(50,0) scale(-1,1)">
</g><g transform="translate(3642.5,1238.4) scale(2.74)">
<g filter="url(#f73)"><g transform="translate(-14,-10)"><rect x="14" y="10" width="50" height="50" fill="url(#N)"/></g></g>
<g mask="url(#m31)"><g filter="url(#f74)"><g transform="translate(-14,-10)"><rect x="14" y="10" width="50" height="50" fill="url(#N)"/></g></g></g>
</g></g>
<rect x="3642.5" y="1238.4" width="137.2" height="137.2" fill="none" stroke="#000" stroke-width="1.1"/>
<path d="M3642.5 1239.77h-4.8M3643.87 1375.6v4.8M3642.5 1294.65h-4.8M3698.75 1375.6v4.8M3642.5 1349.53h-4.8M3753.63 1375.6v4.8" stroke="#000" stroke-width="1.1"/>
<g font-size="13.9"><text x="3634.3" y="1244.77" text-anchor="end">0</text><text x="3643.87" y="1395.1" text-anchor="middle">0</text><text x="3634.3" y="1299.65" text-anchor="end">20</text><text x="3698.75" y="1395.1" text-anchor="middle">20</text><text x="3634.3" y="1354.53" text-anchor="end">40</text><text x="3753.63" y="1395.1" text-anchor="middle">40</text></g>
<text x="3711.1" y="1229.8" font-size="16.5" text-anchor="middle">845945</text>
<g filter="url(#B3)"><g transform="translate(3841.1,1238.4) scale(2.74) translate(0,50) scale(1,-1)">
</g><g transform="translate(3841.1,1238.4) scale(2.74)">
<g filter="url(#f75)"><g transform="translate(-21,-23)"><rect x="21" y="23" width="50" height="50" fill="url(#N)"/></g></g>
<g mask="url(#m32)"><g filter="url(#f76)"><g transform="translate(-21,-23)"><rect x="21" y="23" width="50" height="50" fill="url(#N)"/></g></g></g>
</g></g>
<rect x="3841.1" y="1238.4" width="137.2" height="137.2" fill="none" stroke="#000" stroke-width="1.1"/>
<path d="M3841.1 1239.77h-4.8M3842.47 1375.6v4.8M3841.1 1294.65h-4.8M3897.35 1375.6v4.8M3841.1 1349.53h-4.8M3952.23 1375.6v4.8" stroke="#000" stroke-width="1.1"/>
<g font-size="13.9"><text x="3832.9" y="1244.77" text-anchor="end">0</text><text x="3842.47" y="1395.1" text-anchor="middle">0</text><text x="3832.9" y="1299.65" text-anchor="end">20</text><text x="3897.35" y="1395.1" text-anchor="middle">20</text><text x="3832.9" y="1354.53" text-anchor="end">40</text><text x="3952.23" y="1395.1" text-anchor="middle">40</text></g>
<text x="3909.7" y="1229.8" font-size="16.5" text-anchor="middle">845946</text>
<g filter="url(#B3)"><g transform="translate(4039.7,1238.4) scale(2.74) translate(50,50) scale(-1,-1)">
</g><g transform="translate(4039.7,1238.4) scale(2.74)">
<g filter="url(#f77)"><g transform="translate(-28,-36)"><rect x="28" y="36" width="50" height="50" fill="url(#N)"/></g></g>
<g clip-path="url(#c32)"><g filter="url(#f78)"><g transform="translate(-28,-36)"><rect x="28" y="36" width="50" height="50" fill="url(#N)"/></g></g></g>
</g></g>
<rect x="4039.7" y="1238.4" width="137.2" height="137.2" fill="none" stroke="#000" stroke-width="1.1"/>
<path d="M4039.7 1239.77h-4.8M4041.07 1375.6v4.8M4039.7 1294.65h-4.8M4095.95 1375.6v4.8M4039.7 1349.53h-4.8M4150.83 1375.6v4.8" stroke="#000" stroke-width="1.1"/>
<g font-size="13.9"><text x="4031.5" y="1244.77" text-anchor="end">0</text><text x="4041.07" y="1395.1" text-anchor="middle">0</text><text x="4031.5" y="1299.65" text-anchor="end">20</text><text x="4095.95" y="1395.1" text-anchor="middle">20</text><text x="4031.5" y="1354.53" text-anchor="end">40</text><text x="4150.83" y="1395.1" text-anchor="middle">40</text></g>
<text x="4108.3" y="1229.8" font-size="16.5" text-anchor="middle">845947</text>
<g filter="url(#B3)"><g transform="translate(4238.3,1238.4) scale(2.74)">
</g><g transform="translate(4238.3,1238.4) scale(2.74)">
<g filter="url(#f79)"><g transform="translate(-35,-49)"><rect x="35" y="49" width="50" height="50" fill="url(#N)"/></g></g>
<g clip-path="url(#c33)"><g filter="url(#f78)"><g transform="translate(-35,-49)"><rect x="35" y="49" width="50" height="50" fill="url(#N)"/></g></g></g>
</g></g>
<rect x="4238.3" y="1238.4" width="137.2" height="137.2" fill="none" stroke="#000" stroke-width="1.1"/>
<path d="M4238.3 1239.77h-4.8M4239.67 1375.6v4.8M4238.3 1294.65h-4.8M4294.55 1375.6v4.8M4238.3 1349.53h-4.8M4349.43 1375.6v4.8" stroke="#000" stroke-width="1.1"/>
<g font-size="13.9"><text x="4230.1" y="1244.77" text-anchor="end">0</text><text x="4239.67" y="1395.1" text-anchor="middle">0</text><text x="4230.1" y="1299.65" text-anchor="end">20</text><text x="4294.55" y="1395.1" text-anchor="middle">20</text><text x="4230.1" y="1354.53" text-anchor="end">40</text><text x="4349.43" y="1395.1" text-anchor="middle">40</text></g>
<text x="4306.9" y="1229.8" font-size="16.5" text-anchor="middle">845948</text>
<g filter="url(#B3)"><g transform="translate(2252.3,1433.85) scale(2.74) translate(50,0) scale(-1,1)">
</g><g transform="translate(2252.3,1433.85) scale(2.74)">
<g filter="url(#f39)"><g transform="translate(-42,-12)"><rect x="42" y="12" width="50" height="50" fill="url(#N)"/></g></g>
<g clip-path="url(#c34)"><g filter="url(#f46)"><g transform="translate(-42,-12)"><rect x="42" y="12" width="50" height="50" fill="url(#N)"/></g></g></g>
</g></g>
<rect x="2252.3" y="1433.85" width="137.2" height="137.2" fill="none" stroke="#000" stroke-width="1.1"/>
<path d="M2252.3 1435.22h-4.8M2253.67 1571.05v4.8M2252.3 1490.1h-4.8M2308.55 1571.05v4.8M2252.3 1544.98h-4.8M2363.43 1571.05v4.8" stroke="#000" stroke-width="1.1"/>
<g font-size="13.9"><text x="2244.1" y="1440.22" text-anchor="end">0</text><text x="2253.67" y="1590.55" text-anchor="middle">0</text><text x="2244.1" y="1495.1" text-anchor="end">20</text><text x="2308.55" y="1590.55" text-anchor="middle">20</text><text x="2244.1" y="1549.98" text-anchor="end">40</text><text x="2363.43" y="1590.55" text-anchor="middle">40</text></g>
<text x="2320.9" y="1425.25" font-size="16.5" text-anchor="middle">845949</text>
<g filter="url(#B3)"><g transform="translate(2450.9,1433.85) scale(2.74) translate(0,50) scale(1,-1)">
</g><g transform="translate(2450.9,1433.85) scale(2.74)">
<g filter="url(#f80)"><g transform="translate(-49,-25)"><rect x="49" y="25" width="50" height="50" fill="url(#N)"/></g></g>
<g clip-path="url(#c35)"><g filter="url(#f81)"><g transform="translate(-49,-25)"><rect x="49" y="25" width="50" height="50" fill="url(#N)"/></g></g></g>
</g></g>
<rect x="2450.9" y="1433.85" width="137.2" height="137.2" fill="none" stroke="#000" stroke-width="1.1"/>
<path d="M2450.9 1435.22h-4.8M2452.27 1571.05v4.8M2450.9 1490.1h-4.8M2507.15 1571.05v4.8M2450.9 1544.98h-4.8M2562.03 1571.05v4.8" stroke="#000" stroke-width="1.1"/>
<g font-size="13.9"><text x="2442.7" y="1440.22" text-anchor="end">0</text><text x="2452.27" y="1590.55" text-anchor="middle">0</text><text x="2442.7" y="1495.1" text-anchor="end">20</text><text x="2507.15" y="1590.55" text-anchor="middle">20</text><text x="2442.7" y="1549.98" text-anchor="end">40</text><text x="2562.03" y="1590.55" text-anchor="middle">40</text></g>
<text x="2519.5" y="1425.25" font-size="16.5" text-anchor="middle">845950</text>
<g filter="url(#B3)"><g transform="translate(2649.5,1433.85) scale(2.74) translate(50,50) scale(-1,-1)">
</g><g transform="translate(2649.5,1433.85) scale(2.74)">
<g filter="url(#f39)"><g transform="translate(-6,-38)"><rect x="6" y="38" width="50" height="50" fill="url(#N)"/></g></g>
<g clip-path="url(#c36)"><g filter="url(#f82)"><g transform="translate(-6,-38)"><rect x="6" y="38" width="50" height="50" fill="url(#N)"/></g></g></g>
</g></g>
<rect x="2649.5" y="1433.85" width="137.2" height="137.2" fill="none" stroke="#d0152d" stroke-width="1.1"/>
<path d="M2649.5 1435.22h-4.8M2650.87 1571.05v4.8M2649.5 1490.1h-4.8M2705.75 1571.05v4.8M2649.5 1544.98h-4.8M2760.63 1571.05v4.8" stroke="#000" stroke-width="1.1"/>
<g font-size="13.9"><text x="2641.3" y="1440.22" text-anchor="end">0</text><text x="2650.87" y="1590.55" text-anchor="middle">0</text><text x="2641.3" y="1495.1" text-anchor="end">20</text><text x="2705.75" y="1590.55" text-anchor="middle">20</text><text x="2641.3" y="1549.98" text-anchor="end">40</text><text x="2760.63" y="1590.55" text-anchor="middle">40</text></g>
<text x="2718.1" y="1425.25" font-size="16.5" text-anchor="middle">845951</text>
<g filter="url(#B3)"><g transform="translate(2848.1,1433.85) scale(2.74)">
<g filter="url(#f18)"><g transform="translate(-13,-1)"><rect x="13" y="1" width="50" height="50" fill="url(#N)"/></g></g>
</g><g transform="translate(2848.1,1433.85) scale(2.74)">
<circle cx="27.4" cy="25.5" r="4.5" fill="url(#gk)" opacity="0.3"/>
</g></g>
<rect x="2848.1" y="1433.85" width="137.2" height="137.2" fill="none" stroke="#000" stroke-width="1.1"/>
<path d="M2848.1 1435.22h-4.8M2849.47 1571.05v4.8M2848.1 1490.1h-4.8M2904.35 1571.05v4.8M2848.1 1544.98h-4.8M2959.23 1571.05v4.8" stroke="#000" stroke-width="1.1"/>
<g font-size="13.9"><text x="2839.9" y="1440.22" text-anchor="end">0</text><text x="2849.47" y="1590.55" text-anchor="middle">0</text><text x="2839.9" y="1495.1" text-anchor="end">20</text><text x="2904.35" y="1590.55" text-anchor="middle">20</text><text x="2839.9" y="1549.98" text-anchor="end">40</text><text x="2959.23" y="1590.55" text-anchor="middle">40</text></g>
<text x="2916.7" y="1425.25" font-size="16.5" text-anchor="middle">845952</text>
<g filter="url(#B3)"><g transform="translate(3046.7,1433.85) scale(2.74) translate(50,0) scale(-1,1)">
<g filter="url(#f83)"><g transform="translate(-20,-14)"><rect x="20" y="14" width="50" height="50" fill="url(#N)"/></g></g>
</g><g transform="translate(3046.7,1433.85) scale(2.74)">
<circle cx="26" cy="26" r="4.5" fill="url(#gk)" opacity="0.3"/>
</g></g>
<rect x="3046.7" y="1433.85" width="137.2" height="137.2" fill="none" stroke="#000" stroke-width="1.1"/>
<path d="M3046.7 1435.22h-4.8M3048.07 1571.05v4.8M3046.7 1490.1h-4.8M3102.95 1571.05v4.8M3046.7 1544.98h-4.8M3157.83 1571.05v4.8" stroke="#000" stroke-width="1.1"/>
<g font-size="13.9"><text x="3038.5" y="1440.22" text-anchor="end">0</text><text x="3048.07" y="1590.55" text-anchor="middle">0</text><text x="3038.5" y="1495.1" text-anchor="end">20</text><text x="3102.95" y="1590.55" text-anchor="middle">20</text><text x="3038.5" y="1549.98" text-anchor="end">40</text><text x="3157.83" y="1590.55" text-anchor="middle">40</text></g>
<text x="3115.3" y="1425.25" font-size="16.5" text-anchor="middle">845953</text>
<g filter="url(#B3)"><g transform="translate(3245.3,1433.85) scale(2.74) translate(0,50) scale(1,-1)">
<g filter="url(#f84)"><g transform="translate(-27,-27)"><rect x="27" y="27" width="50" height="50" fill="url(#N)"/></g></g>
</g><g transform="translate(3245.3,1433.85) scale(2.74)">
<circle cx="26.7" cy="26.5" r="4.5" fill="url(#gk)" opacity="0.45"/>
</g></g>
<rect x="3245.3" y="1433.85" width="137.2" height="137.2" fill="none" stroke="#d0152d" stroke-width="1.1"/>
<path d="M3245.3 1435.22h-4.8M3246.67 1571.05v4.8M3245.3 1490.1h-4.8M3301.55 1571.05v4.8M3245.3 1544.98h-4.8M3356.43 1571.05v4.8" stroke="#000" stroke-width="1.1"/>
<g font-size="13.9"><text x="3237.1" y="1440.22" text-anchor="end">0</text><text x="3246.67" y="1590.55" text-anchor="middle">0</text><text x="3237.1" y="1495.1" text-anchor="end">20</text><text x="3301.55" y="1590.55" text-anchor="middle">20</text><text x="3237.1" y="1549.98" text-anchor="end">40</text><text x="3356.43" y="1590.55" text-anchor="middle">40</text></g>
<text x="3313.9" y="1425.25" font-size="16.5" text-anchor="middle">845954</text>
<g filter="url(#B3)"><g transform="translate(3443.9,1433.85) scale(2.74) translate(50,50) scale(-1,-1)">
<g filter="url(#f85)"><g transform="translate(-34,-40)"><rect x="34" y="40" width="50" height="50" fill="url(#N)"/></g></g>
</g><g transform="translate(3443.9,1433.85) scale(2.74)">
<circle cx="27.4" cy="27" r="4.5" fill="url(#gk)" opacity="0.3"/>
</g></g>
<rect x="3443.9" y="1433.85" width="137.2" height="137.2" fill="none" stroke="#000" stroke-width="1.1"/>
<path d="M3443.9 1435.22h-4.8M3445.27 1571.05v4.8M3443.9 1490.1h-4.8M3500.15 1571.05v4.8M3443.9 1544.98h-4.8M3555.03 1571.05v4.8" stroke="#000" stroke-width="1.1"/>
<g font-size="13.9"><text x="3435.7" y="1440.22" text-anchor="end">0</text><text x="3445.27" y="1590.55" text-anchor="middle">0</text><text x="3435.7" y="1495.1" text-anchor="end">20</text><text x="3500.15" y="1590.55" text-anchor="middle">20</text><text x="3435.7" y="1549.98" text-anchor="end">40</text><text x="3555.03" y="1590.55" text-anchor="middle">40</text></g>
<text x="3512.5" y="1425.25" font-size="16.5" text-anchor="middle">845955</text>
<g filter="url(#B3)"><g transform="translate(3642.5,1433.85) scale(2.74)">
<g filter="url(#f15)"><g transform="translate(-41,-3)"><rect x="41" y="3" width="50" height="50" fill="url(#N)"/></g></g>
</g><g transform="translate(3642.5,1433.85) scale(2.74)">
<circle cx="26" cy="27.5" r="4.5" fill="url(#gk)" opacity="0.45"/>
</g></g>
<rect x="3642.5" y="1433.85" width="137.2" height="137.2" fill="none" stroke="#d0152d" stroke-width="1.1"/>
<path d="M3642.5 1435.22h-4.8M3643.87 1571.05v4.8M3642.5 1490.1h-4.8M3698.75 1571.05v4.8M3642.5 1544.98h-4.8M3753.63 1571.05v4.8" stroke="#000" stroke-width="1.1"/>
<g font-size="13.9"><text x="3634.3" y="1440.22" text-anchor="end">0</text><text x="3643.87" y="1590.55" text-anchor="middle">0</text><text x="3634.3" y="1495.1" text-anchor="end">20</text><text x="3698.75" y="1590.55" text-anchor="middle">20</text><text x="3634.3" y="1549.98" text-anchor="end">40</text><text x="3753.63" y="1590.55" text-anchor="middle">40</text></g>
<text x="3711.1" y="1425.25" font-size="16.5" text-anchor="middle">845956</text>
<g filter="url(#B3)"><g transform="translate(3841.1,1433.85) scale(2.74) translate(50,0) scale(-1,1)">
<g filter="url(#f86)"><g transform="translate(-48,-16)"><rect x="48" y="16" width="50" height="50" fill="url(#N)"/></g></g>
</g><g transform="translate(3841.1,1433.85) scale(2.74)">
<circle cx="26.7" cy="25.5" r="4.5" fill="url(#gk)" opacity="0.45"/>
</g></g>
<rect x="3841.1" y="1433.85" width="137.2" height="137.2" fill="none" stroke="#d0152d" stroke-width="1.1"/>
<path d="M3841.1 1435.22h-4.8M3842.47 1571.05v4.8M3841.1 1490.1h-4.8M3897.35 1571.05v4.8M3841.1 1544.98h-4.8M3952.23 1571.05v4.8" stroke="#000" stroke-width="1.1"/>
<g font-size="13.9"><text x="3832.9" y="1440.22" text-anchor="end">0</text><text x="3842.47" y="1590.55" text-anchor="middle">0</text><text x="3832.9" y="1495.1" text-anchor="end">20</text><text x="3897.35" y="1590.55" text-anchor="middle">20</text><text x="3832.9" y="1549.98" text-anchor="end">40</text><text x="3952.23" y="1590.55" text-anchor="middle">40</text></g>
<text x="3909.7" y="1425.25" font-size="16.5" text-anchor="middle">845957</text>
<g filter="url(#B3)"><g transform="translate(4039.7,1433.85) scale(2.74) translate(0,50) scale(1,-1)">
<g filter="url(#f87)"><g transform="translate(-5,-29)"><rect x="5" y="29" width="50" height="50" fill="url(#N)"/></g></g>
</g><g transform="translate(4039.7,1433.85) scale(2.74)">
<circle cx="27.4" cy="26" r="4.5" fill="url(#gk)" opacity="0.45"/>
</g></g>
<rect x="4039.7" y="1433.85" width="137.2" height="137.2" fill="none" stroke="#d0152d" stroke-width="1.1"/>
<path d="M4039.7 1435.22h-4.8M4041.07 1571.05v4.8M4039.7 1490.1h-4.8M4095.95 1571.05v4.8M4039.7 1544.98h-4.8M4150.83 1571.05v4.8" stroke="#000" stroke-width="1.1"/>
<g font-size="13.9"><text x="4031.5" y="1440.22" text-anchor="end">0</text><text x="4041.07" y="1590.55" text-anchor="middle">0</text><text x="4031.5" y="1495.1" text-anchor="end">20</text><text x="4095.95" y="1590.55" text-anchor="middle">20</text><text x="4031.5" y="1549.98" text-anchor="end">40</text><text x="4150.83" y="1590.55" text-anchor="middle">40</text></g>
<text x="4108.3" y="1425.25" font-size="16.5" text-anchor="middle">845958</text>
<g filter="url(#B3)"><g transform="translate(4238.3,1433.85) scale(2.74) translate(50,50) scale(-1,-1)">
<g filter="url(#f22)"><g transform="translate(-12,-42)"><rect x="12" y="42" width="50" height="50" fill="url(#N)"/></g></g>
</g><g transform="translate(4238.3,1433.85) scale(2.74)">
<circle cx="26" cy="26.5" r="4.5" fill="url(#gk)" opacity="0.45"/>
</g></g>
<rect x="4238.3" y="1433.85" width="137.2" height="137.2" fill="none" stroke="#d0152d" stroke-width="1.1"/>
<path d="M4238.3 1435.22h-4.8M4239.67 1571.05v4.8M4238.3 1490.1h-4.8M4294.55 1571.05v4.8M4238.3 1544.98h-4.8M4349.43 1571.05v4.8" stroke="#000" stroke-width="1.1"/>
<g font-size="13.9"><text x="4230.1" y="1440.22" text-anchor="end">0</text><text x="4239.67" y="1590.55" text-anchor="middle">0</text><text x="4230.1" y="1495.1" text-anchor="end">20</text><text x="4294.55" y="1590.55" text-anchor="middle">20</text><text x="4230.1" y="1549.98" text-anchor="end">40</text><text x="4349.43" y="1590.55" text-anchor="middle">40</text></g>
<text x="4306.9" y="1425.25" font-size="16.5" text-anchor="middle">845959</text>
<g filter="url(#B3)"><g transform="translate(2252.3,1629.3) scale(2.74)">
<g filter="url(#f88)"><g transform="translate(-19,-5)"><rect x="19" y="5" width="50" height="50" fill="url(#N)"/></g></g>
</g><g transform="translate(2252.3,1629.3) scale(2.74)">
<circle cx="26.7" cy="27" r="4.5" fill="url(#gk)" opacity="0.45"/>
</g></g>
<rect x="2252.3" y="1629.3" width="137.2" height="137.2" fill="none" stroke="#d0152d" stroke-width="1.1"/>
<path d="M2252.3 1630.67h-4.8M2253.67 1766.5v4.8M2252.3 1685.55h-4.8M2308.55 1766.5v4.8M2252.3 1740.43h-4.8M2363.43 1766.5v4.8" stroke="#000" stroke-width="1.1"/>
<g font-size="13.9"><text x="2244.1" y="1635.67" text-anchor="end">0</text><text x="2253.67" y="1786" text-anchor="middle">0</text><text x="2244.1" y="1690.55" text-anchor="end">20</text><text x="2308.55" y="1786" text-anchor="middle">20</text><text x="2244.1" y="1745.43" text-anchor="end">40</text><text x="2363.43" y="1786" text-anchor="middle">40</text></g>
<text x="2320.9" y="1620.7" font-size="16.5" text-anchor="middle">845960</text>
<g filter="url(#B3)"><g transform="translate(2450.9,1629.3) scale(2.74) translate(50,0) scale(-1,1)">
<g filter="url(#f85)"><g transform="translate(-26,-18)"><rect x="26" y="18" width="50" height="50" fill="url(#N)"/></g></g>
</g><g transform="translate(2450.9,1629.3) scale(2.74)">
<circle cx="27.4" cy="27.5" r="4.5" fill="url(#gk)" opacity="0.3"/>
</g></g>
<rect x="2450.9" y="1629.3" width="137.2" height="137.2" fill="none" stroke="#000" stroke-width="1.1"/>
<path d="M2450.9 1630.67h-4.8M2452.27 1766.5v4.8M2450.9 1685.55h-4.8M2507.15 1766.5v4.8M2450.9 1740.43h-4.8M2562.03 1766.5v4.8" stroke="#000" stroke-width="1.1"/>
<g font-size="13.9"><text x="2442.7" y="1635.67" text-anchor="end">0</text><text x="2452.27" y="1786" text-anchor="middle">0</text><text x="2442.7" y="1690.55" text-anchor="end">20</text><text x="2507.15" y="1786" text-anchor="middle">20</text><text x="2442.7" y="1745.43" text-anchor="end">40</text><text x="2562.03" y="1786" text-anchor="middle">40</text></g>
<text x="2519.5" y="1620.7" font-size="16.5" text-anchor="middle">845961</text>
<g filter="url(#B3)"><g transform="translate(2649.5,1629.3) scale(2.74) translate(0,50) scale(1,-1)">
<g filter="url(#f89)"><g transform="translate(-33,-31)"><rect x="33" y="31" width="50" height="50" fill="url(#N)"/></g></g>
</g><g transform="translate(2649.5,1629.3) scale(2.74)">
<circle cx="26" cy="25.5" r="4.5" fill="url(#gk)" opacity="0.3"/>
</g></g>
<rect x="2649.5" y="1629.3" width="137.2" height="137.2" fill="none" stroke="#000" stroke-width="1.1"/>
<path d="M2649.5 1630.67h-4.8M2650.87 1766.5v4.8M2649.5 1685.55h-4.8M2705.75 1766.5v4.8M2649.5 1740.43h-4.8M2760.63 1766.5v4.8" stroke="#000" stroke-width="1.1"/>
<g font-size="13.9"><text x="2641.3" y="1635.67" text-anchor="end">0</text><text x="2650.87" y="1786" text-anchor="middle">0</text><text x="2641.3" y="1690.55" text-anchor="end">20</text><text x="2705.75" y="1786" text-anchor="middle">20</text><text x="2641.3" y="1745.43" text-anchor="end">40</text><text x="2760.63" y="1786" text-anchor="middle">40</text></g>
<text x="2718.1" y="1620.7" font-size="16.5" text-anchor="middle">845962</text>
<g filter="url(#B3)"><g transform="translate(2848.1,1629.3) scale(2.74) translate(50,50) scale(-1,-1)">
<g filter="url(#f90)"><g transform="translate(-40,-44)"><rect x="40" y="44" width="50" height="50" fill="url(#N)"/></g></g>
</g><g transform="translate(2848.1,1629.3) scale(2.74)">
<circle cx="26.7" cy="26" r="4.5" fill="url(#gk)" opacity="0.45"/>
</g></g>
<rect x="2848.1" y="1629.3" width="137.2" height="137.2" fill="none" stroke="#d0152d" stroke-width="1.1"/>
<path d="M2848.1 1630.67h-4.8M2849.47 1766.5v4.8M2848.1 1685.55h-4.8M2904.35 1766.5v4.8M2848.1 1740.43h-4.8M2959.23 1766.5v4.8" stroke="#000" stroke-width="1.1"/>
<g font-size="13.9"><text x="2839.9" y="1635.67" text-anchor="end">0</text><text x="2849.47" y="1786" text-anchor="middle">0</text><text x="2839.9" y="1690.55" text-anchor="end">20</text><text x="2904.35" y="1786" text-anchor="middle">20</text><text x="2839.9" y="1745.43" text-anchor="end">40</text><text x="2959.23" y="1786" text-anchor="middle">40</text></g>
<text x="2916.7" y="1620.7" font-size="16.5" text-anchor="middle">845963</text>
<g filter="url(#B3)"><g transform="translate(3046.7,1629.3) scale(2.74)">
<g filter="url(#f91)"><g transform="translate(-47,-7)"><rect x="47" y="7" width="50" height="50" fill="url(#N)"/></g></g>
</g><g transform="translate(3046.7,1629.3) scale(2.74)">
<circle cx="27.4" cy="26.5" r="4.5" fill="url(#gk)" opacity="0.3"/>
</g></g>
<rect x="3046.7" y="1629.3" width="137.2" height="137.2" fill="none" stroke="#000" stroke-width="1.1"/>
<path d="M3046.7 1630.67h-4.8M3048.07 1766.5v4.8M3046.7 1685.55h-4.8M3102.95 1766.5v4.8M3046.7 1740.43h-4.8M3157.83 1766.5v4.8" stroke="#000" stroke-width="1.1"/>
<g font-size="13.9"><text x="3038.5" y="1635.67" text-anchor="end">0</text><text x="3048.07" y="1786" text-anchor="middle">0</text><text x="3038.5" y="1690.55" text-anchor="end">20</text><text x="3102.95" y="1786" text-anchor="middle">20</text><text x="3038.5" y="1745.43" text-anchor="end">40</text><text x="3157.83" y="1786" text-anchor="middle">40</text></g>
<text x="3115.3" y="1620.7" font-size="16.5" text-anchor="middle">845964</text>
<g filter="url(#B3)"><g transform="translate(3245.3,1629.3) scale(2.74) translate(50,0) scale(-1,1)">
<g filter="url(#f92)"><g transform="translate(-4,-20)"><rect x="4" y="20" width="50" height="50" fill="url(#N)"/></g></g>
</g><g transform="translate(3245.3,1629.3) scale(2.74)">
<circle cx="26" cy="27" r="4.5" fill="url(#gk)" opacity="0.45"/>
</g></g>
<rect x="3245.3" y="1629.3" width="137.2" height="137.2" fill="none" stroke="#d0152d" stroke-width="1.1"/>
<path d="M3245.3 1630.67h-4.8M3246.67 1766.5v4.8M3245.3 1685.55h-4.8M3301.55 1766.5v4.8M3245.3 1740.43h-4.8M3356.43 1766.5v4.8" stroke="#000" stroke-width="1.1"/>
<g font-size="13.9"><text x="3237.1" y="1635.67" text-anchor="end">0</text><text x="3246.67" y="1786" text-anchor="middle">0</text><text x="3237.1" y="1690.55" text-anchor="end">20</text><text x="3301.55" y="1786" text-anchor="middle">20</text><text x="3237.1" y="1745.43" text-anchor="end">40</text><text x="3356.43" y="1786" text-anchor="middle">40</text></g>
<text x="3313.9" y="1620.7" font-size="16.5" text-anchor="middle">845965</text>
<g filter="url(#B3)"><g transform="translate(3443.9,1629.3) scale(2.74) translate(0,50) scale(1,-1)">
<g filter="url(#f93)"><g transform="translate(-11,-33)"><rect x="11" y="33" width="50" height="50" fill="url(#N)"/></g></g>
</g><g transform="translate(3443.9,1629.3) scale(2.74)">
<circle cx="26.7" cy="27.5" r="4.5" fill="url(#gk)" opacity="0.45"/>
</g></g>
<rect x="3443.9" y="1629.3" width="137.2" height="137.2" fill="none" stroke="#d0152d" stroke-width="1.1"/>
<path d="M3443.9 1630.67h-4.8M3445.27 1766.5v4.8M3443.9 1685.55h-4.8M3500.15 1766.5v4.8M3443.9 1740.43h-4.8M3555.03 1766.5v4.8" stroke="#000" stroke-width="1.1"/>
<g font-size="13.9"><text x="3435.7" y="1635.67" text-anchor="end">0</text><text x="3445.27" y="1786" text-anchor="middle">0</text><text x="3435.7" y="1690.55" text-anchor="end">20</text><text x="3500.15" y="1786" text-anchor="middle">20</text><text x="3435.7" y="1745.43" text-anchor="end">40</text><text x="3555.03" y="1786" text-anchor="middle">40</text></g>
<text x="3512.5" y="1620.7" font-size="16.5" text-anchor="middle">845966</text>
<g filter="url(#B3)"><g transform="translate(3642.5,1629.3) scale(2.74) translate(50,50) scale(-1,-1)">
<g filter="url(#f94)"><g transform="translate(-18,-46)"><rect x="18" y="46" width="50" height="50" fill="url(#N)"/></g></g>
</g><g transform="translate(3642.5,1629.3) scale(2.74)">
<circle cx="27.4" cy="25.5" r="4.5" fill="url(#gk)" opacity="0.45"/>
</g></g>
<rect x="3642.5" y="1629.3" width="137.2" height="137.2" fill="none" stroke="#d0152d" stroke-width="1.1"/>
<path d="M3642.5 1630.67h-4.8M3643.87 1766.5v4.8M3642.5 1685.55h-4.8M3698.75 1766.5v4.8M3642.5 1740.43h-4.8M3753.63 1766.5v4.8" stroke="#000" stroke-width="1.1"/>
<g font-size="13.9"><text x="3634.3" y="1635.67" text-anchor="end">0</text><text x="3643.87" y="1786" text-anchor="middle">0</text><text x="3634.3" y="1690.55" text-anchor="end">20</text><text x="3698.75" y="1786" text-anchor="middle">20</text><text x="3634.3" y="1745.43" text-anchor="end">40</text><text x="3753.63" y="1786" text-anchor="middle">40</text></g>
<text x="3711.1" y="1620.7" font-size="16.5" text-anchor="middle">845967</text>
<g filter="url(#B3)"><g transform="translate(3841.1,1629.3) scale(2.74)">
<g filter="url(#f18)"><g transform="translate(-25,-9)"><rect x="25" y="9" width="50" height="50" fill="url(#N)"/></g></g>
</g><g transform="translate(3841.1,1629.3) scale(2.74)">
<circle cx="26" cy="26" r="4.5" fill="url(#gk)" opacity="0.3"/>
</g></g>
<rect x="3841.1" y="1629.3" width="137.2" height="137.2" fill="none" stroke="#000" stroke-width="1.1"/>
<path d="M3841.1 1630.67h-4.8M3842.47 1766.5v4.8M3841.1 1685.55h-4.8M3897.35 1766.5v4.8M3841.1 1740.43h-4.8M3952.23 1766.5v4.8" stroke="#000" stroke-width="1.1"/>
<g font-size="13.9"><text x="3832.9" y="1635.67" text-anchor="end">0</text><text x="3842.47" y="1786" text-anchor="middle">0</text><text x="3832.9" y="1690.55" text-anchor="end">20</text><text x="3897.35" y="1786" text-anchor="middle">20</text><text x="3832.9" y="1745.43" text-anchor="end">40</text><text x="3952.23" y="1786" text-anchor="middle">40</text></g>
<text x="3909.7" y="1620.7" font-size="16.5" text-anchor="middle">845968</text>
<g filter="url(#B3)"><g transform="translate(4039.7,1629.3) scale(2.74) translate(50,0) scale(-1,1)">
<g filter="url(#f95)"><g transform="translate(-32,-22)"><rect x="32" y="22" width="50" height="50" fill="url(#N)"/></g></g>
</g><g transform="translate(4039.7,1629.3) scale(2.74)">
<circle cx="26.7" cy="26.5" r="4.5" fill="url(#gk)" opacity="0.3"/>
</g></g>
<rect x="4039.7" y="1629.3" width="137.2" height="137.2" fill="none" stroke="#000" stroke-width="1.1"/>
<path d="M4039.7 1630.67h-4.8M4041.07 1766.5v4.8M4039.7 1685.55h-4.8M4095.95 1766.5v4.8M4039.7 1740.43h-4.8M4150.83 1766.5v4.8" stroke="#000" stroke-width="1.1"/>
<g font-size="13.9"><text x="4031.5" y="1635.67" text-anchor="end">0</text><text x="4041.07" y="1786" text-anchor="middle">0</text><text x="4031.5" y="1690.55" text-anchor="end">20</text><text x="4095.95" y="1786" text-anchor="middle">20</text><text x="4031.5" y="1745.43" text-anchor="end">40</text><text x="4150.83" y="1786" text-anchor="middle">40</text></g>
<text x="4108.3" y="1620.7" font-size="16.5" text-anchor="middle">845969</text>
<g filter="url(#B3)"><g transform="translate(4238.3,1629.3) scale(2.74) translate(0,50) scale(1,-1)">
<g filter="url(#f15)"><g transform="translate(-39,-35)"><rect x="39" y="35" width="50" height="50" fill="url(#N)"/></g></g>
</g><g transform="translate(4238.3,1629.3) scale(2.74)">
<circle cx="27.4" cy="27" r="4.5" fill="url(#gk)" opacity="0.45"/>
</g></g>
<rect x="4238.3" y="1629.3" width="137.2" height="137.2" fill="none" stroke="#d0152d" stroke-width="1.1"/>
<path d="M4238.3 1630.67h-4.8M4239.67 1766.5v4.8M4238.3 1685.55h-4.8M4294.55 1766.5v4.8M4238.3 1740.43h-4.8M4349.43 1766.5v4.8" stroke="#000" stroke-width="1.1"/>
<g font-size="13.9"><text x="4230.1" y="1635.67" text-anchor="end">0</text><text x="4239.67" y="1786" text-anchor="middle">0</text><text x="4230.1" y="1690.55" text-anchor="end">20</text><text x="4294.55" y="1786" text-anchor="middle">20</text><text x="4230.1" y="1745.43" text-anchor="end">40</text><text x="4349.43" y="1786" text-anchor="middle">40</text></g>
<text x="4306.9" y="1620.7" font-size="16.5" text-anchor="middle">845970</text>
<g filter="url(#B3)"><g transform="translate(2252.3,1824.75) scale(2.74) translate(50,50) scale(-1,-1)">
<g filter="url(#f29)"><g transform="translate(-46,-48)"><rect x="46" y="48" width="50" height="50" fill="url(#N)"/></g></g>
</g><g transform="translate(2252.3,1824.75) scale(2.74)">
<circle cx="26" cy="27.5" r="4.5" fill="url(#gk)" opacity="0.3"/>
</g></g>
<rect x="2252.3" y="1824.75" width="137.2" height="137.2" fill="none" stroke="#000" stroke-width="1.1"/>
<path d="M2252.3 1826.12h-4.8M2253.67 1961.95v4.8M2252.3 1881h-4.8M2308.55 1961.95v4.8M2252.3 1935.88h-4.8M2363.43 1961.95v4.8" stroke="#000" stroke-width="1.1"/>
<g font-size="13.9"><text x="2244.1" y="1831.12" text-anchor="end">0</text><text x="2253.67" y="1981.45" text-anchor="middle">0</text><text x="2244.1" y="1886" text-anchor="end">20</text><text x="2308.55" y="1981.45" text-anchor="middle">20</text><text x="2244.1" y="1940.88" text-anchor="end">40</text><text x="2363.43" y="1981.45" text-anchor="middle">40</text></g>
<text x="2320.9" y="1816.15" font-size="16.5" text-anchor="middle">845971</text>
<g filter="url(#B3)"><g transform="translate(2450.9,1824.75) scale(2.74)">
<g filter="url(#f33)"><g transform="translate(-3,-11)"><rect x="3" y="11" width="50" height="50" fill="url(#N)"/></g></g>
</g><g transform="translate(2450.9,1824.75) scale(2.74)">
<circle cx="26.7" cy="25.5" r="4.5" fill="url(#gk)" opacity="0.3"/>
</g></g>
<rect x="2450.9" y="1824.75" width="137.2" height="137.2" fill="none" stroke="#000" stroke-width="1.1"/>
<path d="M2450.9 1826.12h-4.8M2452.27 1961.95v4.8M2450.9 1881h-4.8M2507.15 1961.95v4.8M2450.9 1935.88h-4.8M2562.03 1961.95v4.8" stroke="#000" stroke-width="1.1"/>
<g font-size="13.9"><text x="2442.7" y="1831.12" text-anchor="end">0</text><text x="2452.27" y="1981.45" text-anchor="middle">0</text><text x="2442.7" y="1886" text-anchor="end">20</text><text x="2507.15" y="1981.45" text-anchor="middle">20</text><text x="2442.7" y="1940.88" text-anchor="end">40</text><text x="2562.03" y="1981.45" text-anchor="middle">40</text></g>
<text x="2519.5" y="1816.15" font-size="16.5" text-anchor="middle">845972</text>
<g filter="url(#B3)"><g transform="translate(2649.5,1824.75) scale(2.74) translate(50,0) scale(-1,1)">
<g filter="url(#f96)"><g transform="translate(-10,-24)"><rect x="10" y="24" width="50" height="50" fill="url(#N)"/></g></g>
</g><g transform="translate(2649.5,1824.75) scale(2.74)">
<circle cx="27.4" cy="26" r="4.5" fill="url(#gk)" opacity="0.3"/>
</g></g>
<rect x="2649.5" y="1824.75" width="137.2" height="137.2" fill="none" stroke="#000" stroke-width="1.1"/>
<path d="M2649.5 1826.12h-4.8M2650.87 1961.95v4.8M2649.5 1881h-4.8M2705.75 1961.95v4.8M2649.5 1935.88h-4.8M2760.63 1961.95v4.8" stroke="#000" stroke-width="1.1"/>
<g font-size="13.9"><text x="2641.3" y="1831.12" text-anchor="end">0</text><text x="2650.87" y="1981.45" text-anchor="middle">0</text><text x="2641.3" y="1886" text-anchor="end">20</text><text x="2705.75" y="1981.45" text-anchor="middle">20</text><text x="2641.3" y="1940.88" text-anchor="end">40</text><text x="2760.63" y="1981.45" text-anchor="middle">40</text></g>
<text x="2718.1" y="1816.15" font-size="16.5" text-anchor="middle">845973</text>
<g filter="url(#B3)"><g transform="translate(2848.1,1824.75) scale(2.74) translate(0,50) scale(1,-1)">
<g filter="url(#f15)"><g transform="translate(-17,-37)"><rect x="17" y="37" width="50" height="50" fill="url(#N)"/></g></g>
</g><g transform="translate(2848.1,1824.75) scale(2.74)">
<circle cx="26" cy="26.5" r="4.5" fill="url(#gk)" opacity="0.3"/>
</g></g>
<rect x="2848.1" y="1824.75" width="137.2" height="137.2" fill="none" stroke="#000" stroke-width="1.1"/>
<path d="M2848.1 1826.12h-4.8M2849.47 1961.95v4.8M2848.1 1881h-4.8M2904.35 1961.95v4.8M2848.1 1935.88h-4.8M2959.23 1961.95v4.8" stroke="#000" stroke-width="1.1"/>
<g font-size="13.9"><text x="2839.9" y="1831.12" text-anchor="end">0</text><text x="2849.47" y="1981.45" text-anchor="middle">0</text><text x="2839.9" y="1886" text-anchor="end">20</text><text x="2904.35" y="1981.45" text-anchor="middle">20</text><text x="2839.9" y="1940.88" text-anchor="end">40</text><text x="2959.23" y="1981.45" text-anchor="middle">40</text></g>
<text x="2916.7" y="1816.15" font-size="16.5" text-anchor="middle">845974</text>
<g filter="url(#B3)"><g transform="translate(3046.7,1824.75) scale(2.74) translate(50,50) scale(-1,-1)">
<g filter="url(#f97)"><g transform="translate(-24,0)"><rect x="24" y="0" width="50" height="50" fill="url(#N)"/></g></g>
</g><g transform="translate(3046.7,1824.75) scale(2.74)">
<circle cx="26.7" cy="27" r="4.5" fill="url(#gk)" opacity="0.3"/>
</g></g>
<rect x="3046.7" y="1824.75" width="137.2" height="137.2" fill="none" stroke="#000" stroke-width="1.1"/>
<path d="M3046.7 1826.12h-4.8M3048.07 1961.95v4.8M3046.7 1881h-4.8M3102.95 1961.95v4.8M3046.7 1935.88h-4.8M3157.83 1961.95v4.8" stroke="#000" stroke-width="1.1"/>
<g font-size="13.9"><text x="3038.5" y="1831.12" text-anchor="end">0</text><text x="3048.07" y="1981.45" text-anchor="middle">0</text><text x="3038.5" y="1886" text-anchor="end">20</text><text x="3102.95" y="1981.45" text-anchor="middle">20</text><text x="3038.5" y="1940.88" text-anchor="end">40</text><text x="3157.83" y="1981.45" text-anchor="middle">40</text></g>
<text x="3115.3" y="1816.15" font-size="16.5" text-anchor="middle">845975</text>
<text x="3300" y="51.8" font-size="16.5" text-anchor="middle">cluster 290</text>
</svg></body></html>
